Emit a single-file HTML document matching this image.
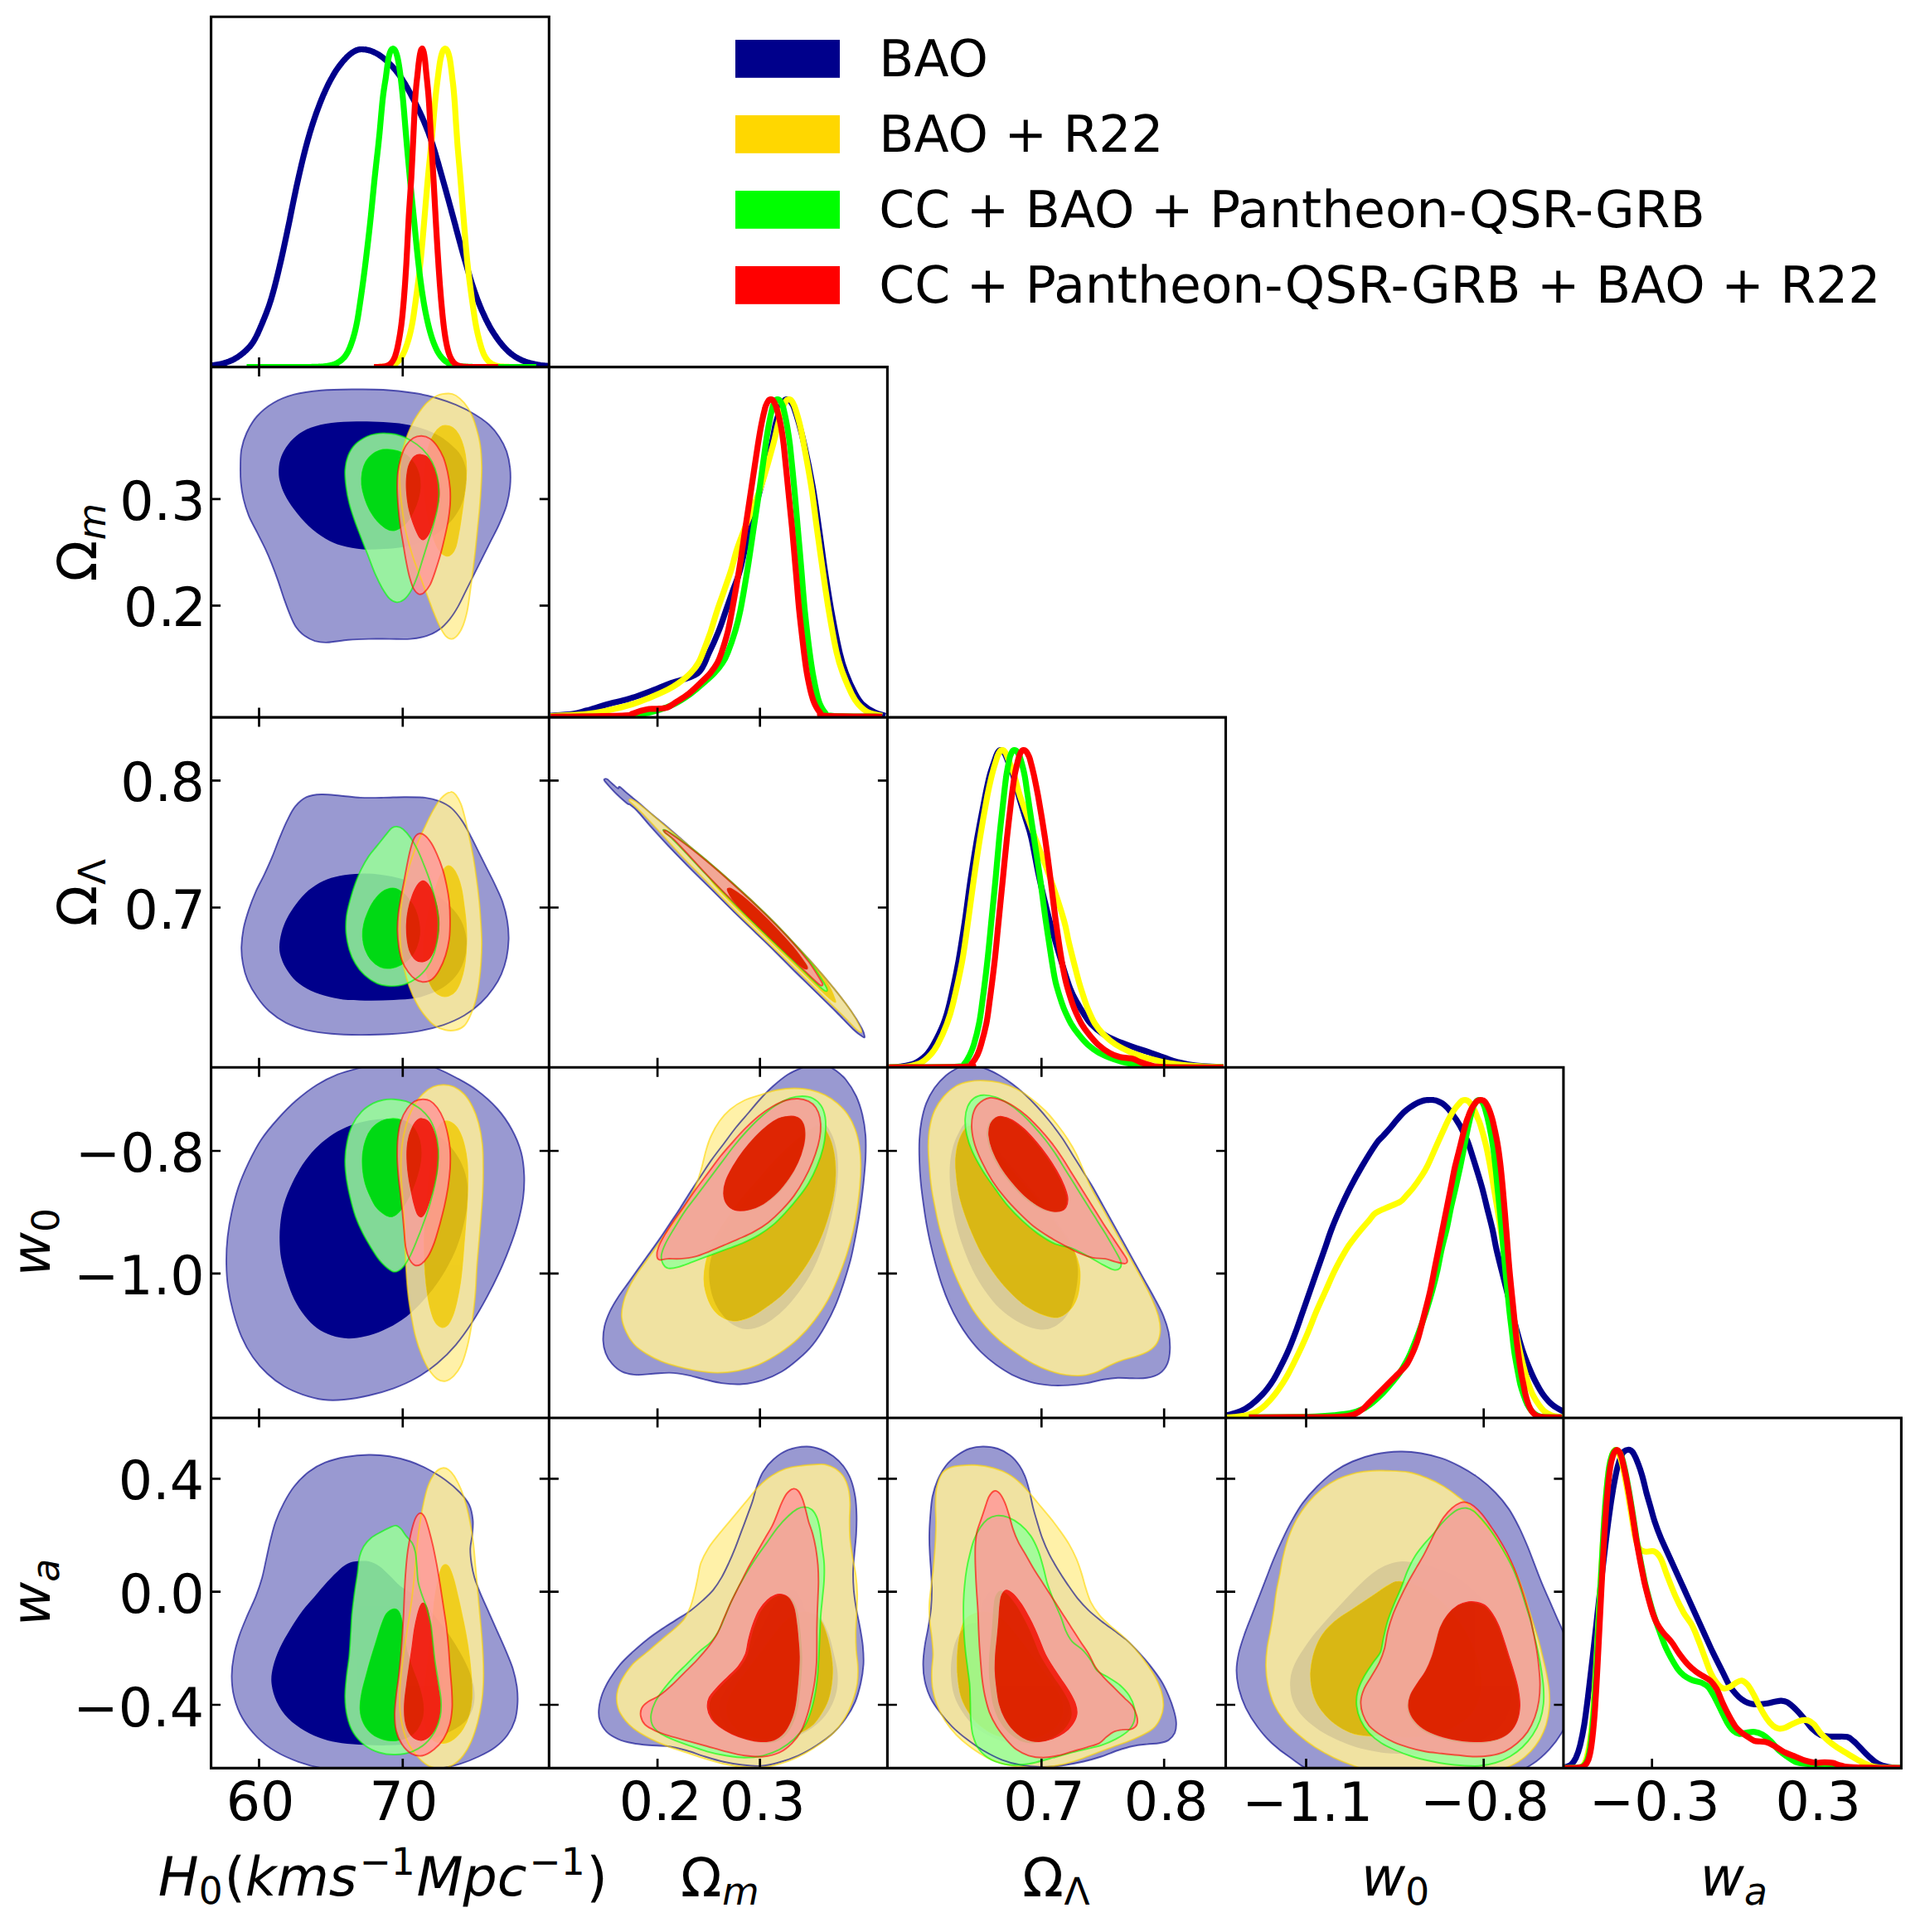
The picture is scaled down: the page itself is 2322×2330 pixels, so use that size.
<!DOCTYPE html>
<html lang="en"><head><meta charset="utf-8"><title>Triangle plot</title>
<style>html,body{margin:0;padding:0;background:#fff}svg{display:block}text{font-family:"DejaVu Sans","Liberation Sans",sans-serif;fill:#000;text-rendering:geometricPrecision}.it{font-style:oblique}</style></head><body>
<svg width="2322" height="2330" viewBox="0 0 2322 2330">
<rect width="2322" height="2330" fill="#fff"/>
<defs>
<clipPath id="cp00"><rect x="254.6" y="20.3" width="407.7" height="422.3"/></clipPath>
<clipPath id="cp10"><rect x="254.6" y="442.6" width="407.7" height="422.5"/></clipPath>
<clipPath id="cp11"><rect x="662.3" y="442.6" width="408.1" height="422.5"/></clipPath>
<clipPath id="cp20"><rect x="254.6" y="865.1" width="407.7" height="422.2"/></clipPath>
<clipPath id="cp21"><rect x="662.3" y="865.1" width="408.1" height="422.2"/></clipPath>
<clipPath id="cp22"><rect x="1070.4" y="865.1" width="408.1" height="422.2"/></clipPath>
<clipPath id="cp30"><rect x="254.6" y="1287.3" width="407.7" height="422.7"/></clipPath>
<clipPath id="cp31"><rect x="662.3" y="1287.3" width="408.1" height="422.7"/></clipPath>
<clipPath id="cp32"><rect x="1070.4" y="1287.3" width="408.1" height="422.7"/></clipPath>
<clipPath id="cp33"><rect x="1478.5" y="1287.3" width="407.4" height="422.7"/></clipPath>
<clipPath id="cp40"><rect x="254.6" y="1710" width="407.7" height="422.4"/></clipPath>
<clipPath id="cp41"><rect x="662.3" y="1710" width="408.1" height="422.4"/></clipPath>
<clipPath id="cp42"><rect x="1070.4" y="1710" width="408.1" height="422.4"/></clipPath>
<clipPath id="cp43"><rect x="1478.5" y="1710" width="407.4" height="422.4"/></clipPath>
<clipPath id="cp44"><rect x="1885.9" y="1710" width="407.5" height="422.4"/></clipPath>
</defs>
<g clip-path="url(#cp00)">
<path d="M252.5 441.1C252.7 441.1 253.5 441 254 441C254.5 440.9 255 440.8 255.5 440.8C256 440.7 256.5 440.7 257 440.6C257.5 440.5 258 440.5 258.5 440.4C259 440.3 259.5 440.2 260 440.2C260.5 440.1 261 440 261.5 439.9C262 439.8 262.5 439.7 263 439.7C263.5 439.6 264 439.5 264.5 439.4C265 439.3 265.5 439.1 266 439C266.5 438.9 267 438.8 267.5 438.7C268 438.6 268.5 438.4 269 438.3C269.5 438.2 270 438 270.5 437.9C271 437.8 271.5 437.6 272 437.4C272.5 437.3 273 437.1 273.5 437C274 436.8 274.5 436.6 275 436.4C275.5 436.2 276 436.1 276.5 435.9C277 435.7 277.5 435.5 278 435.2C278.5 435 279 434.8 279.5 434.6C280 434.3 280.5 434.1 281 433.8C281.5 433.6 282 433.3 282.5 433.1C283 432.8 283.5 432.5 284 432.2C284.5 431.9 285 431.6 285.5 431.3C286 431 286.5 430.7 287 430.4C287.5 430 288 429.7 288.5 429.3C289 429 289.5 428.6 290 428.3C290.5 427.9 291 427.5 291.5 427.1C292 426.7 292.5 426.3 293 425.9C293.5 425.5 294 425.1 294.5 424.6C295 424.2 295.5 423.8 296 423.3C296.5 422.9 297 422.4 297.5 421.9C298 421.4 298.5 421 299 420.4C299.5 419.9 300 419.4 300.5 418.8C301 418.3 301.5 417.7 302 417.1C302.5 416.5 303 415.8 303.5 415.1C304 414.5 304.5 413.7 305 413C305.5 412.2 306 411.4 306.5 410.6C307 409.7 307.5 408.8 308 407.9C308.5 407 309 406 309.5 405C310 404 310.5 403 311 401.9C311.5 400.8 312 399.7 312.5 398.6C313 397.5 313.5 396.3 314 395.1C314.5 394 315 392.8 315.5 391.6C316 390.4 316.5 389.2 317 388C317.5 386.8 318 385.6 318.5 384.4C319 383.2 319.5 381.9 320 380.7C320.5 379.4 321 378.2 321.5 376.9C322 375.5 322.5 374.2 323 372.8C323.5 371.5 324 370.1 324.5 368.6C325 367.1 325.5 365.6 326 364C326.5 362.5 327 360.8 327.5 359.2C328 357.5 328.5 355.8 329 354C329.5 352.2 330 350.4 330.5 348.6C331 346.7 331.5 344.8 332 342.9C332.5 340.9 333 339 333.5 337C334 334.9 334.5 332.9 335 330.8C335.5 328.8 336 326.6 336.5 324.5C337 322.4 337.5 320.3 338 318.1C338.5 315.9 339 313.8 339.5 311.6C340 309.4 340.5 307.1 341 304.9C341.5 302.6 342 300.3 342.5 298C343 295.7 343.5 293.4 344 291C344.5 288.7 345 286.3 345.5 284C346 281.6 346.5 279.2 347 276.8C347.5 274.4 348 272 348.5 269.7C349 267.3 349.5 264.9 350 262.5C350.4 260.1 350.9 257.7 351.4 255.2C351.9 252.8 352.4 250.4 352.9 247.9C353.4 245.5 353.9 243.1 354.4 240.6C354.9 238.2 355.4 235.8 355.9 233.4C356.4 231 356.9 228.6 357.4 226.3C357.9 224 358.4 221.7 358.9 219.4C359.4 217.1 359.9 214.9 360.4 212.7C360.9 210.5 361.4 208.3 361.9 206.2C362.4 204 362.9 201.9 363.4 199.7C363.9 197.6 364.4 195.5 364.9 193.5C365.4 191.4 365.9 189.4 366.4 187.4C366.9 185.4 367.4 183.4 367.9 181.5C368.4 179.5 368.9 177.6 369.4 175.8C369.9 173.9 370.4 172 370.9 170.2C371.4 168.4 371.9 166.7 372.4 164.9C372.9 163.2 373.4 161.5 373.9 159.8C374.4 158.1 374.9 156.5 375.4 154.9C375.9 153.3 376.4 151.7 376.9 150.1C377.4 148.6 377.9 147.1 378.4 145.6C378.9 144.1 379.4 142.6 379.9 141.1C380.4 139.7 380.9 138.2 381.4 136.8C381.9 135.4 382.4 134.1 382.9 132.7C383.4 131.3 383.9 130 384.4 128.7C384.9 127.4 385.4 126.1 385.9 124.8C386.4 123.5 386.9 122.3 387.4 121C387.9 119.8 388.4 118.5 388.9 117.3C389.4 116.1 389.9 114.9 390.4 113.8C390.9 112.6 391.4 111.5 391.9 110.4C392.4 109.2 392.9 108.1 393.4 107.1C393.9 106 394.4 105 394.9 103.9C395.4 102.9 395.9 101.9 396.4 100.9C396.9 99.9 397.4 99 397.9 98C398.4 97.1 398.9 96.1 399.4 95.2C399.9 94.3 400.4 93.4 400.9 92.6C401.4 91.7 401.9 90.8 402.4 90C402.9 89.1 403.4 88.3 403.9 87.5C404.4 86.7 404.9 85.9 405.4 85.2C405.9 84.4 406.4 83.7 406.9 82.9C407.4 82.2 407.9 81.5 408.4 80.8C408.9 80.1 409.4 79.5 409.9 78.8C410.4 78.1 410.9 77.5 411.4 76.9C411.9 76.3 412.4 75.6 412.9 75C413.4 74.4 413.9 73.8 414.4 73.3C414.9 72.7 415.4 72.1 415.9 71.6C416.4 71 416.9 70.5 417.4 70C417.9 69.4 418.4 68.9 418.9 68.4C419.4 68 419.9 67.5 420.4 67C420.9 66.6 421.4 66.1 421.9 65.7C422.4 65.3 422.9 64.9 423.4 64.5C423.9 64.1 424.4 63.8 424.9 63.4C425.4 63.1 425.9 62.8 426.4 62.5C426.9 62.2 427.4 61.9 427.9 61.6C428.4 61.4 428.9 61.2 429.4 60.9C429.9 60.7 430.4 60.5 430.9 60.4C431.4 60.2 431.9 60.1 432.4 59.9C432.9 59.8 433.4 59.7 433.9 59.6C434.4 59.6 435 59.5 435.4 59.5C435.8 59.5 435.9 59.5 436.2 59.5C436.4 59.5 436.5 59.5 436.9 59.5C437.3 59.5 437.9 59.5 438.4 59.6C438.9 59.6 439.4 59.6 439.9 59.7C440.4 59.7 440.9 59.8 441.4 59.9C441.9 60 442.4 60.1 442.9 60.2C443.4 60.3 443.9 60.4 444.4 60.5C444.9 60.6 445.4 60.8 445.9 60.9C446.4 61.1 446.9 61.2 447.4 61.4C447.9 61.6 448.4 61.8 448.9 62C449.4 62.1 449.9 62.4 450.4 62.6C450.9 62.8 451.4 63 451.9 63.3C452.4 63.5 452.9 63.8 453.4 64C453.9 64.3 454.4 64.6 454.9 64.8C455.4 65.1 455.9 65.4 456.4 65.7C456.9 66 457.4 66.4 457.9 66.7C458.4 67 458.9 67.4 459.4 67.7C459.9 68.1 460.4 68.4 460.9 68.8C461.4 69.2 461.9 69.6 462.4 70C462.9 70.4 463.4 70.8 463.9 71.2C464.4 71.6 464.9 72 465.4 72.5C465.9 72.9 466.4 73.4 466.9 73.8C467.4 74.3 467.9 74.7 468.4 75.2C468.9 75.7 469.4 76.2 469.9 76.7C470.4 77.2 470.9 77.7 471.4 78.2C471.9 78.7 472.4 79.3 472.9 79.8C473.4 80.4 473.9 80.9 474.4 81.5C474.9 82.1 475.4 82.6 475.9 83.2C476.4 83.8 476.9 84.4 477.4 85C477.9 85.7 478.4 86.3 478.9 87C479.4 87.6 479.9 88.3 480.4 88.9C480.9 89.6 481.4 90.3 481.9 91C482.4 91.7 482.9 92.4 483.4 93.2C483.9 93.9 484.4 94.7 484.9 95.4C485.4 96.2 485.9 97 486.4 97.8C486.9 98.6 487.4 99.4 487.9 100.2C488.4 101 488.9 101.9 489.4 102.7C489.9 103.6 490.4 104.4 490.9 105.3C491.4 106.2 491.9 107.1 492.4 108C492.9 108.9 493.4 109.8 493.9 110.7C494.4 111.6 494.9 112.6 495.4 113.5C495.9 114.5 496.4 115.4 496.9 116.4C497.4 117.3 497.9 118.3 498.4 119.3C498.9 120.2 499.4 121.2 499.9 122.2C500.4 123.2 500.9 124.2 501.4 125.2C501.9 126.2 502.4 127.2 502.9 128.2C503.4 129.2 503.9 130.2 504.4 131.2C504.9 132.2 505.4 133.3 505.9 134.3C506.4 135.4 506.9 136.5 507.4 137.5C507.9 138.6 508.4 139.7 508.9 140.8C509.4 141.9 509.9 143 510.4 144.2C510.9 145.3 511.4 146.5 511.9 147.7C512.4 148.8 512.9 150 513.4 151.3C513.9 152.5 514.4 153.7 514.9 155C515.4 156.2 515.9 157.5 516.4 158.8C516.9 160.2 517.4 161.5 517.9 162.9C518.4 164.2 518.9 165.6 519.4 167C519.9 168.5 520.4 170 520.9 171.5C521.4 173 521.9 174.5 522.4 176.1C522.9 177.7 523.4 179.3 523.9 180.9C524.4 182.6 524.9 184.3 525.4 185.9C525.9 187.6 526.4 189.3 526.9 191.1C527.4 192.8 527.9 194.5 528.4 196.3C528.9 198 529.4 199.8 529.9 201.6C530.4 203.4 530.9 205.1 531.4 206.9C531.9 208.7 532.4 210.5 532.9 212.2C533.4 214 533.9 215.8 534.4 217.6C534.9 219.3 535.4 221.1 535.9 222.9C536.4 224.7 536.9 226.5 537.4 228.3C537.9 230.1 538.4 231.9 538.9 233.7C539.4 235.5 539.9 237.3 540.4 239.2C540.9 241 541.4 242.8 541.9 244.6C542.4 246.5 542.9 248.3 543.4 250.1C543.9 252 544.4 253.8 544.9 255.7C545.4 257.5 545.9 259.3 546.4 261.2C546.9 263 547.4 264.9 547.9 266.7C548.4 268.6 548.9 270.4 549.4 272.3C549.9 274.1 550.3 276 550.8 277.8C551.3 279.7 551.8 281.6 552.3 283.4C552.8 285.3 553.3 287.1 553.8 288.9C554.3 290.8 554.8 292.6 555.3 294.4C555.8 296.3 556.3 298.1 556.8 299.9C557.3 301.7 557.8 303.5 558.3 305.2C558.8 307 559.3 308.8 559.8 310.5C560.3 312.3 560.8 314 561.3 315.7C561.8 317.4 562.3 319.1 562.8 320.8C563.3 322.5 563.8 324.2 564.3 325.9C564.8 327.6 565.3 329.2 565.8 330.9C566.3 332.5 566.8 334.1 567.3 335.7C567.8 337.3 568.3 338.9 568.8 340.5C569.3 342.1 569.8 343.6 570.3 345.1C570.8 346.7 571.3 348.2 571.8 349.6C572.3 351.1 572.8 352.6 573.3 354C573.8 355.4 574.3 356.8 574.8 358.2C575.3 359.6 575.8 360.9 576.3 362.2C576.8 363.5 577.3 364.8 577.8 366.1C578.3 367.4 578.8 368.6 579.3 369.8C579.8 371 580.3 372.2 580.8 373.4C581.3 374.5 581.8 375.7 582.3 376.8C582.8 377.9 583.3 379 583.8 380.1C584.3 381.2 584.8 382.3 585.3 383.3C585.8 384.3 586.3 385.4 586.8 386.4C587.3 387.4 587.8 388.4 588.3 389.3C588.8 390.3 589.3 391.2 589.8 392.2C590.3 393.1 590.8 394 591.3 394.9C591.8 395.8 592.3 396.7 592.8 397.5C593.3 398.4 593.8 399.2 594.3 400C594.8 400.8 595.3 401.6 595.8 402.4C596.3 403.2 596.8 403.9 597.3 404.7C597.8 405.4 598.3 406.1 598.8 406.9C599.3 407.6 599.8 408.3 600.3 409C600.8 409.7 601.3 410.3 601.8 411C602.3 411.7 602.8 412.3 603.3 412.9C603.8 413.6 604.3 414.2 604.8 414.8C605.3 415.4 605.8 416 606.3 416.6C606.8 417.2 607.3 417.8 607.8 418.3C608.3 418.9 608.8 419.4 609.3 420C609.8 420.5 610.3 421 610.8 421.5C611.3 422 611.8 422.5 612.3 423C612.8 423.5 613.3 423.9 613.8 424.4C614.3 424.8 614.8 425.3 615.3 425.7C615.8 426.1 616.3 426.5 616.8 426.9C617.3 427.3 617.8 427.7 618.3 428C618.8 428.4 619.3 428.8 619.8 429.1C620.3 429.4 620.8 429.8 621.3 430.1C621.8 430.4 622.3 430.7 622.8 431C623.3 431.3 623.8 431.6 624.3 431.9C624.8 432.2 625.3 432.4 625.8 432.7C626.3 432.9 626.8 433.2 627.3 433.4C627.8 433.7 628.3 433.9 628.8 434.1C629.3 434.4 629.8 434.6 630.3 434.8C630.8 435 631.3 435.2 631.8 435.4C632.3 435.6 632.8 435.8 633.3 436C633.8 436.1 634.3 436.3 634.8 436.5C635.3 436.7 635.8 436.8 636.3 437C636.8 437.1 637.3 437.3 637.8 437.4C638.3 437.6 638.8 437.7 639.3 437.9C639.8 438 640.3 438.1 640.8 438.2C641.3 438.4 641.8 438.5 642.3 438.6C642.8 438.7 643.3 438.8 643.8 438.9C644.3 439.1 644.8 439.2 645.3 439.3C645.8 439.4 646.3 439.4 646.8 439.5C647.3 439.6 647.8 439.7 648.3 439.8C648.8 439.9 649.3 440 649.8 440C650.3 440.1 650.8 440.2 651.3 440.3C651.8 440.3 652.3 440.4 652.8 440.5C653.3 440.5 653.8 440.6 654.3 440.7C654.8 440.7 655.3 440.8 655.8 440.8C656.3 440.9 656.8 440.9 657.3 441C657.8 441 658.3 441.1 658.8 441.1C659.3 441.2 659.8 441.2 660.3 441.3C660.8 441.3 661.3 441.3 661.8 441.4C662.3 441.4 662.8 441.5 663.3 441.5C663.8 441.5 664.5 441.6 664.8 441.6" fill="none" stroke="#00008B" stroke-width="7.2" stroke-linejoin="round" stroke-linecap="butt"/>
<path d="M451.1 442.5C451.4 442.5 452.1 442.5 452.6 442.5C453.1 442.5 453.6 442.5 454.1 442.5C454.6 442.5 455.1 442.5 455.6 442.5C456.1 442.5 456.6 442.4 457.1 442.4C457.6 442.4 458.1 442.4 458.6 442.4C459.1 442.4 459.6 442.4 460.1 442.3C460.6 442.3 461.1 442.3 461.6 442.3C462.1 442.2 462.6 442.2 463.1 442.2C463.6 442.1 464.1 442.1 464.6 442.1C465.1 442 465.6 442 466.1 441.9C466.6 441.8 467.1 441.8 467.6 441.7C468.1 441.6 468.6 441.5 469.1 441.4C469.6 441.3 470.1 441.2 470.6 441.1C471.1 441 471.6 440.9 472.1 440.7C472.6 440.5 473.1 440.4 473.6 440.2C474.1 440 474.6 439.8 475.1 439.5C475.6 439.3 476.1 439 476.6 438.7C477.1 438.4 477.6 438.1 478.1 437.7C478.6 437.3 479.1 436.9 479.6 436.4C480.1 436 480.6 435.5 481.1 434.9C481.6 434.3 482.1 433.7 482.6 433.1C483.1 432.4 483.6 431.7 484.1 430.9C484.6 430 485.1 429.2 485.6 428.3C486.1 427.3 486.6 426.3 487.1 425.2C487.6 424.2 488.1 423 488.6 421.8C489.1 420.5 489.6 419.2 490.1 417.8C490.6 416.3 491.1 414.8 491.6 413.2C492.1 411.6 492.6 410 493.1 408.2C493.6 406.4 494.1 404.6 494.6 402.6C495.1 400.5 495.6 398.4 496.1 396.1C496.6 393.7 497.1 391.3 497.6 388.4C498.1 385.6 498.6 382.4 499.1 379.1C499.6 375.7 500.1 372 500.6 368.4C501.1 364.9 501.6 361.3 502.1 357.6C502.6 353.9 503.1 350.3 503.6 346.5C504.1 342.7 504.6 338.9 505.1 334.8C505.6 330.7 506.1 326.5 506.6 321.9C507.1 317.3 507.6 312.5 508.1 307.3C508.6 302.2 509.1 296.6 509.6 291C510.1 285.4 510.6 279.4 511.1 273.6C511.6 267.8 512.1 262 512.6 256C513.1 250.1 513.6 244 514.1 238.1C514.6 232.1 515.1 226.1 515.6 220.5C516.1 214.9 516.6 209.5 517.1 204.4C517.6 199.3 518.1 194.6 518.6 189.8C519.1 184.9 519.6 180.3 520.1 175.3C520.6 170.2 521.1 165 521.6 159.4C522.1 153.9 522.6 147.8 523.1 142.1C523.6 136.4 524.1 130.4 524.6 125.1C525.1 119.8 525.6 114.9 526.1 110.3C526.6 105.8 527.1 101.8 527.6 97.8C528.1 93.7 528.6 89.8 529.1 86.1C529.6 82.4 530.1 78.5 530.6 75.4C531.1 72.4 531.6 69.9 532.1 67.8C532.6 65.7 533.1 64 533.6 62.7C534.1 61.4 534.6 60.5 535.1 59.8C535.6 59.1 536.3 58.9 536.6 58.7C536.9 58.6 536.6 58.7 536.9 58.7C537.1 58.8 537.6 58.7 538.1 59.1C538.6 59.5 539.1 60 539.6 61C540.1 62 540.6 63.2 541.1 64.9C541.6 66.6 542.1 68.5 542.6 71.2C543.1 74 543.6 77.7 544.1 81.6C544.6 85.4 545.1 89.9 545.6 94.1C546.1 98.4 546.6 101.9 547.1 107.1C547.6 112.2 548.1 117.9 548.6 124.9C549.1 132 549.6 141.7 550.1 149.4C550.6 157.2 551.1 164.9 551.6 171.5C552.1 178.2 552.6 183.5 553.1 189.3C553.6 195 554.1 200.2 554.6 206C555.1 211.8 555.6 218 556.1 224.2C556.6 230.4 557.1 236.8 557.6 243C558.1 249.3 558.6 255.6 559.1 261.8C559.6 268 560.1 274.3 560.6 280.4C561.1 286.5 561.6 292.8 562.1 298.6C562.6 304.3 563.1 309.8 563.6 314.9C564.1 319.9 564.6 324.4 565.1 328.7C565.6 333.1 566.1 337 566.6 340.9C567.1 344.8 567.6 348.5 568.1 352.2C568.6 355.9 569.1 359.4 569.6 363C570.1 366.6 570.6 370.3 571.1 373.8C571.6 377.2 572.1 380.7 572.6 383.8C573.1 387 573.6 389.9 574.1 392.5C574.6 395.2 575.1 397.6 575.6 399.9C576.1 402.2 576.6 404.3 577.1 406.3C577.6 408.4 578.1 410.3 578.6 412.1C579.1 414 579.6 415.7 580.1 417.4C580.6 419.1 581.1 420.7 581.6 422.2C582.1 423.6 582.6 425 583.1 426.2C583.6 427.4 584.1 428.3 584.6 429.3C585.1 430.2 585.6 431 586.1 431.8C586.6 432.5 587.1 433.2 587.6 433.8C588.1 434.4 588.6 435 589.1 435.5C589.6 436 590.1 436.5 590.6 436.9C591.1 437.3 591.6 437.7 592.1 438C592.6 438.4 593.1 438.7 593.6 439C594.1 439.3 594.6 439.5 595.1 439.7C595.6 440 596.1 440.2 596.6 440.4C597.1 440.5 597.6 440.7 598.1 440.8C598.6 441 599.1 441.1 599.6 441.2C600.1 441.3 600.6 441.4 601.1 441.5C601.6 441.6 602.1 441.7 602.6 441.8C603.1 441.8 603.6 441.9 604.1 442C604.6 442 605.1 442.1 605.6 442.1C606.1 442.1 606.6 442.2 607.1 442.2C607.6 442.2 608.1 442.3 608.6 442.3C609.1 442.3 609.6 442.3 610.1 442.4C610.6 442.4 611.1 442.4 611.6 442.4C612.1 442.4 612.6 442.4 613.1 442.4C613.6 442.5 614.1 442.5 614.6 442.5C615.1 442.5 615.6 442.5 616.1 442.5C616.6 442.5 617.1 442.5 617.6 442.5C618.1 442.5 618.6 442.5 619.1 442.5C619.6 442.5 620.1 442.5 620.6 442.5C621.1 442.5 621.6 442.5 622.1 442.5C622.6 442.5 623.3 442.5 623.6 442.5" fill="none" stroke="#FFFF00" stroke-width="7.2" stroke-linejoin="round" stroke-linecap="butt"/>
<path d="M297.5 442.5C297.7 442.5 298.5 442.5 299 442.5C299.5 442.5 300 442.5 300.5 442.5C301 442.5 301.5 442.5 302 442.5C302.5 442.5 303 442.5 303.5 442.5C304 442.5 304.5 442.5 305 442.5C305.5 442.5 306 442.5 306.5 442.5C307 442.5 307.5 442.5 308 442.5C308.5 442.5 309 442.5 309.5 442.5C310 442.5 310.5 442.5 311 442.5C311.5 442.5 312 442.5 312.5 442.5C313 442.5 313.5 442.5 314 442.5C314.5 442.5 315 442.5 315.5 442.5C316 442.5 316.5 442.5 317 442.5C317.5 442.5 318 442.5 318.5 442.5C319 442.5 319.5 442.5 320 442.5C320.5 442.5 321 442.5 321.5 442.5C322 442.5 322.5 442.5 323 442.5C323.5 442.5 324 442.5 324.5 442.5C325 442.5 325.5 442.5 326 442.5C326.5 442.5 327 442.5 327.5 442.5C328 442.5 328.5 442.5 329 442.5C329.5 442.5 330 442.5 330.5 442.5C331 442.5 331.5 442.5 332 442.5C332.5 442.5 333 442.5 333.5 442.5C334 442.5 334.5 442.5 335 442.5C335.5 442.5 336 442.5 336.5 442.5C337 442.5 337.5 442.5 338 442.5C338.5 442.5 339 442.5 339.5 442.5C340 442.5 340.5 442.5 341 442.5C341.5 442.5 342 442.5 342.5 442.5C343 442.5 343.5 442.5 344 442.5C344.5 442.5 345 442.5 345.5 442.5C346 442.5 346.5 442.5 347 442.5C347.5 442.5 348 442.5 348.5 442.5C349 442.5 349.5 442.5 350 442.5C350.4 442.5 350.9 442.5 351.4 442.5C351.9 442.5 352.4 442.5 352.9 442.5C353.4 442.5 353.9 442.5 354.4 442.5C354.9 442.5 355.4 442.5 355.9 442.5C356.4 442.5 356.9 442.5 357.4 442.5C357.9 442.5 358.4 442.5 358.9 442.5C359.4 442.5 359.9 442.5 360.4 442.5C360.9 442.5 361.4 442.5 361.9 442.5C362.4 442.5 362.9 442.5 363.4 442.5C363.9 442.5 364.4 442.5 364.9 442.5C365.4 442.5 365.9 442.5 366.4 442.5C366.9 442.5 367.4 442.5 367.9 442.5C368.4 442.5 368.9 442.5 369.4 442.5C369.9 442.5 370.4 442.5 370.9 442.5C371.4 442.5 371.9 442.5 372.4 442.5C372.9 442.5 373.4 442.5 373.9 442.5C374.4 442.5 374.9 442.5 375.4 442.5C375.9 442.5 376.4 442.4 376.9 442.4C377.4 442.4 377.9 442.4 378.4 442.4C378.9 442.4 379.4 442.4 379.9 442.4C380.4 442.4 380.9 442.4 381.4 442.3C381.9 442.3 382.4 442.3 382.9 442.3C383.4 442.3 383.9 442.3 384.4 442.2C384.9 442.2 385.4 442.2 385.9 442.2C386.4 442.1 386.9 442.1 387.4 442.1C387.9 442.1 388.4 442 388.9 442C389.4 441.9 389.9 441.9 390.4 441.9C390.9 441.8 391.4 441.8 391.9 441.7C392.4 441.7 392.9 441.6 393.4 441.5C393.9 441.5 394.4 441.4 394.9 441.3C395.4 441.3 395.9 441.2 396.4 441.1C396.9 441 397.4 440.9 397.9 440.8C398.4 440.7 398.9 440.6 399.4 440.4C399.9 440.3 400.4 440.2 400.9 440C401.4 439.9 401.9 439.7 402.4 439.5C402.9 439.4 403.4 439.2 403.9 439C404.4 438.8 404.9 438.6 405.4 438.3C405.9 438.1 406.4 437.8 406.9 437.6C407.4 437.3 407.9 437 408.4 436.7C408.9 436.4 409.4 436.1 409.9 435.7C410.4 435.4 410.9 435 411.4 434.6C411.9 434.2 412.4 433.8 412.9 433.3C413.4 432.8 413.9 432.3 414.4 431.8C414.9 431.3 415.4 430.7 415.9 430.1C416.4 429.5 416.9 428.8 417.4 428C417.9 427.3 418.4 426.5 418.9 425.6C419.4 424.8 419.9 423.8 420.4 422.7C420.9 421.7 421.4 420.6 421.9 419.4C422.4 418.1 422.9 416.9 423.4 415.5C423.9 414.1 424.4 412.7 424.9 411.2C425.4 409.6 425.9 408.1 426.4 406.3C426.9 404.6 427.4 402.8 427.9 400.9C428.4 398.9 428.9 396.9 429.4 394.6C429.9 392.3 430.4 389.9 430.9 387.2C431.4 384.5 431.9 381.4 432.4 378.2C432.9 375 433.4 371.6 433.9 368.2C434.4 364.8 434.9 361.5 435.4 358C435.9 354.6 436.4 351.1 436.9 347.5C437.4 343.9 437.9 340.2 438.4 336.5C438.9 332.7 439.4 328.9 439.9 324.9C440.4 321 440.9 316.9 441.4 312.8C441.9 308.7 442.4 304.5 442.9 300.3C443.4 296.1 443.9 291.8 444.4 287.5C444.9 283.1 445.4 278.7 445.9 274.2C446.4 269.6 446.9 264.9 447.4 260.1C447.9 255.2 448.4 250.2 448.9 245.1C449.4 240.1 449.9 234.9 450.4 229.8C450.9 224.8 451.4 219.7 451.9 214.9C452.4 210.1 452.9 205.6 453.4 201.1C453.9 196.6 454.4 192.4 454.9 188C455.4 183.5 455.9 179.2 456.4 174.5C456.9 169.8 457.4 165 457.9 159.8C458.4 154.5 458.9 148.5 459.4 143C459.9 137.5 460.4 131.6 460.9 126.6C461.4 121.6 461.9 116.9 462.4 113C462.9 109 463.4 106.1 463.9 102.8C464.4 99.6 464.9 96.9 465.4 93.4C465.9 89.9 466.4 85.7 466.9 82C467.4 78.3 467.9 74.1 468.4 71.3C468.9 68.4 469.4 66.6 469.9 64.9C470.4 63.2 470.9 62 471.4 61C471.9 60 472.4 59.5 472.9 59.1C473.3 58.7 473.9 58.8 474.1 58.7C474.4 58.7 474.1 58.6 474.4 58.7C474.7 58.9 475.4 59.1 475.9 59.7C476.4 60.3 476.9 61.2 477.4 62.4C477.9 63.6 478.4 65.1 478.9 67C479.4 68.8 479.9 71 480.4 73.6C480.9 76.2 481.4 79.3 481.9 82.7C482.4 86 482.9 89.8 483.4 94C483.9 98.1 484.4 102.6 484.9 107.5C485.4 112.3 485.9 117.5 486.4 123C486.9 128.5 487.4 134.7 487.9 140.7C488.4 146.7 488.9 153 489.4 159C489.9 165 490.4 170.8 490.9 176.5C491.4 182.2 491.9 187.7 492.4 193.2C492.9 198.8 493.4 204.2 493.9 209.5C494.4 214.9 494.9 220.2 495.4 225.3C495.9 230.4 496.4 235.3 496.9 240.2C497.4 245.1 497.9 249.9 498.4 254.9C498.9 259.8 499.4 264.9 499.9 270C500.4 275.1 500.9 280.4 501.4 285.6C501.9 290.7 502.4 295.9 502.9 300.8C503.4 305.7 503.9 310.4 504.4 314.9C504.9 319.3 505.4 323.6 505.9 327.7C506.4 331.8 506.9 335.7 507.4 339.5C507.9 343.3 508.4 346.9 508.9 350.4C509.4 353.8 509.9 357.1 510.4 360.2C510.9 363.4 511.4 366.3 511.9 369.2C512.4 372 512.9 374.6 513.4 377.1C513.9 379.6 514.4 382 514.9 384.3C515.4 386.6 515.9 388.8 516.4 390.9C516.9 393 517.4 394.9 517.9 396.8C518.4 398.7 518.9 400.5 519.4 402.2C519.9 404 520.4 405.6 520.9 407.1C521.4 408.7 521.9 410.1 522.4 411.5C522.9 412.9 523.4 414.2 523.9 415.4C524.4 416.7 524.9 417.8 525.4 418.9C525.9 420.1 526.4 421.1 526.9 422.1C527.4 423.1 527.9 424 528.4 424.9C528.9 425.7 529.4 426.5 529.9 427.3C530.4 428.1 530.9 428.8 531.4 429.4C531.9 430.1 532.4 430.7 532.9 431.3C533.4 431.9 533.9 432.4 534.4 432.9C534.9 433.4 535.4 433.9 535.9 434.4C536.4 434.8 536.9 435.2 537.4 435.6C537.9 436 538.4 436.3 538.9 436.7C539.4 437 539.9 437.3 540.4 437.6C540.9 437.9 541.4 438.1 541.9 438.4C542.4 438.6 542.9 438.8 543.4 439.1C543.9 439.3 544.4 439.5 544.9 439.6C545.4 439.8 545.9 440 546.4 440.1C546.9 440.3 547.4 440.4 547.9 440.5C548.4 440.7 548.9 440.8 549.4 440.9C549.9 441 550.3 441.1 550.8 441.2C551.3 441.3 551.8 441.3 552.3 441.4C552.8 441.5 553.3 441.6 553.8 441.6C554.3 441.7 554.8 441.7 555.3 441.8C555.8 441.8 556.3 441.9 556.8 441.9C557.3 442 557.8 442 558.3 442C558.8 442.1 559.3 442.1 559.8 442.1C560.3 442.2 560.8 442.2 561.3 442.2C561.8 442.2 562.3 442.3 562.8 442.3C563.3 442.3 563.8 442.3 564.3 442.3C564.8 442.3 565.3 442.4 565.8 442.4C566.3 442.4 566.8 442.4 567.3 442.4C567.8 442.4 568.3 442.4 568.8 442.4C569.3 442.4 569.8 442.5 570.3 442.5C570.8 442.5 571.3 442.5 571.8 442.5C572.3 442.5 572.8 442.5 573.3 442.5C573.8 442.5 574.3 442.5 574.8 442.5C575.3 442.5 575.8 442.5 576.3 442.5C576.8 442.5 577.3 442.5 577.8 442.5C578.3 442.5 578.8 442.5 579.3 442.5C579.8 442.5 580.3 442.5 580.8 442.5C581.3 442.5 581.8 442.5 582.3 442.5C582.8 442.5 583.3 442.5 583.8 442.5C584.3 442.5 584.8 442.5 585.3 442.5C585.8 442.5 586.3 442.5 586.8 442.5C587.3 442.5 587.8 442.5 588.3 442.5C588.8 442.5 589.3 442.5 589.8 442.5C590.3 442.5 590.8 442.5 591.3 442.5C591.8 442.5 592.3 442.5 592.8 442.5C593.3 442.5 593.8 442.5 594.3 442.5C594.8 442.5 595.3 442.5 595.8 442.5C596.3 442.5 596.8 442.5 597.3 442.5C597.8 442.5 598.3 442.5 598.8 442.5C599.3 442.5 599.8 442.5 600.3 442.5C600.8 442.5 601.3 442.5 601.8 442.5C602.3 442.5 602.8 442.5 603.3 442.5C603.8 442.5 604.3 442.5 604.8 442.5C605.3 442.5 605.8 442.5 606.3 442.5C606.8 442.5 607.3 442.5 607.8 442.5C608.3 442.5 608.8 442.5 609.3 442.5C609.8 442.5 610.3 442.5 610.8 442.5C611.3 442.5 611.8 442.5 612.3 442.5C612.8 442.5 613.3 442.5 613.8 442.5C614.3 442.5 614.8 442.5 615.3 442.5C615.8 442.5 616.3 442.5 616.8 442.5C617.3 442.5 617.8 442.5 618.3 442.5C618.8 442.5 619.3 442.5 619.8 442.5C620.3 442.5 620.8 442.5 621.3 442.5C621.8 442.5 622.3 442.5 622.8 442.5C623.3 442.5 623.8 442.5 624.3 442.5C624.8 442.5 625.3 442.5 625.8 442.5C626.3 442.5 626.8 442.5 627.3 442.5C627.8 442.5 628.3 442.5 628.8 442.5C629.3 442.5 629.8 442.5 630.3 442.5C630.8 442.5 631.3 442.5 631.8 442.5C632.3 442.5 632.8 442.5 633.3 442.5C633.8 442.5 634.3 442.5 634.8 442.5C635.3 442.5 635.8 442.5 636.3 442.5C636.8 442.5 637.3 442.5 637.8 442.5C638.3 442.5 638.8 442.5 639.3 442.5C639.8 442.5 640.3 442.5 640.8 442.5C641.3 442.5 641.8 442.5 642.3 442.5C642.8 442.5 643.3 442.5 643.8 442.5C644.3 442.5 644.8 442.5 645.3 442.5C645.8 442.5 646.6 442.5 646.8 442.5" fill="none" stroke="#00FF00" stroke-width="7.2" stroke-linejoin="round" stroke-linecap="butt"/>
<path d="M451.1 442.5C451.4 442.5 452.1 442.5 452.6 442.5C453.1 442.5 453.6 442.5 454.1 442.5C454.6 442.5 455.1 442.5 455.6 442.5C456.1 442.5 456.6 442.5 457.1 442.5C457.6 442.4 458.1 442.4 458.6 442.4C459.1 442.4 459.6 442.4 460.1 442.3C460.6 442.3 461.1 442.3 461.6 442.2C462.1 442.2 462.6 442.1 463.1 442C463.6 442 464.1 441.9 464.6 441.8C465.1 441.7 465.6 441.6 466.1 441.4C466.6 441.3 467.1 441.1 467.6 440.9C468.1 440.7 468.6 440.4 469.1 440.1C469.6 439.8 470.1 439.5 470.6 439.1C471.1 438.6 471.6 438.2 472.1 437.6C472.6 437 473.1 436.4 473.6 435.6C474.1 434.8 474.6 434 475.1 433C475.6 431.9 476.1 430.8 476.6 429.5C477.1 428.1 477.6 426.6 478.1 424.7C478.6 422.9 479.1 420.7 479.6 418.4C480.1 416.1 480.6 413.6 481.1 410.9C481.6 408.2 482.1 405.5 482.6 402.3C483.1 399.1 483.6 395.8 484.1 391.8C484.6 387.8 485.1 383.4 485.6 378.4C486.1 373.4 486.6 367.9 487.1 361.9C487.6 355.8 488.1 349.4 488.6 342.3C489.1 335.2 489.6 327.8 490.1 319.1C490.6 310.4 491.1 299.8 491.6 290.1C492.1 280.3 492.6 269.2 493.1 260.6C493.6 251.9 494.1 245.7 494.6 238.1C495.1 230.5 495.6 223.6 496.1 214.9C496.6 206.2 497.1 195.7 497.6 185.6C498.1 175.5 498.6 164.7 499.1 154.2C499.6 143.7 500.1 131.2 500.6 122.8C501.1 114.4 501.6 109.1 502.1 103.7C502.6 98.2 503.1 94.6 503.6 90C504.1 85.3 504.6 79.8 505.1 75.8C505.6 71.7 506.1 68.1 506.6 65.4C507.1 62.8 507.7 60.9 508.1 59.8C508.5 58.7 508.9 58.9 509.1 58.7C509.4 58.6 509.3 58.3 509.6 59C510 59.6 510.6 60.7 511.1 62.8C511.6 65 512.1 67.8 512.6 71.9C513.1 76 513.6 82.3 514.1 87.3C514.6 92.3 515.1 96.7 515.6 101.8C516.1 107 516.6 111.5 517.1 118.3C517.6 125.1 518.1 134.1 518.6 142.6C519.1 151.1 519.6 160.6 520.1 169.2C520.6 177.7 521.1 185.4 521.6 193.8C522.1 202.1 522.6 210.5 523.1 219.3C523.6 228.2 524.1 237.7 524.6 246.8C525.1 255.8 525.6 265 526.1 273.7C526.6 282.4 527.1 290.9 527.6 299C528.1 307.1 528.6 315 529.1 322.4C529.6 329.8 530.1 336.8 530.6 343.4C531.1 350 531.6 356.2 532.1 362C532.6 367.8 533.1 373.2 533.6 378.2C534.1 383.2 534.6 387.8 535.1 391.9C535.6 396.1 536.1 399.8 536.6 403.1C537.1 406.5 537.6 409.5 538.1 412.2C538.6 414.9 539.1 417.3 539.6 419.4C540.1 421.5 540.6 423.3 541.1 425C541.6 426.6 542.1 428 542.6 429.3C543.1 430.6 543.6 431.6 544.1 432.6C544.6 433.5 545.1 434.3 545.6 435.1C546.1 435.8 546.6 436.4 547.1 437C547.6 437.6 548.1 438.1 548.6 438.5C549.1 438.9 549.6 439.3 550.1 439.6C550.6 440 551.1 440.2 551.6 440.5C552.1 440.7 552.6 440.9 553.1 441.1C553.6 441.2 554.1 441.4 554.6 441.5C555.1 441.6 555.6 441.7 556.1 441.8C556.6 441.9 557.1 442 557.6 442.1C558.1 442.1 558.6 442.2 559.1 442.2C559.6 442.3 560.1 442.3 560.6 442.3C561.1 442.4 561.6 442.4 562.1 442.4C562.6 442.4 563.1 442.4 563.6 442.4C564.1 442.5 564.6 442.5 565.1 442.5C565.6 442.5 566.1 442.5 566.6 442.5C567.1 442.5 567.6 442.5 568.1 442.5C568.6 442.5 569.1 442.5 569.6 442.5C570.1 442.5 570.6 442.5 571.1 442.5C571.6 442.5 572.1 442.5 572.6 442.5C573.1 442.5 573.6 442.5 574.1 442.5C574.6 442.5 575.1 442.5 575.6 442.5C576.1 442.5 576.6 442.5 577.1 442.5C577.6 442.5 578.1 442.5 578.6 442.5C579.1 442.5 579.6 442.5 580.1 442.5C580.6 442.5 581.1 442.5 581.6 442.5C582.1 442.5 582.6 442.5 583.1 442.5C583.6 442.5 584.1 442.5 584.6 442.5C585.1 442.5 585.6 442.5 586.1 442.5C586.6 442.5 587.1 442.5 587.6 442.5C588.1 442.5 588.6 442.5 589.1 442.5C589.6 442.5 590.1 442.5 590.6 442.5C591.1 442.5 591.6 442.5 592.1 442.5C592.6 442.5 593.1 442.5 593.6 442.5C594.1 442.5 594.6 442.5 595.1 442.5C595.6 442.5 596.1 442.5 596.6 442.5C597.1 442.5 597.6 442.5 598.1 442.5C598.6 442.5 599.1 442.5 599.6 442.5C600.1 442.5 600.8 442.5 601.1 442.5" fill="none" stroke="#FF0000" stroke-width="7.2" stroke-linejoin="round" stroke-linecap="butt"/>
</g>
<g clip-path="url(#cp10)">
<path d="M290 561.9C290.1 555.3 290 548.6 291.2 541.9C292.5 535.3 294.4 528.6 297.5 522C300.6 515.3 304.6 508 310 502C315.4 495.9 322.5 490.1 330 485.7C337.5 481.4 345.4 478.2 354.9 475.7C364.5 473.2 375.8 471.8 387.4 470.7C399.1 469.7 412.4 469.6 424.9 469.5C437.4 469.4 449.9 469.2 462.4 470C474.9 470.7 489.5 472.4 499.9 474C510.3 475.6 516.5 477.1 524.9 479.5C533.2 481.9 541.9 484.9 549.9 488.2C557.8 491.6 565.7 495.5 572.3 499.5C579 503.4 584.8 507.4 589.8 512C594.8 516.5 598.8 521.5 602.3 527C605.9 532.4 608.9 538.2 611.1 544.4C613.2 550.7 614.6 557.4 615.3 564.4C616 571.5 616 579.4 615.3 586.9C614.6 594.4 613.2 601.9 611.1 609.4C608.9 616.9 605.4 624.8 602.3 631.9C599.2 639 595.7 645.2 592.3 651.9C589 658.6 585.7 665.2 582.3 671.9C579 678.5 575.7 685.2 572.3 691.9C569 698.5 565.7 705.2 562.3 711.9C559 718.5 555.7 726 552.3 731.9C549 737.7 546.1 742.3 542.4 746.8C538.6 751.4 534.4 756 529.9 759.3C525.3 762.7 520.7 765 514.9 766.8C509 768.7 502.4 770 494.9 770.6C487.4 771.2 478.2 770.6 469.9 770.6C461.6 770.6 453.2 770.4 444.9 770.6C436.6 770.8 428.2 771.1 419.9 771.8C411.6 772.5 401.6 774.6 394.9 774.8C388.3 775 384.5 774.4 379.9 773.1C375.4 771.7 371.2 769.5 367.4 766.8C363.7 764.1 360.4 761 357.4 756.8C354.5 752.7 352.4 747.7 350 741.8C347.5 736 345 728.9 342.5 721.9C340 714.8 337.5 706.4 335 699.4C332.5 692.3 330 685.6 327.5 679.4C325 673.1 322.9 668.1 320 661.9C317 655.6 313.3 648.6 310 641.9C306.6 635.2 302.7 628.6 300 621.9C297.3 615.2 295.3 608.6 293.7 601.9C292.1 595.3 291.1 588.6 290.5 581.9C289.9 575.3 289.9 568.6 290 561.9Z" fill="#9999D1"/>
<path d="M336.2 569.4C336.2 564.9 336.5 559.4 338 554.4C339.4 549.4 341.7 544.2 345 539.4C348.2 534.7 352.4 529.7 357.4 525.7C362.4 521.7 367.9 518.3 374.9 515.7C382 513.1 390.8 511.2 399.9 510C409.1 508.7 419.5 508.4 429.9 508.2C440.3 508 452.8 508.4 462.4 509C472 509.5 479.5 510.1 487.4 511.5C495.3 512.8 502.8 514.6 509.9 517C516.9 519.3 524 522.4 529.9 525.7C535.7 529 540.5 533 544.9 537C549.2 540.9 553.2 544.4 556.1 549.4C559 554.4 561.3 560.7 562.3 566.9C563.4 573.2 563.2 580.3 562.3 586.9C561.5 593.6 559.8 600.7 557.3 606.9C554.8 613.2 551.5 619 547.4 624.4C543.2 629.8 538.2 634.8 532.4 639.4C526.5 644 519.9 648.6 512.4 651.9C504.9 655.2 495.7 657.7 487.4 659.4C479.1 661.1 470.7 661.4 462.4 661.9C454.1 662.4 445.7 663 437.4 662.4C429.1 661.8 419.9 660.3 412.4 658.1C404.9 656 399.1 653.4 392.4 649.4C385.8 645.4 378.7 640.2 372.4 634.4C366.2 628.6 359.7 620.7 354.9 614.4C350.2 608.2 346.5 602.3 343.7 596.9C340.9 591.5 339.2 586.5 338 581.9C336.7 577.3 336.2 574 336.2 569.4Z" fill="#00008B"/>
<path d="M541.1 474.5C544.9 474.5 546.7 475.1 549.9 477C553 478.9 556.7 482 559.8 485.7C563 489.5 566.1 494.3 568.6 499.5C571.1 504.7 573 510.7 574.8 517C576.6 523.2 578.3 529.5 579.3 537C580.4 544.4 580.9 553.6 581.1 561.9C581.3 570.3 580.8 578.6 580.3 586.9C579.9 595.3 579.3 603.6 578.6 611.9C577.9 620.2 576.9 628.6 576.1 636.9C575.3 645.2 574.5 653.6 573.6 661.9C572.7 670.2 571.6 678.5 570.6 686.9C569.5 695.2 568.5 703.5 567.3 711.9C566.2 720.2 565.1 729.8 563.6 736.9C562.1 743.9 560.5 749.6 558.6 754.3C556.7 759.1 554.6 762.9 552.3 765.6C550.1 768.3 547.4 770.4 544.9 770.6C542.4 770.8 539.9 769.5 537.4 766.8C534.9 764.1 532.4 759.3 529.9 754.3C527.4 749.3 524.9 743.1 522.4 736.9C519.9 730.6 517.4 723.5 514.9 716.9C512.4 710.2 509.9 703.5 507.4 696.9C504.9 690.2 502.2 683.5 499.9 676.9C497.6 670.2 495.5 663.6 493.6 656.9C491.8 650.2 490.1 644.4 488.6 636.9C487.2 629.4 485.9 620.2 484.9 611.9C483.8 603.6 482.8 595.3 482.4 586.9C482 578.6 481.8 569.4 482.4 561.9C483 554.4 484.5 548.6 486.1 541.9C487.8 535.3 489.7 528.6 492.4 522C495.1 515.3 498.6 508 502.4 502C506.1 495.9 510.7 489.9 514.9 485.7C519 481.6 523 478.9 527.4 477C531.7 475.1 537.4 474.5 541.1 474.5ZM537.4 513.2C539.9 513.3 543.4 513.8 546.1 515.7C548.8 517.6 551.4 520.5 553.6 524.5C555.8 528.4 557.9 534 559.3 539.4C560.8 544.9 561.8 550.7 562.3 556.9C562.8 563.2 562.8 569.9 562.3 576.9C561.9 584 560.8 591.9 559.8 599.4C558.9 606.9 557.9 614.8 556.8 621.9C555.8 629 554.8 635.7 553.6 641.9C552.4 648.1 551.3 655 549.9 659.4C548.4 663.8 546.7 666.3 544.9 668.1C543 670 540.9 671 538.6 670.6C536.3 670.2 533.4 668.3 531.1 665.6C528.8 662.9 526.8 659.2 524.9 654.4C522.9 649.6 521 643.1 519.4 636.9C517.7 630.7 516 623.6 514.9 616.9C513.7 610.2 512.9 603.6 512.4 596.9C511.9 590.3 511.7 583.6 511.9 576.9C512.1 570.3 512.7 563.6 513.6 556.9C514.5 550.3 515.7 542.6 517.4 537C519 531.3 521.3 526.9 523.6 523.2C525.9 519.5 528.8 516.6 531.1 515C533.4 513.3 534.9 513.1 537.4 513.2Z" fill="#FFEF99" fill-opacity="0.85" fill-rule="evenodd"/>
<path d="M537.4 513.2C539.9 513.3 543.4 513.8 546.1 515.7C548.8 517.6 551.4 520.5 553.6 524.5C555.8 528.4 557.9 534 559.3 539.4C560.8 544.9 561.8 550.7 562.3 556.9C562.8 563.2 562.8 569.9 562.3 576.9C561.9 584 560.8 591.9 559.8 599.4C558.9 606.9 557.9 614.8 556.8 621.9C555.8 629 554.8 635.7 553.6 641.9C552.4 648.1 551.3 655 549.9 659.4C548.4 663.8 546.7 666.3 544.9 668.1C543 670 540.9 671 538.6 670.6C536.3 670.2 533.4 668.3 531.1 665.6C528.8 662.9 526.8 659.2 524.9 654.4C522.9 649.6 521 643.1 519.4 636.9C517.7 630.7 516 623.6 514.9 616.9C513.7 610.2 512.9 603.6 512.4 596.9C511.9 590.3 511.7 583.6 511.9 576.9C512.1 570.3 512.7 563.6 513.6 556.9C514.5 550.3 515.7 542.6 517.4 537C519 531.3 521.3 526.9 523.6 523.2C525.9 519.5 528.8 516.6 531.1 515C533.4 513.3 534.9 513.1 537.4 513.2Z" fill="#FFD700" stroke="#FFD700" stroke-width="1.2" opacity="0.85"/>
<path d="M464.9 522.5C469.3 522.7 474.9 523.1 479.9 524.5C484.9 525.8 489.9 527.8 494.9 530.7C499.9 533.6 505.5 537.6 509.9 541.9C514.2 546.3 518.2 551.5 521.1 556.9C524 562.4 526 568.2 527.4 574.4C528.7 580.7 529.4 587.8 529.4 594.4C529.4 601.1 528.5 607.7 527.4 614.4C526.2 621.1 524.2 627.7 522.4 634.4C520.5 641.1 518.2 647.7 516.1 654.4C514 661.1 512 667.7 509.9 674.4C507.8 681 505.9 688.1 503.6 694.4C501.3 700.6 498.8 707.1 496.1 711.9C493.4 716.7 490.3 720.7 487.4 723.1C484.5 725.5 481.6 726.6 478.6 726.4C475.7 726.1 472.8 724.7 469.9 721.9C467 719 464.1 714.4 461.1 709.4C458.2 704.4 455.3 698.5 452.4 691.9C449.5 685.2 446.6 676.9 443.7 669.4C440.7 661.9 437.6 654 434.9 646.9C432.2 639.8 429.7 633.6 427.4 626.9C425.1 620.2 422.8 613.6 421.2 606.9C419.5 600.3 418.2 593.6 417.4 586.9C416.6 580.3 415.8 573.2 416.2 566.9C416.6 560.7 417.8 554.6 419.9 549.4C422 544.2 424.9 539.5 428.7 535.7C432.4 531.9 438.2 528.5 442.4 526.5C446.6 524.4 449.9 523.9 453.6 523.2C457.4 522.5 460.5 522.2 464.9 522.5ZM467.4 541.9C471.1 542.1 475.9 542.7 479.9 543.9C483.8 545.2 487.8 546.9 491.1 549.4C494.5 552 497.5 555.7 499.9 559.4C502.2 563.2 504.2 567.4 505.4 571.9C506.5 576.5 507 581.9 506.9 586.9C506.7 591.9 505.7 596.9 504.4 601.9C503 606.9 500.8 612.3 498.6 616.9C496.4 621.5 493.8 626.1 491.1 629.4C488.4 632.7 485.3 635.2 482.4 636.9C479.5 638.6 476.6 639.9 473.6 639.9C470.7 639.9 468 638.9 464.9 636.9C461.8 634.9 458 631.7 454.9 628.2C451.8 624.6 448.7 620.2 446.2 615.7C443.7 611.1 441.6 605.9 439.9 600.7C438.2 595.5 436.7 589.6 436.2 584.4C435.7 579.2 436.1 574 436.9 569.4C437.7 564.9 439.2 560.5 441.2 556.9C443.1 553.4 445.9 550.5 448.7 548.2C451.4 545.9 454.3 544.2 457.4 543.2C460.5 542.2 463.6 541.8 467.4 541.9Z" fill="#99FF99" fill-opacity="0.85" fill-rule="evenodd"/>
<path d="M467.4 541.9C471.1 542.1 475.9 542.7 479.9 543.9C483.8 545.2 487.8 546.9 491.1 549.4C494.5 552 497.5 555.7 499.9 559.4C502.2 563.2 504.2 567.4 505.4 571.9C506.5 576.5 507 581.9 506.9 586.9C506.7 591.9 505.7 596.9 504.4 601.9C503 606.9 500.8 612.3 498.6 616.9C496.4 621.5 493.8 626.1 491.1 629.4C488.4 632.7 485.3 635.2 482.4 636.9C479.5 638.6 476.6 639.9 473.6 639.9C470.7 639.9 468 638.9 464.9 636.9C461.8 634.9 458 631.7 454.9 628.2C451.8 624.6 448.7 620.2 446.2 615.7C443.7 611.1 441.6 605.9 439.9 600.7C438.2 595.5 436.7 589.6 436.2 584.4C435.7 579.2 436.1 574 436.9 569.4C437.7 564.9 439.2 560.5 441.2 556.9C443.1 553.4 445.9 550.5 448.7 548.2C451.4 545.9 454.3 544.2 457.4 543.2C460.5 542.2 463.6 541.8 467.4 541.9Z" fill="#00FF00" stroke="#00FF00" stroke-width="1.2" opacity="0.85"/>
<path d="M508.6 525.7C512 525.8 515.5 526.9 518.6 529C521.7 531 524.7 534.4 527.4 538.2C530.1 542 532.8 546.7 534.9 551.9C536.9 557.1 538.5 563.2 539.9 569.4C541.2 575.7 542.4 582.8 542.9 589.4C543.4 596.1 543.3 602.8 542.9 609.4C542.4 616.1 541.5 622.7 540.4 629.4C539.2 636.1 537.6 642.7 536.1 649.4C534.6 656.1 533 662.7 531.1 669.4C529.2 676 526.9 683.3 524.9 689.4C522.8 695.4 520.9 701.4 518.6 705.6C516.3 709.9 513.4 713.1 511.1 714.9C508.8 716.7 507 717.3 504.9 716.4C502.8 715.4 500.5 713 498.6 709.4C496.8 705.7 495.2 700.2 493.6 694.4C492.1 688.5 490.6 681 489.4 674.4C488.1 667.7 487.2 661.1 486.1 654.4C485 647.7 483.8 641.5 482.9 634.4C481.9 627.3 481 619.4 480.4 611.9C479.8 604.4 479.2 596.5 479.1 589.4C479.1 582.3 479.1 575.7 479.9 569.4C480.6 563.2 482 557.4 483.6 551.9C485.3 546.5 487.4 540.9 489.9 537C492.4 533 495.5 530.1 498.6 528.2C501.7 526.3 505.3 525.6 508.6 525.7ZM507.4 548.2C509.5 548.5 512.6 548.8 514.9 550.7C517.2 552.6 519.2 555.9 521.1 559.4C523 563 524.7 567.4 526.1 571.9C527.5 576.5 528.8 581.9 529.4 586.9C529.9 591.9 529.9 596.9 529.4 601.9C528.8 606.9 527.4 611.9 526.1 616.9C524.9 621.9 523.4 627.3 521.9 631.9C520.3 636.5 518.7 641.3 516.9 644.4C515.1 647.5 512.9 650 511.1 650.6C509.3 651.3 507.8 650.2 506.1 648.1C504.5 646.1 502.8 642.1 501.1 638.1C499.5 634.2 497.6 629.2 496.1 624.4C494.7 619.6 493.3 614.8 492.4 609.4C491.4 604 490.7 597.3 490.4 591.9C490 586.5 490 581.9 490.4 576.9C490.8 571.9 491.6 566 492.9 561.9C494.1 557.9 496.3 554.6 497.9 552.4C499.5 550.3 500.8 549.7 502.4 548.9C504 548.2 505.3 547.9 507.4 548.2Z" fill="#FF9999" fill-opacity="0.85" fill-rule="evenodd"/>
<path d="M507.4 548.2C509.5 548.5 512.6 548.8 514.9 550.7C517.2 552.6 519.2 555.9 521.1 559.4C523 563 524.7 567.4 526.1 571.9C527.5 576.5 528.8 581.9 529.4 586.9C529.9 591.9 529.9 596.9 529.4 601.9C528.8 606.9 527.4 611.9 526.1 616.9C524.9 621.9 523.4 627.3 521.9 631.9C520.3 636.5 518.7 641.3 516.9 644.4C515.1 647.5 512.9 650 511.1 650.6C509.3 651.3 507.8 650.2 506.1 648.1C504.5 646.1 502.8 642.1 501.1 638.1C499.5 634.2 497.6 629.2 496.1 624.4C494.7 619.6 493.3 614.8 492.4 609.4C491.4 604 490.7 597.3 490.4 591.9C490 586.5 490 581.9 490.4 576.9C490.8 571.9 491.6 566 492.9 561.9C494.1 557.9 496.3 554.6 497.9 552.4C499.5 550.3 500.8 549.7 502.4 548.9C504 548.2 505.3 547.9 507.4 548.2Z" fill="#FF0000" stroke="#FF0000" stroke-width="1.2" opacity="0.85"/>
<path d="M290 561.9C290.1 555.3 290 548.6 291.2 541.9C292.5 535.3 294.4 528.6 297.5 522C300.6 515.3 304.6 508 310 502C315.4 495.9 322.5 490.1 330 485.7C337.5 481.4 345.4 478.2 354.9 475.7C364.5 473.2 375.8 471.8 387.4 470.7C399.1 469.7 412.4 469.6 424.9 469.5C437.4 469.4 449.9 469.2 462.4 470C474.9 470.7 489.5 472.4 499.9 474C510.3 475.6 516.5 477.1 524.9 479.5C533.2 481.9 541.9 484.9 549.9 488.2C557.8 491.6 565.7 495.5 572.3 499.5C579 503.4 584.8 507.4 589.8 512C594.8 516.5 598.8 521.5 602.3 527C605.9 532.4 608.9 538.2 611.1 544.4C613.2 550.7 614.6 557.4 615.3 564.4C616 571.5 616 579.4 615.3 586.9C614.6 594.4 613.2 601.9 611.1 609.4C608.9 616.9 605.4 624.8 602.3 631.9C599.2 639 595.7 645.2 592.3 651.9C589 658.6 585.7 665.2 582.3 671.9C579 678.5 575.7 685.2 572.3 691.9C569 698.5 565.7 705.2 562.3 711.9C559 718.5 555.7 726 552.3 731.9C549 737.7 546.1 742.3 542.4 746.8C538.6 751.4 534.4 756 529.9 759.3C525.3 762.7 520.7 765 514.9 766.8C509 768.7 502.4 770 494.9 770.6C487.4 771.2 478.2 770.6 469.9 770.6C461.6 770.6 453.2 770.4 444.9 770.6C436.6 770.8 428.2 771.1 419.9 771.8C411.6 772.5 401.6 774.6 394.9 774.8C388.3 775 384.5 774.4 379.9 773.1C375.4 771.7 371.2 769.5 367.4 766.8C363.7 764.1 360.4 761 357.4 756.8C354.5 752.7 352.4 747.7 350 741.8C347.5 736 345 728.9 342.5 721.9C340 714.8 337.5 706.4 335 699.4C332.5 692.3 330 685.6 327.5 679.4C325 673.1 322.9 668.1 320 661.9C317 655.6 313.3 648.6 310 641.9C306.6 635.2 302.7 628.6 300 621.9C297.3 615.2 295.3 608.6 293.7 601.9C292.1 595.3 291.1 588.6 290.5 581.9C289.9 575.3 289.9 568.6 290 561.9Z" fill="none" stroke="#00008B" stroke-opacity="0.62" stroke-width="1.9"/>
<path d="M541.1 474.5C544.9 474.5 546.7 475.1 549.9 477C553 478.9 556.7 482 559.8 485.7C563 489.5 566.1 494.3 568.6 499.5C571.1 504.7 573 510.7 574.8 517C576.6 523.2 578.3 529.5 579.3 537C580.4 544.4 580.9 553.6 581.1 561.9C581.3 570.3 580.8 578.6 580.3 586.9C579.9 595.3 579.3 603.6 578.6 611.9C577.9 620.2 576.9 628.6 576.1 636.9C575.3 645.2 574.5 653.6 573.6 661.9C572.7 670.2 571.6 678.5 570.6 686.9C569.5 695.2 568.5 703.5 567.3 711.9C566.2 720.2 565.1 729.8 563.6 736.9C562.1 743.9 560.5 749.6 558.6 754.3C556.7 759.1 554.6 762.9 552.3 765.6C550.1 768.3 547.4 770.4 544.9 770.6C542.4 770.8 539.9 769.5 537.4 766.8C534.9 764.1 532.4 759.3 529.9 754.3C527.4 749.3 524.9 743.1 522.4 736.9C519.9 730.6 517.4 723.5 514.9 716.9C512.4 710.2 509.9 703.5 507.4 696.9C504.9 690.2 502.2 683.5 499.9 676.9C497.6 670.2 495.5 663.6 493.6 656.9C491.8 650.2 490.1 644.4 488.6 636.9C487.2 629.4 485.9 620.2 484.9 611.9C483.8 603.6 482.8 595.3 482.4 586.9C482 578.6 481.8 569.4 482.4 561.9C483 554.4 484.5 548.6 486.1 541.9C487.8 535.3 489.7 528.6 492.4 522C495.1 515.3 498.6 508 502.4 502C506.1 495.9 510.7 489.9 514.9 485.7C519 481.6 523 478.9 527.4 477C531.7 475.1 537.4 474.5 541.1 474.5Z" fill="none" stroke="#FFD700" stroke-opacity="0.62" stroke-width="1.9"/>
<path d="M464.9 522.5C469.3 522.7 474.9 523.1 479.9 524.5C484.9 525.8 489.9 527.8 494.9 530.7C499.9 533.6 505.5 537.6 509.9 541.9C514.2 546.3 518.2 551.5 521.1 556.9C524 562.4 526 568.2 527.4 574.4C528.7 580.7 529.4 587.8 529.4 594.4C529.4 601.1 528.5 607.7 527.4 614.4C526.2 621.1 524.2 627.7 522.4 634.4C520.5 641.1 518.2 647.7 516.1 654.4C514 661.1 512 667.7 509.9 674.4C507.8 681 505.9 688.1 503.6 694.4C501.3 700.6 498.8 707.1 496.1 711.9C493.4 716.7 490.3 720.7 487.4 723.1C484.5 725.5 481.6 726.6 478.6 726.4C475.7 726.1 472.8 724.7 469.9 721.9C467 719 464.1 714.4 461.1 709.4C458.2 704.4 455.3 698.5 452.4 691.9C449.5 685.2 446.6 676.9 443.7 669.4C440.7 661.9 437.6 654 434.9 646.9C432.2 639.8 429.7 633.6 427.4 626.9C425.1 620.2 422.8 613.6 421.2 606.9C419.5 600.3 418.2 593.6 417.4 586.9C416.6 580.3 415.8 573.2 416.2 566.9C416.6 560.7 417.8 554.6 419.9 549.4C422 544.2 424.9 539.5 428.7 535.7C432.4 531.9 438.2 528.5 442.4 526.5C446.6 524.4 449.9 523.9 453.6 523.2C457.4 522.5 460.5 522.2 464.9 522.5Z" fill="none" stroke="#00FF00" stroke-opacity="0.62" stroke-width="1.9"/>
<path d="M508.6 525.7C512 525.8 515.5 526.9 518.6 529C521.7 531 524.7 534.4 527.4 538.2C530.1 542 532.8 546.7 534.9 551.9C536.9 557.1 538.5 563.2 539.9 569.4C541.2 575.7 542.4 582.8 542.9 589.4C543.4 596.1 543.3 602.8 542.9 609.4C542.4 616.1 541.5 622.7 540.4 629.4C539.2 636.1 537.6 642.7 536.1 649.4C534.6 656.1 533 662.7 531.1 669.4C529.2 676 526.9 683.3 524.9 689.4C522.8 695.4 520.9 701.4 518.6 705.6C516.3 709.9 513.4 713.1 511.1 714.9C508.8 716.7 507 717.3 504.9 716.4C502.8 715.4 500.5 713 498.6 709.4C496.8 705.7 495.2 700.2 493.6 694.4C492.1 688.5 490.6 681 489.4 674.4C488.1 667.7 487.2 661.1 486.1 654.4C485 647.7 483.8 641.5 482.9 634.4C481.9 627.3 481 619.4 480.4 611.9C479.8 604.4 479.2 596.5 479.1 589.4C479.1 582.3 479.1 575.7 479.9 569.4C480.6 563.2 482 557.4 483.6 551.9C485.3 546.5 487.4 540.9 489.9 537C492.4 533 495.5 530.1 498.6 528.2C501.7 526.3 505.3 525.6 508.6 525.7Z" fill="none" stroke="#FF0000" stroke-opacity="0.62" stroke-width="1.9"/>
</g>
<g clip-path="url(#cp11)">
<path d="M664.2 863C668.6 862.7 683.2 862.1 690.5 861C697.8 860 700.9 858.7 708 856.8C715.1 854.8 724.6 851.6 733 849.3C741.3 847 749.6 845.5 758 843C766.3 840.5 774.6 837.4 782.9 834.3C791.3 831.2 798.1 828.1 807.9 824.3C817.7 820.6 833.7 818.1 841.7 811.8C849.6 805.6 851.2 795.2 855.4 786.8C859.6 778.5 863.3 770.2 866.6 761.8C870 753.5 872.5 745.2 875.4 736.9C878.3 728.5 881.2 720.2 884.1 711.9C887.1 703.5 889.6 699.4 892.9 686.9C896.2 674.4 900 653.6 904.1 636.9C908.3 620.2 913.5 603.6 917.9 586.9C922.2 570.3 927.4 549.4 930.4 537C933.3 524.5 933.5 519.5 935.4 512C937.2 504.5 940.3 496.1 941.6 492C943 487.9 942.9 488.7 943.5 487.4C944.1 486 944.7 485 945.4 484.1C946 483.2 946.6 482.5 947.2 482.1C947.9 481.7 948.4 481.5 949.1 481.5C949.8 481.5 950.6 481.7 951.3 482.1C952 482.5 952.7 483.2 953.5 484.1C954.2 485 954.9 486 955.7 487.4C956.4 488.7 956.4 487.9 957.9 492C959.3 496.1 962 504.5 964.1 512C966.2 519.5 967.6 524.5 970.3 537C973.1 549.4 977.4 570.3 980.3 586.9C983.3 603.6 985.4 620.2 987.8 636.9C990.3 653.6 992.3 670.2 994.8 686.9C997.3 703.5 999.8 720.2 1002.8 736.9C1005.8 753.5 1009.9 774.3 1012.8 786.8C1015.7 799.3 1017.2 803.5 1020.3 811.8C1023.4 820.1 1028.2 830.6 1031.6 836.8C1034.9 843 1036.4 845.5 1040.3 849.3C1044.3 853 1050.7 857 1055.3 859.3C1059.9 861.6 1065.7 862.6 1067.8 863.3" fill="none" stroke="#00008B" stroke-width="7.2" stroke-linejoin="round" stroke-linecap="butt"/>
<path d="M664.2 863.5C671.5 863.1 696.5 862.2 708 861C719.4 859.9 723.8 858.7 733 856.8C742.1 854.8 754.6 851.8 762.9 849.3C771.3 846.8 775.9 844.7 782.9 841.8C790 838.9 799.6 834.7 805.4 831.8C811.3 828.9 813.3 827.6 817.9 824.3C822.5 821 828.8 816 832.9 811.8C837 807.6 839.9 803.5 842.4 799.3C844.9 795.2 845.4 793.1 847.9 786.8C850.4 780.6 854.3 770.2 857.2 761.8C860 753.5 862.1 745.2 864.9 736.9C867.6 728.5 870.8 720.2 873.6 711.9C876.5 703.5 879.6 695.2 882.1 686.9C884.7 678.5 886.4 670.2 889.1 661.9C891.8 653.6 893.6 649.4 898.4 636.9C903.2 624.4 912.2 603.6 917.9 586.9C923.5 570.3 928.9 549.4 932.4 537C935.8 524.5 936.4 519.5 938.4 512C940.3 504.5 942.8 496.1 944.1 492C945.4 487.9 945.4 488.7 946 487.4C946.6 486 947.2 485 947.9 484.1C948.5 483.2 949.1 482.5 949.7 482.1C950.4 481.7 951 481.5 951.6 481.5C952.2 481.5 952.9 481.7 953.5 482.1C954.1 482.5 954.7 483.2 955.4 484.1C956 485 956.6 486 957.2 487.4C957.9 488.7 957.8 487.9 959.1 492C960.4 496.1 963.1 504.5 964.8 512C966.6 519.5 967.6 524.5 969.8 537C972.1 549.4 976 570.3 978.6 586.9C981.2 603.6 983 620.2 985.3 636.9C987.6 653.6 989.9 670.2 992.3 686.9C994.7 703.5 997 720.2 999.8 736.9C1002.6 753.5 1006.3 774.3 1009.1 786.8C1011.9 799.3 1013.5 803.5 1016.6 811.8C1019.6 820.1 1024.2 830.6 1027.3 836.8C1030.4 843 1031.9 845.5 1035.3 849.3C1038.7 853 1043 857 1047.8 859.3C1052.6 861.6 1061.3 862.6 1064 863.3" fill="none" stroke="#FFFF00" stroke-width="7.2" stroke-linejoin="round" stroke-linecap="butt"/>
<path d="M664.2 864.3C677.8 864.2 727.8 864.2 745.5 863.8C763.2 863.4 762.5 863 770.4 861.8C778.4 860.6 785.9 858.9 792.9 856.8C800 854.7 806.3 852.6 812.9 849.3C819.6 846 827.1 841 832.9 836.8C838.7 832.6 843.1 828.5 847.9 824.3C852.7 820.1 857.7 816 861.6 811.8C865.6 807.6 868.9 803.5 871.6 799.3C874.4 795.2 875.4 793.1 877.9 786.8C880.4 780.6 884.1 770.2 886.6 761.8C889.1 753.5 890.4 749.3 892.9 736.9C895.4 724.4 898.9 703.5 901.6 686.9C904.3 670.2 906.6 653.6 909.1 636.9C911.6 620.2 914.2 603.6 916.6 586.9C919 570.3 921.6 549.4 923.4 537C925.2 524.5 926 519.5 927.4 512C928.7 504.5 930.6 496.1 931.6 492C932.6 487.9 932.7 488.7 933.2 487.4C933.7 486 934.2 485 934.7 484.1C935.3 483.2 935.8 482.5 936.3 482.1C936.8 481.7 937.3 481.5 937.9 481.5C938.4 481.5 939 481.7 939.6 482.1C940.2 482.5 940.8 483.2 941.4 484.1C941.9 485 942.5 486 943.1 487.4C943.7 488.7 943.9 487.9 944.9 492C945.9 496.1 947.8 504.5 949.1 512C950.4 519.5 951.4 524.5 952.9 537C954.3 549.4 956.3 570.3 957.9 586.9C959.4 603.6 960.9 620.2 962.3 636.9C963.8 653.6 965.2 670.2 966.6 686.9C968 703.5 969.2 720.2 970.8 736.9C972.5 753.5 975 774.3 976.6 786.8C978.2 799.3 978.9 803.5 980.3 811.8C981.8 820.1 983.9 830.6 985.3 836.8C986.8 843 987.4 845.5 989.1 849.3C990.8 853 992.8 857 995.3 859.3C997.8 861.6 992.6 862.5 1004.1 863.3C1015.5 864.1 1054.1 864.1 1064 864.3" fill="none" stroke="#00FF00" stroke-width="7.2" stroke-linejoin="round" stroke-linecap="butt"/>
<path d="M664.2 864.3C678.6 864.1 734 863.6 750.5 863C766.9 862.5 759.2 861.7 762.9 860.8C766.7 859.8 769.6 858.2 772.9 857.3C776.3 856.3 779.6 855.5 782.9 855C786.3 854.6 789.2 855.1 792.9 854.8C796.7 854.5 801.7 854.4 805.4 853C809.2 851.7 811.3 849.5 815.4 846.8C819.6 844.1 825.6 840.5 830.4 836.8C835.2 833.1 839.8 828.5 844.2 824.3C848.5 820.1 853.1 816 856.7 811.8C860.2 807.6 863.1 803.5 865.4 799.3C867.7 795.2 868.3 793.1 870.4 786.8C872.5 780.6 875.8 770.2 877.9 761.8C880 753.5 880.6 749.3 882.9 736.9C885.2 724.4 888.9 703.5 891.6 686.9C894.3 670.2 896.6 653.6 899.1 636.9C901.6 620.2 904.1 603.6 906.6 586.9C909.1 570.3 912.2 549.4 914.1 537C916.1 524.5 916.9 519.5 918.4 512C919.8 504.5 921.8 496.1 922.9 492C923.9 487.9 924 488.7 924.6 487.4C925.2 486 925.8 485 926.4 484.1C926.9 483.2 927.5 482.5 928.1 482.1C928.7 481.7 929.3 481.5 929.9 481.5C930.4 481.5 931 481.7 931.6 482.1C932.1 482.5 932.7 483.2 933.2 484.1C933.8 485 934.4 486 934.9 487.4C935.5 488.7 935.5 487.9 936.6 492C937.7 496.1 940.2 504.5 941.6 512C943.1 519.5 943.9 524.5 945.4 537C946.8 549.4 948.7 570.3 950.4 586.9C952 603.6 953.8 620.2 955.4 636.9C956.9 653.6 958.4 670.2 959.8 686.9C961.3 703.5 962.4 720.2 964.1 736.9C965.8 753.5 968.3 774.3 969.8 786.8C971.4 799.3 971.9 803.5 973.3 811.8C974.8 820.1 977 830.6 978.6 836.8C980.2 843 981.1 845.5 982.8 849.3C984.6 853 986.8 857 989.1 859.3C991.4 861.6 984.1 862.5 996.6 863.3C1009.1 864.1 1052.8 864.1 1064 864.3" fill="none" stroke="#FF0000" stroke-width="7.2" stroke-linejoin="round" stroke-linecap="butt"/>
</g>
<g clip-path="url(#cp20)">
<path d="M291.2 1142.4C291.4 1135.3 292.3 1127.4 293.7 1119.9C295.2 1112.4 297.5 1104.9 300 1097.4C302.5 1089.9 305.6 1082 308.7 1074.9C311.8 1067.8 315.4 1062 318.7 1054.9C322 1047.8 325.6 1039.9 328.7 1032.4C331.8 1024.9 334.5 1017 337.5 1009.9C340.4 1002.8 343.1 996.2 346.2 989.9C349.3 983.7 352.2 977.2 356.2 972.4C360.2 967.7 364.7 963.6 369.9 961.2C375.1 958.8 380.8 958.2 387.4 958C394.1 957.7 402 958.8 409.9 959.5C417.8 960.1 426.2 961.5 434.9 961.9C443.7 962.4 453.6 962.1 462.4 961.9C471.1 961.8 479.1 961.2 487.4 961.2C495.7 961.2 505.3 961.1 512.4 961.9C519.4 962.8 524.4 964 529.9 966.2C535.3 968.4 540.3 971 544.9 974.9C549.4 978.9 553.6 984.5 557.3 989.9C561.1 995.3 564 1001.2 567.3 1007.4C570.7 1013.7 574 1020.8 577.3 1027.4C580.7 1034.1 584 1040.7 587.3 1047.4C590.7 1054.1 594.2 1060.7 597.3 1067.4C600.4 1074.1 603.7 1080.3 606.1 1087.4C608.5 1094.5 610.6 1102.4 611.8 1109.9C613.1 1117.4 613.7 1124.9 613.6 1132.4C613.4 1139.9 612.5 1147.8 611.1 1154.9C609.6 1161.9 607.5 1168.6 604.8 1174.8C602.1 1181.1 599 1186.5 594.8 1192.3C590.7 1198.2 585.7 1204.4 579.8 1209.8C574 1215.2 567.3 1220.4 559.8 1224.8C552.3 1229.2 544 1232.9 534.9 1236.1C525.7 1239.2 515.7 1241.7 504.9 1243.6C494 1245.4 481.6 1246.6 469.9 1247.3C458.2 1248.1 446.6 1248.1 434.9 1248.1C423.2 1248 410.8 1247.8 399.9 1246.8C389.1 1245.8 379.1 1244.5 369.9 1242.3C360.8 1240.1 352.4 1237.3 345 1233.6C337.5 1229.8 330.8 1225 325 1219.8C319.1 1214.6 314.3 1208.6 310 1202.3C305.6 1196.1 301.6 1189 298.7 1182.3C295.9 1175.7 294.2 1169 293 1162.3C291.7 1155.7 291.1 1149.4 291.2 1142.4Z" fill="#9999D1"/>
<path d="M337 1142.4C337 1137.2 337.9 1130.7 339.5 1124.9C341 1119 343.2 1113.2 346.2 1107.4C349.2 1101.5 353.1 1095.5 357.4 1089.9C361.8 1084.3 367 1078.2 372.4 1073.6C377.9 1069.1 383.7 1065.3 389.9 1062.4C396.2 1059.5 402.4 1057.6 409.9 1056.2C417.4 1054.7 426.6 1053.9 434.9 1053.7C443.2 1053.4 451.6 1053.9 459.9 1054.9C468.2 1055.9 477 1057.6 484.9 1059.9C492.8 1062.2 500.3 1065.3 507.4 1068.6C514.5 1072 521.3 1075.7 527.4 1079.9C533.4 1084.1 538.8 1088.6 543.6 1093.6C548.4 1098.6 553 1103.8 556.1 1109.9C559.2 1115.9 561.4 1123.2 562.3 1129.9C563.3 1136.5 563.1 1143.2 561.8 1149.9C560.6 1156.5 558.1 1164 554.8 1169.8C551.6 1175.7 547.4 1180.5 542.4 1184.8C537.4 1189.2 531.5 1193 524.9 1196.1C518.2 1199.2 510.7 1201.9 502.4 1203.6C494 1205.2 484 1205.5 474.9 1206.1C465.7 1206.6 456.6 1206.8 447.4 1206.8C438.2 1206.8 428.2 1206.8 419.9 1206.1C411.6 1205.3 404.9 1204.2 397.4 1202.3C389.9 1200.5 381.6 1198 374.9 1194.8C368.3 1191.7 362.2 1187.8 357.4 1183.6C352.7 1179.4 349.2 1174.4 346.2 1169.8C343.2 1165.3 341 1160.7 339.5 1156.1C337.9 1151.5 337 1147.6 337 1142.4Z" fill="#00008B"/>
<path d="M543.6 955C546.5 954.3 547.8 956.2 549.9 958.7C551.9 961.2 554.2 965.2 556.1 969.9C558 974.7 559.4 980.8 561.1 987.4C562.8 994.1 564.4 1002 566.1 1009.9C567.8 1017.8 569.6 1026.6 571.1 1034.9C572.5 1043.2 573.7 1051.6 574.8 1059.9C576 1068.2 577 1076.6 577.8 1084.9C578.7 1093.2 579.3 1101.5 579.8 1109.9C580.4 1118.2 581 1126.5 581.1 1134.9C581.2 1143.2 580.9 1151.5 580.3 1159.9C579.8 1168.2 579 1176.9 577.8 1184.8C576.7 1192.8 575.3 1200.7 573.6 1207.3C571.8 1214 569.6 1219.8 567.3 1224.8C565.1 1229.8 562.8 1234.4 559.8 1237.3C556.9 1240.2 553.6 1241.5 549.9 1242.3C546.1 1243.1 541.5 1243.1 537.4 1242.3C533.2 1241.5 529 1240.2 524.9 1237.3C520.7 1234.4 516.1 1229.4 512.4 1224.8C508.6 1220.2 505.5 1215.7 502.4 1209.8C499.3 1204 496.1 1196.9 493.6 1189.8C491.1 1182.8 489 1174.8 487.4 1167.3C485.7 1159.9 484.5 1152.8 483.6 1144.9C482.8 1136.9 482.4 1128.2 482.4 1119.9C482.4 1111.5 482.8 1103.2 483.6 1094.9C484.5 1086.6 485.7 1078.2 487.4 1069.9C489 1061.6 491.1 1053.2 493.6 1044.9C496.1 1036.6 499.3 1027.8 502.4 1019.9C505.5 1012 509 1004.5 512.4 997.4C515.7 990.4 519 983.3 522.4 977.4C525.7 971.6 528.8 966.2 532.4 962.4C535.9 958.7 540.7 955.6 543.6 955ZM539.9 1044.4C541.9 1043.7 544 1044.7 546.1 1046.9C548.2 1049.1 550.6 1053.2 552.3 1057.4C554.1 1061.6 555.6 1066.6 556.8 1072.4C558.1 1078.2 558.9 1085.3 559.8 1092.4C560.8 1099.5 561.8 1107.4 562.3 1114.9C562.8 1122.4 563.1 1129.9 562.8 1137.4C562.6 1144.9 562.1 1152.8 561.1 1159.9C560.1 1166.9 558.7 1174 556.8 1179.8C555 1185.7 552.5 1191.3 549.9 1194.8C547.2 1198.4 544 1200 541.1 1201.1C538.2 1202.1 535.3 1202.1 532.4 1201.1C529.4 1200 526.2 1198 523.6 1194.8C521 1191.7 518.7 1187.3 516.9 1182.3C515 1177.3 513.3 1171.1 512.4 1164.8C511.4 1158.6 511.1 1151.5 511.1 1144.9C511.1 1138.2 511.5 1131.5 512.4 1124.9C513.2 1118.2 514.7 1111.5 516.1 1104.9C517.6 1098.2 519.2 1091.6 521.1 1084.9C523 1078.2 525.3 1070.5 527.4 1064.9C529.4 1059.3 531.5 1054.6 533.6 1051.2C535.7 1047.7 537.8 1045.1 539.9 1044.4Z" fill="#FFEF99" fill-opacity="0.85" fill-rule="evenodd"/>
<path d="M539.9 1044.4C541.9 1043.7 544 1044.7 546.1 1046.9C548.2 1049.1 550.6 1053.2 552.3 1057.4C554.1 1061.6 555.6 1066.6 556.8 1072.4C558.1 1078.2 558.9 1085.3 559.8 1092.4C560.8 1099.5 561.8 1107.4 562.3 1114.9C562.8 1122.4 563.1 1129.9 562.8 1137.4C562.6 1144.9 562.1 1152.8 561.1 1159.9C560.1 1166.9 558.7 1174 556.8 1179.8C555 1185.7 552.5 1191.3 549.9 1194.8C547.2 1198.4 544 1200 541.1 1201.1C538.2 1202.1 535.3 1202.1 532.4 1201.1C529.4 1200 526.2 1198 523.6 1194.8C521 1191.7 518.7 1187.3 516.9 1182.3C515 1177.3 513.3 1171.1 512.4 1164.8C511.4 1158.6 511.1 1151.5 511.1 1144.9C511.1 1138.2 511.5 1131.5 512.4 1124.9C513.2 1118.2 514.7 1111.5 516.1 1104.9C517.6 1098.2 519.2 1091.6 521.1 1084.9C523 1078.2 525.3 1070.5 527.4 1064.9C529.4 1059.3 531.5 1054.6 533.6 1051.2C535.7 1047.7 537.8 1045.1 539.9 1044.4Z" fill="#FFD700" stroke="#FFD700" stroke-width="1.2" opacity="0.85"/>
<path d="M478.6 996.9C480.9 997.1 483.4 997.8 486.1 999.9C488.8 1002.1 492 1005.8 494.9 1009.9C497.8 1014.1 500.9 1019.5 503.6 1024.9C506.3 1030.3 508.6 1036.2 511.1 1042.4C513.6 1048.7 516.3 1055.3 518.6 1062.4C520.9 1069.5 523.2 1077.4 524.9 1084.9C526.5 1092.4 528.1 1099.9 528.6 1107.4C529.1 1114.9 528.7 1122.8 527.9 1129.9C527 1136.9 525.8 1143.6 523.6 1149.9C521.4 1156.1 518.4 1162.3 514.9 1167.3C511.3 1172.3 507 1176.5 502.4 1179.8C497.8 1183.2 492.8 1185.8 487.4 1187.3C482 1188.9 475.3 1189.5 469.9 1189.3C464.5 1189.1 459.9 1188.3 454.9 1186.1C449.9 1183.9 444.3 1180 439.9 1176.1C435.5 1172.1 431.8 1167.6 428.7 1162.3C425.5 1157.1 423 1151.1 421.2 1144.9C419.3 1138.6 418 1131.5 417.4 1124.9C416.9 1118.2 417.1 1111.5 417.9 1104.9C418.7 1098.2 420.6 1091.6 422.4 1084.9C424.2 1078.2 426.4 1071.1 428.7 1064.9C431 1058.7 433.4 1052.8 436.2 1047.4C438.9 1042 441.8 1037 444.9 1032.4C448 1027.8 451.6 1024.1 454.9 1019.9C458.2 1015.8 462 1011 464.9 1007.4C467.8 1003.9 470.1 1000.4 472.4 998.7C474.7 996.9 476.3 996.7 478.6 996.9ZM473.6 1071.1C477.4 1071.1 480.3 1072.6 483.6 1074.9C487 1077.2 490.7 1081.1 493.6 1084.9C496.5 1088.6 499.2 1092.8 501.1 1097.4C503.1 1102 504.5 1107.4 505.4 1112.4C506.2 1117.4 506.6 1122.4 506.1 1127.4C505.6 1132.4 504.2 1137.8 502.4 1142.4C500.5 1146.9 498 1151.3 494.9 1154.9C491.8 1158.4 487.6 1161.4 483.6 1163.6C479.7 1165.8 475.3 1167.4 471.1 1167.8C467 1168.3 462.6 1167.8 458.6 1166.1C454.7 1164.3 450.4 1160.9 447.4 1157.4C444.4 1153.8 442.1 1149.4 440.4 1144.9C438.7 1140.3 437.7 1134.9 437.4 1129.9C437.1 1124.9 437.6 1119.9 438.7 1114.9C439.7 1109.9 441.6 1104.7 443.7 1099.9C445.7 1095.1 448.2 1090.2 451.1 1086.1C454.1 1082.1 457.4 1077.9 461.1 1075.4C464.9 1072.9 469.9 1071.2 473.6 1071.1Z" fill="#99FF99" fill-opacity="0.85" fill-rule="evenodd"/>
<path d="M473.6 1071.1C477.4 1071.1 480.3 1072.6 483.6 1074.9C487 1077.2 490.7 1081.1 493.6 1084.9C496.5 1088.6 499.2 1092.8 501.1 1097.4C503.1 1102 504.5 1107.4 505.4 1112.4C506.2 1117.4 506.6 1122.4 506.1 1127.4C505.6 1132.4 504.2 1137.8 502.4 1142.4C500.5 1146.9 498 1151.3 494.9 1154.9C491.8 1158.4 487.6 1161.4 483.6 1163.6C479.7 1165.8 475.3 1167.4 471.1 1167.8C467 1168.3 462.6 1167.8 458.6 1166.1C454.7 1164.3 450.4 1160.9 447.4 1157.4C444.4 1153.8 442.1 1149.4 440.4 1144.9C438.7 1140.3 437.7 1134.9 437.4 1129.9C437.1 1124.9 437.6 1119.9 438.7 1114.9C439.7 1109.9 441.6 1104.7 443.7 1099.9C445.7 1095.1 448.2 1090.2 451.1 1086.1C454.1 1082.1 457.4 1077.9 461.1 1075.4C464.9 1072.9 469.9 1071.2 473.6 1071.1Z" fill="#00FF00" stroke="#00FF00" stroke-width="1.2" opacity="0.85"/>
<path d="M505.4 1005.4C507.5 1004.8 510 1005.6 512.4 1007.4C514.8 1009.2 517.4 1012.4 519.9 1016.2C522.3 1019.9 524.6 1024.7 526.9 1029.9C529.2 1035.1 531.7 1041.2 533.6 1047.4C535.6 1053.7 537.2 1060.7 538.6 1067.4C540 1074.1 541.1 1080.3 541.9 1087.4C542.6 1094.5 542.9 1102.4 542.9 1109.9C542.9 1117.4 542.8 1125.3 541.9 1132.4C540.9 1139.4 539.4 1146.1 537.4 1152.4C535.4 1158.6 532.6 1165.1 529.9 1169.8C527.2 1174.6 524.2 1178.7 521.1 1181.1C518 1183.5 514.5 1184.3 511.1 1184.3C507.8 1184.3 504.2 1183.1 501.1 1181.1C498 1179.1 495.1 1176.1 492.4 1172.3C489.7 1168.6 486.8 1163.6 484.9 1158.6C483 1153.6 482.1 1148.4 481.1 1142.4C480.2 1136.3 479.5 1129 479.4 1122.4C479.3 1115.7 479.7 1109 480.4 1102.4C481.1 1095.7 482.5 1089.1 483.6 1082.4C484.8 1075.7 486.1 1069.1 487.4 1062.4C488.6 1055.7 489.9 1048.7 491.1 1042.4C492.4 1036.2 493.5 1030.1 494.9 1024.9C496.3 1019.7 497.6 1014.4 499.4 1011.2C501.1 1007.9 503.2 1006.1 505.4 1005.4ZM509.9 1062.4C512 1062.2 514 1063.6 516.1 1066.1C518.2 1068.6 520.6 1073 522.4 1077.4C524.2 1081.8 525.7 1087 526.9 1092.4C528 1097.8 529.1 1104 529.4 1109.9C529.7 1115.7 529.4 1122 528.6 1127.4C527.9 1132.8 526.5 1137.8 524.9 1142.4C523.2 1146.9 521.1 1151.9 518.6 1154.9C516.1 1157.8 512.8 1159.4 509.9 1159.9C507 1160.3 503.7 1159.4 501.1 1157.4C498.5 1155.3 496 1151.5 494.4 1147.4C492.7 1143.2 491.8 1137.8 491.1 1132.4C490.5 1126.9 490.2 1120.7 490.4 1114.9C490.6 1109 491.2 1103.2 492.4 1097.4C493.5 1091.6 495.5 1084.9 497.4 1079.9C499.3 1074.9 501.5 1070.3 503.6 1067.4C505.7 1064.5 507.8 1062.6 509.9 1062.4Z" fill="#FF9999" fill-opacity="0.85" fill-rule="evenodd"/>
<path d="M509.9 1062.4C512 1062.2 514 1063.6 516.1 1066.1C518.2 1068.6 520.6 1073 522.4 1077.4C524.2 1081.8 525.7 1087 526.9 1092.4C528 1097.8 529.1 1104 529.4 1109.9C529.7 1115.7 529.4 1122 528.6 1127.4C527.9 1132.8 526.5 1137.8 524.9 1142.4C523.2 1146.9 521.1 1151.9 518.6 1154.9C516.1 1157.8 512.8 1159.4 509.9 1159.9C507 1160.3 503.7 1159.4 501.1 1157.4C498.5 1155.3 496 1151.5 494.4 1147.4C492.7 1143.2 491.8 1137.8 491.1 1132.4C490.5 1126.9 490.2 1120.7 490.4 1114.9C490.6 1109 491.2 1103.2 492.4 1097.4C493.5 1091.6 495.5 1084.9 497.4 1079.9C499.3 1074.9 501.5 1070.3 503.6 1067.4C505.7 1064.5 507.8 1062.6 509.9 1062.4Z" fill="#FF0000" stroke="#FF0000" stroke-width="1.2" opacity="0.85"/>
<path d="M291.2 1142.4C291.4 1135.3 292.3 1127.4 293.7 1119.9C295.2 1112.4 297.5 1104.9 300 1097.4C302.5 1089.9 305.6 1082 308.7 1074.9C311.8 1067.8 315.4 1062 318.7 1054.9C322 1047.8 325.6 1039.9 328.7 1032.4C331.8 1024.9 334.5 1017 337.5 1009.9C340.4 1002.8 343.1 996.2 346.2 989.9C349.3 983.7 352.2 977.2 356.2 972.4C360.2 967.7 364.7 963.6 369.9 961.2C375.1 958.8 380.8 958.2 387.4 958C394.1 957.7 402 958.8 409.9 959.5C417.8 960.1 426.2 961.5 434.9 961.9C443.7 962.4 453.6 962.1 462.4 961.9C471.1 961.8 479.1 961.2 487.4 961.2C495.7 961.2 505.3 961.1 512.4 961.9C519.4 962.8 524.4 964 529.9 966.2C535.3 968.4 540.3 971 544.9 974.9C549.4 978.9 553.6 984.5 557.3 989.9C561.1 995.3 564 1001.2 567.3 1007.4C570.7 1013.7 574 1020.8 577.3 1027.4C580.7 1034.1 584 1040.7 587.3 1047.4C590.7 1054.1 594.2 1060.7 597.3 1067.4C600.4 1074.1 603.7 1080.3 606.1 1087.4C608.5 1094.5 610.6 1102.4 611.8 1109.9C613.1 1117.4 613.7 1124.9 613.6 1132.4C613.4 1139.9 612.5 1147.8 611.1 1154.9C609.6 1161.9 607.5 1168.6 604.8 1174.8C602.1 1181.1 599 1186.5 594.8 1192.3C590.7 1198.2 585.7 1204.4 579.8 1209.8C574 1215.2 567.3 1220.4 559.8 1224.8C552.3 1229.2 544 1232.9 534.9 1236.1C525.7 1239.2 515.7 1241.7 504.9 1243.6C494 1245.4 481.6 1246.6 469.9 1247.3C458.2 1248.1 446.6 1248.1 434.9 1248.1C423.2 1248 410.8 1247.8 399.9 1246.8C389.1 1245.8 379.1 1244.5 369.9 1242.3C360.8 1240.1 352.4 1237.3 345 1233.6C337.5 1229.8 330.8 1225 325 1219.8C319.1 1214.6 314.3 1208.6 310 1202.3C305.6 1196.1 301.6 1189 298.7 1182.3C295.9 1175.7 294.2 1169 293 1162.3C291.7 1155.7 291.1 1149.4 291.2 1142.4Z" fill="none" stroke="#00008B" stroke-opacity="0.62" stroke-width="1.9"/>
<path d="M543.6 955C546.5 954.3 547.8 956.2 549.9 958.7C551.9 961.2 554.2 965.2 556.1 969.9C558 974.7 559.4 980.8 561.1 987.4C562.8 994.1 564.4 1002 566.1 1009.9C567.8 1017.8 569.6 1026.6 571.1 1034.9C572.5 1043.2 573.7 1051.6 574.8 1059.9C576 1068.2 577 1076.6 577.8 1084.9C578.7 1093.2 579.3 1101.5 579.8 1109.9C580.4 1118.2 581 1126.5 581.1 1134.9C581.2 1143.2 580.9 1151.5 580.3 1159.9C579.8 1168.2 579 1176.9 577.8 1184.8C576.7 1192.8 575.3 1200.7 573.6 1207.3C571.8 1214 569.6 1219.8 567.3 1224.8C565.1 1229.8 562.8 1234.4 559.8 1237.3C556.9 1240.2 553.6 1241.5 549.9 1242.3C546.1 1243.1 541.5 1243.1 537.4 1242.3C533.2 1241.5 529 1240.2 524.9 1237.3C520.7 1234.4 516.1 1229.4 512.4 1224.8C508.6 1220.2 505.5 1215.7 502.4 1209.8C499.3 1204 496.1 1196.9 493.6 1189.8C491.1 1182.8 489 1174.8 487.4 1167.3C485.7 1159.9 484.5 1152.8 483.6 1144.9C482.8 1136.9 482.4 1128.2 482.4 1119.9C482.4 1111.5 482.8 1103.2 483.6 1094.9C484.5 1086.6 485.7 1078.2 487.4 1069.9C489 1061.6 491.1 1053.2 493.6 1044.9C496.1 1036.6 499.3 1027.8 502.4 1019.9C505.5 1012 509 1004.5 512.4 997.4C515.7 990.4 519 983.3 522.4 977.4C525.7 971.6 528.8 966.2 532.4 962.4C535.9 958.7 540.7 955.6 543.6 955Z" fill="none" stroke="#FFD700" stroke-opacity="0.62" stroke-width="1.9"/>
<path d="M478.6 996.9C480.9 997.1 483.4 997.8 486.1 999.9C488.8 1002.1 492 1005.8 494.9 1009.9C497.8 1014.1 500.9 1019.5 503.6 1024.9C506.3 1030.3 508.6 1036.2 511.1 1042.4C513.6 1048.7 516.3 1055.3 518.6 1062.4C520.9 1069.5 523.2 1077.4 524.9 1084.9C526.5 1092.4 528.1 1099.9 528.6 1107.4C529.1 1114.9 528.7 1122.8 527.9 1129.9C527 1136.9 525.8 1143.6 523.6 1149.9C521.4 1156.1 518.4 1162.3 514.9 1167.3C511.3 1172.3 507 1176.5 502.4 1179.8C497.8 1183.2 492.8 1185.8 487.4 1187.3C482 1188.9 475.3 1189.5 469.9 1189.3C464.5 1189.1 459.9 1188.3 454.9 1186.1C449.9 1183.9 444.3 1180 439.9 1176.1C435.5 1172.1 431.8 1167.6 428.7 1162.3C425.5 1157.1 423 1151.1 421.2 1144.9C419.3 1138.6 418 1131.5 417.4 1124.9C416.9 1118.2 417.1 1111.5 417.9 1104.9C418.7 1098.2 420.6 1091.6 422.4 1084.9C424.2 1078.2 426.4 1071.1 428.7 1064.9C431 1058.7 433.4 1052.8 436.2 1047.4C438.9 1042 441.8 1037 444.9 1032.4C448 1027.8 451.6 1024.1 454.9 1019.9C458.2 1015.8 462 1011 464.9 1007.4C467.8 1003.9 470.1 1000.4 472.4 998.7C474.7 996.9 476.3 996.7 478.6 996.9Z" fill="none" stroke="#00FF00" stroke-opacity="0.62" stroke-width="1.9"/>
<path d="M505.4 1005.4C507.5 1004.8 510 1005.6 512.4 1007.4C514.8 1009.2 517.4 1012.4 519.9 1016.2C522.3 1019.9 524.6 1024.7 526.9 1029.9C529.2 1035.1 531.7 1041.2 533.6 1047.4C535.6 1053.7 537.2 1060.7 538.6 1067.4C540 1074.1 541.1 1080.3 541.9 1087.4C542.6 1094.5 542.9 1102.4 542.9 1109.9C542.9 1117.4 542.8 1125.3 541.9 1132.4C540.9 1139.4 539.4 1146.1 537.4 1152.4C535.4 1158.6 532.6 1165.1 529.9 1169.8C527.2 1174.6 524.2 1178.7 521.1 1181.1C518 1183.5 514.5 1184.3 511.1 1184.3C507.8 1184.3 504.2 1183.1 501.1 1181.1C498 1179.1 495.1 1176.1 492.4 1172.3C489.7 1168.6 486.8 1163.6 484.9 1158.6C483 1153.6 482.1 1148.4 481.1 1142.4C480.2 1136.3 479.5 1129 479.4 1122.4C479.3 1115.7 479.7 1109 480.4 1102.4C481.1 1095.7 482.5 1089.1 483.6 1082.4C484.8 1075.7 486.1 1069.1 487.4 1062.4C488.6 1055.7 489.9 1048.7 491.1 1042.4C492.4 1036.2 493.5 1030.1 494.9 1024.9C496.3 1019.7 497.6 1014.4 499.4 1011.2C501.1 1007.9 503.2 1006.1 505.4 1005.4Z" fill="none" stroke="#FF0000" stroke-opacity="0.62" stroke-width="1.9"/>
</g>
<g clip-path="url(#cp21)">
<path d="M729.2 939.5C729.8 939.2 730.8 938.7 732.6 939.8C734.4 941 738 944.7 740.1 946.5C742.3 948.4 744.3 950.5 745.6 950.8C746.8 951.2 745.6 947.9 747.5 948.9C749.4 949.9 753.4 954.1 757 957.1C760.7 960.2 764.4 963.1 769.4 967.2C774.4 971.4 780.6 977 786.8 982.3C793 987.5 799.2 992.4 806.6 998.7C814.1 1005 823.2 1013.2 831.4 1020.2C839.6 1027.1 847.8 1033.6 856 1040.6C864.2 1047.5 872.5 1054.7 880.7 1062.1C888.9 1069.5 897.2 1077 905.5 1084.8C913.7 1092.6 922 1100.3 930.3 1108.7C938.6 1117 947 1125.9 955.3 1134.9C963.7 1143.8 972.1 1152.7 980.5 1162.2C988.9 1171.7 998.1 1182.5 1005.8 1191.9C1013.4 1201.3 1020.7 1210.7 1026.3 1218.8C1032 1226.9 1036.9 1235.3 1039.7 1240.5C1042.4 1245.6 1042.7 1248 1042.9 1249.7C1043.1 1251.4 1043.2 1252 1040.8 1250.5C1038.5 1249.1 1034.2 1246.2 1028.9 1241.2C1023.6 1236.3 1016.5 1228.4 1009.2 1221C1001.8 1213.6 992.8 1204.9 984.6 1196.9C976.4 1188.8 968.2 1181 959.9 1172.8C951.7 1164.6 943.3 1155.8 935 1147.7C926.8 1139.5 918.5 1131.7 910.3 1123.7C902 1115.8 893.7 1108 885.4 1099.9C877.1 1091.7 868.7 1083.2 860.4 1074.9C852 1066.6 843.7 1058.5 835.2 1050.1C826.8 1041.6 818.4 1033.2 809.9 1024.2C801.4 1015.2 791.1 1003.8 784.2 996.1C777.4 988.4 772.7 982.3 768.6 978C764.6 973.7 761.9 972 759.9 970.5C757.9 969 759.1 971.1 756.4 969C753.7 966.9 747.7 961.5 743.8 957.8C740 954.1 736 949.6 733.5 946.9C731.1 944.2 729.8 942.8 729.1 941.6C728.3 940.4 728.6 939.8 729.2 939.5Z" fill="#9999D1"/>
<path d="M760.1 964C761.4 964.2 763.5 964.6 767.2 967C770.8 969.4 775.3 973 781.9 978.5C788.5 983.9 798.5 992.9 806.8 999.8C815 1006.8 823.2 1013.4 831.4 1020.2C839.6 1027 847.8 1033.6 856 1040.6C864.2 1047.5 872.5 1054.7 880.7 1062.1C888.9 1069.5 897.2 1077 905.5 1084.8C913.7 1092.6 922 1100.3 930.3 1108.7C938.6 1117 947 1125.9 955.3 1134.9C963.7 1143.8 972.1 1152.7 980.5 1162.2C988.9 1171.7 998.1 1182.5 1005.8 1191.9C1013.4 1201.3 1021.1 1211.2 1026.3 1218.8C1031.5 1226.5 1035.1 1233.6 1037.2 1237.9C1039.3 1242.2 1039.7 1244.1 1039.1 1244.8C1038.4 1245.4 1036.7 1244.8 1033.3 1241.8C1029.9 1238.8 1024.7 1232.8 1018.5 1226.6C1012.4 1220.5 1004.2 1212.6 996.4 1205C988.6 1197.4 980 1188.9 971.8 1180.9C963.6 1172.9 955.3 1164.9 947.1 1156.9C938.8 1148.9 930.6 1140.9 922.3 1132.9C914.1 1124.9 905.8 1117.1 897.5 1109C889.2 1100.9 880.9 1092.5 872.5 1084C864.1 1075.6 855.7 1066.7 847.3 1058.1C838.8 1049.4 830 1040.7 822 1032.1C813.9 1023.5 806.1 1014.5 798.8 1006.5C791.5 998.6 784.3 990.7 778.3 984.6C772.4 978.4 766.3 972.9 763.1 969.8C759.9 966.7 759.8 967.1 759.3 966.1C758.8 965.1 758.8 963.9 760.1 964ZM854.2 1043.6C859.2 1046.8 872.3 1056.2 880.8 1063.2C889.4 1070.2 897.3 1077.8 905.5 1085.5C913.8 1093.2 922.1 1101 930.4 1109.4C938.7 1117.7 947.1 1126.5 955.4 1135.5C963.8 1144.5 973.4 1154.8 980.6 1163.3C987.8 1171.8 994.1 1179.6 998.6 1186.6C1003.1 1193.6 1006 1201.7 1007.3 1205.3C1008.7 1209 1008.1 1209.1 1006.6 1208.5C1005.1 1208 1002.9 1206.2 998.2 1201.9C993.6 1197.7 985.9 1190.1 978.6 1182.9C971.2 1175.7 962.1 1166.8 953.9 1158.8C945.6 1150.8 937.4 1142.8 929.1 1134.9C920.9 1126.9 912.6 1119.1 904.3 1110.9C896 1102.8 886.9 1093.8 879.3 1086C871.7 1078.1 863.8 1069.9 859 1063.8C854.2 1057.8 851.9 1053 850.6 1049.7C849.3 1046.5 850.4 1045.3 851 1044.3C851.6 1043.3 849.2 1040.5 854.2 1043.6Z" fill="#FFEF99" fill-opacity="0.85" fill-rule="evenodd"/>
<path d="M854.2 1043.6C859.2 1046.8 872.3 1056.2 880.8 1063.2C889.4 1070.2 897.3 1077.8 905.5 1085.5C913.8 1093.2 922.1 1101 930.4 1109.4C938.7 1117.7 947.1 1126.5 955.4 1135.5C963.8 1144.5 973.4 1154.8 980.6 1163.3C987.8 1171.8 994.1 1179.6 998.6 1186.6C1003.1 1193.6 1006 1201.7 1007.3 1205.3C1008.7 1209 1008.1 1209.1 1006.6 1208.5C1005.1 1208 1002.9 1206.2 998.2 1201.9C993.6 1197.7 985.9 1190.1 978.6 1182.9C971.2 1175.7 962.1 1166.8 953.9 1158.8C945.6 1150.8 937.4 1142.8 929.1 1134.9C920.9 1126.9 912.6 1119.1 904.3 1110.9C896 1102.8 886.9 1093.8 879.3 1086C871.7 1078.1 863.8 1069.9 859 1063.8C854.2 1057.8 851.9 1053 850.6 1049.7C849.3 1046.5 850.4 1045.3 851 1044.3C851.6 1043.3 849.2 1040.5 854.2 1043.6Z" fill="#FFD700" stroke="#FFD700" stroke-width="1.2" opacity="0.85"/>
<path d="M800.3 1000.6C801.2 1000.6 802 1000.2 807.3 1003.6C812.5 1007 823.4 1015 831.6 1021.3C839.7 1027.5 847.9 1034.3 856.1 1041.2C864.3 1048.1 872.5 1055.4 880.8 1062.8C889 1070.1 897.3 1077.7 905.5 1085.5C913.8 1093.2 922.1 1101 930.4 1109.4C938.7 1117.7 947.5 1126.8 955.4 1135.5C963.4 1144.3 971.8 1153.5 978.2 1161.9C984.7 1170.4 990.9 1180.6 994.2 1186C997.4 1191.4 998 1192.9 997.8 1194.2C997.5 1195.4 996.6 1196.4 992.9 1193.5C989.2 1190.7 982.7 1183.8 975.7 1177C968.7 1170.2 959.2 1161 951 1153C942.7 1145 934.5 1137 926.2 1129C918 1121 909.7 1113.2 901.4 1105.1C893.1 1097 884.8 1088.6 876.4 1080.2C868 1071.7 859.2 1062.6 851.2 1054.2C843.1 1045.7 835 1036.8 828.2 1029.6C821.4 1022.4 814.9 1015.5 810.4 1011.2C806 1006.8 803.4 1005.4 801.7 1003.6C800.1 1001.8 799.3 1000.6 800.3 1000.6ZM878.6 1071.2C879.5 1070.8 881 1070.6 884.2 1072.4C887.3 1074.1 891.9 1077.1 897.4 1081.6C902.9 1086.1 910.5 1093.1 917.1 1099.4C923.7 1105.7 930.4 1112.4 937.1 1119.4C943.8 1126.5 951.7 1135.1 957.3 1141.7C962.8 1148.2 967.3 1154.4 970.2 1158.7C973.2 1163.1 974.9 1166 975 1167.7C975.1 1169.3 973.6 1170.2 970.8 1168.7C968 1167.2 963.6 1163.4 958.2 1158.7C952.9 1154.1 945.2 1147 938.6 1140.9C932 1134.7 925.4 1128.4 918.8 1121.9C912.2 1115.5 904.7 1108.1 898.8 1101.9C892.9 1095.7 886.9 1089.2 883.5 1084.7C880.1 1080.2 879.2 1077.2 878.4 1074.9C877.5 1072.7 877.6 1071.7 878.6 1071.2Z" fill="#99FF99" fill-opacity="0.85" fill-rule="evenodd"/>
<path d="M878.6 1071.2C879.5 1070.8 881 1070.6 884.2 1072.4C887.3 1074.1 891.9 1077.1 897.4 1081.6C902.9 1086.1 910.5 1093.1 917.1 1099.4C923.7 1105.7 930.4 1112.4 937.1 1119.4C943.8 1126.5 951.7 1135.1 957.3 1141.7C962.8 1148.2 967.3 1154.4 970.2 1158.7C973.2 1163.1 974.9 1166 975 1167.7C975.1 1169.3 973.6 1170.2 970.8 1168.7C968 1167.2 963.6 1163.4 958.2 1158.7C952.9 1154.1 945.2 1147 938.6 1140.9C932 1134.7 925.4 1128.4 918.8 1121.9C912.2 1115.5 904.7 1108.1 898.8 1101.9C892.9 1095.7 886.9 1089.2 883.5 1084.7C880.1 1080.2 879.2 1077.2 878.4 1074.9C877.5 1072.7 877.6 1071.7 878.6 1071.2Z" fill="#00FF00" stroke="#00FF00" stroke-width="1.2" opacity="0.85"/>
<path d="M800.8 1001.3C801.5 1001.2 802.2 1000.9 807.3 1004.3C812.5 1007.7 823.5 1015.5 831.6 1021.7C839.7 1028 847.9 1034.7 856.2 1041.7C864.4 1048.6 872.6 1055.8 880.8 1063.2C889.1 1070.6 897.3 1078.2 905.6 1085.9C913.9 1093.7 922.1 1101.5 930.4 1109.8C938.8 1118.1 947.9 1127.5 955.5 1136C963.1 1144.4 970 1152.7 975.9 1160.5C981.7 1168.4 987.9 1178.8 990.6 1183.3C993.3 1187.9 992.7 1187.3 992.2 1187.9C991.8 1188.5 991.4 1189.8 987.7 1186.9C984.1 1184.1 977.6 1177.5 970.6 1170.9C963.6 1164.2 954.1 1154.8 945.9 1146.8C937.6 1138.8 929.4 1130.9 921.1 1122.9C912.8 1114.9 904.6 1107.1 896.3 1099C888 1090.9 879.2 1082.1 871.2 1074.1C863.3 1066 855.7 1058.2 848.5 1050.6C841.3 1043 834 1034.8 828.1 1028.5C822.1 1022.2 817 1016.5 812.8 1012.5C808.6 1008.6 805 1006.7 803 1004.8C801 1003 800.1 1001.4 800.8 1001.3ZM877.9 1071.6C878.8 1071.2 880 1070.6 883.1 1072.2C886.1 1073.9 890.8 1077 896.3 1081.5C901.8 1086 909.4 1092.9 916 1099.2C922.6 1105.5 929.3 1112.2 936 1119.3C942.7 1126.3 950.6 1135 956.2 1141.6C961.7 1148.1 966.1 1154.4 969.1 1158.6C972.1 1162.8 973.9 1165.3 974 1166.9C974.2 1168.5 972.9 1169.4 970.2 1168C967.6 1166.5 963.5 1162.9 958.2 1158.3C952.9 1153.7 945.1 1146.6 938.5 1140.4C932 1134.3 925.4 1128 918.7 1121.5C912.1 1115 904.6 1107.7 898.8 1101.5C892.9 1095.3 887 1088.7 883.5 1084.3C880 1079.9 878.8 1077 877.9 1074.9C877 1072.8 877.1 1072 877.9 1071.6Z" fill="#FF9999" fill-opacity="0.85" fill-rule="evenodd"/>
<path d="M877.9 1071.6C878.8 1071.2 880 1070.6 883.1 1072.2C886.1 1073.9 890.8 1077 896.3 1081.5C901.8 1086 909.4 1092.9 916 1099.2C922.6 1105.5 929.3 1112.2 936 1119.3C942.7 1126.3 950.6 1135 956.2 1141.6C961.7 1148.1 966.1 1154.4 969.1 1158.6C972.1 1162.8 973.9 1165.3 974 1166.9C974.2 1168.5 972.9 1169.4 970.2 1168C967.6 1166.5 963.5 1162.9 958.2 1158.3C952.9 1153.7 945.1 1146.6 938.5 1140.4C932 1134.3 925.4 1128 918.7 1121.5C912.1 1115 904.6 1107.7 898.8 1101.5C892.9 1095.3 887 1088.7 883.5 1084.3C880 1079.9 878.8 1077 877.9 1074.9C877 1072.8 877.1 1072 877.9 1071.6Z" fill="#FF0000" stroke="#FF0000" stroke-width="1.2" opacity="0.85"/>
<path d="M729.2 939.5C729.8 939.2 730.8 938.7 732.6 939.8C734.4 941 738 944.7 740.1 946.5C742.3 948.4 744.3 950.5 745.6 950.8C746.8 951.2 745.6 947.9 747.5 948.9C749.4 949.9 753.4 954.1 757 957.1C760.7 960.2 764.4 963.1 769.4 967.2C774.4 971.4 780.6 977 786.8 982.3C793 987.5 799.2 992.4 806.6 998.7C814.1 1005 823.2 1013.2 831.4 1020.2C839.6 1027.1 847.8 1033.6 856 1040.6C864.2 1047.5 872.5 1054.7 880.7 1062.1C888.9 1069.5 897.2 1077 905.5 1084.8C913.7 1092.6 922 1100.3 930.3 1108.7C938.6 1117 947 1125.9 955.3 1134.9C963.7 1143.8 972.1 1152.7 980.5 1162.2C988.9 1171.7 998.1 1182.5 1005.8 1191.9C1013.4 1201.3 1020.7 1210.7 1026.3 1218.8C1032 1226.9 1036.9 1235.3 1039.7 1240.5C1042.4 1245.6 1042.7 1248 1042.9 1249.7C1043.1 1251.4 1043.2 1252 1040.8 1250.5C1038.5 1249.1 1034.2 1246.2 1028.9 1241.2C1023.6 1236.3 1016.5 1228.4 1009.2 1221C1001.8 1213.6 992.8 1204.9 984.6 1196.9C976.4 1188.8 968.2 1181 959.9 1172.8C951.7 1164.6 943.3 1155.8 935 1147.7C926.8 1139.5 918.5 1131.7 910.3 1123.7C902 1115.8 893.7 1108 885.4 1099.9C877.1 1091.7 868.7 1083.2 860.4 1074.9C852 1066.6 843.7 1058.5 835.2 1050.1C826.8 1041.6 818.4 1033.2 809.9 1024.2C801.4 1015.2 791.1 1003.8 784.2 996.1C777.4 988.4 772.7 982.3 768.6 978C764.6 973.7 761.9 972 759.9 970.5C757.9 969 759.1 971.1 756.4 969C753.7 966.9 747.7 961.5 743.8 957.8C740 954.1 736 949.6 733.5 946.9C731.1 944.2 729.8 942.8 729.1 941.6C728.3 940.4 728.6 939.8 729.2 939.5Z" fill="none" stroke="#00008B" stroke-opacity="0.62" stroke-width="1.9"/>
<path d="M760.1 964C761.4 964.2 763.5 964.6 767.2 967C770.8 969.4 775.3 973 781.9 978.5C788.5 983.9 798.5 992.9 806.8 999.8C815 1006.8 823.2 1013.4 831.4 1020.2C839.6 1027 847.8 1033.6 856 1040.6C864.2 1047.5 872.5 1054.7 880.7 1062.1C888.9 1069.5 897.2 1077 905.5 1084.8C913.7 1092.6 922 1100.3 930.3 1108.7C938.6 1117 947 1125.9 955.3 1134.9C963.7 1143.8 972.1 1152.7 980.5 1162.2C988.9 1171.7 998.1 1182.5 1005.8 1191.9C1013.4 1201.3 1021.1 1211.2 1026.3 1218.8C1031.5 1226.5 1035.1 1233.6 1037.2 1237.9C1039.3 1242.2 1039.7 1244.1 1039.1 1244.8C1038.4 1245.4 1036.7 1244.8 1033.3 1241.8C1029.9 1238.8 1024.7 1232.8 1018.5 1226.6C1012.4 1220.5 1004.2 1212.6 996.4 1205C988.6 1197.4 980 1188.9 971.8 1180.9C963.6 1172.9 955.3 1164.9 947.1 1156.9C938.8 1148.9 930.6 1140.9 922.3 1132.9C914.1 1124.9 905.8 1117.1 897.5 1109C889.2 1100.9 880.9 1092.5 872.5 1084C864.1 1075.6 855.7 1066.7 847.3 1058.1C838.8 1049.4 830 1040.7 822 1032.1C813.9 1023.5 806.1 1014.5 798.8 1006.5C791.5 998.6 784.3 990.7 778.3 984.6C772.4 978.4 766.3 972.9 763.1 969.8C759.9 966.7 759.8 967.1 759.3 966.1C758.8 965.1 758.8 963.9 760.1 964Z" fill="none" stroke="#FFD700" stroke-opacity="0.62" stroke-width="1.9"/>
<path d="M800.3 1000.6C801.2 1000.6 802 1000.2 807.3 1003.6C812.5 1007 823.4 1015 831.6 1021.3C839.7 1027.5 847.9 1034.3 856.1 1041.2C864.3 1048.1 872.5 1055.4 880.8 1062.8C889 1070.1 897.3 1077.7 905.5 1085.5C913.8 1093.2 922.1 1101 930.4 1109.4C938.7 1117.7 947.5 1126.8 955.4 1135.5C963.4 1144.3 971.8 1153.5 978.2 1161.9C984.7 1170.4 990.9 1180.6 994.2 1186C997.4 1191.4 998 1192.9 997.8 1194.2C997.5 1195.4 996.6 1196.4 992.9 1193.5C989.2 1190.7 982.7 1183.8 975.7 1177C968.7 1170.2 959.2 1161 951 1153C942.7 1145 934.5 1137 926.2 1129C918 1121 909.7 1113.2 901.4 1105.1C893.1 1097 884.8 1088.6 876.4 1080.2C868 1071.7 859.2 1062.6 851.2 1054.2C843.1 1045.7 835 1036.8 828.2 1029.6C821.4 1022.4 814.9 1015.5 810.4 1011.2C806 1006.8 803.4 1005.4 801.7 1003.6C800.1 1001.8 799.3 1000.6 800.3 1000.6Z" fill="none" stroke="#00FF00" stroke-opacity="0.62" stroke-width="1.9"/>
<path d="M800.8 1001.3C801.5 1001.2 802.2 1000.9 807.3 1004.3C812.5 1007.7 823.5 1015.5 831.6 1021.7C839.7 1028 847.9 1034.7 856.2 1041.7C864.4 1048.6 872.6 1055.8 880.8 1063.2C889.1 1070.6 897.3 1078.2 905.6 1085.9C913.9 1093.7 922.1 1101.5 930.4 1109.8C938.8 1118.1 947.9 1127.5 955.5 1136C963.1 1144.4 970 1152.7 975.9 1160.5C981.7 1168.4 987.9 1178.8 990.6 1183.3C993.3 1187.9 992.7 1187.3 992.2 1187.9C991.8 1188.5 991.4 1189.8 987.7 1186.9C984.1 1184.1 977.6 1177.5 970.6 1170.9C963.6 1164.2 954.1 1154.8 945.9 1146.8C937.6 1138.8 929.4 1130.9 921.1 1122.9C912.8 1114.9 904.6 1107.1 896.3 1099C888 1090.9 879.2 1082.1 871.2 1074.1C863.3 1066 855.7 1058.2 848.5 1050.6C841.3 1043 834 1034.8 828.1 1028.5C822.1 1022.2 817 1016.5 812.8 1012.5C808.6 1008.6 805 1006.7 803 1004.8C801 1003 800.1 1001.4 800.8 1001.3Z" fill="none" stroke="#FF0000" stroke-opacity="0.62" stroke-width="1.9"/>
</g>
<g clip-path="url(#cp22)">
<path d="M1072.2 1287.3C1074.5 1287.1 1080.8 1287.1 1086 1286.3C1091.2 1285.5 1098.3 1284.6 1103.5 1282.3C1108.7 1280 1113.5 1276 1117.2 1272.3C1121 1268.5 1122.5 1266 1126 1259.8C1129.4 1253.6 1134.7 1243.1 1138 1234.8C1141.2 1226.5 1142.5 1222.3 1145.5 1209.8C1148.5 1197.3 1152.9 1176.5 1156 1159.9C1159 1143.2 1161.5 1126.5 1164 1109.9C1166.4 1093.2 1168.4 1076.6 1170.9 1059.9C1173.4 1043.2 1176 1026.6 1178.9 1009.9C1181.9 993.3 1185.9 972.4 1188.4 960C1190.9 947.5 1191.9 942.5 1193.9 935C1195.9 927.5 1199.1 919.1 1200.4 915C1201.8 910.9 1201.6 911.7 1202.1 910.4C1202.7 909 1203.2 908 1203.8 907.1C1204.4 906.2 1204.9 905.5 1205.5 905.1C1206.1 904.7 1206.6 904.5 1207.2 904.5C1207.8 904.5 1208.4 904.7 1209.1 905.1C1209.7 905.5 1210.3 906.2 1210.9 907.1C1211.6 908 1212.2 909 1212.8 910.4C1213.4 911.7 1213.1 910.9 1214.7 915C1216.2 919.1 1219.8 927.5 1222.2 935C1224.5 942.5 1226.5 951.6 1228.9 960C1231.3 968.3 1233.9 976.6 1236.4 984.9C1238.9 993.3 1241 997.4 1243.9 1009.9C1246.8 1022.4 1250.2 1043.2 1253.9 1059.9C1257.6 1076.6 1261.5 1093.2 1265.9 1109.9C1270.3 1126.5 1276.2 1146.1 1280.4 1159.9C1284.6 1173.6 1287.7 1184 1290.9 1192.3C1294.1 1200.7 1296.9 1204.8 1299.6 1209.8C1302.3 1214.8 1304.4 1218.2 1307.1 1222.3C1309.8 1226.5 1311.9 1230.6 1315.9 1234.8C1319.8 1239 1325.9 1244 1330.9 1247.3C1335.9 1250.6 1340 1252.3 1345.9 1254.8C1351.7 1257.3 1358.8 1259.8 1365.9 1262.3C1372.9 1264.8 1381.7 1267.5 1388.3 1269.8C1395 1272.1 1400.4 1274.2 1405.8 1276C1411.2 1277.9 1415 1279.6 1420.8 1281C1426.7 1282.5 1431.7 1283.8 1440.8 1284.8C1450 1285.8 1470 1286.7 1475.8 1287" fill="none" stroke="#00008B" stroke-width="7.2" stroke-linejoin="round" stroke-linecap="butt"/>
<path d="M1072.2 1287.3C1075.8 1287.1 1087.2 1287.1 1093.5 1286.3C1099.7 1285.5 1104.9 1284.6 1109.7 1282.3C1114.5 1280 1118.7 1276 1122.2 1272.3C1125.8 1268.5 1127.6 1266 1131 1259.8C1134.3 1253.6 1139.1 1243.1 1142.2 1234.8C1145.3 1226.5 1146.7 1222.3 1149.7 1209.8C1152.7 1197.3 1157.4 1176.5 1160.5 1159.9C1163.5 1143.2 1165.6 1126.5 1167.9 1109.9C1170.3 1093.2 1172.3 1076.6 1174.7 1059.9C1177.1 1043.2 1179.5 1026.6 1182.2 1009.9C1184.9 993.3 1188.6 972.4 1190.9 960C1193.3 947.5 1194.6 942.5 1196.4 935C1198.3 927.5 1200.9 919.1 1202.2 915C1203.4 910.9 1203.3 911.7 1203.9 910.4C1204.4 909 1205 908 1205.6 907.1C1206.1 906.2 1206.7 905.5 1207.2 905.1C1207.8 904.7 1208.4 904.5 1208.9 904.5C1209.5 904.5 1210.1 904.7 1210.7 905.1C1211.3 905.5 1211.8 906.2 1212.4 907.1C1213 908 1213.6 909 1214.2 910.4C1214.8 911.7 1214.4 910.9 1215.9 915C1217.5 919.1 1221 927.5 1223.4 935C1225.8 942.5 1226.3 947.5 1230.4 960C1234.6 972.4 1242.3 993.3 1248.4 1009.9C1254.5 1026.6 1261.3 1043.2 1267.1 1059.9C1273 1076.6 1279.8 1097.4 1283.4 1109.9C1287 1122.4 1286.9 1126.5 1288.9 1134.9C1290.8 1143.2 1293 1151.5 1295.1 1159.9C1297.3 1168.2 1299.2 1176.5 1301.6 1184.8C1304 1193.2 1307.5 1203.6 1309.6 1209.8C1311.8 1216.1 1312.8 1218.2 1314.6 1222.3C1316.5 1226.5 1318.2 1230.6 1320.9 1234.8C1323.6 1239 1326.7 1243.1 1330.9 1247.3C1335 1251.5 1340 1256.1 1345.9 1259.8C1351.7 1263.5 1358.8 1266.9 1365.9 1269.8C1372.9 1272.7 1380.8 1275.2 1388.3 1277.3C1395.8 1279.4 1402.1 1280.9 1410.8 1282.3C1419.6 1283.7 1430 1284.7 1440.8 1285.5C1451.6 1286.3 1470 1286.8 1475.8 1287" fill="none" stroke="#FFFF00" stroke-width="7.2" stroke-linejoin="round" stroke-linecap="butt"/>
<path d="M1072.2 1287.3C1086 1287.1 1139.5 1287.1 1154.7 1286.3C1169.9 1285.5 1161 1284.6 1163.5 1282.3C1166 1280 1167.8 1276 1169.7 1272.3C1171.6 1268.5 1172.8 1266 1174.7 1259.8C1176.6 1253.6 1179.3 1243.1 1180.9 1234.8C1182.6 1226.5 1183 1222.3 1184.7 1209.8C1186.4 1197.3 1189.1 1176.5 1190.9 1159.9C1192.8 1143.2 1194.3 1126.5 1195.9 1109.9C1197.6 1093.2 1199.3 1076.6 1200.9 1059.9C1202.5 1043.2 1203.8 1026.6 1205.4 1009.9C1207.1 993.3 1209.5 972.4 1210.9 960C1212.3 947.5 1212.8 942.5 1213.9 935C1215.1 927.5 1216.8 919.1 1217.7 915C1218.5 910.9 1218.6 911.7 1219.1 910.4C1219.6 909 1220.1 908 1220.5 907.1C1221 906.2 1221.5 905.5 1222 905.1C1222.5 904.7 1222.9 904.5 1223.4 904.5C1224 904.5 1224.7 904.7 1225.3 905.1C1225.9 905.5 1226.5 906.2 1227.2 907.1C1227.8 908 1228.4 909 1229 910.4C1229.7 911.7 1229.8 910.9 1230.9 915C1232.1 919.1 1234.5 927.5 1235.9 935C1237.4 942.5 1237.8 947.5 1239.7 960C1241.5 972.4 1244.7 993.3 1247.2 1009.9C1249.7 1026.6 1252.3 1043.2 1254.7 1059.9C1257 1076.6 1259 1093.2 1261.4 1109.9C1263.8 1126.5 1266.9 1147.4 1268.9 1159.9C1270.9 1172.3 1271.4 1176.5 1273.4 1184.8C1275.4 1193.2 1278.8 1203.6 1280.9 1209.8C1283 1216.1 1284 1218.2 1285.9 1222.3C1287.8 1226.5 1289.6 1230.6 1292.1 1234.8C1294.6 1239 1297.6 1243.1 1300.9 1247.3C1304.2 1251.5 1308 1256.1 1312.1 1259.8C1316.3 1263.5 1320.7 1266.9 1325.9 1269.8C1331.1 1272.7 1337.5 1275.2 1343.4 1277.3C1349.2 1279.4 1354.6 1280.9 1360.9 1282.3C1367.1 1283.7 1373.8 1284.7 1380.8 1285.5C1387.9 1286.3 1387.5 1286.7 1403.3 1287C1419.2 1287.3 1463.7 1287.2 1475.8 1287.3" fill="none" stroke="#00FF00" stroke-width="7.2" stroke-linejoin="round" stroke-linecap="butt"/>
<path d="M1072.2 1287.3C1087.7 1287.1 1148 1287.1 1164.7 1286.3C1181.4 1285.5 1169.8 1284.6 1172.2 1282.3C1174.6 1280 1177.1 1276 1178.9 1272.3C1180.8 1268.5 1181.7 1266 1183.4 1259.8C1185.2 1253.6 1188 1243.1 1189.7 1234.8C1191.4 1226.5 1191.8 1222.3 1193.4 1209.8C1195.1 1197.3 1197.8 1176.5 1199.7 1159.9C1201.6 1143.2 1203 1126.5 1204.7 1109.9C1206.3 1093.2 1208 1076.6 1209.7 1059.9C1211.3 1043.2 1212.9 1026.6 1214.7 1009.9C1216.5 993.3 1218.9 972.4 1220.4 960C1222 947.5 1222.6 942.5 1223.9 935C1225.3 927.5 1227.4 919.1 1228.4 915C1229.4 910.9 1229.5 911.7 1230 910.4C1230.5 909 1231 908 1231.5 907.1C1232.1 906.2 1232.6 905.5 1233.1 905.1C1233.6 904.7 1234.1 904.5 1234.7 904.5C1235.2 904.5 1235.9 904.7 1236.5 905.1C1237.2 905.5 1237.8 906.2 1238.4 907.1C1239 908 1239.7 909 1240.3 910.4C1240.9 911.7 1241 910.9 1242.2 915C1243.3 919.1 1245.5 927.5 1247.2 935C1248.8 942.5 1249.9 947.5 1252.2 960C1254.4 972.4 1257.9 993.3 1260.4 1009.9C1262.9 1026.6 1265 1043.2 1267.1 1059.9C1269.3 1076.6 1271.1 1093.2 1273.4 1109.9C1275.7 1126.5 1278.8 1147.4 1280.9 1159.9C1283 1172.3 1283.8 1176.5 1285.9 1184.8C1288 1193.2 1291.3 1203.6 1293.4 1209.8C1295.5 1216.1 1296.5 1218.2 1298.4 1222.3C1300.3 1226.5 1302.1 1230.6 1304.6 1234.8C1307.1 1239 1310 1243.1 1313.4 1247.3C1316.7 1251.5 1320.5 1256.1 1324.6 1259.8C1328.8 1263.5 1334 1267.3 1338.4 1269.8C1342.7 1272.3 1346.3 1273.6 1350.9 1274.8C1355.4 1276 1361.7 1275.8 1365.9 1276.8C1370 1277.8 1372.1 1279.7 1375.8 1281C1379.6 1282.4 1383.8 1283.8 1388.3 1284.8C1392.9 1285.7 1388.8 1286.4 1403.3 1286.8C1417.9 1287.2 1463.7 1287.2 1475.8 1287.3" fill="none" stroke="#FF0000" stroke-width="7.2" stroke-linejoin="round" stroke-linecap="butt"/>
</g>
<g clip-path="url(#cp30)">
<path d="M434.9 1287.5C444.1 1285 453.6 1282.2 462.4 1280.8C471.1 1279.3 479.1 1278.6 487.4 1279C495.7 1279.4 506.1 1281.8 512.4 1283.2C518.6 1284.7 518.6 1284.8 524.9 1287.5C531.1 1290.2 541.5 1295 549.9 1299.5C558.2 1304 566.5 1308.2 574.8 1314.5C583.2 1320.7 592.7 1329.1 599.8 1337C606.9 1344.9 612.5 1353.2 617.3 1362C622.1 1370.7 626.1 1380.3 628.6 1389.4C631.1 1398.6 631.9 1407.8 632.3 1416.9C632.7 1426.1 632.3 1434.8 631.1 1444.4C629.8 1454 627.5 1464.4 624.8 1474.4C622.1 1484.4 618.6 1494.4 614.8 1504.4C611.1 1514.4 606.9 1524.4 602.3 1534.4C597.7 1544.4 592.7 1554.4 587.3 1564.4C581.9 1574.4 576.1 1584.8 569.8 1594.3C563.6 1603.9 556.9 1613.5 549.9 1621.8C542.8 1630.2 535.3 1637.7 527.4 1644.3C519.4 1651 511.1 1656.8 502.4 1661.8C493.6 1666.8 484.5 1670.8 474.9 1674.3C465.3 1677.8 454.9 1680.8 444.9 1683C434.9 1685.3 424.1 1687.2 414.9 1688C405.8 1688.9 398.3 1689.1 389.9 1688C381.6 1687 372.9 1684.5 364.9 1681.8C357 1679.1 349.5 1676 342.5 1671.8C335.4 1667.6 328.7 1662.6 322.5 1656.8C316.2 1651 310.2 1644.3 305 1636.8C299.8 1629.3 295.2 1621 291.2 1611.8C287.3 1602.7 283.9 1591.8 281.2 1581.9C278.5 1571.9 276.4 1561.9 275 1551.9C273.6 1541.9 273.1 1531.9 273 1521.9C272.9 1511.9 273.4 1501.9 274.5 1491.9C275.6 1481.9 277.3 1471.9 279.5 1461.9C281.7 1451.9 284.1 1441.9 287.5 1431.9C290.9 1421.9 295.4 1411.5 300 1401.9C304.6 1392.4 309.1 1383.2 315 1374.5C320.8 1365.7 327.9 1357.4 335 1349.5C342 1341.6 349.5 1333.8 357.4 1327C365.4 1320.1 374.1 1313.4 382.4 1308.2C390.8 1303 398.7 1299.2 407.4 1295.7C416.2 1292.3 425.7 1290 434.9 1287.5Z" fill="#9999D1"/>
<path d="M337.5 1501.9C337.1 1494.4 337.1 1485.2 338 1476.9C338.8 1468.6 340 1460.2 342.5 1451.9C344.9 1443.6 348.7 1434.8 352.4 1426.9C356.2 1419 360.4 1411.3 364.9 1404.4C369.5 1397.6 374.5 1391.3 379.9 1385.7C385.3 1380.1 391.2 1375.1 397.4 1370.7C403.7 1366.3 410.3 1362.5 417.4 1359.5C424.5 1356.4 432.4 1354.1 439.9 1352.5C447.4 1350.8 454.9 1349.8 462.4 1349.5C469.9 1349.2 477.4 1349.5 484.9 1350.7C492.4 1352 500.3 1354 507.4 1357C514.5 1359.9 521.1 1363.6 527.4 1368.2C533.6 1372.8 539.9 1378.4 544.9 1384.4C549.9 1390.5 554.2 1397.4 557.3 1404.4C560.5 1411.5 562.6 1419 563.6 1426.9C564.6 1434.8 564.4 1443.2 563.6 1451.9C562.8 1460.7 560.9 1470.2 558.6 1479.4C556.3 1488.6 553.4 1498.1 549.9 1506.9C546.3 1515.6 541.9 1524 537.4 1531.9C532.8 1539.8 527.8 1547.3 522.4 1554.4C516.9 1561.4 511.1 1568.1 504.9 1574.4C498.6 1580.6 492 1586.8 484.9 1591.8C477.8 1596.8 469.9 1601 462.4 1604.3C454.9 1607.7 447 1610.2 439.9 1611.8C432.8 1613.5 426.6 1614.5 419.9 1614.3C413.3 1614.1 406.2 1612.7 399.9 1610.6C393.7 1608.5 387.8 1605.8 382.4 1601.8C377 1597.9 372 1592.7 367.4 1586.8C362.9 1581 358.5 1573.9 354.9 1566.9C351.4 1559.8 348.7 1551.9 346.2 1544.4C343.7 1536.9 341.4 1529 340 1521.9C338.5 1514.8 337.8 1509.4 337.5 1501.9Z" fill="#00008B"/>
<path d="M534.9 1308.2C539 1308.2 543.2 1308.9 547.4 1310.7C551.5 1312.6 556.1 1315.5 559.8 1319.5C563.6 1323.4 566.9 1328.6 569.8 1334.5C572.8 1340.3 575.3 1347 577.3 1354.5C579.3 1362 580.9 1370.7 581.8 1379.5C582.8 1388.2 582.8 1397.4 582.8 1406.9C582.9 1416.5 582.8 1426.9 582.3 1436.9C581.9 1446.9 581.1 1456.9 580.3 1466.9C579.6 1476.9 578.7 1486.9 577.8 1496.9C577 1506.9 576 1516.9 575.3 1526.9C574.6 1536.9 574.3 1547.7 573.6 1556.9C572.9 1566 572.1 1573.5 571.1 1581.9C570 1590.2 568.8 1598.9 567.3 1606.8C565.9 1614.8 564.2 1622.7 562.3 1629.3C560.5 1636 558.6 1641.8 556.1 1646.8C553.6 1651.8 550.5 1656.2 547.4 1659.3C544.2 1662.4 540.7 1664.9 537.4 1665.6C534 1666.2 530.7 1665.3 527.4 1663.1C524 1660.8 520.5 1656.6 517.4 1651.8C514.2 1647 511.3 1641 508.6 1634.3C505.9 1627.7 503.2 1619.7 501.1 1611.8C499 1603.9 497.6 1595.2 496.1 1586.8C494.7 1578.5 493.4 1571 492.4 1561.9C491.3 1552.7 490.5 1541.9 489.9 1531.9C489.3 1521.9 489 1511.9 488.6 1501.9C488.2 1491.9 487.9 1481.9 487.4 1471.9C486.8 1461.9 486 1451.9 485.4 1441.9C484.8 1431.9 483.7 1421.9 483.6 1411.9C483.5 1401.9 483.8 1391.1 484.9 1382C485.9 1372.8 487.6 1364.9 489.9 1357C492.2 1349 495.3 1340.7 498.6 1334.5C502 1328.2 505.9 1323.4 509.9 1319.5C513.8 1315.5 518.2 1312.6 522.4 1310.7C526.5 1308.9 530.7 1308.2 534.9 1308.2ZM537.4 1352C540.2 1351.8 544.4 1353.4 547.4 1355.7C550.3 1358 552.7 1361.3 554.8 1365.7C557 1370.1 558.9 1375.9 560.3 1382C561.8 1388 562.9 1394.9 563.6 1401.9C564.3 1409 564.3 1416.5 564.3 1424.4C564.3 1432.3 564 1441.1 563.6 1449.4C563.2 1457.7 562.5 1466.1 561.8 1474.4C561.2 1482.7 560.5 1491.1 559.8 1499.4C559.2 1507.7 558.6 1516.5 557.8 1524.4C557.1 1532.3 556.5 1539.4 555.3 1546.9C554.2 1554.4 552.6 1562.7 551.1 1569.4C549.6 1576 548 1582.1 546.1 1586.8C544.2 1591.6 542.1 1595.8 539.9 1598.1C537.6 1600.4 534.9 1601.2 532.4 1600.6C529.9 1600 527 1597.9 524.9 1594.3C522.7 1590.8 520.9 1585.2 519.4 1579.4C517.8 1573.5 516.5 1566.4 515.4 1559.4C514.3 1552.3 513.5 1544.8 512.9 1536.9C512.3 1529 512 1520.2 511.9 1511.9C511.7 1503.6 511.6 1495.2 511.9 1486.9C512.2 1478.6 512.9 1470.2 513.6 1461.9C514.3 1453.6 515.3 1445.3 516.1 1436.9C516.9 1428.6 517.8 1419.8 518.6 1411.9C519.4 1404 520.1 1396.5 521.1 1389.4C522.2 1382.4 523.3 1374.9 524.9 1369.5C526.4 1364 528.3 1359.9 530.4 1357C532.4 1354 534.5 1352.2 537.4 1352Z" fill="#FFEF99" fill-opacity="0.85" fill-rule="evenodd"/>
<path d="M537.4 1352C540.2 1351.8 544.4 1353.4 547.4 1355.7C550.3 1358 552.7 1361.3 554.8 1365.7C557 1370.1 558.9 1375.9 560.3 1382C561.8 1388 562.9 1394.9 563.6 1401.9C564.3 1409 564.3 1416.5 564.3 1424.4C564.3 1432.3 564 1441.1 563.6 1449.4C563.2 1457.7 562.5 1466.1 561.8 1474.4C561.2 1482.7 560.5 1491.1 559.8 1499.4C559.2 1507.7 558.6 1516.5 557.8 1524.4C557.1 1532.3 556.5 1539.4 555.3 1546.9C554.2 1554.4 552.6 1562.7 551.1 1569.4C549.6 1576 548 1582.1 546.1 1586.8C544.2 1591.6 542.1 1595.8 539.9 1598.1C537.6 1600.4 534.9 1601.2 532.4 1600.6C529.9 1600 527 1597.9 524.9 1594.3C522.7 1590.8 520.9 1585.2 519.4 1579.4C517.8 1573.5 516.5 1566.4 515.4 1559.4C514.3 1552.3 513.5 1544.8 512.9 1536.9C512.3 1529 512 1520.2 511.9 1511.9C511.7 1503.6 511.6 1495.2 511.9 1486.9C512.2 1478.6 512.9 1470.2 513.6 1461.9C514.3 1453.6 515.3 1445.3 516.1 1436.9C516.9 1428.6 517.8 1419.8 518.6 1411.9C519.4 1404 520.1 1396.5 521.1 1389.4C522.2 1382.4 523.3 1374.9 524.9 1369.5C526.4 1364 528.3 1359.9 530.4 1357C532.4 1354 534.5 1352.2 537.4 1352Z" fill="#FFD700" stroke="#FFD700" stroke-width="1.2" opacity="0.85"/>
<path d="M474.9 1325.7C479.5 1326 484.9 1326.6 489.9 1328.2C494.9 1329.9 500.3 1332.4 504.9 1335.7C509.5 1339.1 514 1343.4 517.4 1348.2C520.7 1353 523 1358.4 524.9 1364.5C526.7 1370.5 528.1 1377.4 528.6 1384.4C529.1 1391.5 528.6 1399.4 527.9 1406.9C527.2 1414.4 525.9 1421.9 524.4 1429.4C522.8 1436.9 520.8 1444.4 518.6 1451.9C516.4 1459.4 513.8 1466.9 511.1 1474.4C508.4 1481.9 505.3 1489.8 502.4 1496.9C499.5 1504 496.5 1511.5 493.6 1516.9C490.7 1522.3 487.8 1526.5 484.9 1529.4C482 1532.2 479.1 1533.9 476.1 1533.9C473.2 1533.9 470.5 1531.8 467.4 1529.4C464.3 1527 460.7 1523.5 457.4 1519.4C454.1 1515.2 450.7 1509.8 447.4 1504.4C444.1 1499 440.5 1493.1 437.4 1486.9C434.3 1480.7 431.2 1474 428.7 1466.9C426.2 1459.8 424.2 1451.9 422.4 1444.4C420.6 1436.9 419 1429.4 417.9 1421.9C416.9 1414.4 416 1406.9 416.2 1399.4C416.3 1391.9 417.2 1384 418.7 1377C420.1 1369.9 422 1363 424.9 1357C427.8 1350.9 432 1345.1 436.2 1340.7C440.3 1336.3 445.5 1333.1 449.9 1330.7C454.3 1328.4 458.2 1327.3 462.4 1326.5C466.6 1325.6 470.3 1325.4 474.9 1325.7ZM472.4 1349C476.6 1348.8 480.9 1349.4 484.9 1350.7C488.8 1352 493 1354 496.1 1357C499.3 1359.9 501.7 1364 503.6 1368.2C505.5 1372.4 506.7 1376.7 507.4 1382C508 1387.2 508 1393.6 507.4 1399.4C506.7 1405.3 505.3 1411.1 503.6 1416.9C502 1422.8 499.7 1429 497.4 1434.4C495.1 1439.8 492.6 1444.8 489.9 1449.4C487.2 1454 484 1458.9 481.1 1461.9C478.2 1464.9 475.3 1467 472.4 1467.4C469.5 1467.8 466.8 1466.4 463.6 1464.4C460.5 1462.5 456.6 1459.4 453.6 1455.7C450.7 1451.9 448.4 1446.7 446.2 1441.9C443.9 1437.1 441.9 1432.3 440.4 1426.9C438.9 1421.5 437.9 1415.3 437.4 1409.4C436.9 1403.6 436.8 1397.8 437.4 1391.9C438 1386.1 439.3 1379.7 441.2 1374.5C443 1369.2 445.5 1364.5 448.7 1360.7C451.8 1357 455.9 1353.9 459.9 1352C463.9 1350 468.2 1349.2 472.4 1349Z" fill="#99FF99" fill-opacity="0.85" fill-rule="evenodd"/>
<path d="M472.4 1349C476.6 1348.8 480.9 1349.4 484.9 1350.7C488.8 1352 493 1354 496.1 1357C499.3 1359.9 501.7 1364 503.6 1368.2C505.5 1372.4 506.7 1376.7 507.4 1382C508 1387.2 508 1393.6 507.4 1399.4C506.7 1405.3 505.3 1411.1 503.6 1416.9C502 1422.8 499.7 1429 497.4 1434.4C495.1 1439.8 492.6 1444.8 489.9 1449.4C487.2 1454 484 1458.9 481.1 1461.9C478.2 1464.9 475.3 1467 472.4 1467.4C469.5 1467.8 466.8 1466.4 463.6 1464.4C460.5 1462.5 456.6 1459.4 453.6 1455.7C450.7 1451.9 448.4 1446.7 446.2 1441.9C443.9 1437.1 441.9 1432.3 440.4 1426.9C438.9 1421.5 437.9 1415.3 437.4 1409.4C436.9 1403.6 436.8 1397.8 437.4 1391.9C438 1386.1 439.3 1379.7 441.2 1374.5C443 1369.2 445.5 1364.5 448.7 1360.7C451.8 1357 455.9 1353.9 459.9 1352C463.9 1350 468.2 1349.2 472.4 1349Z" fill="#00FF00" stroke="#00FF00" stroke-width="1.2" opacity="0.85"/>
<path d="M509.9 1325.7C513 1325.6 515.7 1325.8 518.6 1327.5C521.5 1329.1 524.7 1332.1 527.4 1335.7C530.1 1339.4 532.8 1344.3 534.9 1349.5C536.9 1354.7 538.5 1360.7 539.9 1367C541.2 1373.2 542.4 1379.9 542.9 1386.9C543.4 1394 543.3 1401.9 542.9 1409.4C542.4 1416.9 541.5 1424.4 540.4 1431.9C539.2 1439.4 537.8 1446.9 536.1 1454.4C534.4 1461.9 532.4 1469.4 530.4 1476.9C528.3 1484.4 526 1492.9 523.6 1499.4C521.2 1505.8 518.8 1511.4 516.1 1515.6C513.4 1519.9 510.1 1523.2 507.4 1524.9C504.7 1526.5 502.2 1526.8 499.9 1525.6C497.6 1524.5 495.4 1521.7 493.6 1518.1C491.9 1514.6 490.4 1510 489.4 1504.4C488.3 1498.8 488 1491.5 487.4 1484.4C486.7 1477.3 486.1 1469.4 485.4 1461.9C484.6 1454.4 483.7 1446.9 482.9 1439.4C482.1 1431.9 481 1424.4 480.4 1416.9C479.8 1409.4 479.2 1401.9 479.1 1394.4C479.1 1386.9 479.1 1379 479.9 1372C480.6 1364.9 481.8 1357.8 483.6 1352C485.5 1346.1 488.4 1340.9 491.1 1337C493.8 1333 496.8 1330.1 499.9 1328.2C503 1326.4 506.7 1325.9 509.9 1325.7ZM508.6 1349C510.7 1349.2 513.8 1349.8 516.1 1352C518.4 1354.1 520.6 1357.8 522.4 1362C524.2 1366.1 525.8 1371.5 526.9 1377C527.9 1382.4 528.5 1388.6 528.6 1394.4C528.7 1400.3 528.2 1406.1 527.4 1411.9C526.5 1417.8 525.1 1423.6 523.6 1429.4C522.2 1435.3 520.3 1441.7 518.6 1446.9C516.9 1452.1 515.3 1457.2 513.6 1460.7C512 1464.1 510.3 1466.8 508.6 1467.4C507 1468 505.2 1467 503.6 1464.4C502.1 1461.8 500.6 1456.5 499.4 1451.9C498.1 1447.3 497.2 1442.3 496.1 1436.9C495 1431.5 493.7 1425.3 492.9 1419.4C492 1413.6 491.4 1407.8 491.1 1401.9C490.8 1396.1 490.7 1389.9 491.1 1384.4C491.5 1379 492.4 1374 493.6 1369.5C494.9 1364.9 497 1360.1 498.6 1357C500.3 1353.8 502 1352 503.6 1350.7C505.3 1349.4 506.5 1348.8 508.6 1349Z" fill="#FF9999" fill-opacity="0.85" fill-rule="evenodd"/>
<path d="M508.6 1349C510.7 1349.2 513.8 1349.8 516.1 1352C518.4 1354.1 520.6 1357.8 522.4 1362C524.2 1366.1 525.8 1371.5 526.9 1377C527.9 1382.4 528.5 1388.6 528.6 1394.4C528.7 1400.3 528.2 1406.1 527.4 1411.9C526.5 1417.8 525.1 1423.6 523.6 1429.4C522.2 1435.3 520.3 1441.7 518.6 1446.9C516.9 1452.1 515.3 1457.2 513.6 1460.7C512 1464.1 510.3 1466.8 508.6 1467.4C507 1468 505.2 1467 503.6 1464.4C502.1 1461.8 500.6 1456.5 499.4 1451.9C498.1 1447.3 497.2 1442.3 496.1 1436.9C495 1431.5 493.7 1425.3 492.9 1419.4C492 1413.6 491.4 1407.8 491.1 1401.9C490.8 1396.1 490.7 1389.9 491.1 1384.4C491.5 1379 492.4 1374 493.6 1369.5C494.9 1364.9 497 1360.1 498.6 1357C500.3 1353.8 502 1352 503.6 1350.7C505.3 1349.4 506.5 1348.8 508.6 1349Z" fill="#FF0000" stroke="#FF0000" stroke-width="1.2" opacity="0.85"/>
<path d="M434.9 1287.5C444.1 1285 453.6 1282.2 462.4 1280.8C471.1 1279.3 479.1 1278.6 487.4 1279C495.7 1279.4 506.1 1281.8 512.4 1283.2C518.6 1284.7 518.6 1284.8 524.9 1287.5C531.1 1290.2 541.5 1295 549.9 1299.5C558.2 1304 566.5 1308.2 574.8 1314.5C583.2 1320.7 592.7 1329.1 599.8 1337C606.9 1344.9 612.5 1353.2 617.3 1362C622.1 1370.7 626.1 1380.3 628.6 1389.4C631.1 1398.6 631.9 1407.8 632.3 1416.9C632.7 1426.1 632.3 1434.8 631.1 1444.4C629.8 1454 627.5 1464.4 624.8 1474.4C622.1 1484.4 618.6 1494.4 614.8 1504.4C611.1 1514.4 606.9 1524.4 602.3 1534.4C597.7 1544.4 592.7 1554.4 587.3 1564.4C581.9 1574.4 576.1 1584.8 569.8 1594.3C563.6 1603.9 556.9 1613.5 549.9 1621.8C542.8 1630.2 535.3 1637.7 527.4 1644.3C519.4 1651 511.1 1656.8 502.4 1661.8C493.6 1666.8 484.5 1670.8 474.9 1674.3C465.3 1677.8 454.9 1680.8 444.9 1683C434.9 1685.3 424.1 1687.2 414.9 1688C405.8 1688.9 398.3 1689.1 389.9 1688C381.6 1687 372.9 1684.5 364.9 1681.8C357 1679.1 349.5 1676 342.5 1671.8C335.4 1667.6 328.7 1662.6 322.5 1656.8C316.2 1651 310.2 1644.3 305 1636.8C299.8 1629.3 295.2 1621 291.2 1611.8C287.3 1602.7 283.9 1591.8 281.2 1581.9C278.5 1571.9 276.4 1561.9 275 1551.9C273.6 1541.9 273.1 1531.9 273 1521.9C272.9 1511.9 273.4 1501.9 274.5 1491.9C275.6 1481.9 277.3 1471.9 279.5 1461.9C281.7 1451.9 284.1 1441.9 287.5 1431.9C290.9 1421.9 295.4 1411.5 300 1401.9C304.6 1392.4 309.1 1383.2 315 1374.5C320.8 1365.7 327.9 1357.4 335 1349.5C342 1341.6 349.5 1333.8 357.4 1327C365.4 1320.1 374.1 1313.4 382.4 1308.2C390.8 1303 398.7 1299.2 407.4 1295.7C416.2 1292.3 425.7 1290 434.9 1287.5Z" fill="none" stroke="#00008B" stroke-opacity="0.62" stroke-width="1.9"/>
<path d="M534.9 1308.2C539 1308.2 543.2 1308.9 547.4 1310.7C551.5 1312.6 556.1 1315.5 559.8 1319.5C563.6 1323.4 566.9 1328.6 569.8 1334.5C572.8 1340.3 575.3 1347 577.3 1354.5C579.3 1362 580.9 1370.7 581.8 1379.5C582.8 1388.2 582.8 1397.4 582.8 1406.9C582.9 1416.5 582.8 1426.9 582.3 1436.9C581.9 1446.9 581.1 1456.9 580.3 1466.9C579.6 1476.9 578.7 1486.9 577.8 1496.9C577 1506.9 576 1516.9 575.3 1526.9C574.6 1536.9 574.3 1547.7 573.6 1556.9C572.9 1566 572.1 1573.5 571.1 1581.9C570 1590.2 568.8 1598.9 567.3 1606.8C565.9 1614.8 564.2 1622.7 562.3 1629.3C560.5 1636 558.6 1641.8 556.1 1646.8C553.6 1651.8 550.5 1656.2 547.4 1659.3C544.2 1662.4 540.7 1664.9 537.4 1665.6C534 1666.2 530.7 1665.3 527.4 1663.1C524 1660.8 520.5 1656.6 517.4 1651.8C514.2 1647 511.3 1641 508.6 1634.3C505.9 1627.7 503.2 1619.7 501.1 1611.8C499 1603.9 497.6 1595.2 496.1 1586.8C494.7 1578.5 493.4 1571 492.4 1561.9C491.3 1552.7 490.5 1541.9 489.9 1531.9C489.3 1521.9 489 1511.9 488.6 1501.9C488.2 1491.9 487.9 1481.9 487.4 1471.9C486.8 1461.9 486 1451.9 485.4 1441.9C484.8 1431.9 483.7 1421.9 483.6 1411.9C483.5 1401.9 483.8 1391.1 484.9 1382C485.9 1372.8 487.6 1364.9 489.9 1357C492.2 1349 495.3 1340.7 498.6 1334.5C502 1328.2 505.9 1323.4 509.9 1319.5C513.8 1315.5 518.2 1312.6 522.4 1310.7C526.5 1308.9 530.7 1308.2 534.9 1308.2Z" fill="none" stroke="#FFD700" stroke-opacity="0.62" stroke-width="1.9"/>
<path d="M474.9 1325.7C479.5 1326 484.9 1326.6 489.9 1328.2C494.9 1329.9 500.3 1332.4 504.9 1335.7C509.5 1339.1 514 1343.4 517.4 1348.2C520.7 1353 523 1358.4 524.9 1364.5C526.7 1370.5 528.1 1377.4 528.6 1384.4C529.1 1391.5 528.6 1399.4 527.9 1406.9C527.2 1414.4 525.9 1421.9 524.4 1429.4C522.8 1436.9 520.8 1444.4 518.6 1451.9C516.4 1459.4 513.8 1466.9 511.1 1474.4C508.4 1481.9 505.3 1489.8 502.4 1496.9C499.5 1504 496.5 1511.5 493.6 1516.9C490.7 1522.3 487.8 1526.5 484.9 1529.4C482 1532.2 479.1 1533.9 476.1 1533.9C473.2 1533.9 470.5 1531.8 467.4 1529.4C464.3 1527 460.7 1523.5 457.4 1519.4C454.1 1515.2 450.7 1509.8 447.4 1504.4C444.1 1499 440.5 1493.1 437.4 1486.9C434.3 1480.7 431.2 1474 428.7 1466.9C426.2 1459.8 424.2 1451.9 422.4 1444.4C420.6 1436.9 419 1429.4 417.9 1421.9C416.9 1414.4 416 1406.9 416.2 1399.4C416.3 1391.9 417.2 1384 418.7 1377C420.1 1369.9 422 1363 424.9 1357C427.8 1350.9 432 1345.1 436.2 1340.7C440.3 1336.3 445.5 1333.1 449.9 1330.7C454.3 1328.4 458.2 1327.3 462.4 1326.5C466.6 1325.6 470.3 1325.4 474.9 1325.7Z" fill="none" stroke="#00FF00" stroke-opacity="0.62" stroke-width="1.9"/>
<path d="M509.9 1325.7C513 1325.6 515.7 1325.8 518.6 1327.5C521.5 1329.1 524.7 1332.1 527.4 1335.7C530.1 1339.4 532.8 1344.3 534.9 1349.5C536.9 1354.7 538.5 1360.7 539.9 1367C541.2 1373.2 542.4 1379.9 542.9 1386.9C543.4 1394 543.3 1401.9 542.9 1409.4C542.4 1416.9 541.5 1424.4 540.4 1431.9C539.2 1439.4 537.8 1446.9 536.1 1454.4C534.4 1461.9 532.4 1469.4 530.4 1476.9C528.3 1484.4 526 1492.9 523.6 1499.4C521.2 1505.8 518.8 1511.4 516.1 1515.6C513.4 1519.9 510.1 1523.2 507.4 1524.9C504.7 1526.5 502.2 1526.8 499.9 1525.6C497.6 1524.5 495.4 1521.7 493.6 1518.1C491.9 1514.6 490.4 1510 489.4 1504.4C488.3 1498.8 488 1491.5 487.4 1484.4C486.7 1477.3 486.1 1469.4 485.4 1461.9C484.6 1454.4 483.7 1446.9 482.9 1439.4C482.1 1431.9 481 1424.4 480.4 1416.9C479.8 1409.4 479.2 1401.9 479.1 1394.4C479.1 1386.9 479.1 1379 479.9 1372C480.6 1364.9 481.8 1357.8 483.6 1352C485.5 1346.1 488.4 1340.9 491.1 1337C493.8 1333 496.8 1330.1 499.9 1328.2C503 1326.4 506.7 1325.9 509.9 1325.7Z" fill="none" stroke="#FF0000" stroke-opacity="0.62" stroke-width="1.9"/>
</g>
<g clip-path="url(#cp31)">
<path d="M967.8 1287.5C973.3 1285.4 977.8 1283.5 982.8 1283.2C987.8 1283 993.7 1284.5 997.8 1285.7C1002 1287 1004.1 1288 1007.8 1290.7C1011.6 1293.5 1016.2 1296.8 1020.3 1302C1024.5 1307.2 1029.5 1314.9 1032.8 1322C1036.1 1329.1 1038.4 1336.6 1040.3 1344.5C1042.2 1352.4 1043.4 1360.7 1044.1 1369.5C1044.7 1378.2 1044.5 1387.4 1044.1 1396.9C1043.6 1406.5 1042.6 1416.9 1041.6 1426.9C1040.5 1436.9 1039.3 1446.9 1037.8 1456.9C1036.4 1466.9 1034.7 1476.9 1032.8 1486.9C1030.9 1496.9 1029.1 1506.9 1026.6 1516.9C1024.1 1526.9 1020.9 1537.3 1017.8 1546.9C1014.7 1556.4 1011.6 1565.6 1007.8 1574.4C1004.1 1583.1 999.9 1591.4 995.3 1599.3C990.8 1607.3 985.8 1615.2 980.3 1621.8C974.9 1628.5 969.1 1633.9 962.8 1639.3C956.6 1644.7 949.9 1650.1 942.9 1654.3C935.8 1658.5 928.3 1661.8 920.4 1664.3C912.5 1666.8 903.7 1668.7 895.4 1669.3C887.1 1669.9 878.3 1669.1 870.4 1668.1C862.5 1667 855 1664.7 847.9 1663.1C840.8 1661.4 834.6 1659.3 827.9 1658.1C821.3 1656.8 814.6 1655.8 807.9 1655.6C801.3 1655.4 794.6 1656.4 787.9 1656.8C781.3 1657.2 774.2 1658.5 767.9 1658.1C761.7 1657.6 755.5 1656.6 750.5 1654.3C745.5 1652 741.3 1648.1 738 1644.3C734.6 1640.6 732.2 1636.4 730.5 1631.8C728.7 1627.2 727.7 1622.2 727.5 1616.8C727.3 1611.4 727.9 1605.2 729.2 1599.3C730.5 1593.5 732.8 1587.7 735.5 1581.9C738.2 1576 741.7 1570.2 745.5 1564.4C749.2 1558.5 753.8 1552.7 758 1546.9C762.1 1541 766.3 1535.2 770.4 1529.4C774.6 1523.5 778.8 1517.7 782.9 1511.9C787.1 1506.1 791.3 1500.4 795.4 1494.4C799.6 1488.4 803.8 1481.9 807.9 1475.7C812.1 1469.4 816.3 1463.4 820.4 1456.9C824.6 1450.5 828.7 1443.4 832.9 1436.9C837.1 1430.5 841.2 1424.4 845.4 1418.2C849.6 1411.9 853.3 1405.9 857.9 1399.4C862.5 1393 867.9 1386.1 872.9 1379.5C877.9 1372.8 882.9 1365.7 887.9 1359.5C892.9 1353.2 897.9 1347.8 902.9 1342C907.9 1336.1 912.9 1329.9 917.9 1324.5C922.9 1319.1 927.4 1314.3 932.9 1309.5C938.3 1304.7 944.5 1299.4 950.4 1295.7C956.2 1292.1 962.4 1289.6 967.8 1287.5Z" fill="#9999D1"/>
<path d="M992.8 1354.5C996.6 1355.7 1000.1 1361.5 1002.8 1367C1005.5 1372.4 1007.7 1379.5 1009.1 1386.9C1010.4 1394.4 1011 1402.8 1010.8 1411.9C1010.6 1421.1 1009.4 1431.9 1007.8 1441.9C1006.3 1451.9 1004.1 1461.9 1001.6 1471.9C999.1 1481.9 996.4 1491.9 992.8 1501.9C989.3 1511.9 985.3 1522.3 980.3 1531.9C975.3 1541.5 969.1 1551 962.8 1559.4C956.6 1567.7 949.9 1575.4 942.9 1581.9C935.8 1588.3 927.4 1594.6 920.4 1598.1C913.3 1601.6 906.6 1603.3 900.4 1603.1C894.1 1602.9 887.9 1600 882.9 1596.8C877.9 1593.7 873.9 1588.9 870.4 1584.3C866.9 1579.8 863.9 1574.8 861.6 1569.4C859.4 1563.9 857.7 1558.1 856.7 1551.9C855.6 1545.6 855 1538.5 855.4 1531.9C855.8 1525.2 857.1 1518.5 859.1 1511.9C861.2 1505.2 864.4 1498.6 867.9 1491.9C871.4 1485.2 875.8 1478.6 880.4 1471.9C885 1465.2 890.4 1458.6 895.4 1451.9C900.4 1445.3 905 1438.6 910.4 1431.9C915.8 1425.3 922 1418.6 927.9 1411.9C933.7 1405.3 939.5 1398.2 945.4 1391.9C951.2 1385.7 957 1379.9 962.8 1374.5C968.7 1369 975.3 1362.8 980.3 1359.5C985.3 1356.1 989.1 1353.2 992.8 1354.5Z" fill="#00008B"/>
<path d="M920.4 1319.5C927 1317.4 931.6 1315.6 937.9 1314.5C944.1 1313.3 951.2 1312.5 957.9 1312.5C964.5 1312.5 971.6 1313.1 977.8 1314.5C984.1 1315.9 989.9 1318 995.3 1320.7C1000.7 1323.4 1005.7 1326.8 1010.3 1330.7C1014.9 1334.7 1019.3 1339.3 1022.8 1344.5C1026.4 1349.7 1029.3 1355.7 1031.6 1362C1033.9 1368.2 1035.4 1374.9 1036.6 1382C1037.7 1389 1038.2 1396.5 1038.3 1404.4C1038.4 1412.4 1038 1420.7 1037.3 1429.4C1036.6 1438.2 1035.4 1447.8 1034.1 1456.9C1032.7 1466.1 1031.1 1475.2 1029.1 1484.4C1027 1493.6 1024.5 1502.7 1021.6 1511.9C1018.7 1521 1015.3 1530.2 1011.6 1539.4C1007.8 1548.5 1003.9 1558.1 999.1 1566.9C994.3 1575.6 988.9 1583.9 982.8 1591.8C976.8 1599.8 969.9 1607.7 962.8 1614.3C955.8 1621 948.3 1626.6 940.4 1631.8C932.4 1637 923.7 1642 915.4 1645.6C907 1649.1 898.7 1651.4 890.4 1653.1C882.1 1654.7 873.7 1655.6 865.4 1655.6C857.1 1655.6 848.3 1654.3 840.4 1653.1C832.5 1651.8 825 1649.9 817.9 1648.1C810.8 1646.2 804.2 1644.3 797.9 1641.8C791.7 1639.3 785.9 1636.4 780.4 1633.1C775 1629.7 769.6 1626.2 765.4 1621.8C761.3 1617.5 758 1612.3 755.5 1606.8C752.9 1601.4 750.6 1595.2 750 1589.3C749.3 1583.5 750.4 1577.7 751.7 1571.9C753 1566 755.2 1560.2 758 1554.4C760.7 1548.5 764.2 1542.7 767.9 1536.9C771.7 1531 776.3 1525.2 780.4 1519.4C784.6 1513.6 788.8 1507.7 792.9 1501.9C797.1 1496.1 801.3 1490.2 805.4 1484.4C809.6 1478.6 813.8 1473.2 817.9 1466.9C822.1 1460.7 826.7 1453.6 830.4 1446.9C834.2 1440.3 837.7 1433.6 840.4 1426.9C843.1 1420.3 844.8 1413.6 846.7 1406.9C848.5 1400.3 849.8 1393.2 851.7 1386.9C853.5 1380.7 855.2 1375.3 857.9 1369.5C860.6 1363.6 864.1 1357.2 867.9 1352C871.6 1346.8 875.4 1342.4 880.4 1338.2C885.4 1334.1 891.2 1330.1 897.9 1327C904.5 1323.9 913.7 1321.6 920.4 1319.5ZM992.8 1359.5C996 1362 999.3 1368.6 1001.6 1374.5C1003.9 1380.3 1005.5 1387.4 1006.6 1394.4C1007.6 1401.5 1008 1409 1007.8 1416.9C1007.6 1424.8 1006.8 1433.6 1005.3 1441.9C1003.9 1450.2 1001.6 1458.6 999.1 1466.9C996.6 1475.2 993.9 1483.6 990.3 1491.9C986.8 1500.2 982.4 1509 977.8 1516.9C973.3 1524.8 968.3 1532.3 962.8 1539.4C957.4 1546.5 951.6 1553.3 945.4 1559.4C939.1 1565.4 932 1570.8 925.4 1575.6C918.7 1580.4 912 1585.2 905.4 1588.1C898.7 1591 891.2 1593.1 885.4 1593.1C879.6 1593.1 874.8 1590.8 870.4 1588.1C866 1585.4 862.3 1581.6 859.1 1576.9C856 1572.1 853.3 1565.2 851.7 1559.4C850 1553.5 849.2 1548.1 849.2 1541.9C849.2 1535.6 850.2 1528.5 851.7 1521.9C853.1 1515.2 855 1508.6 857.9 1501.9C860.8 1495.2 865 1488.6 869.1 1481.9C873.3 1475.2 878.1 1468.6 882.9 1461.9C887.7 1455.2 892.5 1448.6 897.9 1441.9C903.3 1435.3 909.5 1428.6 915.4 1421.9C921.2 1415.3 927 1408.2 932.9 1401.9C938.7 1395.7 944.5 1389.9 950.4 1384.4C956.2 1379 962.4 1373.6 967.8 1369.5C973.3 1365.3 978.7 1361.1 982.8 1359.5C987 1357.8 989.7 1357 992.8 1359.5Z" fill="#FFEF99" fill-opacity="0.85" fill-rule="evenodd"/>
<path d="M992.8 1359.5C996 1362 999.3 1368.6 1001.6 1374.5C1003.9 1380.3 1005.5 1387.4 1006.6 1394.4C1007.6 1401.5 1008 1409 1007.8 1416.9C1007.6 1424.8 1006.8 1433.6 1005.3 1441.9C1003.9 1450.2 1001.6 1458.6 999.1 1466.9C996.6 1475.2 993.9 1483.6 990.3 1491.9C986.8 1500.2 982.4 1509 977.8 1516.9C973.3 1524.8 968.3 1532.3 962.8 1539.4C957.4 1546.5 951.6 1553.3 945.4 1559.4C939.1 1565.4 932 1570.8 925.4 1575.6C918.7 1580.4 912 1585.2 905.4 1588.1C898.7 1591 891.2 1593.1 885.4 1593.1C879.6 1593.1 874.8 1590.8 870.4 1588.1C866 1585.4 862.3 1581.6 859.1 1576.9C856 1572.1 853.3 1565.2 851.7 1559.4C850 1553.5 849.2 1548.1 849.2 1541.9C849.2 1535.6 850.2 1528.5 851.7 1521.9C853.1 1515.2 855 1508.6 857.9 1501.9C860.8 1495.2 865 1488.6 869.1 1481.9C873.3 1475.2 878.1 1468.6 882.9 1461.9C887.7 1455.2 892.5 1448.6 897.9 1441.9C903.3 1435.3 909.5 1428.6 915.4 1421.9C921.2 1415.3 927 1408.2 932.9 1401.9C938.7 1395.7 944.5 1389.9 950.4 1384.4C956.2 1379 962.4 1373.6 967.8 1369.5C973.3 1365.3 978.7 1361.1 982.8 1359.5C987 1357.8 989.7 1357 992.8 1359.5Z" fill="#FFD700" stroke="#FFD700" stroke-width="1.2" opacity="0.85"/>
<path d="M952.9 1324.5C958.3 1322.6 963.3 1322 967.8 1322C972.4 1322 976.6 1322.6 980.3 1324.5C984.1 1326.4 987.8 1329.5 990.3 1333.2C992.8 1337 994.4 1341.8 995.3 1347C996.2 1352.2 996.2 1358.2 995.8 1364.5C995.4 1370.7 994.6 1377.4 992.8 1384.4C991.1 1391.5 988.3 1399.9 985.3 1406.9C982.4 1414 979.1 1420.7 975.3 1426.9C971.6 1433.2 967.4 1438.6 962.8 1444.4C958.3 1450.2 952.9 1456.5 947.9 1461.9C942.9 1467.3 938.3 1472.3 932.9 1476.9C927.4 1481.5 921.6 1485.6 915.4 1489.4C909.1 1493.1 902 1496.5 895.4 1499.4C888.7 1502.3 882.1 1504.4 875.4 1506.9C868.7 1509.4 862.1 1511.9 855.4 1514.4C848.7 1516.9 841.7 1519.6 835.4 1521.9C829.2 1524.2 822.9 1526.9 817.9 1528.1C812.9 1529.4 808.5 1530.2 805.4 1529.4C802.3 1528.5 800.4 1525.8 799.2 1523.1C797.9 1520.4 797.3 1517.1 797.9 1513.1C798.6 1509.2 800.4 1504.6 802.9 1499.4C805.4 1494.2 809.2 1488.1 812.9 1481.9C816.7 1475.7 820.8 1468.6 825.4 1461.9C830 1455.2 835.4 1448.6 840.4 1441.9C845.4 1435.3 850.4 1428.6 855.4 1421.9C860.4 1415.3 865.4 1408.6 870.4 1401.9C875.4 1395.3 880.4 1388.2 885.4 1382C890.4 1375.7 895 1370.3 900.4 1364.5C905.8 1358.6 912 1352.2 917.9 1347C923.7 1341.8 929.5 1337 935.4 1333.2C941.2 1329.5 947.4 1326.4 952.9 1324.5ZM950.4 1346.5C954.3 1346.1 958.5 1346.1 961.6 1347.5C964.7 1348.8 967.4 1351.2 969.1 1354.5C970.8 1357.7 971.6 1362 971.6 1367C971.6 1372 970.8 1378.2 969.1 1384.4C967.4 1390.7 964.7 1397.8 961.6 1404.4C958.5 1411.1 954.7 1418.2 950.4 1424.4C946 1430.7 940.8 1436.9 935.4 1441.9C929.9 1446.9 923.7 1451.4 917.9 1454.4C912 1457.4 906 1459.3 900.4 1459.9C894.8 1460.5 888.4 1459.9 884.1 1458.2C879.9 1456.4 876.7 1453.4 874.9 1449.4C873.1 1445.5 872.7 1439.8 873.4 1434.4C874.1 1429 876.3 1423.2 879.1 1416.9C882 1410.7 886 1403.6 890.4 1396.9C894.8 1390.3 900 1383.2 905.4 1377C910.8 1370.7 917.5 1364 922.9 1359.5C928.3 1354.9 933.3 1351.6 937.9 1349.5C942.4 1347.3 946.4 1346.8 950.4 1346.5Z" fill="#99FF99" fill-opacity="0.85" fill-rule="evenodd"/>
<path d="M950.4 1346.5C954.3 1346.1 958.5 1346.1 961.6 1347.5C964.7 1348.8 967.4 1351.2 969.1 1354.5C970.8 1357.7 971.6 1362 971.6 1367C971.6 1372 970.8 1378.2 969.1 1384.4C967.4 1390.7 964.7 1397.8 961.6 1404.4C958.5 1411.1 954.7 1418.2 950.4 1424.4C946 1430.7 940.8 1436.9 935.4 1441.9C929.9 1446.9 923.7 1451.4 917.9 1454.4C912 1457.4 906 1459.3 900.4 1459.9C894.8 1460.5 888.4 1459.9 884.1 1458.2C879.9 1456.4 876.7 1453.4 874.9 1449.4C873.1 1445.5 872.7 1439.8 873.4 1434.4C874.1 1429 876.3 1423.2 879.1 1416.9C882 1410.7 886 1403.6 890.4 1396.9C894.8 1390.3 900 1383.2 905.4 1377C910.8 1370.7 917.5 1364 922.9 1359.5C928.3 1354.9 933.3 1351.6 937.9 1349.5C942.4 1347.3 946.4 1346.8 950.4 1346.5Z" fill="#00FF00" stroke="#00FF00" stroke-width="1.2" opacity="0.85"/>
<path d="M947.9 1327C953.1 1325.4 958.3 1324.8 962.8 1325C967.4 1325.2 971.8 1326.4 975.3 1328.2C978.9 1330 981.8 1332.4 984.1 1335.7C986.4 1339.1 988.1 1343.4 989.1 1348.2C990 1353 990.3 1358.8 989.8 1364.5C989.4 1370.1 988.3 1375.7 986.6 1382C984.9 1388.2 982.5 1395.3 979.8 1401.9C977.1 1408.6 974 1415.3 970.3 1421.9C966.7 1428.6 962.4 1435.7 957.9 1441.9C953.3 1448.2 948.1 1454 942.9 1459.4C937.7 1464.8 932.2 1470 926.6 1474.4C921 1478.8 915.2 1482.3 909.1 1485.6C903.1 1489 896.4 1491.7 890.4 1494.4C884.3 1497.1 878.7 1499.4 872.9 1501.9C867.1 1504.4 861.2 1507.1 855.4 1509.4C849.6 1511.7 843.7 1514.2 837.9 1515.6C832.1 1517.1 825.8 1517.7 820.4 1518.1C815 1518.5 809.6 1517.9 805.4 1518.1C801.3 1518.3 797.6 1520 795.4 1519.4C793.3 1518.8 792.6 1516.9 792.4 1514.4C792.2 1511.9 792.6 1508.6 794.2 1504.4C795.7 1500.2 798.6 1494.8 801.7 1489.4C804.8 1484 809 1477.7 812.9 1471.9C816.9 1466.1 821 1460.7 825.4 1454.4C829.8 1448.2 834.4 1441.1 839.2 1434.4C843.9 1427.8 849.2 1421.1 854.2 1414.4C859.1 1407.8 864.1 1400.7 869.1 1394.4C874.1 1388.2 879.1 1382.6 884.1 1377C889.1 1371.3 893.9 1365.9 899.1 1360.7C904.3 1355.5 910 1350.1 915.4 1345.7C920.8 1341.3 926.2 1337.6 931.6 1334.5C937 1331.4 942.6 1328.6 947.9 1327ZM949.1 1346.5C952.6 1346.1 957.2 1345.8 960.3 1347C963.5 1348.1 966.1 1350.1 967.8 1353.2C969.6 1356.3 970.6 1360.9 970.8 1365.7C971.1 1370.5 970.5 1375.9 969.1 1382C967.7 1388 965.3 1395.5 962.3 1401.9C959.4 1408.4 955.8 1414.6 951.6 1420.7C947.4 1426.7 942.6 1433 937.4 1438.2C932.2 1443.4 926.1 1448.5 920.4 1451.9C914.6 1455.4 908.5 1457.7 902.9 1458.9C897.3 1460.2 891 1460.6 886.6 1459.4C882.3 1458.2 878.9 1455.2 876.6 1451.9C874.4 1448.6 873.1 1444 872.9 1439.4C872.7 1434.8 873.5 1429.8 875.4 1424.4C877.3 1419 880.6 1413 884.1 1406.9C887.7 1400.9 892 1394.2 896.6 1388.2C901.2 1382.2 906.6 1375.9 911.6 1370.7C916.6 1365.5 922 1360.6 926.6 1357C931.2 1353.3 935.4 1350.7 939.1 1349C942.9 1347.2 945.6 1346.8 949.1 1346.5Z" fill="#FF9999" fill-opacity="0.85" fill-rule="evenodd"/>
<path d="M949.1 1346.5C952.6 1346.1 957.2 1345.8 960.3 1347C963.5 1348.1 966.1 1350.1 967.8 1353.2C969.6 1356.3 970.6 1360.9 970.8 1365.7C971.1 1370.5 970.5 1375.9 969.1 1382C967.7 1388 965.3 1395.5 962.3 1401.9C959.4 1408.4 955.8 1414.6 951.6 1420.7C947.4 1426.7 942.6 1433 937.4 1438.2C932.2 1443.4 926.1 1448.5 920.4 1451.9C914.6 1455.4 908.5 1457.7 902.9 1458.9C897.3 1460.2 891 1460.6 886.6 1459.4C882.3 1458.2 878.9 1455.2 876.6 1451.9C874.4 1448.6 873.1 1444 872.9 1439.4C872.7 1434.8 873.5 1429.8 875.4 1424.4C877.3 1419 880.6 1413 884.1 1406.9C887.7 1400.9 892 1394.2 896.6 1388.2C901.2 1382.2 906.6 1375.9 911.6 1370.7C916.6 1365.5 922 1360.6 926.6 1357C931.2 1353.3 935.4 1350.7 939.1 1349C942.9 1347.2 945.6 1346.8 949.1 1346.5Z" fill="#FF0000" stroke="#FF0000" stroke-width="1.2" opacity="0.85"/>
<path d="M967.8 1287.5C973.3 1285.4 977.8 1283.5 982.8 1283.2C987.8 1283 993.7 1284.5 997.8 1285.7C1002 1287 1004.1 1288 1007.8 1290.7C1011.6 1293.5 1016.2 1296.8 1020.3 1302C1024.5 1307.2 1029.5 1314.9 1032.8 1322C1036.1 1329.1 1038.4 1336.6 1040.3 1344.5C1042.2 1352.4 1043.4 1360.7 1044.1 1369.5C1044.7 1378.2 1044.5 1387.4 1044.1 1396.9C1043.6 1406.5 1042.6 1416.9 1041.6 1426.9C1040.5 1436.9 1039.3 1446.9 1037.8 1456.9C1036.4 1466.9 1034.7 1476.9 1032.8 1486.9C1030.9 1496.9 1029.1 1506.9 1026.6 1516.9C1024.1 1526.9 1020.9 1537.3 1017.8 1546.9C1014.7 1556.4 1011.6 1565.6 1007.8 1574.4C1004.1 1583.1 999.9 1591.4 995.3 1599.3C990.8 1607.3 985.8 1615.2 980.3 1621.8C974.9 1628.5 969.1 1633.9 962.8 1639.3C956.6 1644.7 949.9 1650.1 942.9 1654.3C935.8 1658.5 928.3 1661.8 920.4 1664.3C912.5 1666.8 903.7 1668.7 895.4 1669.3C887.1 1669.9 878.3 1669.1 870.4 1668.1C862.5 1667 855 1664.7 847.9 1663.1C840.8 1661.4 834.6 1659.3 827.9 1658.1C821.3 1656.8 814.6 1655.8 807.9 1655.6C801.3 1655.4 794.6 1656.4 787.9 1656.8C781.3 1657.2 774.2 1658.5 767.9 1658.1C761.7 1657.6 755.5 1656.6 750.5 1654.3C745.5 1652 741.3 1648.1 738 1644.3C734.6 1640.6 732.2 1636.4 730.5 1631.8C728.7 1627.2 727.7 1622.2 727.5 1616.8C727.3 1611.4 727.9 1605.2 729.2 1599.3C730.5 1593.5 732.8 1587.7 735.5 1581.9C738.2 1576 741.7 1570.2 745.5 1564.4C749.2 1558.5 753.8 1552.7 758 1546.9C762.1 1541 766.3 1535.2 770.4 1529.4C774.6 1523.5 778.8 1517.7 782.9 1511.9C787.1 1506.1 791.3 1500.4 795.4 1494.4C799.6 1488.4 803.8 1481.9 807.9 1475.7C812.1 1469.4 816.3 1463.4 820.4 1456.9C824.6 1450.5 828.7 1443.4 832.9 1436.9C837.1 1430.5 841.2 1424.4 845.4 1418.2C849.6 1411.9 853.3 1405.9 857.9 1399.4C862.5 1393 867.9 1386.1 872.9 1379.5C877.9 1372.8 882.9 1365.7 887.9 1359.5C892.9 1353.2 897.9 1347.8 902.9 1342C907.9 1336.1 912.9 1329.9 917.9 1324.5C922.9 1319.1 927.4 1314.3 932.9 1309.5C938.3 1304.7 944.5 1299.4 950.4 1295.7C956.2 1292.1 962.4 1289.6 967.8 1287.5Z" fill="none" stroke="#00008B" stroke-opacity="0.62" stroke-width="1.9"/>
<path d="M920.4 1319.5C927 1317.4 931.6 1315.6 937.9 1314.5C944.1 1313.3 951.2 1312.5 957.9 1312.5C964.5 1312.5 971.6 1313.1 977.8 1314.5C984.1 1315.9 989.9 1318 995.3 1320.7C1000.7 1323.4 1005.7 1326.8 1010.3 1330.7C1014.9 1334.7 1019.3 1339.3 1022.8 1344.5C1026.4 1349.7 1029.3 1355.7 1031.6 1362C1033.9 1368.2 1035.4 1374.9 1036.6 1382C1037.7 1389 1038.2 1396.5 1038.3 1404.4C1038.4 1412.4 1038 1420.7 1037.3 1429.4C1036.6 1438.2 1035.4 1447.8 1034.1 1456.9C1032.7 1466.1 1031.1 1475.2 1029.1 1484.4C1027 1493.6 1024.5 1502.7 1021.6 1511.9C1018.7 1521 1015.3 1530.2 1011.6 1539.4C1007.8 1548.5 1003.9 1558.1 999.1 1566.9C994.3 1575.6 988.9 1583.9 982.8 1591.8C976.8 1599.8 969.9 1607.7 962.8 1614.3C955.8 1621 948.3 1626.6 940.4 1631.8C932.4 1637 923.7 1642 915.4 1645.6C907 1649.1 898.7 1651.4 890.4 1653.1C882.1 1654.7 873.7 1655.6 865.4 1655.6C857.1 1655.6 848.3 1654.3 840.4 1653.1C832.5 1651.8 825 1649.9 817.9 1648.1C810.8 1646.2 804.2 1644.3 797.9 1641.8C791.7 1639.3 785.9 1636.4 780.4 1633.1C775 1629.7 769.6 1626.2 765.4 1621.8C761.3 1617.5 758 1612.3 755.5 1606.8C752.9 1601.4 750.6 1595.2 750 1589.3C749.3 1583.5 750.4 1577.7 751.7 1571.9C753 1566 755.2 1560.2 758 1554.4C760.7 1548.5 764.2 1542.7 767.9 1536.9C771.7 1531 776.3 1525.2 780.4 1519.4C784.6 1513.6 788.8 1507.7 792.9 1501.9C797.1 1496.1 801.3 1490.2 805.4 1484.4C809.6 1478.6 813.8 1473.2 817.9 1466.9C822.1 1460.7 826.7 1453.6 830.4 1446.9C834.2 1440.3 837.7 1433.6 840.4 1426.9C843.1 1420.3 844.8 1413.6 846.7 1406.9C848.5 1400.3 849.8 1393.2 851.7 1386.9C853.5 1380.7 855.2 1375.3 857.9 1369.5C860.6 1363.6 864.1 1357.2 867.9 1352C871.6 1346.8 875.4 1342.4 880.4 1338.2C885.4 1334.1 891.2 1330.1 897.9 1327C904.5 1323.9 913.7 1321.6 920.4 1319.5Z" fill="none" stroke="#FFD700" stroke-opacity="0.62" stroke-width="1.9"/>
<path d="M952.9 1324.5C958.3 1322.6 963.3 1322 967.8 1322C972.4 1322 976.6 1322.6 980.3 1324.5C984.1 1326.4 987.8 1329.5 990.3 1333.2C992.8 1337 994.4 1341.8 995.3 1347C996.2 1352.2 996.2 1358.2 995.8 1364.5C995.4 1370.7 994.6 1377.4 992.8 1384.4C991.1 1391.5 988.3 1399.9 985.3 1406.9C982.4 1414 979.1 1420.7 975.3 1426.9C971.6 1433.2 967.4 1438.6 962.8 1444.4C958.3 1450.2 952.9 1456.5 947.9 1461.9C942.9 1467.3 938.3 1472.3 932.9 1476.9C927.4 1481.5 921.6 1485.6 915.4 1489.4C909.1 1493.1 902 1496.5 895.4 1499.4C888.7 1502.3 882.1 1504.4 875.4 1506.9C868.7 1509.4 862.1 1511.9 855.4 1514.4C848.7 1516.9 841.7 1519.6 835.4 1521.9C829.2 1524.2 822.9 1526.9 817.9 1528.1C812.9 1529.4 808.5 1530.2 805.4 1529.4C802.3 1528.5 800.4 1525.8 799.2 1523.1C797.9 1520.4 797.3 1517.1 797.9 1513.1C798.6 1509.2 800.4 1504.6 802.9 1499.4C805.4 1494.2 809.2 1488.1 812.9 1481.9C816.7 1475.7 820.8 1468.6 825.4 1461.9C830 1455.2 835.4 1448.6 840.4 1441.9C845.4 1435.3 850.4 1428.6 855.4 1421.9C860.4 1415.3 865.4 1408.6 870.4 1401.9C875.4 1395.3 880.4 1388.2 885.4 1382C890.4 1375.7 895 1370.3 900.4 1364.5C905.8 1358.6 912 1352.2 917.9 1347C923.7 1341.8 929.5 1337 935.4 1333.2C941.2 1329.5 947.4 1326.4 952.9 1324.5Z" fill="none" stroke="#00FF00" stroke-opacity="0.62" stroke-width="1.9"/>
<path d="M947.9 1327C953.1 1325.4 958.3 1324.8 962.8 1325C967.4 1325.2 971.8 1326.4 975.3 1328.2C978.9 1330 981.8 1332.4 984.1 1335.7C986.4 1339.1 988.1 1343.4 989.1 1348.2C990 1353 990.3 1358.8 989.8 1364.5C989.4 1370.1 988.3 1375.7 986.6 1382C984.9 1388.2 982.5 1395.3 979.8 1401.9C977.1 1408.6 974 1415.3 970.3 1421.9C966.7 1428.6 962.4 1435.7 957.9 1441.9C953.3 1448.2 948.1 1454 942.9 1459.4C937.7 1464.8 932.2 1470 926.6 1474.4C921 1478.8 915.2 1482.3 909.1 1485.6C903.1 1489 896.4 1491.7 890.4 1494.4C884.3 1497.1 878.7 1499.4 872.9 1501.9C867.1 1504.4 861.2 1507.1 855.4 1509.4C849.6 1511.7 843.7 1514.2 837.9 1515.6C832.1 1517.1 825.8 1517.7 820.4 1518.1C815 1518.5 809.6 1517.9 805.4 1518.1C801.3 1518.3 797.6 1520 795.4 1519.4C793.3 1518.8 792.6 1516.9 792.4 1514.4C792.2 1511.9 792.6 1508.6 794.2 1504.4C795.7 1500.2 798.6 1494.8 801.7 1489.4C804.8 1484 809 1477.7 812.9 1471.9C816.9 1466.1 821 1460.7 825.4 1454.4C829.8 1448.2 834.4 1441.1 839.2 1434.4C843.9 1427.8 849.2 1421.1 854.2 1414.4C859.1 1407.8 864.1 1400.7 869.1 1394.4C874.1 1388.2 879.1 1382.6 884.1 1377C889.1 1371.3 893.9 1365.9 899.1 1360.7C904.3 1355.5 910 1350.1 915.4 1345.7C920.8 1341.3 926.2 1337.6 931.6 1334.5C937 1331.4 942.6 1328.6 947.9 1327Z" fill="none" stroke="#FF0000" stroke-opacity="0.62" stroke-width="1.9"/>
</g>
<g clip-path="url(#cp32)">
<path d="M1156 1287.5C1160.1 1285.3 1162.2 1284.3 1166 1284C1169.7 1283.7 1174.3 1284.8 1178.4 1285.7C1182.6 1286.7 1186.4 1287.6 1190.9 1289.5C1195.5 1291.4 1200.9 1294.1 1205.9 1297C1210.9 1299.9 1215.9 1303.2 1220.9 1307C1225.9 1310.7 1230.9 1314.9 1235.9 1319.5C1240.9 1324.1 1245.9 1329.1 1250.9 1334.5C1255.9 1339.9 1260.9 1345.7 1265.9 1352C1270.9 1358.2 1276.3 1365.3 1280.9 1372C1285.5 1378.6 1289.2 1385.3 1293.4 1391.9C1297.6 1398.6 1301.7 1405.3 1305.9 1411.9C1310 1418.6 1314.2 1424.8 1318.4 1431.9C1322.5 1439 1326.7 1446.9 1330.9 1454.4C1335 1461.9 1339.2 1469.4 1343.4 1476.9C1347.5 1484.4 1351.7 1491.9 1355.9 1499.4C1360 1506.9 1364.2 1514.4 1368.3 1521.9C1372.5 1529.4 1376.7 1536.9 1380.8 1544.4C1385 1551.9 1389.6 1559.8 1393.3 1566.9C1397.1 1573.9 1400.6 1580.2 1403.3 1586.8C1406 1593.5 1408.2 1600.2 1409.6 1606.8C1410.9 1613.5 1411.5 1620.6 1411.3 1626.8C1411.1 1633.1 1410.5 1639.3 1408.3 1644.3C1406.2 1649.3 1402.5 1653.9 1398.3 1656.8C1394.2 1659.7 1388.8 1660.9 1383.3 1661.8C1377.9 1662.7 1371.7 1662.3 1365.9 1662.3C1360 1662.3 1354.2 1661.6 1348.4 1661.8C1342.5 1662.1 1337.1 1662.8 1330.9 1663.8C1324.6 1664.9 1318 1666.9 1310.9 1668.1C1303.8 1669.2 1295.9 1670.1 1288.4 1670.6C1280.9 1671 1273.4 1671.2 1265.9 1670.6C1258.4 1669.9 1250.9 1668.9 1243.4 1666.8C1235.9 1664.7 1228 1661.6 1220.9 1658.1C1213.8 1654.5 1207.2 1650.1 1200.9 1645.6C1194.7 1641 1188.9 1636 1183.4 1630.6C1178 1625.2 1173 1619.1 1168.4 1613.1C1163.9 1607 1159.9 1601.2 1156 1594.3C1152 1587.5 1148 1579.4 1144.7 1571.9C1141.4 1564.4 1138.7 1557.3 1136 1549.4C1133.3 1541.5 1130.8 1532.7 1128.5 1524.4C1126.2 1516 1124.1 1507.7 1122.2 1499.4C1120.3 1491.1 1118.7 1482.7 1117.2 1474.4C1115.8 1466.1 1114.6 1457.7 1113.5 1449.4C1112.4 1441.1 1111.2 1432.8 1110.5 1424.4C1109.7 1416.1 1109.2 1407.8 1109 1399.4C1108.7 1391.1 1108.6 1382.4 1109 1374.5C1109.4 1366.5 1110.1 1359.3 1111.5 1352C1112.9 1344.7 1114.6 1337.4 1117.2 1330.7C1119.8 1324.1 1123.3 1317.6 1127.2 1312C1131.2 1306.4 1136.2 1301.1 1141 1297C1145.8 1292.9 1151.8 1289.7 1156 1287.5Z" fill="#9999D1"/>
<path d="M1166 1354.5C1161.8 1354.9 1158.9 1361.5 1156 1367C1153 1372.4 1150.2 1379.5 1148.5 1386.9C1146.7 1394.4 1145.7 1402.8 1145.5 1411.9C1145.3 1421.1 1146.1 1431.9 1147.2 1441.9C1148.3 1451.9 1149.9 1461.9 1152.2 1471.9C1154.5 1481.9 1157.4 1491.9 1161 1501.9C1164.5 1511.9 1168.9 1522.7 1173.4 1531.9C1178 1541 1183 1549.2 1188.4 1556.9C1193.9 1564.6 1199.7 1572.1 1205.9 1578.1C1212.2 1584.1 1219.3 1589.1 1225.9 1593.1C1232.6 1597.1 1239.7 1600.2 1245.9 1601.8C1252.2 1603.5 1258 1604.1 1263.4 1603.1C1268.8 1602 1274 1599.1 1278.4 1595.6C1282.8 1592.1 1286.7 1587.1 1289.6 1581.9C1292.6 1576.6 1294.2 1570.6 1295.9 1564.4C1297.6 1558.1 1299 1551 1299.6 1544.4C1300.3 1537.7 1300.7 1531.5 1299.6 1524.4C1298.6 1517.3 1296.5 1509 1293.4 1501.9C1290.3 1494.8 1285.5 1488.6 1280.9 1481.9C1276.3 1475.2 1270.9 1468.6 1265.9 1461.9C1260.9 1455.2 1256.3 1448.6 1250.9 1441.9C1245.5 1435.3 1239.2 1428.6 1233.4 1421.9C1227.6 1415.3 1221.8 1408.6 1215.9 1401.9C1210.1 1395.3 1204.3 1388.2 1198.4 1382C1192.6 1375.7 1186.4 1369 1180.9 1364.5C1175.5 1359.9 1170.1 1354 1166 1354.5Z" fill="#00008B"/>
<path d="M1185.9 1303.2C1192.2 1303.4 1199.3 1304.1 1205.9 1305.7C1212.6 1307.4 1219.7 1310.1 1225.9 1313.2C1232.2 1316.4 1237.6 1320.1 1243.4 1324.5C1249.2 1328.9 1255.5 1334.1 1260.9 1339.5C1266.3 1344.9 1271.3 1351.1 1275.9 1357C1280.5 1362.8 1284.6 1368.6 1288.4 1374.5C1292.1 1380.3 1295.3 1385.7 1298.4 1391.9C1301.5 1398.2 1304.2 1405.3 1307.1 1411.9C1310 1418.6 1312.3 1424.8 1315.9 1431.9C1319.4 1439 1324.2 1446.9 1328.4 1454.4C1332.5 1461.9 1336.7 1469.4 1340.9 1476.9C1345 1484.4 1349.2 1491.9 1353.4 1499.4C1357.5 1506.9 1361.7 1514.4 1365.9 1521.9C1370 1529.4 1374.4 1536.9 1378.3 1544.4C1382.3 1551.9 1386.5 1559.8 1389.6 1566.9C1392.7 1573.9 1395.4 1580.6 1397.1 1586.8C1398.8 1593.1 1399.8 1598.9 1399.6 1604.3C1399.4 1609.8 1398.1 1615.2 1395.8 1619.3C1393.5 1623.5 1390 1626.6 1385.8 1629.3C1381.7 1632 1376.3 1633.7 1370.8 1635.6C1365.4 1637.4 1358.8 1638.7 1353.4 1640.6C1347.9 1642.4 1343.4 1644.5 1338.4 1646.8C1333.4 1649.1 1328.8 1652.3 1323.4 1654.3C1318 1656.3 1312.1 1658.2 1305.9 1658.8C1299.6 1659.4 1292.6 1659 1285.9 1658.1C1279.2 1657.1 1272.6 1655.4 1265.9 1653.1C1259.2 1650.8 1252.6 1647.9 1245.9 1644.3C1239.2 1640.8 1232.6 1636.4 1225.9 1631.8C1219.3 1627.2 1212.2 1622.2 1205.9 1616.8C1199.7 1611.4 1193.9 1605.6 1188.4 1599.3C1183 1593.1 1178 1586.4 1173.4 1579.4C1168.9 1572.3 1164.9 1564.8 1161 1556.9C1157 1548.9 1153 1540.2 1149.7 1531.9C1146.4 1523.5 1143.7 1515.2 1141 1506.9C1138.3 1498.6 1135.6 1490.2 1133.5 1481.9C1131.3 1473.6 1129.6 1465.2 1128 1456.9C1126.3 1448.6 1124.6 1440.3 1123.5 1431.9C1122.3 1423.6 1121.6 1415.3 1121 1406.9C1120.3 1398.6 1119.6 1389.9 1119.7 1382C1119.8 1374 1120.2 1366.5 1121.5 1359.5C1122.7 1352.4 1124.4 1345.7 1127.2 1339.5C1130.1 1333.2 1134.1 1327 1138.5 1322C1142.8 1317 1148.5 1312.4 1153.5 1309.5C1158.5 1306.6 1163 1305.5 1168.4 1304.5C1173.9 1303.4 1179.7 1303 1185.9 1303.2ZM1166 1359.5C1163.2 1362 1159.4 1368.6 1157.2 1374.5C1155 1380.3 1153.6 1387.4 1153 1394.4C1152.3 1401.5 1152.7 1409 1153.5 1416.9C1154.2 1424.8 1155.3 1433.6 1157.2 1441.9C1159.1 1450.2 1161.8 1458.6 1164.7 1466.9C1167.6 1475.2 1170.9 1483.6 1174.7 1491.9C1178.4 1500.2 1182.6 1509 1187.2 1516.9C1191.8 1524.8 1196.8 1532.3 1202.2 1539.4C1207.6 1546.5 1213.6 1553.3 1219.7 1559.4C1225.7 1565.4 1232 1571.2 1238.4 1575.6C1244.9 1580 1252.2 1583.4 1258.4 1585.6C1264.7 1587.8 1270.7 1589.7 1275.9 1588.8C1281.1 1588 1285.9 1584.3 1289.6 1580.6C1293.4 1576.9 1296.3 1572.1 1298.4 1566.9C1300.5 1561.7 1301.5 1555.6 1302.1 1549.4C1302.8 1543.1 1303.2 1536 1302.1 1529.4C1301.1 1522.7 1299 1516 1295.9 1509.4C1292.8 1502.7 1288 1496.1 1283.4 1489.4C1278.8 1482.7 1273.4 1476.1 1268.4 1469.4C1263.4 1462.7 1258.8 1456.1 1253.4 1449.4C1248 1442.8 1241.7 1436.1 1235.9 1429.4C1230.1 1422.8 1224.3 1416.1 1218.4 1409.4C1212.6 1402.8 1206.8 1396.1 1200.9 1389.4C1195.1 1382.8 1188 1374.5 1183.4 1369.5C1178.9 1364.5 1176.4 1361.1 1173.4 1359.5C1170.5 1357.8 1168.7 1357 1166 1359.5Z" fill="#FFEF99" fill-opacity="0.85" fill-rule="evenodd"/>
<path d="M1166 1359.5C1163.2 1362 1159.4 1368.6 1157.2 1374.5C1155 1380.3 1153.6 1387.4 1153 1394.4C1152.3 1401.5 1152.7 1409 1153.5 1416.9C1154.2 1424.8 1155.3 1433.6 1157.2 1441.9C1159.1 1450.2 1161.8 1458.6 1164.7 1466.9C1167.6 1475.2 1170.9 1483.6 1174.7 1491.9C1178.4 1500.2 1182.6 1509 1187.2 1516.9C1191.8 1524.8 1196.8 1532.3 1202.2 1539.4C1207.6 1546.5 1213.6 1553.3 1219.7 1559.4C1225.7 1565.4 1232 1571.2 1238.4 1575.6C1244.9 1580 1252.2 1583.4 1258.4 1585.6C1264.7 1587.8 1270.7 1589.7 1275.9 1588.8C1281.1 1588 1285.9 1584.3 1289.6 1580.6C1293.4 1576.9 1296.3 1572.1 1298.4 1566.9C1300.5 1561.7 1301.5 1555.6 1302.1 1549.4C1302.8 1543.1 1303.2 1536 1302.1 1529.4C1301.1 1522.7 1299 1516 1295.9 1509.4C1292.8 1502.7 1288 1496.1 1283.4 1489.4C1278.8 1482.7 1273.4 1476.1 1268.4 1469.4C1263.4 1462.7 1258.8 1456.1 1253.4 1449.4C1248 1442.8 1241.7 1436.1 1235.9 1429.4C1230.1 1422.8 1224.3 1416.1 1218.4 1409.4C1212.6 1402.8 1206.8 1396.1 1200.9 1389.4C1195.1 1382.8 1188 1374.5 1183.4 1369.5C1178.9 1364.5 1176.4 1361.1 1173.4 1359.5C1170.5 1357.8 1168.7 1357 1166 1359.5Z" fill="#FFD700" stroke="#FFD700" stroke-width="1.2" opacity="0.85"/>
<path d="M1185.9 1320.7C1190.3 1320.5 1195.9 1321.6 1200.9 1323.2C1205.9 1324.9 1210.9 1327.6 1215.9 1330.7C1220.9 1333.8 1225.9 1337.6 1230.9 1342C1235.9 1346.3 1240.9 1351.5 1245.9 1357C1250.9 1362.4 1256.3 1368.6 1260.9 1374.5C1265.5 1380.3 1269.2 1385.7 1273.4 1391.9C1277.6 1398.2 1281.7 1405.3 1285.9 1411.9C1290.1 1418.6 1294.2 1425.3 1298.4 1431.9C1302.5 1438.6 1306.7 1445.3 1310.9 1451.9C1315 1458.6 1319.2 1465.2 1323.4 1471.9C1327.5 1478.6 1332.1 1485.6 1335.9 1491.9C1339.6 1498.1 1343.2 1504.4 1345.9 1509.4C1348.6 1514.4 1351.3 1518.5 1352.1 1521.9C1352.9 1525.2 1352.3 1527.8 1350.9 1529.4C1349.4 1531 1346.7 1532 1343.4 1531.4C1340 1530.8 1335.9 1528.3 1330.9 1525.6C1325.9 1523 1319.6 1519 1313.4 1515.6C1307.1 1512.3 1300.3 1508.3 1293.4 1505.6C1286.5 1503 1279.1 1502.9 1272.1 1499.9C1265.2 1496.9 1257.9 1492 1251.4 1487.4C1245 1482.8 1239.3 1477.9 1233.4 1472.4C1227.5 1466.9 1221.3 1460.7 1215.9 1454.4C1210.5 1448.1 1206 1441.5 1200.9 1434.4C1195.9 1427.3 1190.1 1419.5 1185.4 1411.9C1180.8 1404.4 1176.2 1396.2 1172.9 1388.9C1169.7 1381.7 1167.4 1374.8 1166 1368.2C1164.5 1361.6 1164 1355.1 1164.2 1349.5C1164.4 1343.8 1165.5 1338.6 1167.2 1334.5C1168.9 1330.3 1171.6 1326.8 1174.7 1324.5C1177.8 1322.2 1181.6 1320.9 1185.9 1320.7ZM1206.4 1347.2C1209.8 1347.6 1214.3 1348.9 1218.9 1351.5C1223.5 1354 1228.9 1358.1 1233.9 1362.7C1238.9 1367.3 1244.3 1373.5 1248.9 1379C1253.5 1384.4 1257.4 1389.6 1261.4 1395.2C1265.4 1400.8 1269.3 1406.9 1272.6 1412.7C1276 1418.5 1279.2 1424.8 1281.4 1430.2C1283.6 1435.6 1285.5 1440.8 1285.9 1445.2C1286.3 1449.5 1285.5 1453.7 1283.9 1456.4C1282.3 1459.1 1279.7 1460.7 1276.4 1461.4C1273.1 1462.1 1268.5 1461.9 1263.9 1460.7C1259.3 1459.4 1253.9 1456.9 1248.9 1453.9C1243.9 1450.9 1238.9 1447.3 1233.9 1442.7C1228.9 1438.1 1223.7 1432.3 1218.9 1426.4C1214.1 1420.6 1209.1 1414.1 1205.2 1407.7C1201.2 1401.2 1197.6 1393.9 1195.2 1387.7C1192.8 1381.5 1191.4 1375.4 1190.9 1370.2C1190.5 1365 1191.4 1360 1192.7 1356.5C1194 1352.9 1196.6 1350.5 1198.9 1349C1201.2 1347.4 1203.1 1346.8 1206.4 1347.2Z" fill="#99FF99" fill-opacity="0.85" fill-rule="evenodd"/>
<path d="M1206.4 1347.2C1209.8 1347.6 1214.3 1348.9 1218.9 1351.5C1223.5 1354 1228.9 1358.1 1233.9 1362.7C1238.9 1367.3 1244.3 1373.5 1248.9 1379C1253.5 1384.4 1257.4 1389.6 1261.4 1395.2C1265.4 1400.8 1269.3 1406.9 1272.6 1412.7C1276 1418.5 1279.2 1424.8 1281.4 1430.2C1283.6 1435.6 1285.5 1440.8 1285.9 1445.2C1286.3 1449.5 1285.5 1453.7 1283.9 1456.4C1282.3 1459.1 1279.7 1460.7 1276.4 1461.4C1273.1 1462.1 1268.5 1461.9 1263.9 1460.7C1259.3 1459.4 1253.9 1456.9 1248.9 1453.9C1243.9 1450.9 1238.9 1447.3 1233.9 1442.7C1228.9 1438.1 1223.7 1432.3 1218.9 1426.4C1214.1 1420.6 1209.1 1414.1 1205.2 1407.7C1201.2 1401.2 1197.6 1393.9 1195.2 1387.7C1192.8 1381.5 1191.4 1375.4 1190.9 1370.2C1190.5 1365 1191.4 1360 1192.7 1356.5C1194 1352.9 1196.6 1350.5 1198.9 1349C1201.2 1347.4 1203.1 1346.8 1206.4 1347.2Z" fill="#00FF00" stroke="#00FF00" stroke-width="1.2" opacity="0.85"/>
<path d="M1193.4 1324C1198.2 1323.1 1203.4 1325.2 1208.4 1327C1213.4 1328.7 1218.4 1331.4 1223.4 1334.5C1228.4 1337.6 1233.4 1341.3 1238.4 1345.7C1243.4 1350.1 1248.4 1355.3 1253.4 1360.7C1258.4 1366.1 1263.8 1372.4 1268.4 1378.2C1273 1384 1276.7 1389.4 1280.9 1395.7C1285.1 1401.9 1289.2 1409 1293.4 1415.7C1297.6 1422.3 1301.7 1429 1305.9 1435.7C1310 1442.3 1314.2 1449 1318.4 1455.7C1322.5 1462.3 1326.7 1469.2 1330.9 1475.7C1335 1482.1 1339.6 1488.8 1343.4 1494.4C1347.1 1500 1350.6 1505.2 1353.4 1509.4C1356.1 1513.6 1359 1517 1359.6 1519.4C1360.2 1521.8 1359.4 1523.5 1357.1 1523.9C1354.8 1524.3 1349.8 1522.8 1345.9 1521.9C1341.9 1520.9 1337.9 1519 1333.4 1518.1C1328.8 1517.3 1323.4 1517.9 1318.4 1516.9C1313.4 1515.8 1308.8 1514.2 1303.4 1511.9C1298 1509.6 1292.1 1506.5 1285.9 1503.1C1279.6 1499.8 1272.6 1496.1 1265.9 1491.9C1259.2 1487.7 1252.2 1483.1 1245.9 1478.2C1239.7 1473.2 1234 1467.5 1228.4 1461.9C1222.8 1456.3 1217.4 1450.7 1212.2 1444.4C1207 1438.2 1201.8 1431.5 1197.2 1424.4C1192.6 1417.3 1188.2 1409.2 1184.7 1401.9C1181.2 1394.7 1178 1387.4 1175.9 1380.7C1173.9 1374 1172.6 1368 1172.2 1362C1171.8 1355.9 1172.2 1349.5 1173.4 1344.5C1174.7 1339.5 1176.4 1335.4 1179.7 1332C1183 1328.6 1188.6 1324.8 1193.4 1324ZM1208.4 1346.5C1211.8 1346.9 1216.3 1348.1 1220.9 1350.7C1225.5 1353.3 1230.9 1357.4 1235.9 1362C1240.9 1366.5 1246.3 1372.8 1250.9 1378.2C1255.5 1383.6 1259.4 1388.8 1263.4 1394.4C1267.4 1400.1 1271.3 1406.1 1274.6 1411.9C1278 1417.8 1281.2 1424 1283.4 1429.4C1285.6 1434.8 1287.5 1440 1287.9 1444.4C1288.3 1448.8 1287.5 1453 1285.9 1455.7C1284.3 1458.4 1281.7 1460 1278.4 1460.7C1275.1 1461.4 1270.5 1461.2 1265.9 1459.9C1261.3 1458.7 1255.9 1456.2 1250.9 1453.2C1245.9 1450.2 1240.9 1446.5 1235.9 1441.9C1230.9 1437.3 1225.7 1431.5 1220.9 1425.7C1216.1 1419.8 1211.1 1413.4 1207.2 1406.9C1203.2 1400.5 1199.6 1393.2 1197.2 1386.9C1194.8 1380.7 1193.4 1374.7 1192.9 1369.5C1192.5 1364.3 1193.4 1359.3 1194.7 1355.7C1196 1352.2 1198.6 1349.8 1200.9 1348.2C1203.2 1346.7 1205.1 1346.1 1208.4 1346.5Z" fill="#FF9999" fill-opacity="0.85" fill-rule="evenodd"/>
<path d="M1208.4 1346.5C1211.8 1346.9 1216.3 1348.1 1220.9 1350.7C1225.5 1353.3 1230.9 1357.4 1235.9 1362C1240.9 1366.5 1246.3 1372.8 1250.9 1378.2C1255.5 1383.6 1259.4 1388.8 1263.4 1394.4C1267.4 1400.1 1271.3 1406.1 1274.6 1411.9C1278 1417.8 1281.2 1424 1283.4 1429.4C1285.6 1434.8 1287.5 1440 1287.9 1444.4C1288.3 1448.8 1287.5 1453 1285.9 1455.7C1284.3 1458.4 1281.7 1460 1278.4 1460.7C1275.1 1461.4 1270.5 1461.2 1265.9 1459.9C1261.3 1458.7 1255.9 1456.2 1250.9 1453.2C1245.9 1450.2 1240.9 1446.5 1235.9 1441.9C1230.9 1437.3 1225.7 1431.5 1220.9 1425.7C1216.1 1419.8 1211.1 1413.4 1207.2 1406.9C1203.2 1400.5 1199.6 1393.2 1197.2 1386.9C1194.8 1380.7 1193.4 1374.7 1192.9 1369.5C1192.5 1364.3 1193.4 1359.3 1194.7 1355.7C1196 1352.2 1198.6 1349.8 1200.9 1348.2C1203.2 1346.7 1205.1 1346.1 1208.4 1346.5Z" fill="#FF0000" stroke="#FF0000" stroke-width="1.2" opacity="0.85"/>
<path d="M1156 1287.5C1160.1 1285.3 1162.2 1284.3 1166 1284C1169.7 1283.7 1174.3 1284.8 1178.4 1285.7C1182.6 1286.7 1186.4 1287.6 1190.9 1289.5C1195.5 1291.4 1200.9 1294.1 1205.9 1297C1210.9 1299.9 1215.9 1303.2 1220.9 1307C1225.9 1310.7 1230.9 1314.9 1235.9 1319.5C1240.9 1324.1 1245.9 1329.1 1250.9 1334.5C1255.9 1339.9 1260.9 1345.7 1265.9 1352C1270.9 1358.2 1276.3 1365.3 1280.9 1372C1285.5 1378.6 1289.2 1385.3 1293.4 1391.9C1297.6 1398.6 1301.7 1405.3 1305.9 1411.9C1310 1418.6 1314.2 1424.8 1318.4 1431.9C1322.5 1439 1326.7 1446.9 1330.9 1454.4C1335 1461.9 1339.2 1469.4 1343.4 1476.9C1347.5 1484.4 1351.7 1491.9 1355.9 1499.4C1360 1506.9 1364.2 1514.4 1368.3 1521.9C1372.5 1529.4 1376.7 1536.9 1380.8 1544.4C1385 1551.9 1389.6 1559.8 1393.3 1566.9C1397.1 1573.9 1400.6 1580.2 1403.3 1586.8C1406 1593.5 1408.2 1600.2 1409.6 1606.8C1410.9 1613.5 1411.5 1620.6 1411.3 1626.8C1411.1 1633.1 1410.5 1639.3 1408.3 1644.3C1406.2 1649.3 1402.5 1653.9 1398.3 1656.8C1394.2 1659.7 1388.8 1660.9 1383.3 1661.8C1377.9 1662.7 1371.7 1662.3 1365.9 1662.3C1360 1662.3 1354.2 1661.6 1348.4 1661.8C1342.5 1662.1 1337.1 1662.8 1330.9 1663.8C1324.6 1664.9 1318 1666.9 1310.9 1668.1C1303.8 1669.2 1295.9 1670.1 1288.4 1670.6C1280.9 1671 1273.4 1671.2 1265.9 1670.6C1258.4 1669.9 1250.9 1668.9 1243.4 1666.8C1235.9 1664.7 1228 1661.6 1220.9 1658.1C1213.8 1654.5 1207.2 1650.1 1200.9 1645.6C1194.7 1641 1188.9 1636 1183.4 1630.6C1178 1625.2 1173 1619.1 1168.4 1613.1C1163.9 1607 1159.9 1601.2 1156 1594.3C1152 1587.5 1148 1579.4 1144.7 1571.9C1141.4 1564.4 1138.7 1557.3 1136 1549.4C1133.3 1541.5 1130.8 1532.7 1128.5 1524.4C1126.2 1516 1124.1 1507.7 1122.2 1499.4C1120.3 1491.1 1118.7 1482.7 1117.2 1474.4C1115.8 1466.1 1114.6 1457.7 1113.5 1449.4C1112.4 1441.1 1111.2 1432.8 1110.5 1424.4C1109.7 1416.1 1109.2 1407.8 1109 1399.4C1108.7 1391.1 1108.6 1382.4 1109 1374.5C1109.4 1366.5 1110.1 1359.3 1111.5 1352C1112.9 1344.7 1114.6 1337.4 1117.2 1330.7C1119.8 1324.1 1123.3 1317.6 1127.2 1312C1131.2 1306.4 1136.2 1301.1 1141 1297C1145.8 1292.9 1151.8 1289.7 1156 1287.5Z" fill="none" stroke="#00008B" stroke-opacity="0.62" stroke-width="1.9"/>
<path d="M1185.9 1303.2C1192.2 1303.4 1199.3 1304.1 1205.9 1305.7C1212.6 1307.4 1219.7 1310.1 1225.9 1313.2C1232.2 1316.4 1237.6 1320.1 1243.4 1324.5C1249.2 1328.9 1255.5 1334.1 1260.9 1339.5C1266.3 1344.9 1271.3 1351.1 1275.9 1357C1280.5 1362.8 1284.6 1368.6 1288.4 1374.5C1292.1 1380.3 1295.3 1385.7 1298.4 1391.9C1301.5 1398.2 1304.2 1405.3 1307.1 1411.9C1310 1418.6 1312.3 1424.8 1315.9 1431.9C1319.4 1439 1324.2 1446.9 1328.4 1454.4C1332.5 1461.9 1336.7 1469.4 1340.9 1476.9C1345 1484.4 1349.2 1491.9 1353.4 1499.4C1357.5 1506.9 1361.7 1514.4 1365.9 1521.9C1370 1529.4 1374.4 1536.9 1378.3 1544.4C1382.3 1551.9 1386.5 1559.8 1389.6 1566.9C1392.7 1573.9 1395.4 1580.6 1397.1 1586.8C1398.8 1593.1 1399.8 1598.9 1399.6 1604.3C1399.4 1609.8 1398.1 1615.2 1395.8 1619.3C1393.5 1623.5 1390 1626.6 1385.8 1629.3C1381.7 1632 1376.3 1633.7 1370.8 1635.6C1365.4 1637.4 1358.8 1638.7 1353.4 1640.6C1347.9 1642.4 1343.4 1644.5 1338.4 1646.8C1333.4 1649.1 1328.8 1652.3 1323.4 1654.3C1318 1656.3 1312.1 1658.2 1305.9 1658.8C1299.6 1659.4 1292.6 1659 1285.9 1658.1C1279.2 1657.1 1272.6 1655.4 1265.9 1653.1C1259.2 1650.8 1252.6 1647.9 1245.9 1644.3C1239.2 1640.8 1232.6 1636.4 1225.9 1631.8C1219.3 1627.2 1212.2 1622.2 1205.9 1616.8C1199.7 1611.4 1193.9 1605.6 1188.4 1599.3C1183 1593.1 1178 1586.4 1173.4 1579.4C1168.9 1572.3 1164.9 1564.8 1161 1556.9C1157 1548.9 1153 1540.2 1149.7 1531.9C1146.4 1523.5 1143.7 1515.2 1141 1506.9C1138.3 1498.6 1135.6 1490.2 1133.5 1481.9C1131.3 1473.6 1129.6 1465.2 1128 1456.9C1126.3 1448.6 1124.6 1440.3 1123.5 1431.9C1122.3 1423.6 1121.6 1415.3 1121 1406.9C1120.3 1398.6 1119.6 1389.9 1119.7 1382C1119.8 1374 1120.2 1366.5 1121.5 1359.5C1122.7 1352.4 1124.4 1345.7 1127.2 1339.5C1130.1 1333.2 1134.1 1327 1138.5 1322C1142.8 1317 1148.5 1312.4 1153.5 1309.5C1158.5 1306.6 1163 1305.5 1168.4 1304.5C1173.9 1303.4 1179.7 1303 1185.9 1303.2Z" fill="none" stroke="#FFD700" stroke-opacity="0.62" stroke-width="1.9"/>
<path d="M1185.9 1320.7C1190.3 1320.5 1195.9 1321.6 1200.9 1323.2C1205.9 1324.9 1210.9 1327.6 1215.9 1330.7C1220.9 1333.8 1225.9 1337.6 1230.9 1342C1235.9 1346.3 1240.9 1351.5 1245.9 1357C1250.9 1362.4 1256.3 1368.6 1260.9 1374.5C1265.5 1380.3 1269.2 1385.7 1273.4 1391.9C1277.6 1398.2 1281.7 1405.3 1285.9 1411.9C1290.1 1418.6 1294.2 1425.3 1298.4 1431.9C1302.5 1438.6 1306.7 1445.3 1310.9 1451.9C1315 1458.6 1319.2 1465.2 1323.4 1471.9C1327.5 1478.6 1332.1 1485.6 1335.9 1491.9C1339.6 1498.1 1343.2 1504.4 1345.9 1509.4C1348.6 1514.4 1351.3 1518.5 1352.1 1521.9C1352.9 1525.2 1352.3 1527.8 1350.9 1529.4C1349.4 1531 1346.7 1532 1343.4 1531.4C1340 1530.8 1335.9 1528.3 1330.9 1525.6C1325.9 1523 1319.6 1519 1313.4 1515.6C1307.1 1512.3 1300.3 1508.3 1293.4 1505.6C1286.5 1503 1279.1 1502.9 1272.1 1499.9C1265.2 1496.9 1257.9 1492 1251.4 1487.4C1245 1482.8 1239.3 1477.9 1233.4 1472.4C1227.5 1466.9 1221.3 1460.7 1215.9 1454.4C1210.5 1448.1 1206 1441.5 1200.9 1434.4C1195.9 1427.3 1190.1 1419.5 1185.4 1411.9C1180.8 1404.4 1176.2 1396.2 1172.9 1388.9C1169.7 1381.7 1167.4 1374.8 1166 1368.2C1164.5 1361.6 1164 1355.1 1164.2 1349.5C1164.4 1343.8 1165.5 1338.6 1167.2 1334.5C1168.9 1330.3 1171.6 1326.8 1174.7 1324.5C1177.8 1322.2 1181.6 1320.9 1185.9 1320.7Z" fill="none" stroke="#00FF00" stroke-opacity="0.62" stroke-width="1.9"/>
<path d="M1193.4 1324C1198.2 1323.1 1203.4 1325.2 1208.4 1327C1213.4 1328.7 1218.4 1331.4 1223.4 1334.5C1228.4 1337.6 1233.4 1341.3 1238.4 1345.7C1243.4 1350.1 1248.4 1355.3 1253.4 1360.7C1258.4 1366.1 1263.8 1372.4 1268.4 1378.2C1273 1384 1276.7 1389.4 1280.9 1395.7C1285.1 1401.9 1289.2 1409 1293.4 1415.7C1297.6 1422.3 1301.7 1429 1305.9 1435.7C1310 1442.3 1314.2 1449 1318.4 1455.7C1322.5 1462.3 1326.7 1469.2 1330.9 1475.7C1335 1482.1 1339.6 1488.8 1343.4 1494.4C1347.1 1500 1350.6 1505.2 1353.4 1509.4C1356.1 1513.6 1359 1517 1359.6 1519.4C1360.2 1521.8 1359.4 1523.5 1357.1 1523.9C1354.8 1524.3 1349.8 1522.8 1345.9 1521.9C1341.9 1520.9 1337.9 1519 1333.4 1518.1C1328.8 1517.3 1323.4 1517.9 1318.4 1516.9C1313.4 1515.8 1308.8 1514.2 1303.4 1511.9C1298 1509.6 1292.1 1506.5 1285.9 1503.1C1279.6 1499.8 1272.6 1496.1 1265.9 1491.9C1259.2 1487.7 1252.2 1483.1 1245.9 1478.2C1239.7 1473.2 1234 1467.5 1228.4 1461.9C1222.8 1456.3 1217.4 1450.7 1212.2 1444.4C1207 1438.2 1201.8 1431.5 1197.2 1424.4C1192.6 1417.3 1188.2 1409.2 1184.7 1401.9C1181.2 1394.7 1178 1387.4 1175.9 1380.7C1173.9 1374 1172.6 1368 1172.2 1362C1171.8 1355.9 1172.2 1349.5 1173.4 1344.5C1174.7 1339.5 1176.4 1335.4 1179.7 1332C1183 1328.6 1188.6 1324.8 1193.4 1324Z" fill="none" stroke="#FF0000" stroke-opacity="0.62" stroke-width="1.9"/>
</g>
<g clip-path="url(#cp33)">
<path d="M1474 1708.3C1475 1708 1476.5 1707.9 1480.2 1706.8C1484 1705.7 1491.7 1703.9 1496.5 1701.8C1501.3 1699.7 1504.6 1697.6 1509 1694.3C1513.4 1691 1518.8 1686 1522.7 1681.8C1526.7 1677.6 1529.8 1673.5 1532.7 1669.3C1535.6 1665.1 1536.9 1663.1 1540.2 1656.8C1543.5 1650.6 1549 1640.2 1552.7 1631.8C1556.5 1623.5 1559.6 1615.2 1562.7 1606.8C1565.8 1598.5 1568.5 1590.2 1571.5 1581.9C1574.4 1573.5 1577.3 1565.2 1580.2 1556.9C1583.1 1548.5 1586 1540.2 1588.9 1531.9C1591.9 1523.5 1594.8 1515.2 1597.7 1506.9C1600.6 1498.6 1603.2 1490.2 1606.4 1481.9C1609.6 1473.6 1613.2 1465.2 1616.9 1456.9C1620.7 1448.6 1624.6 1440.3 1628.9 1431.9C1633.2 1423.6 1637.5 1415.8 1642.7 1406.9C1647.9 1398.1 1655.9 1385.1 1660.2 1379C1664.4 1372.8 1665.7 1372.9 1668.4 1369.9C1671.2 1366.8 1673.9 1363.9 1676.6 1360.7C1679.4 1357.5 1682.1 1353.9 1684.9 1350.7C1687.6 1347.5 1690.4 1344.2 1693.1 1341.6C1695.9 1339 1698.8 1336.9 1701.6 1334.9C1704.4 1333 1707.1 1331.3 1709.9 1330C1712.6 1328.6 1716.4 1327.6 1718.1 1327C1719.8 1326.5 1719.5 1326.9 1720.2 1326.8C1720.9 1326.7 1721.6 1326.7 1722.3 1326.6C1722.9 1326.6 1723.6 1326.5 1724.3 1326.5C1725 1326.5 1725.7 1326.5 1726.4 1326.5C1727 1326.5 1727.5 1326.5 1728.1 1326.5C1728.6 1326.6 1729.2 1326.6 1729.7 1326.7C1730.3 1326.8 1730.9 1326.9 1731.4 1327C1732 1327.1 1731.7 1326.8 1733.1 1327.5C1734.5 1328.1 1737.7 1329.3 1739.9 1330.8C1742.1 1332.3 1744.4 1334.5 1746.4 1336.6C1748.3 1338.7 1749.7 1341 1751.4 1343.2C1753 1345.4 1754.7 1347.5 1756.4 1350C1758 1352.5 1759.8 1355.5 1761.4 1358.2C1762.9 1361 1764.2 1363.5 1765.6 1366.5C1767 1369.4 1768.6 1372.7 1769.9 1375.7C1771.1 1378.7 1771.4 1379.5 1773.1 1384.7C1774.8 1389.9 1777.7 1399.1 1780.1 1406.9C1782.5 1414.8 1785.3 1423.6 1787.6 1431.9C1789.9 1440.3 1791.8 1448.6 1793.8 1456.9C1795.9 1465.2 1798.2 1473.6 1800.1 1481.9C1802 1490.2 1803.2 1498.6 1805.1 1506.9C1807 1515.2 1809.2 1523.5 1811.3 1531.9C1813.4 1540.2 1815.5 1548.5 1817.6 1556.9C1819.7 1565.2 1821.7 1573.5 1823.8 1581.9C1825.9 1590.2 1827.8 1598.5 1830.1 1606.8C1832.4 1615.2 1834.7 1623.5 1837.6 1631.8C1840.5 1640.2 1844.9 1650.6 1847.6 1656.8C1850.3 1663.1 1851.5 1665.1 1853.8 1669.3C1856.1 1673.5 1858.2 1677.6 1861.3 1681.8C1864.4 1686 1868.6 1691 1872.6 1694.3C1876.5 1697.6 1881.5 1700.1 1885 1701.8C1888.6 1703.5 1892.3 1703.9 1893.8 1704.3" fill="none" stroke="#00008B" stroke-width="7.2" stroke-linejoin="round" stroke-linecap="butt"/>
<path d="M1480.2 1709.3C1481.7 1709.2 1485 1709.2 1489 1708.8C1492.9 1708.4 1499.4 1708 1504 1706.8C1508.6 1705.6 1512.7 1703.9 1516.5 1701.8C1520.2 1699.7 1522.9 1697.6 1526.5 1694.3C1530 1691 1534.4 1686 1537.7 1681.8C1541 1677.6 1543.8 1673.5 1546.5 1669.3C1549.2 1665.1 1550.6 1663.1 1554 1656.8C1557.3 1650.6 1562.5 1640.2 1566.5 1631.8C1570.4 1623.5 1574.2 1615.2 1577.7 1606.8C1581.2 1598.5 1584.2 1590.2 1587.7 1581.9C1591.2 1573.5 1595.2 1565.2 1598.9 1556.9C1602.7 1548.5 1606 1540.2 1610.2 1531.9C1614.3 1523.5 1620.2 1513.1 1623.9 1506.9C1627.7 1500.6 1629.5 1498.6 1632.7 1494.4C1635.8 1490.2 1639.5 1485.6 1642.7 1481.9C1645.8 1478.2 1648.7 1475 1651.4 1471.9C1654.1 1468.8 1655.6 1465.7 1658.9 1463.2C1662.2 1460.7 1666.4 1459.2 1671.4 1456.9C1676.4 1454.6 1684.7 1451.9 1688.9 1449.4C1693.1 1446.9 1693.7 1444.8 1696.4 1441.9C1699.1 1439 1702.2 1435.7 1705.1 1431.9C1708 1428.2 1711.2 1423.6 1713.9 1419.4C1716.6 1415.3 1718.3 1413.2 1721.4 1406.9C1724.5 1400.7 1728.9 1390.3 1732.6 1382C1736.4 1373.6 1741.2 1362.8 1743.9 1357C1746.6 1351.1 1747 1350.3 1748.9 1347C1750.7 1343.6 1753 1339.9 1755.1 1337C1757.2 1334.1 1760.1 1330.9 1761.4 1329.5C1762.6 1328 1762.3 1328.5 1762.7 1328.2C1763.2 1327.8 1763.6 1327.5 1764.1 1327.2C1764.6 1327 1765 1326.8 1765.5 1326.7C1765.9 1326.5 1766.4 1326.5 1766.9 1326.5C1767.3 1326.5 1767.8 1326.5 1768.3 1326.7C1768.8 1326.8 1769.2 1327 1769.7 1327.2C1770.2 1327.5 1770.7 1327.8 1771.2 1328.2C1771.6 1328.5 1771.5 1328 1772.6 1329.5C1773.7 1330.9 1776.1 1334.1 1777.6 1337C1779.1 1339.9 1780.5 1343.6 1781.8 1347C1783.2 1350.3 1784.1 1351.1 1785.8 1357C1787.6 1362.8 1790.6 1373.6 1792.6 1382C1794.5 1390.3 1796 1398.6 1797.6 1406.9C1799.1 1415.3 1799.8 1419.4 1801.8 1431.9C1803.9 1444.4 1807.5 1465.2 1810.1 1481.9C1812.7 1498.6 1815.1 1515.2 1817.6 1531.9C1820.1 1548.5 1823.2 1569.4 1825.1 1581.9C1826.9 1594.3 1827.4 1598.5 1828.8 1606.8C1830.3 1615.2 1831.9 1623.5 1833.8 1631.8C1835.7 1640.2 1838.4 1650.6 1840.1 1656.8C1841.7 1663.1 1842.4 1665.1 1843.8 1669.3C1845.3 1673.5 1846.7 1677.6 1848.8 1681.8C1850.9 1686 1854 1691 1856.3 1694.3C1858.6 1697.6 1860.1 1699.7 1862.6 1701.8C1865.1 1703.9 1868.2 1705.6 1871.3 1706.8C1874.4 1708 1879 1708.4 1881.3 1708.8C1883.6 1709.2 1884.4 1709.2 1885 1709.3" fill="none" stroke="#FFFF00" stroke-width="7.2" stroke-linejoin="round" stroke-linecap="butt"/>
<path d="M1506.5 1709.3C1513.6 1709.2 1535.6 1709.2 1549 1709C1562.3 1708.9 1576.4 1708.7 1586.4 1708.3C1596.4 1707.9 1601.9 1707.5 1608.9 1706.8C1616 1706.1 1623.1 1705.5 1628.9 1704.3C1634.8 1703 1639.5 1701.4 1643.9 1699.3C1648.3 1697.2 1651.4 1694.7 1655.2 1691.8C1658.9 1688.9 1662.7 1685.5 1666.4 1681.8C1670.2 1678.1 1674.1 1673.5 1677.6 1669.3C1681.2 1665.1 1684.7 1661 1687.6 1656.8C1690.6 1652.6 1692.8 1648.5 1695.1 1644.3C1697.4 1640.2 1698.7 1638.1 1701.4 1631.8C1704.1 1625.6 1708.3 1615.2 1711.4 1606.8C1714.5 1598.5 1717.4 1590.2 1720.1 1581.9C1722.8 1573.5 1725.3 1565.2 1727.6 1556.9C1729.9 1548.5 1732 1540.2 1733.9 1531.9C1735.7 1523.5 1737 1515.2 1738.9 1506.9C1740.7 1498.6 1743.2 1490.2 1745.1 1481.9C1747 1473.6 1748.3 1465.2 1750.1 1456.9C1751.9 1448.6 1754 1440.3 1755.9 1431.9C1757.7 1423.6 1759.6 1415.3 1761.4 1406.9C1763.1 1398.6 1764.7 1390.3 1766.4 1382C1768 1373.6 1769.7 1364.5 1771.4 1357C1773 1349.5 1775.2 1341.1 1776.3 1337C1777.5 1332.9 1777.7 1333.7 1778.3 1332.4C1779 1331 1779.7 1330 1780.3 1329.1C1781 1328.2 1781.7 1327.5 1782.3 1327.1C1783 1326.7 1783.7 1326.5 1784.3 1326.5C1785 1326.5 1785.5 1326.7 1786.1 1327.1C1786.7 1327.5 1787.3 1328.2 1787.8 1329.1C1788.4 1330 1789 1331 1789.6 1332.4C1790.2 1333.7 1790.2 1332.9 1791.3 1337C1792.5 1341.1 1794.8 1349.5 1796.3 1357C1797.9 1364.5 1799.6 1373.6 1800.8 1382C1802.1 1390.3 1802.9 1398.6 1803.8 1406.9C1804.8 1415.3 1805.1 1419.4 1806.3 1431.9C1807.6 1444.4 1809.7 1465.2 1811.3 1481.9C1812.9 1498.6 1814.2 1515.2 1815.8 1531.9C1817.4 1548.5 1819.5 1569.4 1820.8 1581.9C1822.2 1594.3 1822.8 1598.5 1823.8 1606.8C1824.8 1615.2 1825.6 1623.5 1826.8 1631.8C1828.1 1640.2 1830.2 1650.6 1831.3 1656.8C1832.5 1663.1 1832.8 1665.1 1833.8 1669.3C1834.9 1673.5 1836.1 1677.6 1837.6 1681.8C1839 1686 1840.9 1691 1842.6 1694.3C1844.2 1697.6 1845.7 1699.7 1847.6 1701.8C1849.4 1703.9 1851.5 1705.6 1853.8 1706.8C1856.1 1708 1856.3 1708.4 1861.3 1708.8C1866.3 1709.2 1880 1709.2 1883.8 1709.3" fill="none" stroke="#00FF00" stroke-width="7.2" stroke-linejoin="round" stroke-linecap="butt"/>
<path d="M1506.5 1709.3C1521.9 1709.2 1579.8 1709.2 1598.9 1709C1618.1 1708.8 1615.6 1708.6 1621.4 1708C1627.3 1707.5 1630.2 1707 1633.9 1705.5C1637.7 1704.1 1641 1701.6 1643.9 1699.3C1646.8 1697 1648.5 1694.7 1651.4 1691.8C1654.3 1688.9 1657.7 1685.5 1661.4 1681.8C1665.2 1678.1 1670.2 1673.1 1673.9 1669.3C1677.6 1665.6 1681 1662.2 1683.9 1659.3C1686.8 1656.4 1689.1 1654.3 1691.4 1651.8C1693.7 1649.3 1695.6 1647.7 1697.6 1644.3C1699.7 1641 1702 1636 1703.9 1631.8C1705.8 1627.7 1707.4 1623.5 1708.9 1619.3C1710.3 1615.2 1711 1613.1 1712.6 1606.8C1714.3 1600.6 1716.8 1590.2 1718.9 1581.9C1721 1573.5 1723.3 1565.2 1725.1 1556.9C1727 1548.5 1728.5 1540.2 1730.1 1531.9C1731.8 1523.5 1733.5 1515.2 1735.1 1506.9C1736.8 1498.6 1738.5 1490.2 1740.1 1481.9C1741.8 1473.6 1743.4 1465.2 1745.1 1456.9C1746.8 1448.6 1748.4 1440.3 1750.1 1431.9C1751.8 1423.6 1753.2 1415.3 1755.1 1406.9C1757 1398.6 1759.3 1390.3 1761.4 1382C1763.4 1373.6 1766 1362.8 1767.6 1357C1769.2 1351.1 1769.6 1350.3 1770.9 1347C1772.1 1343.6 1773.6 1339.9 1775.1 1337C1776.6 1334.1 1779 1330.9 1780.1 1329.5C1781.2 1328 1781.1 1328.5 1781.7 1328.2C1782.2 1327.8 1782.7 1327.5 1783.2 1327.2C1783.7 1327 1784.3 1326.8 1784.8 1326.7C1785.3 1326.5 1785.9 1326.5 1786.3 1326.5C1786.8 1326.5 1787.3 1326.5 1787.7 1326.7C1788.2 1326.8 1788.6 1327 1789.1 1327.2C1789.6 1327.5 1790 1327.8 1790.5 1328.2C1790.9 1328.5 1790.9 1328 1791.8 1329.5C1792.7 1330.9 1794.6 1334.1 1795.8 1337C1797.1 1339.9 1798.3 1343.6 1799.3 1347C1800.3 1350.3 1800.6 1351.1 1801.8 1357C1803.1 1362.8 1805.5 1373.6 1806.8 1382C1808.2 1390.3 1809.1 1398.6 1810.1 1406.9C1811 1415.3 1811.5 1419.4 1812.6 1431.9C1813.7 1444.4 1815.5 1465.2 1816.8 1481.9C1818.2 1498.6 1819.3 1515.2 1820.8 1531.9C1822.3 1548.5 1824.6 1569.4 1825.8 1581.9C1827.1 1594.3 1827.4 1598.5 1828.3 1606.8C1829.2 1615.2 1830.2 1623.5 1831.3 1631.8C1832.4 1640.2 1834 1650.6 1835.1 1656.8C1836.1 1663.1 1836.7 1665.1 1837.6 1669.3C1838.4 1673.5 1839 1677.6 1840.1 1681.8C1841.1 1686 1842.6 1691 1843.8 1694.3C1845.1 1697.6 1846.1 1699.7 1847.6 1701.8C1849 1703.9 1850.5 1705.6 1852.6 1706.8C1854.6 1708 1854.9 1708.4 1860.1 1708.8C1865.3 1709.2 1879.8 1709.2 1883.8 1709.3" fill="none" stroke="#FF0000" stroke-width="7.2" stroke-linejoin="round" stroke-linecap="butt"/>
</g>
<g clip-path="url(#cp40)">
<path d="M444.9 1754.5C453.6 1754.4 461.6 1754.9 469.9 1756.2C478.2 1757.6 487 1759.8 494.9 1762.5C502.8 1765.2 510.3 1768.7 517.4 1772.5C524.4 1776.2 531.1 1780.4 537.4 1785C543.6 1789.5 550.1 1795 554.8 1800C559.6 1805 563.5 1809.5 566.1 1814.9C568.7 1820.4 569.7 1826.6 570.3 1832.4C571 1838.3 570.3 1844.1 569.8 1849.9C569.3 1855.8 567.5 1861.6 567.3 1867.4C567.1 1873.2 567.8 1879.1 568.6 1884.9C569.4 1890.7 570.5 1896.2 572.3 1902.4C574.2 1908.6 576.9 1915.3 579.8 1922.4C582.8 1929.5 586.5 1937.4 589.8 1944.9C593.2 1952.4 596.5 1959.9 599.8 1967.4C603.2 1974.9 606.7 1982.4 609.8 1989.9C612.9 1997.4 616.3 2004.9 618.6 2012.3C620.9 2019.8 622.6 2027.8 623.6 2034.8C624.5 2041.9 624.7 2048.2 624.3 2054.8C623.9 2061.5 623.1 2068.6 621.1 2074.8C619.1 2081.1 616.3 2086.9 612.3 2092.3C608.4 2097.7 603.2 2102.9 597.3 2107.3C591.5 2111.7 584.4 2115.2 577.3 2118.5C570.3 2121.9 562.8 2124.9 554.8 2127.3C546.9 2129.7 539 2131.3 529.9 2132.8C520.7 2134.2 510.7 2135.3 499.9 2136C489 2136.8 477.4 2137.2 464.9 2137.3C452.4 2137.4 437.4 2137.5 424.9 2136.8C412.4 2136 400.8 2134.8 389.9 2132.8C379.1 2130.8 369.5 2128.2 359.9 2124.8C350.4 2121.4 340.8 2117.3 332.5 2112.3C324.1 2107.3 316.6 2101.5 310 2094.8C303.3 2088.1 297.1 2080.2 292.5 2072.3C287.9 2064.4 284.6 2055.7 282.5 2047.3C280.3 2039 279.6 2030.7 279.5 2022.3C279.4 2014 280.4 2005.7 282 1997.4C283.5 1989 285.9 1980.7 288.7 1972.4C291.5 1964 295.4 1955.3 298.7 1947.4C302.1 1939.5 305.8 1932.4 308.7 1924.9C311.6 1917.4 314.1 1909.9 316.2 1902.4C318.3 1894.9 319.5 1887.4 321.2 1879.9C322.9 1872.4 324.3 1864.9 326.2 1857.4C328.1 1849.9 329.8 1842.4 332.5 1834.9C335.2 1827.4 338.7 1819.5 342.5 1812.4C346.2 1805.4 350 1798.7 354.9 1792.5C359.9 1786.2 366.2 1779.8 372.4 1775C378.7 1770.2 384.9 1766.7 392.4 1763.7C399.9 1760.7 408.7 1758.5 417.4 1757C426.2 1755.4 436.2 1754.6 444.9 1754.5Z" fill="#9999D1"/>
<path d="M429.9 1882.9C434.1 1882.5 440.3 1882 444.9 1882.9C449.5 1883.9 453.2 1885.8 457.4 1888.7C461.6 1891.5 465.7 1895.9 469.9 1899.9C474.1 1903.9 477.8 1908.6 482.4 1912.4C487 1916.1 492.4 1918.6 497.4 1922.4C502.4 1926.1 507.4 1929.9 512.4 1934.9C517.4 1939.9 522.4 1946.1 527.4 1952.4C532.4 1958.6 537.8 1965.7 542.4 1972.4C546.9 1979 551.1 1985.7 554.8 1992.4C558.6 1999 562.1 2005.7 564.8 2012.3C567.5 2019 569.8 2026.1 571.1 2032.3C572.3 2038.6 572.8 2044.4 572.3 2049.8C571.9 2055.2 570.7 2060.2 568.6 2064.8C566.5 2069.4 563.8 2073.6 559.8 2077.3C555.9 2081.1 550.7 2084.2 544.9 2087.3C539 2090.4 532.4 2093.6 524.9 2096.1C517.4 2098.6 509 2100.8 499.9 2102.3C490.7 2103.8 479.9 2104.5 469.9 2104.8C459.9 2105.1 449.5 2104.7 439.9 2104.3C430.3 2103.9 420.7 2103.5 412.4 2102.3C404.1 2101.1 397.4 2099.8 389.9 2097.3C382.4 2094.8 374.5 2091.5 367.4 2087.3C360.4 2083.1 353.1 2078.1 347.5 2072.3C341.8 2066.5 337 2059.4 333.7 2052.3C330.4 2045.2 328.2 2036.9 327.5 2029.8C326.8 2022.8 327.8 2016.9 329.5 2009.8C331.1 2002.8 334 1994.9 337.5 1987.4C340.9 1979.9 345.4 1972.4 350 1964.9C354.5 1957.4 359.9 1949 364.9 1942.4C369.9 1935.7 374.9 1930.7 379.9 1924.9C384.9 1919.1 389.9 1912.8 394.9 1907.4C399.9 1902 405.8 1896.1 409.9 1892.4C414.1 1888.7 416.6 1887 419.9 1885.4C423.2 1883.8 425.7 1883.3 429.9 1882.9Z" fill="#00008B"/>
<path d="M533.6 1770.5C536.3 1769.8 538.6 1770.7 541.1 1772.5C543.6 1774.3 546.1 1777.3 548.6 1781.2C551.1 1785.2 553.8 1790.6 556.1 1796.2C558.4 1801.8 560.5 1808.1 562.3 1814.9C564.2 1821.8 565.9 1829.5 567.3 1837.4C568.8 1845.3 570 1853.7 571.1 1862.4C572.1 1871.2 572.8 1880.7 573.6 1889.9C574.4 1899.1 575.3 1908.2 576.1 1917.4C576.9 1926.6 577.8 1935.7 578.6 1944.9C579.4 1954 580.4 1963.2 581.1 1972.4C581.8 1981.5 582.5 1990.7 582.8 1999.9C583.2 2009 583.4 2018.6 583.1 2027.3C582.8 2036.1 582.3 2044 581.1 2052.3C579.9 2060.7 578.2 2069.4 576.1 2077.3C574 2085.2 571.5 2093.1 568.6 2099.8C565.7 2106.5 562.3 2112.5 558.6 2117.3C554.8 2122.1 550.5 2126 546.1 2128.5C541.7 2131.1 537.1 2132.6 532.4 2132.8C527.6 2133 521.9 2132 517.4 2129.8C512.8 2127.6 508.8 2124 504.9 2119.8C500.9 2115.6 496.8 2110.6 493.6 2104.8C490.5 2099 488 2091.9 486.1 2084.8C484.3 2077.7 483 2070.2 482.4 2062.3C481.8 2054.4 482 2046.1 482.4 2037.3C482.8 2028.6 483.8 2019 484.9 2009.8C485.9 2000.7 487.3 1991.5 488.6 1982.4C490 1973.2 491.5 1964 492.9 1954.9C494.3 1945.7 495.7 1936.6 496.9 1927.4C498 1918.2 499 1909.1 499.9 1899.9C500.8 1890.7 501.5 1881.6 502.4 1872.4C503.3 1863.3 504.1 1854.1 505.4 1844.9C506.6 1835.8 508.1 1826.2 509.9 1817.4C511.7 1808.7 513.6 1799.3 516.1 1792.5C518.6 1785.6 521.9 1779.9 524.9 1776.2C527.8 1772.5 530.9 1771.1 533.6 1770.5ZM537.4 1886.9C539 1886.9 540.7 1888.2 542.4 1891.2C544 1894.2 545.7 1899.3 547.4 1904.9C549 1910.5 550.7 1917.8 552.3 1924.9C554 1932 555.7 1939.5 557.3 1947.4C559 1955.3 560.9 1964 562.3 1972.4C563.8 1980.7 565.1 1989 566.1 1997.4C567.1 2005.7 568 2014 568.6 2022.3C569.1 2030.7 569.8 2039.8 569.3 2047.3C568.9 2054.8 567.9 2061.1 566.1 2067.3C564.3 2073.6 561.7 2079.8 558.6 2084.8C555.5 2089.8 551.3 2094.4 547.4 2097.3C543.4 2100.2 539 2102.1 534.9 2102.3C530.7 2102.5 525.7 2101.1 522.4 2098.6C519 2096.1 516.7 2092.1 514.9 2087.3C513 2082.5 511.7 2076.5 511.1 2069.8C510.5 2063.2 510.7 2055.2 511.1 2047.3C511.5 2039.4 512.7 2030.7 513.6 2022.3C514.6 2014 515.8 2005.7 516.9 1997.4C517.9 1989 518.9 1980.7 519.9 1972.4C520.8 1964 521.5 1955.3 522.4 1947.4C523.2 1939.5 523.8 1932 524.9 1924.9C525.9 1917.8 527.4 1910.5 528.6 1904.9C529.9 1899.3 530.9 1894.2 532.4 1891.2C533.8 1888.2 535.7 1886.9 537.4 1886.9Z" fill="#FFEF99" fill-opacity="0.85" fill-rule="evenodd"/>
<path d="M537.4 1886.9C539 1886.9 540.7 1888.2 542.4 1891.2C544 1894.2 545.7 1899.3 547.4 1904.9C549 1910.5 550.7 1917.8 552.3 1924.9C554 1932 555.7 1939.5 557.3 1947.4C559 1955.3 560.9 1964 562.3 1972.4C563.8 1980.7 565.1 1989 566.1 1997.4C567.1 2005.7 568 2014 568.6 2022.3C569.1 2030.7 569.8 2039.8 569.3 2047.3C568.9 2054.8 567.9 2061.1 566.1 2067.3C564.3 2073.6 561.7 2079.8 558.6 2084.8C555.5 2089.8 551.3 2094.4 547.4 2097.3C543.4 2100.2 539 2102.1 534.9 2102.3C530.7 2102.5 525.7 2101.1 522.4 2098.6C519 2096.1 516.7 2092.1 514.9 2087.3C513 2082.5 511.7 2076.5 511.1 2069.8C510.5 2063.2 510.7 2055.2 511.1 2047.3C511.5 2039.4 512.7 2030.7 513.6 2022.3C514.6 2014 515.8 2005.7 516.9 1997.4C517.9 1989 518.9 1980.7 519.9 1972.4C520.8 1964 521.5 1955.3 522.4 1947.4C523.2 1939.5 523.8 1932 524.9 1924.9C525.9 1917.8 527.4 1910.5 528.6 1904.9C529.9 1899.3 530.9 1894.2 532.4 1891.2C533.8 1888.2 535.7 1886.9 537.4 1886.9Z" fill="#FFD700" stroke="#FFD700" stroke-width="1.2" opacity="0.85"/>
<path d="M477.4 1839.9C479.7 1840.1 481.6 1841.6 483.6 1843.7C485.7 1845.8 487.6 1849.5 489.9 1852.4C492.2 1855.3 495.5 1857.8 497.4 1861.2C499.3 1864.5 500.2 1867.6 501.1 1872.4C502 1877.2 502.3 1884.1 502.9 1889.9C503.4 1895.7 503.4 1902 504.4 1907.4C505.3 1912.8 506.9 1917 508.6 1922.4C510.4 1927.8 513 1933.6 514.9 1939.9C516.7 1946.1 518.6 1952.8 519.9 1959.9C521.1 1967 521.5 1974.9 522.4 1982.4C523.2 1989.9 523.8 1997.4 524.9 2004.9C525.9 2012.3 527.4 2019.8 528.6 2027.3C529.8 2034.8 531.4 2042.7 531.9 2049.8C532.3 2056.9 532.3 2063.6 531.1 2069.8C529.9 2076.1 527.8 2081.9 524.9 2087.3C521.9 2092.7 518.2 2098.1 513.6 2102.3C509 2106.5 503.4 2110 497.4 2112.3C491.3 2114.6 484 2115.8 477.4 2116C470.7 2116.3 463.6 2115.4 457.4 2113.5C451.1 2111.7 445.1 2108.8 439.9 2104.8C434.7 2100.8 429.7 2095.6 426.2 2089.8C422.6 2084 420.3 2076.9 418.7 2069.8C417 2062.7 416.3 2055.2 416.2 2047.3C416 2039.4 417.1 2030.7 417.9 2022.3C418.7 2014 420.3 2005.7 421.2 1997.4C422 1989 422.4 1980.7 422.9 1972.4C423.5 1964 423.7 1955.7 424.4 1947.4C425.2 1939 426.3 1930.7 427.4 1922.4C428.5 1914.1 430.1 1904.9 431.2 1897.4C432.2 1889.9 432.4 1882.8 433.7 1877.4C434.9 1872 436.4 1868.7 438.7 1864.9C440.9 1861.2 443.9 1857.8 447.4 1854.9C450.9 1852 456.1 1849.5 459.9 1847.4C463.6 1845.3 467 1843.7 469.9 1842.4C472.8 1841.2 475.1 1839.7 477.4 1839.9ZM474.9 1940.4C477.4 1940 479.5 1941.2 481.1 1943.6C482.8 1946 483.8 1950.1 484.9 1954.9C485.9 1959.7 486.3 1966.1 487.4 1972.4C488.4 1978.6 489.5 1985.7 491.1 1992.4C492.8 1999 495.1 2005.7 497.4 2012.3C499.7 2019 502.8 2025.7 504.9 2032.3C507 2039 509 2046.1 509.9 2052.3C510.7 2058.6 510.9 2064.4 509.9 2069.8C508.8 2075.2 506.5 2080.6 503.6 2084.8C500.7 2089 496.8 2092.4 492.4 2094.8C488 2097.2 482.4 2098.8 477.4 2099.3C472.4 2099.8 467.2 2099.2 462.4 2097.8C457.6 2096.4 452.6 2094.3 448.7 2091.1C444.7 2087.9 441 2083.4 438.7 2078.6C436.3 2073.8 434.8 2068.4 434.4 2062.3C434 2056.3 435 2049 436.2 2042.3C437.3 2035.7 439.3 2029.4 441.2 2022.3C443 2015.3 445.3 2006.9 447.4 1999.9C449.5 1992.8 451.6 1986.5 453.6 1979.9C455.7 1973.2 457.8 1965.5 459.9 1959.9C462 1954.3 463.6 1949.4 466.1 1946.1C468.6 1942.9 472.4 1940.8 474.9 1940.4Z" fill="#99FF99" fill-opacity="0.85" fill-rule="evenodd"/>
<path d="M474.9 1940.4C477.4 1940 479.5 1941.2 481.1 1943.6C482.8 1946 483.8 1950.1 484.9 1954.9C485.9 1959.7 486.3 1966.1 487.4 1972.4C488.4 1978.6 489.5 1985.7 491.1 1992.4C492.8 1999 495.1 2005.7 497.4 2012.3C499.7 2019 502.8 2025.7 504.9 2032.3C507 2039 509 2046.1 509.9 2052.3C510.7 2058.6 510.9 2064.4 509.9 2069.8C508.8 2075.2 506.5 2080.6 503.6 2084.8C500.7 2089 496.8 2092.4 492.4 2094.8C488 2097.2 482.4 2098.8 477.4 2099.3C472.4 2099.8 467.2 2099.2 462.4 2097.8C457.6 2096.4 452.6 2094.3 448.7 2091.1C444.7 2087.9 441 2083.4 438.7 2078.6C436.3 2073.8 434.8 2068.4 434.4 2062.3C434 2056.3 435 2049 436.2 2042.3C437.3 2035.7 439.3 2029.4 441.2 2022.3C443 2015.3 445.3 2006.9 447.4 1999.9C449.5 1992.8 451.6 1986.5 453.6 1979.9C455.7 1973.2 457.8 1965.5 459.9 1959.9C462 1954.3 463.6 1949.4 466.1 1946.1C468.6 1942.9 472.4 1940.8 474.9 1940.4Z" fill="#00FF00" stroke="#00FF00" stroke-width="1.2" opacity="0.85"/>
<path d="M506.9 1824.9C508.7 1824.7 510.6 1826.6 512.4 1829.9C514.1 1833.3 515.7 1839.1 517.4 1844.9C519 1850.8 520.8 1857.8 522.4 1864.9C523.9 1872 525.4 1879.5 526.9 1887.4C528.3 1895.3 529.8 1904.1 531.1 1912.4C532.4 1920.7 533.6 1929.1 534.9 1937.4C536.1 1945.7 537.6 1954 538.6 1962.4C539.6 1970.7 540.4 1979 541.1 1987.4C541.8 1995.7 542.2 2004 542.9 2012.3C543.5 2020.7 544.4 2029.4 544.9 2037.3C545.3 2045.2 545.8 2052.7 545.4 2059.8C544.9 2066.9 544.1 2073.6 542.4 2079.8C540.6 2086.1 538 2092.3 534.9 2097.3C531.7 2102.3 527.8 2106.5 523.6 2109.8C519.4 2113.1 514.5 2116.5 509.9 2117.3C505.3 2118.1 500.3 2117.1 496.1 2114.8C492 2112.5 487.9 2108.1 484.9 2103.6C481.8 2099 479.3 2093.3 477.9 2087.3C476.4 2081.3 476.1 2074.4 476.1 2067.3C476.1 2060.2 477.1 2052.7 477.9 2044.8C478.7 2036.9 480.2 2028.2 481.1 2019.8C482.1 2011.5 482.9 2003.2 483.6 1994.9C484.3 1986.5 484.8 1978.2 485.4 1969.9C485.9 1961.5 486.5 1953.2 486.9 1944.9C487.3 1936.6 487.5 1928.2 487.9 1919.9C488.3 1911.6 488.7 1903.2 489.4 1894.9C490 1886.6 490.8 1877.8 491.9 1869.9C493 1862 494.6 1853.9 496.1 1847.4C497.7 1841 499.3 1834.9 501.1 1831.2C502.9 1827.4 505 1825.1 506.9 1824.9ZM511.1 1933.6C512.5 1934.3 514.1 1936.3 515.4 1939.9C516.6 1943.4 517.7 1949 518.6 1954.9C519.6 1960.7 520.4 1968.2 521.1 1974.9C521.8 1981.5 522.2 1988.2 522.9 1994.9C523.6 2001.5 524.4 2008.2 525.4 2014.8C526.3 2021.5 527.7 2028.2 528.6 2034.8C529.6 2041.5 531 2048.6 531.1 2054.8C531.2 2061.1 530.6 2066.9 529.4 2072.3C528.1 2077.7 526.2 2083.1 523.6 2087.3C521 2091.5 517.2 2095.6 513.6 2097.3C510.1 2099.1 505.7 2099.1 502.4 2097.8C499 2096.6 495.9 2093.6 493.6 2089.8C491.3 2086 489.6 2080.6 488.6 2074.8C487.7 2069 487.6 2061.9 487.9 2054.8C488.2 2047.7 489.4 2039.8 490.4 2032.3C491.3 2024.8 492.5 2017.3 493.6 2009.8C494.7 2002.4 495.8 1994.9 496.9 1987.4C497.9 1979.9 498.8 1971.5 499.9 1964.9C501 1958.2 502.4 1952.2 503.6 1947.4C504.9 1942.6 506.1 1938.4 507.4 1936.1C508.6 1933.8 509.8 1933 511.1 1933.6Z" fill="#FF9999" fill-opacity="0.85" fill-rule="evenodd"/>
<path d="M511.1 1933.6C512.5 1934.3 514.1 1936.3 515.4 1939.9C516.6 1943.4 517.7 1949 518.6 1954.9C519.6 1960.7 520.4 1968.2 521.1 1974.9C521.8 1981.5 522.2 1988.2 522.9 1994.9C523.6 2001.5 524.4 2008.2 525.4 2014.8C526.3 2021.5 527.7 2028.2 528.6 2034.8C529.6 2041.5 531 2048.6 531.1 2054.8C531.2 2061.1 530.6 2066.9 529.4 2072.3C528.1 2077.7 526.2 2083.1 523.6 2087.3C521 2091.5 517.2 2095.6 513.6 2097.3C510.1 2099.1 505.7 2099.1 502.4 2097.8C499 2096.6 495.9 2093.6 493.6 2089.8C491.3 2086 489.6 2080.6 488.6 2074.8C487.7 2069 487.6 2061.9 487.9 2054.8C488.2 2047.7 489.4 2039.8 490.4 2032.3C491.3 2024.8 492.5 2017.3 493.6 2009.8C494.7 2002.4 495.8 1994.9 496.9 1987.4C497.9 1979.9 498.8 1971.5 499.9 1964.9C501 1958.2 502.4 1952.2 503.6 1947.4C504.9 1942.6 506.1 1938.4 507.4 1936.1C508.6 1933.8 509.8 1933 511.1 1933.6Z" fill="#FF0000" stroke="#FF0000" stroke-width="1.2" opacity="0.85"/>
<path d="M444.9 1754.5C453.6 1754.4 461.6 1754.9 469.9 1756.2C478.2 1757.6 487 1759.8 494.9 1762.5C502.8 1765.2 510.3 1768.7 517.4 1772.5C524.4 1776.2 531.1 1780.4 537.4 1785C543.6 1789.5 550.1 1795 554.8 1800C559.6 1805 563.5 1809.5 566.1 1814.9C568.7 1820.4 569.7 1826.6 570.3 1832.4C571 1838.3 570.3 1844.1 569.8 1849.9C569.3 1855.8 567.5 1861.6 567.3 1867.4C567.1 1873.2 567.8 1879.1 568.6 1884.9C569.4 1890.7 570.5 1896.2 572.3 1902.4C574.2 1908.6 576.9 1915.3 579.8 1922.4C582.8 1929.5 586.5 1937.4 589.8 1944.9C593.2 1952.4 596.5 1959.9 599.8 1967.4C603.2 1974.9 606.7 1982.4 609.8 1989.9C612.9 1997.4 616.3 2004.9 618.6 2012.3C620.9 2019.8 622.6 2027.8 623.6 2034.8C624.5 2041.9 624.7 2048.2 624.3 2054.8C623.9 2061.5 623.1 2068.6 621.1 2074.8C619.1 2081.1 616.3 2086.9 612.3 2092.3C608.4 2097.7 603.2 2102.9 597.3 2107.3C591.5 2111.7 584.4 2115.2 577.3 2118.5C570.3 2121.9 562.8 2124.9 554.8 2127.3C546.9 2129.7 539 2131.3 529.9 2132.8C520.7 2134.2 510.7 2135.3 499.9 2136C489 2136.8 477.4 2137.2 464.9 2137.3C452.4 2137.4 437.4 2137.5 424.9 2136.8C412.4 2136 400.8 2134.8 389.9 2132.8C379.1 2130.8 369.5 2128.2 359.9 2124.8C350.4 2121.4 340.8 2117.3 332.5 2112.3C324.1 2107.3 316.6 2101.5 310 2094.8C303.3 2088.1 297.1 2080.2 292.5 2072.3C287.9 2064.4 284.6 2055.7 282.5 2047.3C280.3 2039 279.6 2030.7 279.5 2022.3C279.4 2014 280.4 2005.7 282 1997.4C283.5 1989 285.9 1980.7 288.7 1972.4C291.5 1964 295.4 1955.3 298.7 1947.4C302.1 1939.5 305.8 1932.4 308.7 1924.9C311.6 1917.4 314.1 1909.9 316.2 1902.4C318.3 1894.9 319.5 1887.4 321.2 1879.9C322.9 1872.4 324.3 1864.9 326.2 1857.4C328.1 1849.9 329.8 1842.4 332.5 1834.9C335.2 1827.4 338.7 1819.5 342.5 1812.4C346.2 1805.4 350 1798.7 354.9 1792.5C359.9 1786.2 366.2 1779.8 372.4 1775C378.7 1770.2 384.9 1766.7 392.4 1763.7C399.9 1760.7 408.7 1758.5 417.4 1757C426.2 1755.4 436.2 1754.6 444.9 1754.5Z" fill="none" stroke="#00008B" stroke-opacity="0.62" stroke-width="1.9"/>
<path d="M533.6 1770.5C536.3 1769.8 538.6 1770.7 541.1 1772.5C543.6 1774.3 546.1 1777.3 548.6 1781.2C551.1 1785.2 553.8 1790.6 556.1 1796.2C558.4 1801.8 560.5 1808.1 562.3 1814.9C564.2 1821.8 565.9 1829.5 567.3 1837.4C568.8 1845.3 570 1853.7 571.1 1862.4C572.1 1871.2 572.8 1880.7 573.6 1889.9C574.4 1899.1 575.3 1908.2 576.1 1917.4C576.9 1926.6 577.8 1935.7 578.6 1944.9C579.4 1954 580.4 1963.2 581.1 1972.4C581.8 1981.5 582.5 1990.7 582.8 1999.9C583.2 2009 583.4 2018.6 583.1 2027.3C582.8 2036.1 582.3 2044 581.1 2052.3C579.9 2060.7 578.2 2069.4 576.1 2077.3C574 2085.2 571.5 2093.1 568.6 2099.8C565.7 2106.5 562.3 2112.5 558.6 2117.3C554.8 2122.1 550.5 2126 546.1 2128.5C541.7 2131.1 537.1 2132.6 532.4 2132.8C527.6 2133 521.9 2132 517.4 2129.8C512.8 2127.6 508.8 2124 504.9 2119.8C500.9 2115.6 496.8 2110.6 493.6 2104.8C490.5 2099 488 2091.9 486.1 2084.8C484.3 2077.7 483 2070.2 482.4 2062.3C481.8 2054.4 482 2046.1 482.4 2037.3C482.8 2028.6 483.8 2019 484.9 2009.8C485.9 2000.7 487.3 1991.5 488.6 1982.4C490 1973.2 491.5 1964 492.9 1954.9C494.3 1945.7 495.7 1936.6 496.9 1927.4C498 1918.2 499 1909.1 499.9 1899.9C500.8 1890.7 501.5 1881.6 502.4 1872.4C503.3 1863.3 504.1 1854.1 505.4 1844.9C506.6 1835.8 508.1 1826.2 509.9 1817.4C511.7 1808.7 513.6 1799.3 516.1 1792.5C518.6 1785.6 521.9 1779.9 524.9 1776.2C527.8 1772.5 530.9 1771.1 533.6 1770.5Z" fill="none" stroke="#FFD700" stroke-opacity="0.62" stroke-width="1.9"/>
<path d="M477.4 1839.9C479.7 1840.1 481.6 1841.6 483.6 1843.7C485.7 1845.8 487.6 1849.5 489.9 1852.4C492.2 1855.3 495.5 1857.8 497.4 1861.2C499.3 1864.5 500.2 1867.6 501.1 1872.4C502 1877.2 502.3 1884.1 502.9 1889.9C503.4 1895.7 503.4 1902 504.4 1907.4C505.3 1912.8 506.9 1917 508.6 1922.4C510.4 1927.8 513 1933.6 514.9 1939.9C516.7 1946.1 518.6 1952.8 519.9 1959.9C521.1 1967 521.5 1974.9 522.4 1982.4C523.2 1989.9 523.8 1997.4 524.9 2004.9C525.9 2012.3 527.4 2019.8 528.6 2027.3C529.8 2034.8 531.4 2042.7 531.9 2049.8C532.3 2056.9 532.3 2063.6 531.1 2069.8C529.9 2076.1 527.8 2081.9 524.9 2087.3C521.9 2092.7 518.2 2098.1 513.6 2102.3C509 2106.5 503.4 2110 497.4 2112.3C491.3 2114.6 484 2115.8 477.4 2116C470.7 2116.3 463.6 2115.4 457.4 2113.5C451.1 2111.7 445.1 2108.8 439.9 2104.8C434.7 2100.8 429.7 2095.6 426.2 2089.8C422.6 2084 420.3 2076.9 418.7 2069.8C417 2062.7 416.3 2055.2 416.2 2047.3C416 2039.4 417.1 2030.7 417.9 2022.3C418.7 2014 420.3 2005.7 421.2 1997.4C422 1989 422.4 1980.7 422.9 1972.4C423.5 1964 423.7 1955.7 424.4 1947.4C425.2 1939 426.3 1930.7 427.4 1922.4C428.5 1914.1 430.1 1904.9 431.2 1897.4C432.2 1889.9 432.4 1882.8 433.7 1877.4C434.9 1872 436.4 1868.7 438.7 1864.9C440.9 1861.2 443.9 1857.8 447.4 1854.9C450.9 1852 456.1 1849.5 459.9 1847.4C463.6 1845.3 467 1843.7 469.9 1842.4C472.8 1841.2 475.1 1839.7 477.4 1839.9Z" fill="none" stroke="#00FF00" stroke-opacity="0.62" stroke-width="1.9"/>
<path d="M506.9 1824.9C508.7 1824.7 510.6 1826.6 512.4 1829.9C514.1 1833.3 515.7 1839.1 517.4 1844.9C519 1850.8 520.8 1857.8 522.4 1864.9C523.9 1872 525.4 1879.5 526.9 1887.4C528.3 1895.3 529.8 1904.1 531.1 1912.4C532.4 1920.7 533.6 1929.1 534.9 1937.4C536.1 1945.7 537.6 1954 538.6 1962.4C539.6 1970.7 540.4 1979 541.1 1987.4C541.8 1995.7 542.2 2004 542.9 2012.3C543.5 2020.7 544.4 2029.4 544.9 2037.3C545.3 2045.2 545.8 2052.7 545.4 2059.8C544.9 2066.9 544.1 2073.6 542.4 2079.8C540.6 2086.1 538 2092.3 534.9 2097.3C531.7 2102.3 527.8 2106.5 523.6 2109.8C519.4 2113.1 514.5 2116.5 509.9 2117.3C505.3 2118.1 500.3 2117.1 496.1 2114.8C492 2112.5 487.9 2108.1 484.9 2103.6C481.8 2099 479.3 2093.3 477.9 2087.3C476.4 2081.3 476.1 2074.4 476.1 2067.3C476.1 2060.2 477.1 2052.7 477.9 2044.8C478.7 2036.9 480.2 2028.2 481.1 2019.8C482.1 2011.5 482.9 2003.2 483.6 1994.9C484.3 1986.5 484.8 1978.2 485.4 1969.9C485.9 1961.5 486.5 1953.2 486.9 1944.9C487.3 1936.6 487.5 1928.2 487.9 1919.9C488.3 1911.6 488.7 1903.2 489.4 1894.9C490 1886.6 490.8 1877.8 491.9 1869.9C493 1862 494.6 1853.9 496.1 1847.4C497.7 1841 499.3 1834.9 501.1 1831.2C502.9 1827.4 505 1825.1 506.9 1824.9Z" fill="none" stroke="#FF0000" stroke-opacity="0.62" stroke-width="1.9"/>
</g>
<g clip-path="url(#cp41)">
<path d="M972.8 1744.5C979.5 1744.4 984.9 1746 990.3 1748C995.7 1749.9 1000.7 1752.8 1005.3 1756.2C1009.9 1759.7 1014.3 1763.9 1017.8 1768.7C1021.4 1773.5 1024.3 1778.9 1026.6 1785C1028.9 1791 1030.4 1797.9 1031.6 1805C1032.7 1812 1033.1 1819.9 1033.3 1827.4C1033.5 1834.9 1033.2 1842.4 1032.8 1849.9C1032.4 1857.4 1031.4 1864.9 1030.8 1872.4C1030.2 1879.9 1029.2 1887.4 1029.1 1894.9C1028.9 1902.4 1029.2 1909.9 1029.8 1917.4C1030.4 1924.9 1031.6 1932.4 1032.8 1939.9C1034.1 1947.4 1036 1954.9 1037.3 1962.4C1038.6 1969.9 1040.1 1977.4 1040.8 1984.9C1041.5 1992.4 1042 1999.9 1041.6 2007.3C1041.1 2014.8 1040 2022.3 1038.3 2029.8C1036.6 2037.3 1034.6 2045.2 1031.6 2052.3C1028.6 2059.4 1024.7 2066.1 1020.3 2072.3C1015.9 2078.6 1011.2 2084.4 1005.3 2089.8C999.5 2095.2 992.4 2100.2 985.3 2104.8C978.3 2109.4 970.8 2113.8 962.8 2117.3C954.9 2120.8 945.4 2124 937.9 2126C930.4 2128.1 924.9 2129.4 917.9 2129.8C910.8 2130.2 902.9 2129.4 895.4 2128.5C887.9 2127.7 880.4 2126.5 872.9 2124.8C865.4 2123.1 857.9 2120.8 850.4 2118.5C842.9 2116.3 835.4 2113.1 827.9 2111C820.4 2109 812.9 2107.1 805.4 2106C797.9 2105 790 2105.4 782.9 2104.8C775.9 2104.2 769.2 2103.6 762.9 2102.3C756.7 2101.1 750.7 2099.6 745.5 2097.3C740.3 2095 735.4 2092.3 731.7 2088.6C728 2084.8 725 2079.6 723.5 2074.8C721.9 2070 721.9 2065.2 722.5 2059.8C723 2054.4 724.6 2048.2 726.7 2042.3C728.9 2036.5 731.9 2030.7 735.5 2024.8C739 2019 743.4 2012.8 748 2007.3C752.5 2001.9 757.5 1997.4 762.9 1992.4C768.4 1987.4 774.6 1981.9 780.4 1977.4C786.3 1972.8 792.1 1968.8 797.9 1964.9C803.8 1960.9 809.6 1957.4 815.4 1953.6C821.3 1949.9 827.5 1946.3 832.9 1942.4C838.3 1938.4 843.3 1934.1 847.9 1929.9C852.5 1925.7 856.7 1922 860.4 1917.4C864.1 1912.8 867.3 1907.8 870.4 1902.4C873.5 1897 876.4 1890.7 879.1 1884.9C881.8 1879.1 884.1 1873.7 886.6 1867.4C889.1 1861.2 891.6 1854.1 894.1 1847.4C896.6 1840.8 899.3 1833.7 901.6 1827.4C903.9 1821.2 906 1815.8 907.9 1809.9C909.7 1804.1 910.8 1798.3 912.9 1792.5C915 1786.6 917 1780.4 920.4 1775C923.7 1769.6 927.9 1764.3 932.9 1760C937.9 1755.6 943.7 1751.3 950.4 1748.7C957 1746.1 966.2 1744.6 972.8 1744.5Z" fill="#9999D1"/>
<path d="M957.9 1917.9C961.8 1918.7 964.1 1925.4 966.6 1929.9C969.1 1934.4 969.3 1941.8 972.8 1944.9C976.4 1948 983.5 1944.5 987.8 1948.6C992.2 1952.8 996.2 1962.6 999.1 1969.9C1002 1977.2 1003.5 1984.4 1005.3 1992.4C1007.2 2000.3 1009.7 2009.4 1010.3 2017.3C1010.9 2025.3 1010.5 2032.8 1009.1 2039.8C1007.6 2046.9 1005.1 2053.6 1001.6 2059.8C998 2066.1 993.5 2072.1 987.8 2077.3C982.2 2082.5 974.9 2087.3 967.8 2091.1C960.8 2094.8 953.3 2097.9 945.4 2099.8C937.4 2101.7 928.3 2102.7 920.4 2102.3C912.5 2101.9 904.5 2099.8 897.9 2097.3C891.2 2094.8 885 2091.5 880.4 2087.3C875.8 2083.1 872.5 2077.7 870.4 2072.3C868.3 2066.9 867.1 2060.7 867.9 2054.8C868.7 2049 872.1 2043.2 875.4 2037.3C878.7 2031.5 883.7 2026.1 887.9 2019.8C892 2013.6 896.6 2006.5 900.4 1999.9C904.1 1993.2 907 1986.5 910.4 1979.9C913.7 1973.2 917 1966.5 920.4 1959.9C923.7 1953.2 926.6 1945.7 930.4 1939.9C934.1 1934.1 938.3 1928.6 942.9 1924.9C947.4 1921.2 953.9 1917.1 957.9 1917.9Z" fill="#00008B"/>
<path d="M995.3 1766.2C999.5 1767.1 1004.1 1768.7 1007.8 1771.2C1011.6 1773.7 1015.2 1777.3 1017.8 1781.2C1020.4 1785.2 1022.1 1789.7 1023.3 1795C1024.6 1800.2 1025.1 1806.2 1025.3 1812.4C1025.6 1818.7 1024.8 1825.4 1024.8 1832.4C1024.8 1839.5 1024.7 1847.4 1025.3 1854.9C1025.9 1862.4 1027.1 1869.9 1028.3 1877.4C1029.5 1884.9 1031.4 1892.4 1032.3 1899.9C1033.3 1907.4 1033.9 1914.9 1034.1 1922.4C1034.2 1929.9 1033.6 1937.4 1033.3 1944.9C1033 1952.4 1032.4 1959.9 1032.3 1967.4C1032.2 1974.9 1032.4 1982.8 1032.8 1989.9C1033.2 1996.9 1034.6 2003.2 1034.8 2009.8C1035 2016.5 1035 2023.2 1034.1 2029.8C1033.1 2036.5 1031.4 2043.2 1029.1 2049.8C1026.8 2056.5 1023.9 2063.6 1020.3 2069.8C1016.8 2076.1 1012.8 2081.9 1007.8 2087.3C1002.8 2092.7 996.6 2097.7 990.3 2102.3C984.1 2106.9 977.4 2111 970.3 2114.8C963.3 2118.5 955.8 2122.1 947.9 2124.8C939.9 2127.5 931.2 2130 922.9 2131C914.5 2132.1 906.2 2131.7 897.9 2131C889.6 2130.4 880.8 2129 872.9 2127.3C865 2125.6 857.9 2123.3 850.4 2121C842.9 2118.8 835.4 2116 827.9 2113.5C820.4 2111 812.5 2108.8 805.4 2106C798.3 2103.3 791.7 2100.4 785.4 2097.3C779.2 2094.2 773.2 2091.1 767.9 2087.3C762.7 2083.6 758 2079.4 754.2 2074.8C750.5 2070.2 747.1 2065.2 745.5 2059.8C743.8 2054.4 743.4 2048.2 744.2 2042.3C745 2036.5 747.3 2030.7 750.5 2024.8C753.6 2019 758 2012.8 762.9 2007.3C767.9 2001.9 774.6 1997.4 780.4 1992.4C786.3 1987.4 792.5 1981.9 797.9 1977.4C803.3 1972.8 808.3 1969 812.9 1964.9C817.5 1960.7 822.1 1957 825.4 1952.4C828.7 1947.8 830.8 1942.8 832.9 1937.4C835 1932 836.5 1925.7 837.9 1919.9C839.4 1914.1 840.4 1908.2 841.7 1902.4C842.9 1896.6 843.3 1890.7 845.4 1884.9C847.5 1879.1 850.8 1872.8 854.2 1867.4C857.5 1862 861.4 1857.4 865.4 1852.4C869.4 1847.4 873.7 1842.4 877.9 1837.4C882.1 1832.4 886.2 1827.4 890.4 1822.4C894.5 1817.4 898.7 1812.4 902.9 1807.4C907 1802.5 910.8 1797 915.4 1792.5C920 1787.9 924.9 1783.5 930.4 1780C935.8 1776.4 941.6 1773.3 947.9 1771.2C954.1 1769.1 962 1768.3 967.8 1767.5C973.7 1766.6 978.3 1766.4 982.8 1766.2C987.4 1766 991.2 1765.4 995.3 1766.2ZM990.3 1954.9C993 1958.8 994.7 1964 996.6 1969.9C998.5 1975.7 1000.3 1983.2 1001.6 1989.9C1002.8 1996.5 1003.8 2003.2 1004.1 2009.8C1004.4 2016.5 1004.2 2023.2 1003.3 2029.8C1002.5 2036.5 1001.2 2043.6 999.1 2049.8C996.9 2056.1 993.9 2061.9 990.3 2067.3C986.8 2072.7 983.3 2078.1 977.8 2082.3C972.4 2086.5 965.3 2089.8 957.9 2092.3C950.4 2094.8 941.2 2096.9 932.9 2097.3C924.5 2097.7 915.4 2096.9 907.9 2094.8C900.4 2092.7 892.9 2089 887.9 2084.8C882.9 2080.6 879.6 2075.2 877.9 2069.8C876.2 2064.4 876.2 2058.6 877.9 2052.3C879.6 2046.1 883.7 2039 887.9 2032.3C892 2025.7 897.9 2019 902.9 2012.3C907.9 2005.7 912.9 1999 917.9 1992.4C922.9 1985.7 927.9 1978.6 932.9 1972.4C937.9 1966.1 942.4 1959.5 947.9 1954.9C953.3 1950.3 959.9 1946.3 965.3 1944.9C970.8 1943.4 976.2 1944.5 980.3 1946.1C984.5 1947.8 987.6 1950.9 990.3 1954.9Z" fill="#FFEF99" fill-opacity="0.85" fill-rule="evenodd"/>
<path d="M990.3 1954.9C993 1958.8 994.7 1964 996.6 1969.9C998.5 1975.7 1000.3 1983.2 1001.6 1989.9C1002.8 1996.5 1003.8 2003.2 1004.1 2009.8C1004.4 2016.5 1004.2 2023.2 1003.3 2029.8C1002.5 2036.5 1001.2 2043.6 999.1 2049.8C996.9 2056.1 993.9 2061.9 990.3 2067.3C986.8 2072.7 983.3 2078.1 977.8 2082.3C972.4 2086.5 965.3 2089.8 957.9 2092.3C950.4 2094.8 941.2 2096.9 932.9 2097.3C924.5 2097.7 915.4 2096.9 907.9 2094.8C900.4 2092.7 892.9 2089 887.9 2084.8C882.9 2080.6 879.6 2075.2 877.9 2069.8C876.2 2064.4 876.2 2058.6 877.9 2052.3C879.6 2046.1 883.7 2039 887.9 2032.3C892 2025.7 897.9 2019 902.9 2012.3C907.9 2005.7 912.9 1999 917.9 1992.4C922.9 1985.7 927.9 1978.6 932.9 1972.4C937.9 1966.1 942.4 1959.5 947.9 1954.9C953.3 1950.3 959.9 1946.3 965.3 1944.9C970.8 1943.4 976.2 1944.5 980.3 1946.1C984.5 1947.8 987.6 1950.9 990.3 1954.9Z" fill="#FFD700" stroke="#FFD700" stroke-width="1.2" opacity="0.85"/>
<path d="M970.3 1817.4C973.3 1817.5 976.6 1818.4 979.1 1820.4C981.6 1822.5 983.7 1825.9 985.3 1829.9C987 1834 988 1839.1 989.1 1844.9C990.1 1850.8 990.8 1858.3 991.6 1864.9C992.4 1871.6 993.7 1878.2 994.1 1884.9C994.5 1891.6 994.4 1898.2 994.1 1904.9C993.8 1911.6 993 1918.2 992.3 1924.9C991.7 1931.6 990.9 1938.2 990.3 1944.9C989.8 1951.5 989.4 1958.2 989.1 1964.9C988.8 1971.5 988.6 1978.2 988.3 1984.9C988 1991.5 987.8 1998.2 987.3 2004.9C986.9 2011.5 986.6 2018.2 985.8 2024.8C985.1 2031.5 984.2 2038.2 982.8 2044.8C981.5 2051.5 979.9 2058.6 977.8 2064.8C975.8 2071.1 973.7 2076.9 970.3 2082.3C967 2087.7 962.8 2092.7 957.9 2097.3C952.9 2101.9 946.6 2106.5 940.4 2109.8C934.1 2113.1 927.4 2115.6 920.4 2117.3C913.3 2119 905.4 2119.8 897.9 2119.8C890.4 2119.8 882.9 2118.5 875.4 2117.3C867.9 2116 860.4 2114.4 852.9 2112.3C845.4 2110.2 837.5 2107.3 830.4 2104.8C823.3 2102.3 816.3 2099.8 810.4 2097.3C804.6 2094.8 799.4 2092.7 795.4 2089.8C791.5 2086.9 788.4 2083.6 786.7 2079.8C785 2076.1 784.8 2071.9 785.4 2067.3C786.1 2062.7 787.9 2057.3 790.4 2052.3C792.9 2047.3 796.7 2042.3 800.4 2037.3C804.2 2032.3 808.3 2027.3 812.9 2022.3C817.5 2017.3 822.9 2012.3 827.9 2007.3C832.9 2002.4 837.9 1996.9 842.9 1992.4C847.9 1987.8 853.7 1984.4 857.9 1979.9C862.1 1975.3 865 1970.3 867.9 1964.9C870.8 1959.5 872.9 1953.2 875.4 1947.4C877.9 1941.5 880.2 1935.7 882.9 1929.9C885.6 1924.1 888.5 1918.2 891.6 1912.4C894.8 1906.6 898.1 1900.7 901.6 1894.9C905.2 1889.1 908.9 1883.2 912.9 1877.4C916.8 1871.6 921.2 1865.8 925.4 1859.9C929.5 1854.1 933.7 1847.6 937.9 1842.4C942 1837.2 946.4 1832.4 950.4 1828.7C954.3 1824.9 958.3 1821.8 961.6 1819.9C964.9 1818.1 967.4 1817.4 970.3 1817.4ZM945.9 1924.1C948.6 1924.8 952.1 1925.8 954.6 1928.6C957.1 1931.5 959.3 1936.1 960.8 1941.1C962.4 1946.1 963 1952.4 963.8 1958.6C964.7 1964.9 965.3 1971.9 965.8 1978.6C966.4 1985.3 967 1991.9 967.1 1998.6C967.2 2005.3 966.8 2011.9 966.3 2018.6C965.9 2025.3 965.3 2031.9 964.6 2038.6C963.9 2045.2 963.3 2052.3 962.1 2058.6C960.8 2064.8 959.4 2070.7 957.1 2076.1C954.8 2081.5 951.9 2087.1 948.4 2091.1C944.8 2095 940.4 2098.1 935.9 2099.8C931.3 2101.6 926.3 2101.8 920.9 2101.6C915.5 2101.3 909.2 2100.1 903.4 2098.6C897.5 2097 891.3 2094.8 885.9 2092.3C880.5 2089.8 875.1 2086.7 870.9 2083.6C866.7 2080.4 863.3 2077.3 860.9 2073.6C858.5 2069.8 856.8 2065.2 856.4 2061.1C856 2056.9 856.4 2052.7 858.4 2048.6C860.4 2044.4 864.6 2040.2 868.4 2036.1C872.1 2031.9 876.7 2027.8 880.9 2023.6C885.1 2019.4 889.8 2015.7 893.4 2011.1C896.9 2006.5 900 2001.5 902.1 1996.1C904.2 1990.7 904.4 1984.4 905.9 1978.6C907.3 1972.8 908.8 1967 910.9 1961.1C913 1955.3 915.5 1948.6 918.4 1943.6C921.3 1938.6 925 1934.3 928.4 1931.1C931.7 1928 935.4 1926.1 938.4 1924.9C941.3 1923.7 943.1 1923.5 945.9 1924.1Z" fill="#99FF99" fill-opacity="0.85" fill-rule="evenodd"/>
<path d="M945.9 1924.1C948.6 1924.8 952.1 1925.8 954.6 1928.6C957.1 1931.5 959.3 1936.1 960.8 1941.1C962.4 1946.1 963 1952.4 963.8 1958.6C964.7 1964.9 965.3 1971.9 965.8 1978.6C966.4 1985.3 967 1991.9 967.1 1998.6C967.2 2005.3 966.8 2011.9 966.3 2018.6C965.9 2025.3 965.3 2031.9 964.6 2038.6C963.9 2045.2 963.3 2052.3 962.1 2058.6C960.8 2064.8 959.4 2070.7 957.1 2076.1C954.8 2081.5 951.9 2087.1 948.4 2091.1C944.8 2095 940.4 2098.1 935.9 2099.8C931.3 2101.6 926.3 2101.8 920.9 2101.6C915.5 2101.3 909.2 2100.1 903.4 2098.6C897.5 2097 891.3 2094.8 885.9 2092.3C880.5 2089.8 875.1 2086.7 870.9 2083.6C866.7 2080.4 863.3 2077.3 860.9 2073.6C858.5 2069.8 856.8 2065.2 856.4 2061.1C856 2056.9 856.4 2052.7 858.4 2048.6C860.4 2044.4 864.6 2040.2 868.4 2036.1C872.1 2031.9 876.7 2027.8 880.9 2023.6C885.1 2019.4 889.8 2015.7 893.4 2011.1C896.9 2006.5 900 2001.5 902.1 1996.1C904.2 1990.7 904.4 1984.4 905.9 1978.6C907.3 1972.8 908.8 1967 910.9 1961.1C913 1955.3 915.5 1948.6 918.4 1943.6C921.3 1938.6 925 1934.3 928.4 1931.1C931.7 1928 935.4 1926.1 938.4 1924.9C941.3 1923.7 943.1 1923.5 945.9 1924.1Z" fill="#00FF00" stroke="#00FF00" stroke-width="1.2" opacity="0.85"/>
<path d="M956.6 1795.5C958.9 1794.9 961 1796 962.8 1798C964.7 1800 966.4 1803.8 967.8 1807.4C969.3 1811.1 970.3 1815.4 971.6 1819.9C972.8 1824.5 973.9 1829.9 975.3 1834.9C976.8 1839.9 978.9 1844.5 980.3 1849.9C981.8 1855.3 983 1861.2 984.1 1867.4C985.1 1873.7 986 1880.7 986.6 1887.4C987.1 1894.1 987.3 1900.7 987.3 1907.4C987.3 1914.1 986.8 1920.7 986.6 1927.4C986.3 1934.1 986 1940.7 985.8 1947.4C985.6 1954 985.4 1960.7 985.3 1967.4C985.3 1974 985.4 1980.7 985.3 1987.4C985.3 1994 985.3 2000.7 984.8 2007.3C984.4 2014 983.8 2020.7 982.8 2027.3C981.9 2034 980.5 2040.7 979.1 2047.3C977.6 2054 976.2 2060.7 974.1 2067.3C972 2074 969.7 2081.5 966.6 2087.3C963.5 2093.1 959.7 2097.9 955.4 2102.3C951 2106.7 946.2 2110.8 940.4 2113.5C934.5 2116.3 927.4 2117.9 920.4 2118.5C913.3 2119.2 905.4 2118.3 897.9 2117.3C890.4 2116.3 882.9 2114.2 875.4 2112.3C867.9 2110.4 860.4 2108.1 852.9 2106C845.4 2104 837.9 2101.9 830.4 2099.8C822.9 2097.7 814.6 2095.6 807.9 2093.6C801.3 2091.5 795.4 2089.6 790.4 2087.3C785.4 2085 780.9 2082.7 777.9 2079.8C775 2076.9 773.6 2073.1 772.9 2069.8C772.3 2066.5 772.7 2062.7 774.2 2059.8C775.6 2056.9 778.1 2054.8 781.7 2052.3C785.2 2049.8 790.6 2048.2 795.4 2044.8C800.2 2041.5 805.4 2036.9 810.4 2032.3C815.4 2027.8 820.4 2022.3 825.4 2017.3C830.4 2012.3 835.4 2007.8 840.4 2002.4C845.4 1996.9 851.2 1990.3 855.4 1984.9C859.6 1979.4 862.5 1975.3 865.4 1969.9C868.3 1964.5 870.2 1958.6 872.9 1952.4C875.6 1946.1 878.5 1939 881.6 1932.4C884.8 1925.7 888.3 1919.1 891.6 1912.4C895 1905.7 898.1 1899.1 901.6 1892.4C905.2 1885.7 909.3 1878.7 912.9 1872.4C916.4 1866.2 919.7 1860.3 922.9 1854.9C926 1849.5 929.1 1844.9 931.6 1839.9C934.1 1834.9 936 1829.5 937.9 1824.9C939.7 1820.4 941 1816.4 942.9 1812.4C944.7 1808.5 946.8 1804 949.1 1801.2C951.4 1798.4 954.3 1796 956.6 1795.5ZM942.9 1922.9C945.6 1923.5 949.1 1924.6 951.6 1927.4C954.1 1930.2 956.3 1934.9 957.9 1939.9C959.4 1944.9 960 1951.1 960.8 1957.4C961.7 1963.6 962.3 1970.7 962.8 1977.4C963.4 1984 964 1990.7 964.1 1997.4C964.2 2004 963.8 2010.7 963.3 2017.3C962.9 2024 962.3 2030.7 961.6 2037.3C960.9 2044 960.3 2051.1 959.1 2057.3C957.9 2063.6 956.4 2069.4 954.1 2074.8C951.8 2080.2 948.9 2085.9 945.4 2089.8C941.8 2093.8 937.4 2096.8 932.9 2098.6C928.3 2100.3 923.3 2100.5 917.9 2100.3C912.5 2100.1 906.2 2098.8 900.4 2097.3C894.5 2095.8 888.3 2093.6 882.9 2091.1C877.5 2088.6 872.1 2085.4 867.9 2082.3C863.7 2079.2 860.3 2076.1 857.9 2072.3C855.5 2068.6 853.8 2064 853.4 2059.8C853 2055.7 853.4 2051.5 855.4 2047.3C857.4 2043.2 861.6 2039 865.4 2034.8C869.1 2030.7 873.7 2026.5 877.9 2022.3C882.1 2018.2 886.8 2014.4 890.4 2009.8C893.9 2005.3 897 2000.3 899.1 1994.9C901.2 1989.4 901.4 1983.2 902.9 1977.4C904.3 1971.5 905.8 1965.7 907.9 1959.9C910 1954 912.5 1947.4 915.4 1942.4C918.3 1937.4 922 1933 925.4 1929.9C928.7 1926.8 932.4 1924.8 935.4 1923.6C938.3 1922.5 940.2 1922.3 942.9 1922.9Z" fill="#FF9999" fill-opacity="0.85" fill-rule="evenodd"/>
<path d="M942.9 1922.9C945.6 1923.5 949.1 1924.6 951.6 1927.4C954.1 1930.2 956.3 1934.9 957.9 1939.9C959.4 1944.9 960 1951.1 960.8 1957.4C961.7 1963.6 962.3 1970.7 962.8 1977.4C963.4 1984 964 1990.7 964.1 1997.4C964.2 2004 963.8 2010.7 963.3 2017.3C962.9 2024 962.3 2030.7 961.6 2037.3C960.9 2044 960.3 2051.1 959.1 2057.3C957.9 2063.6 956.4 2069.4 954.1 2074.8C951.8 2080.2 948.9 2085.9 945.4 2089.8C941.8 2093.8 937.4 2096.8 932.9 2098.6C928.3 2100.3 923.3 2100.5 917.9 2100.3C912.5 2100.1 906.2 2098.8 900.4 2097.3C894.5 2095.8 888.3 2093.6 882.9 2091.1C877.5 2088.6 872.1 2085.4 867.9 2082.3C863.7 2079.2 860.3 2076.1 857.9 2072.3C855.5 2068.6 853.8 2064 853.4 2059.8C853 2055.7 853.4 2051.5 855.4 2047.3C857.4 2043.2 861.6 2039 865.4 2034.8C869.1 2030.7 873.7 2026.5 877.9 2022.3C882.1 2018.2 886.8 2014.4 890.4 2009.8C893.9 2005.3 897 2000.3 899.1 1994.9C901.2 1989.4 901.4 1983.2 902.9 1977.4C904.3 1971.5 905.8 1965.7 907.9 1959.9C910 1954 912.5 1947.4 915.4 1942.4C918.3 1937.4 922 1933 925.4 1929.9C928.7 1926.8 932.4 1924.8 935.4 1923.6C938.3 1922.5 940.2 1922.3 942.9 1922.9Z" fill="#FF0000" stroke="#FF0000" stroke-width="1.2" opacity="0.85"/>
<path d="M972.8 1744.5C979.5 1744.4 984.9 1746 990.3 1748C995.7 1749.9 1000.7 1752.8 1005.3 1756.2C1009.9 1759.7 1014.3 1763.9 1017.8 1768.7C1021.4 1773.5 1024.3 1778.9 1026.6 1785C1028.9 1791 1030.4 1797.9 1031.6 1805C1032.7 1812 1033.1 1819.9 1033.3 1827.4C1033.5 1834.9 1033.2 1842.4 1032.8 1849.9C1032.4 1857.4 1031.4 1864.9 1030.8 1872.4C1030.2 1879.9 1029.2 1887.4 1029.1 1894.9C1028.9 1902.4 1029.2 1909.9 1029.8 1917.4C1030.4 1924.9 1031.6 1932.4 1032.8 1939.9C1034.1 1947.4 1036 1954.9 1037.3 1962.4C1038.6 1969.9 1040.1 1977.4 1040.8 1984.9C1041.5 1992.4 1042 1999.9 1041.6 2007.3C1041.1 2014.8 1040 2022.3 1038.3 2029.8C1036.6 2037.3 1034.6 2045.2 1031.6 2052.3C1028.6 2059.4 1024.7 2066.1 1020.3 2072.3C1015.9 2078.6 1011.2 2084.4 1005.3 2089.8C999.5 2095.2 992.4 2100.2 985.3 2104.8C978.3 2109.4 970.8 2113.8 962.8 2117.3C954.9 2120.8 945.4 2124 937.9 2126C930.4 2128.1 924.9 2129.4 917.9 2129.8C910.8 2130.2 902.9 2129.4 895.4 2128.5C887.9 2127.7 880.4 2126.5 872.9 2124.8C865.4 2123.1 857.9 2120.8 850.4 2118.5C842.9 2116.3 835.4 2113.1 827.9 2111C820.4 2109 812.9 2107.1 805.4 2106C797.9 2105 790 2105.4 782.9 2104.8C775.9 2104.2 769.2 2103.6 762.9 2102.3C756.7 2101.1 750.7 2099.6 745.5 2097.3C740.3 2095 735.4 2092.3 731.7 2088.6C728 2084.8 725 2079.6 723.5 2074.8C721.9 2070 721.9 2065.2 722.5 2059.8C723 2054.4 724.6 2048.2 726.7 2042.3C728.9 2036.5 731.9 2030.7 735.5 2024.8C739 2019 743.4 2012.8 748 2007.3C752.5 2001.9 757.5 1997.4 762.9 1992.4C768.4 1987.4 774.6 1981.9 780.4 1977.4C786.3 1972.8 792.1 1968.8 797.9 1964.9C803.8 1960.9 809.6 1957.4 815.4 1953.6C821.3 1949.9 827.5 1946.3 832.9 1942.4C838.3 1938.4 843.3 1934.1 847.9 1929.9C852.5 1925.7 856.7 1922 860.4 1917.4C864.1 1912.8 867.3 1907.8 870.4 1902.4C873.5 1897 876.4 1890.7 879.1 1884.9C881.8 1879.1 884.1 1873.7 886.6 1867.4C889.1 1861.2 891.6 1854.1 894.1 1847.4C896.6 1840.8 899.3 1833.7 901.6 1827.4C903.9 1821.2 906 1815.8 907.9 1809.9C909.7 1804.1 910.8 1798.3 912.9 1792.5C915 1786.6 917 1780.4 920.4 1775C923.7 1769.6 927.9 1764.3 932.9 1760C937.9 1755.6 943.7 1751.3 950.4 1748.7C957 1746.1 966.2 1744.6 972.8 1744.5Z" fill="none" stroke="#00008B" stroke-opacity="0.62" stroke-width="1.9"/>
<path d="M995.3 1766.2C999.5 1767.1 1004.1 1768.7 1007.8 1771.2C1011.6 1773.7 1015.2 1777.3 1017.8 1781.2C1020.4 1785.2 1022.1 1789.7 1023.3 1795C1024.6 1800.2 1025.1 1806.2 1025.3 1812.4C1025.6 1818.7 1024.8 1825.4 1024.8 1832.4C1024.8 1839.5 1024.7 1847.4 1025.3 1854.9C1025.9 1862.4 1027.1 1869.9 1028.3 1877.4C1029.5 1884.9 1031.4 1892.4 1032.3 1899.9C1033.3 1907.4 1033.9 1914.9 1034.1 1922.4C1034.2 1929.9 1033.6 1937.4 1033.3 1944.9C1033 1952.4 1032.4 1959.9 1032.3 1967.4C1032.2 1974.9 1032.4 1982.8 1032.8 1989.9C1033.2 1996.9 1034.6 2003.2 1034.8 2009.8C1035 2016.5 1035 2023.2 1034.1 2029.8C1033.1 2036.5 1031.4 2043.2 1029.1 2049.8C1026.8 2056.5 1023.9 2063.6 1020.3 2069.8C1016.8 2076.1 1012.8 2081.9 1007.8 2087.3C1002.8 2092.7 996.6 2097.7 990.3 2102.3C984.1 2106.9 977.4 2111 970.3 2114.8C963.3 2118.5 955.8 2122.1 947.9 2124.8C939.9 2127.5 931.2 2130 922.9 2131C914.5 2132.1 906.2 2131.7 897.9 2131C889.6 2130.4 880.8 2129 872.9 2127.3C865 2125.6 857.9 2123.3 850.4 2121C842.9 2118.8 835.4 2116 827.9 2113.5C820.4 2111 812.5 2108.8 805.4 2106C798.3 2103.3 791.7 2100.4 785.4 2097.3C779.2 2094.2 773.2 2091.1 767.9 2087.3C762.7 2083.6 758 2079.4 754.2 2074.8C750.5 2070.2 747.1 2065.2 745.5 2059.8C743.8 2054.4 743.4 2048.2 744.2 2042.3C745 2036.5 747.3 2030.7 750.5 2024.8C753.6 2019 758 2012.8 762.9 2007.3C767.9 2001.9 774.6 1997.4 780.4 1992.4C786.3 1987.4 792.5 1981.9 797.9 1977.4C803.3 1972.8 808.3 1969 812.9 1964.9C817.5 1960.7 822.1 1957 825.4 1952.4C828.7 1947.8 830.8 1942.8 832.9 1937.4C835 1932 836.5 1925.7 837.9 1919.9C839.4 1914.1 840.4 1908.2 841.7 1902.4C842.9 1896.6 843.3 1890.7 845.4 1884.9C847.5 1879.1 850.8 1872.8 854.2 1867.4C857.5 1862 861.4 1857.4 865.4 1852.4C869.4 1847.4 873.7 1842.4 877.9 1837.4C882.1 1832.4 886.2 1827.4 890.4 1822.4C894.5 1817.4 898.7 1812.4 902.9 1807.4C907 1802.5 910.8 1797 915.4 1792.5C920 1787.9 924.9 1783.5 930.4 1780C935.8 1776.4 941.6 1773.3 947.9 1771.2C954.1 1769.1 962 1768.3 967.8 1767.5C973.7 1766.6 978.3 1766.4 982.8 1766.2C987.4 1766 991.2 1765.4 995.3 1766.2Z" fill="none" stroke="#FFD700" stroke-opacity="0.62" stroke-width="1.9"/>
<path d="M970.3 1817.4C973.3 1817.5 976.6 1818.4 979.1 1820.4C981.6 1822.5 983.7 1825.9 985.3 1829.9C987 1834 988 1839.1 989.1 1844.9C990.1 1850.8 990.8 1858.3 991.6 1864.9C992.4 1871.6 993.7 1878.2 994.1 1884.9C994.5 1891.6 994.4 1898.2 994.1 1904.9C993.8 1911.6 993 1918.2 992.3 1924.9C991.7 1931.6 990.9 1938.2 990.3 1944.9C989.8 1951.5 989.4 1958.2 989.1 1964.9C988.8 1971.5 988.6 1978.2 988.3 1984.9C988 1991.5 987.8 1998.2 987.3 2004.9C986.9 2011.5 986.6 2018.2 985.8 2024.8C985.1 2031.5 984.2 2038.2 982.8 2044.8C981.5 2051.5 979.9 2058.6 977.8 2064.8C975.8 2071.1 973.7 2076.9 970.3 2082.3C967 2087.7 962.8 2092.7 957.9 2097.3C952.9 2101.9 946.6 2106.5 940.4 2109.8C934.1 2113.1 927.4 2115.6 920.4 2117.3C913.3 2119 905.4 2119.8 897.9 2119.8C890.4 2119.8 882.9 2118.5 875.4 2117.3C867.9 2116 860.4 2114.4 852.9 2112.3C845.4 2110.2 837.5 2107.3 830.4 2104.8C823.3 2102.3 816.3 2099.8 810.4 2097.3C804.6 2094.8 799.4 2092.7 795.4 2089.8C791.5 2086.9 788.4 2083.6 786.7 2079.8C785 2076.1 784.8 2071.9 785.4 2067.3C786.1 2062.7 787.9 2057.3 790.4 2052.3C792.9 2047.3 796.7 2042.3 800.4 2037.3C804.2 2032.3 808.3 2027.3 812.9 2022.3C817.5 2017.3 822.9 2012.3 827.9 2007.3C832.9 2002.4 837.9 1996.9 842.9 1992.4C847.9 1987.8 853.7 1984.4 857.9 1979.9C862.1 1975.3 865 1970.3 867.9 1964.9C870.8 1959.5 872.9 1953.2 875.4 1947.4C877.9 1941.5 880.2 1935.7 882.9 1929.9C885.6 1924.1 888.5 1918.2 891.6 1912.4C894.8 1906.6 898.1 1900.7 901.6 1894.9C905.2 1889.1 908.9 1883.2 912.9 1877.4C916.8 1871.6 921.2 1865.8 925.4 1859.9C929.5 1854.1 933.7 1847.6 937.9 1842.4C942 1837.2 946.4 1832.4 950.4 1828.7C954.3 1824.9 958.3 1821.8 961.6 1819.9C964.9 1818.1 967.4 1817.4 970.3 1817.4Z" fill="none" stroke="#00FF00" stroke-opacity="0.62" stroke-width="1.9"/>
<path d="M956.6 1795.5C958.9 1794.9 961 1796 962.8 1798C964.7 1800 966.4 1803.8 967.8 1807.4C969.3 1811.1 970.3 1815.4 971.6 1819.9C972.8 1824.5 973.9 1829.9 975.3 1834.9C976.8 1839.9 978.9 1844.5 980.3 1849.9C981.8 1855.3 983 1861.2 984.1 1867.4C985.1 1873.7 986 1880.7 986.6 1887.4C987.1 1894.1 987.3 1900.7 987.3 1907.4C987.3 1914.1 986.8 1920.7 986.6 1927.4C986.3 1934.1 986 1940.7 985.8 1947.4C985.6 1954 985.4 1960.7 985.3 1967.4C985.3 1974 985.4 1980.7 985.3 1987.4C985.3 1994 985.3 2000.7 984.8 2007.3C984.4 2014 983.8 2020.7 982.8 2027.3C981.9 2034 980.5 2040.7 979.1 2047.3C977.6 2054 976.2 2060.7 974.1 2067.3C972 2074 969.7 2081.5 966.6 2087.3C963.5 2093.1 959.7 2097.9 955.4 2102.3C951 2106.7 946.2 2110.8 940.4 2113.5C934.5 2116.3 927.4 2117.9 920.4 2118.5C913.3 2119.2 905.4 2118.3 897.9 2117.3C890.4 2116.3 882.9 2114.2 875.4 2112.3C867.9 2110.4 860.4 2108.1 852.9 2106C845.4 2104 837.9 2101.9 830.4 2099.8C822.9 2097.7 814.6 2095.6 807.9 2093.6C801.3 2091.5 795.4 2089.6 790.4 2087.3C785.4 2085 780.9 2082.7 777.9 2079.8C775 2076.9 773.6 2073.1 772.9 2069.8C772.3 2066.5 772.7 2062.7 774.2 2059.8C775.6 2056.9 778.1 2054.8 781.7 2052.3C785.2 2049.8 790.6 2048.2 795.4 2044.8C800.2 2041.5 805.4 2036.9 810.4 2032.3C815.4 2027.8 820.4 2022.3 825.4 2017.3C830.4 2012.3 835.4 2007.8 840.4 2002.4C845.4 1996.9 851.2 1990.3 855.4 1984.9C859.6 1979.4 862.5 1975.3 865.4 1969.9C868.3 1964.5 870.2 1958.6 872.9 1952.4C875.6 1946.1 878.5 1939 881.6 1932.4C884.8 1925.7 888.3 1919.1 891.6 1912.4C895 1905.7 898.1 1899.1 901.6 1892.4C905.2 1885.7 909.3 1878.7 912.9 1872.4C916.4 1866.2 919.7 1860.3 922.9 1854.9C926 1849.5 929.1 1844.9 931.6 1839.9C934.1 1834.9 936 1829.5 937.9 1824.9C939.7 1820.4 941 1816.4 942.9 1812.4C944.7 1808.5 946.8 1804 949.1 1801.2C951.4 1798.4 954.3 1796 956.6 1795.5Z" fill="none" stroke="#FF0000" stroke-opacity="0.62" stroke-width="1.9"/>
</g>
<g clip-path="url(#cp42)">
<path d="M1185.9 1744.5C1191.6 1744.5 1198 1745.2 1203.4 1747C1208.8 1748.7 1214.1 1751.6 1218.4 1755C1222.8 1758.4 1226.5 1762.9 1229.7 1767.5C1232.8 1772 1235.1 1777 1237.2 1782.5C1239.2 1787.9 1240.7 1794.1 1242.2 1800C1243.6 1805.8 1244.5 1811.6 1245.9 1817.4C1247.4 1823.3 1249 1828.7 1250.9 1834.9C1252.8 1841.2 1254.7 1848.3 1257.2 1854.9C1259.7 1861.6 1262.8 1868.7 1265.9 1874.9C1269 1881.2 1272.4 1886.6 1275.9 1892.4C1279.4 1898.2 1283.2 1904.1 1287.1 1909.9C1291.1 1915.7 1295.3 1922 1299.6 1927.4C1304 1932.8 1308.6 1937.8 1313.4 1942.4C1318.2 1947 1323.4 1950.9 1328.4 1954.9C1333.4 1958.8 1338.4 1962.4 1343.4 1966.1C1348.4 1969.9 1353.4 1973 1358.4 1977.4C1363.4 1981.7 1368.3 1986.9 1373.3 1992.4C1378.3 1997.8 1383.8 2004 1388.3 2009.8C1392.9 2015.7 1397.3 2021.5 1400.8 2027.3C1404.4 2033.2 1407.1 2039 1409.6 2044.8C1412.1 2050.7 1414.3 2056.9 1415.8 2062.3C1417.4 2067.7 1418.6 2072.7 1418.8 2077.3C1419 2081.9 1418.6 2086.3 1417.1 2089.8C1415.5 2093.3 1412.7 2096.5 1409.6 2098.6C1406.5 2100.6 1402.7 2101.5 1398.3 2102.3C1394 2103.1 1388.8 2102.9 1383.3 2103.6C1377.9 2104.2 1371.7 2104.8 1365.9 2106C1360 2107.3 1354.6 2109 1348.4 2111C1342.1 2113.1 1335.4 2116.3 1328.4 2118.5C1321.3 2120.8 1313.8 2123 1305.9 2124.8C1298 2126.6 1289.2 2128.2 1280.9 2129.3C1272.6 2130.3 1264.2 2131.2 1255.9 2131C1247.6 2130.9 1238.8 2130 1230.9 2128.5C1223 2127.1 1215.9 2125.2 1208.4 2122.3C1200.9 2119.4 1193 2115.2 1185.9 2111C1178.9 2106.9 1172.2 2102.1 1166 2097.3C1159.7 2092.5 1153.9 2087.7 1148.5 2082.3C1143 2076.9 1137.8 2070.7 1133.5 2064.8C1129.1 2059 1125.2 2053.6 1122.2 2047.3C1119.2 2041.1 1116.9 2034 1115.5 2027.3C1114 2020.7 1113.5 2014.4 1113.5 2007.3C1113.5 2000.3 1114.4 1992.4 1115.5 1984.9C1116.5 1977.4 1118.5 1969.9 1119.7 1962.4C1121 1954.9 1122.3 1947.4 1123 1939.9C1123.7 1932.4 1124 1924.9 1124 1917.4C1124 1909.9 1123.4 1902.4 1123 1894.9C1122.6 1887.4 1121.8 1879.9 1121.5 1872.4C1121.1 1864.9 1120.8 1857.4 1121 1849.9C1121.1 1842.4 1121.6 1834.9 1122.2 1827.4C1122.8 1819.9 1123.3 1812 1124.7 1805C1126.2 1797.9 1128.3 1791.2 1131 1785C1133.7 1778.7 1137 1772.5 1141 1767.5C1144.9 1762.5 1149.9 1758.4 1154.7 1755C1159.5 1751.6 1164.5 1748.7 1169.7 1747C1174.9 1745.2 1180.3 1744.5 1185.9 1744.5Z" fill="#9999D1"/>
<path d="M1193.4 1919.9C1190.3 1922.8 1186.8 1929.1 1184.7 1934.9C1182.6 1940.7 1184.1 1950.7 1180.9 1954.9C1177.8 1959 1170.5 1956.1 1166 1959.9C1161.4 1963.6 1156.5 1970.7 1153.5 1977.4C1150.5 1984 1149 1992.4 1148 1999.9C1146.9 2007.3 1146.7 2014.8 1147.2 2022.3C1147.7 2029.8 1148.7 2037.8 1151 2044.8C1153.2 2051.9 1156.8 2058.6 1161 2064.8C1165.1 2071.1 1170.1 2077.3 1175.9 2082.3C1181.8 2087.3 1188.9 2091.5 1195.9 2094.8C1203 2098.1 1210.9 2100.8 1218.4 2102.3C1225.9 2103.8 1233.8 2104.2 1240.9 2103.6C1248 2102.9 1255.1 2100.8 1260.9 2098.6C1266.7 2096.3 1271.7 2093.8 1275.9 2089.8C1280.1 2085.9 1283.6 2080.2 1285.9 2074.8C1288.2 2069.4 1290.1 2063.2 1289.6 2057.3C1289.2 2051.5 1286.5 2045.7 1283.4 2039.8C1280.3 2034 1275.1 2028.6 1270.9 2022.3C1266.7 2016.1 1262.2 2009 1258.4 2002.4C1254.7 1995.7 1251.7 1989 1248.4 1982.4C1245.1 1975.7 1241.7 1969 1238.4 1962.4C1235.1 1955.7 1232.2 1948.6 1228.4 1942.4C1224.7 1936.1 1220.1 1929.1 1215.9 1924.9C1211.8 1920.7 1207.2 1918.2 1203.4 1917.4C1199.7 1916.6 1196.6 1917 1193.4 1919.9Z" fill="#00008B"/>
<path d="M1158.5 1767.5C1163.9 1767 1171.8 1766.5 1178.4 1767C1185.1 1767.5 1192.2 1768.7 1198.4 1770.5C1204.7 1772.2 1210.5 1774.4 1215.9 1777.5C1221.3 1780.5 1226.3 1784.5 1230.9 1788.7C1235.5 1792.9 1239.2 1797.7 1243.4 1802.5C1247.6 1807.2 1251.7 1812.4 1255.9 1817.4C1260.1 1822.4 1264.4 1827.4 1268.4 1832.4C1272.4 1837.4 1276.1 1842.4 1279.6 1847.4C1283.2 1852.4 1286.5 1857 1289.6 1862.4C1292.8 1867.8 1295.9 1874.1 1298.4 1879.9C1300.9 1885.7 1302.8 1891.6 1304.6 1897.4C1306.5 1903.2 1307.8 1909.1 1309.6 1914.9C1311.5 1920.7 1313.2 1927 1315.9 1932.4C1318.6 1937.8 1322.1 1942.8 1325.9 1947.4C1329.6 1952 1333.8 1955.7 1338.4 1959.9C1342.9 1964 1348.4 1967.8 1353.4 1972.4C1358.4 1976.9 1363.6 1981.9 1368.3 1987.4C1373.1 1992.8 1377.9 1999 1382.1 2004.9C1386.3 2010.7 1390.2 2016.5 1393.3 2022.3C1396.5 2028.2 1399.2 2034 1400.8 2039.8C1402.5 2045.7 1403.5 2051.9 1403.3 2057.3C1403.1 2062.7 1401.7 2067.7 1399.6 2072.3C1397.5 2076.9 1394.8 2081.3 1390.8 2084.8C1386.9 2088.3 1381.3 2090.8 1375.8 2093.6C1370.4 2096.3 1364.2 2098.8 1358.4 2101.1C1352.5 2103.3 1347.1 2105 1340.9 2107.3C1334.6 2109.6 1327.5 2112.3 1320.9 2114.8C1314.2 2117.3 1308 2120 1300.9 2122.3C1293.8 2124.6 1285.9 2127 1278.4 2128.5C1270.9 2130.1 1263.4 2131.4 1255.9 2131.8C1248.4 2132.2 1240.9 2131.8 1233.4 2131C1225.9 2130.3 1218 2129.2 1210.9 2127.3C1203.8 2125.4 1197.6 2123.1 1190.9 2119.8C1184.3 2116.5 1177.2 2111.9 1170.9 2107.3C1164.7 2102.7 1158.7 2097.7 1153.5 2092.3C1148.3 2086.9 1143.7 2081.1 1139.7 2074.8C1135.8 2068.6 1132.2 2061.5 1129.7 2054.8C1127.2 2048.2 1125.7 2041.5 1124.7 2034.8C1123.8 2028.2 1123.8 2021.5 1124 2014.8C1124.1 2008.2 1125.5 2001.5 1125.5 1994.9C1125.5 1988.2 1124.6 1981.5 1124 1974.9C1123.3 1968.2 1122 1961.5 1121.5 1954.9C1121 1948.2 1120.7 1941.5 1121 1934.9C1121.2 1928.2 1122.2 1921.6 1123 1914.9C1123.7 1908.2 1124.8 1901.6 1125.5 1894.9C1126.2 1888.2 1126.7 1881.6 1127.2 1874.9C1127.7 1868.3 1128.2 1861.6 1128.5 1854.9C1128.8 1848.3 1129 1841.6 1129 1834.9C1129 1828.3 1128.3 1821.6 1128.5 1814.9C1128.6 1808.3 1128.5 1801.2 1129.7 1795C1131 1788.7 1133.3 1781.6 1136 1777.5C1138.7 1773.3 1142.2 1771.6 1146 1770C1149.7 1768.3 1153 1768 1158.5 1767.5ZM1163.5 1954.9C1160.3 1959.7 1158.7 1967.4 1157.2 1974.9C1155.7 1982.4 1155 1991.5 1154.7 1999.9C1154.4 2008.2 1154.6 2016.9 1155.5 2024.8C1156.3 2032.8 1157.5 2040.7 1159.7 2047.3C1161.9 2054 1164.9 2059.4 1168.4 2064.8C1172 2070.2 1175.5 2075.2 1180.9 2079.8C1186.4 2084.4 1193.4 2089.4 1200.9 2092.3C1208.4 2095.2 1217.6 2096.9 1225.9 2097.3C1234.2 2097.7 1243.4 2096.9 1250.9 2094.8C1258.4 2092.7 1265.9 2089 1270.9 2084.8C1275.9 2080.6 1279.2 2075.2 1280.9 2069.8C1282.6 2064.4 1282.6 2058.6 1280.9 2052.3C1279.2 2046.1 1275.1 2039 1270.9 2032.3C1266.7 2025.7 1260.9 2019 1255.9 2012.3C1250.9 2005.7 1245.9 1999 1240.9 1992.4C1235.9 1985.7 1230.9 1978.6 1225.9 1972.4C1220.9 1966.1 1216.3 1959.5 1210.9 1954.9C1205.5 1950.3 1199.3 1946.3 1193.4 1944.9C1187.6 1943.4 1180.9 1944.5 1175.9 1946.1C1170.9 1947.8 1166.6 1950.1 1163.5 1954.9Z" fill="#FFEF99" fill-opacity="0.85" fill-rule="evenodd"/>
<path d="M1163.5 1954.9C1160.3 1959.7 1158.7 1967.4 1157.2 1974.9C1155.7 1982.4 1155 1991.5 1154.7 1999.9C1154.4 2008.2 1154.6 2016.9 1155.5 2024.8C1156.3 2032.8 1157.5 2040.7 1159.7 2047.3C1161.9 2054 1164.9 2059.4 1168.4 2064.8C1172 2070.2 1175.5 2075.2 1180.9 2079.8C1186.4 2084.4 1193.4 2089.4 1200.9 2092.3C1208.4 2095.2 1217.6 2096.9 1225.9 2097.3C1234.2 2097.7 1243.4 2096.9 1250.9 2094.8C1258.4 2092.7 1265.9 2089 1270.9 2084.8C1275.9 2080.6 1279.2 2075.2 1280.9 2069.8C1282.6 2064.4 1282.6 2058.6 1280.9 2052.3C1279.2 2046.1 1275.1 2039 1270.9 2032.3C1266.7 2025.7 1260.9 2019 1255.9 2012.3C1250.9 2005.7 1245.9 1999 1240.9 1992.4C1235.9 1985.7 1230.9 1978.6 1225.9 1972.4C1220.9 1966.1 1216.3 1959.5 1210.9 1954.9C1205.5 1950.3 1199.3 1946.3 1193.4 1944.9C1187.6 1943.4 1180.9 1944.5 1175.9 1946.1C1170.9 1947.8 1166.6 1950.1 1163.5 1954.9Z" fill="#FFD700" stroke="#FFD700" stroke-width="1.2" opacity="0.85"/>
<path d="M1202.2 1827.9C1206.3 1827.5 1211.1 1828.1 1215.9 1829.9C1220.7 1831.7 1226.3 1834.9 1230.9 1838.7C1235.5 1842.4 1239.9 1847.2 1243.4 1852.4C1247 1857.6 1249.7 1863.7 1252.2 1869.9C1254.7 1876.2 1256.5 1883.2 1258.4 1889.9C1260.3 1896.6 1261.3 1903.2 1263.4 1909.9C1265.5 1916.6 1268.2 1923.2 1270.9 1929.9C1273.6 1936.6 1277.1 1943.6 1279.6 1949.9C1282.1 1956.1 1283.6 1962.4 1285.9 1967.4C1288.2 1972.4 1290.1 1976.1 1293.4 1979.9C1296.7 1983.6 1302.1 1986.1 1305.9 1989.9C1309.6 1993.6 1313 1998.2 1315.9 2002.4C1318.8 2006.5 1320 2011.5 1323.4 2014.8C1326.7 2018.2 1331.3 2019.4 1335.9 2022.3C1340.4 2025.3 1346.5 2028.6 1350.9 2032.3C1355.2 2036.1 1359.2 2040.2 1362.1 2044.8C1365 2049.4 1367.3 2054.8 1368.3 2059.8C1369.4 2064.8 1369.6 2070.2 1368.3 2074.8C1367.1 2079.4 1364.6 2083.6 1360.9 2087.3C1357.1 2091.1 1351.3 2094.4 1345.9 2097.3C1340.4 2100.2 1334.6 2102.7 1328.4 2104.8C1322.1 2106.9 1315 2108.1 1308.4 2109.8C1301.7 2111.5 1295.5 2112.9 1288.4 2114.8C1281.3 2116.7 1273.8 2119 1265.9 2121C1258 2123.1 1248.8 2126 1240.9 2127.3C1233 2128.5 1225.9 2129.4 1218.4 2128.5C1210.9 2127.7 1202.2 2125.4 1195.9 2122.3C1189.7 2119.2 1184.7 2114.8 1180.9 2109.8C1177.2 2104.8 1175.1 2098.6 1173.4 2092.3C1171.8 2086.1 1171.4 2079 1170.9 2072.3C1170.4 2065.7 1170.7 2059 1170.4 2052.3C1170.2 2045.7 1170.2 2039 1169.7 2032.3C1169.2 2025.7 1168 2019 1167.2 2012.3C1166.4 2005.7 1165.4 1999 1164.7 1992.4C1164 1985.7 1163.4 1979 1163 1972.4C1162.5 1965.7 1162.3 1959 1162.2 1952.4C1162.1 1945.7 1162 1939 1162.2 1932.4C1162.4 1925.7 1162.8 1919.1 1163.5 1912.4C1164.1 1905.7 1164.9 1898.7 1166 1892.4C1167 1886.2 1168.2 1880.7 1169.7 1874.9C1171.2 1869.1 1172.6 1862.8 1174.7 1857.4C1176.8 1852 1179.5 1846.6 1182.2 1842.4C1184.9 1838.3 1187.6 1834.9 1190.9 1832.4C1194.3 1830 1198 1828.4 1202.2 1827.9ZM1206.4 1919.1C1208.8 1918.7 1212.1 1920.8 1215.2 1923.6C1218.3 1926.5 1222 1931.6 1225.2 1936.1C1228.3 1940.7 1231.2 1946.1 1233.9 1951.1C1236.6 1956.1 1239.1 1961.1 1241.4 1966.1C1243.7 1971.1 1245.6 1976.1 1247.7 1981.1C1249.7 1986.1 1251.4 1991.1 1253.9 1996.1C1256.4 2001.1 1259.5 2006.1 1262.7 2011.1C1265.8 2016.1 1269.3 2021.1 1272.6 2026.1C1276 2031.1 1279.7 2036.1 1282.6 2041.1C1285.6 2046.1 1288.6 2051.5 1290.1 2056.1C1291.7 2060.7 1292.5 2064.4 1291.9 2068.6C1291.3 2072.7 1289 2077.3 1286.4 2081.1C1283.8 2084.8 1280.6 2088.1 1276.4 2091.1C1272.2 2094 1266.4 2096.8 1261.4 2098.6C1256.4 2100.3 1251.4 2101.5 1246.4 2101.6C1241.4 2101.6 1236.4 2101.2 1231.4 2099.1C1226.4 2096.9 1220.8 2092.8 1216.4 2088.6C1212.1 2084.3 1208.2 2079 1205.2 2073.6C1202.2 2068.2 1200.1 2062.3 1198.4 2056.1C1196.8 2049.8 1196 2042.7 1195.2 2036.1C1194.4 2029.4 1193.6 2022.8 1193.4 2016.1C1193.2 2009.4 1193.5 2002.8 1193.9 1996.1C1194.4 1989.4 1195.3 1982.8 1195.9 1976.1C1196.6 1969.5 1197.2 1962.4 1197.7 1956.1C1198.2 1949.9 1198.4 1943.6 1198.9 1938.6C1199.5 1933.6 1199.7 1929.4 1200.9 1926.1C1202.2 1922.9 1204.1 1919.6 1206.4 1919.1Z" fill="#99FF99" fill-opacity="0.85" fill-rule="evenodd"/>
<path d="M1206.4 1919.1C1208.8 1918.7 1212.1 1920.8 1215.2 1923.6C1218.3 1926.5 1222 1931.6 1225.2 1936.1C1228.3 1940.7 1231.2 1946.1 1233.9 1951.1C1236.6 1956.1 1239.1 1961.1 1241.4 1966.1C1243.7 1971.1 1245.6 1976.1 1247.7 1981.1C1249.7 1986.1 1251.4 1991.1 1253.9 1996.1C1256.4 2001.1 1259.5 2006.1 1262.7 2011.1C1265.8 2016.1 1269.3 2021.1 1272.6 2026.1C1276 2031.1 1279.7 2036.1 1282.6 2041.1C1285.6 2046.1 1288.6 2051.5 1290.1 2056.1C1291.7 2060.7 1292.5 2064.4 1291.9 2068.6C1291.3 2072.7 1289 2077.3 1286.4 2081.1C1283.8 2084.8 1280.6 2088.1 1276.4 2091.1C1272.2 2094 1266.4 2096.8 1261.4 2098.6C1256.4 2100.3 1251.4 2101.5 1246.4 2101.6C1241.4 2101.6 1236.4 2101.2 1231.4 2099.1C1226.4 2096.9 1220.8 2092.8 1216.4 2088.6C1212.1 2084.3 1208.2 2079 1205.2 2073.6C1202.2 2068.2 1200.1 2062.3 1198.4 2056.1C1196.8 2049.8 1196 2042.7 1195.2 2036.1C1194.4 2029.4 1193.6 2022.8 1193.4 2016.1C1193.2 2009.4 1193.5 2002.8 1193.9 1996.1C1194.4 1989.4 1195.3 1982.8 1195.9 1976.1C1196.6 1969.5 1197.2 1962.4 1197.7 1956.1C1198.2 1949.9 1198.4 1943.6 1198.9 1938.6C1199.5 1933.6 1199.7 1929.4 1200.9 1926.1C1202.2 1922.9 1204.1 1919.6 1206.4 1919.1Z" fill="#00FF00" stroke="#00FF00" stroke-width="1.2" opacity="0.85"/>
<path d="M1199.7 1798C1201.8 1797.3 1203.8 1798.8 1205.9 1801.2C1208 1803.6 1210.3 1808.1 1212.2 1812.4C1214.1 1816.8 1215.5 1822 1217.2 1827.4C1218.8 1832.9 1220.3 1839.5 1222.2 1844.9C1224 1850.3 1225.9 1854.9 1228.4 1859.9C1230.9 1864.9 1234 1869.5 1237.2 1874.9C1240.3 1880.3 1243.6 1886.6 1247.2 1892.4C1250.7 1898.2 1254.7 1904.1 1258.4 1909.9C1262.2 1915.7 1265.9 1921.6 1269.6 1927.4C1273.4 1933.2 1277.1 1939 1280.9 1944.9C1284.6 1950.7 1288.4 1956.5 1292.1 1962.4C1295.9 1968.2 1299.8 1974.4 1303.4 1979.9C1306.9 1985.3 1310.5 1989.9 1313.4 1994.9C1316.3 1999.9 1318 2005.3 1320.9 2009.8C1323.8 2014.4 1327.1 2018.2 1330.9 2022.3C1334.6 2026.5 1339.2 2030.7 1343.4 2034.8C1347.5 2039 1352.1 2043.6 1355.9 2047.3C1359.6 2051.1 1363.3 2053.6 1365.9 2057.3C1368.4 2061.1 1370.4 2066.1 1371.3 2069.8C1372.3 2073.6 1372.5 2077.2 1371.3 2079.8C1370.2 2082.4 1367.6 2084.3 1364.6 2085.3C1361.6 2086.4 1356.9 2085.5 1353.4 2086.1C1349.8 2086.6 1346.5 2087.1 1343.4 2088.6C1340.2 2090 1337.5 2092.5 1334.6 2094.8C1331.7 2097.1 1329.8 2100.2 1325.9 2102.3C1321.9 2104.4 1316.3 2105.6 1310.9 2107.3C1305.5 2109 1299.2 2110.6 1293.4 2112.3C1287.6 2114 1281.7 2116 1275.9 2117.3C1270.1 2118.5 1264.2 2119.8 1258.4 2119.8C1252.6 2119.8 1246.3 2119 1240.9 2117.3C1235.5 2115.6 1230.5 2113.1 1225.9 2109.8C1221.3 2106.5 1217.4 2101.9 1213.4 2097.3C1209.5 2092.7 1205.5 2087.7 1202.2 2082.3C1198.9 2076.9 1195.8 2071.1 1193.4 2064.8C1191.1 2058.6 1189.4 2051.5 1187.9 2044.8C1186.5 2038.2 1185.5 2031.5 1184.7 2024.8C1183.9 2018.2 1183.5 2011.5 1182.9 2004.9C1182.4 1998.2 1181.9 1991.5 1181.4 1984.9C1181 1978.2 1180.7 1971.5 1180.4 1964.9C1180.2 1958.2 1180 1951.5 1179.7 1944.9C1179.4 1938.2 1178.9 1931.6 1178.4 1924.9C1178 1918.2 1177.5 1911.6 1177.2 1904.9C1176.9 1898.2 1176.6 1891.6 1176.4 1884.9C1176.3 1878.2 1176.1 1871.2 1176.4 1864.9C1176.8 1858.7 1177.3 1852.8 1178.4 1847.4C1179.6 1842 1181.8 1837.4 1183.4 1832.4C1185.1 1827.4 1186.9 1822 1188.4 1817.4C1190 1812.9 1191.1 1808.2 1192.9 1805C1194.8 1801.7 1197.5 1798.6 1199.7 1798ZM1213.4 1917.9C1215.8 1917.5 1219 1919.6 1222.2 1922.4C1225.3 1925.2 1229 1930.3 1232.2 1934.9C1235.3 1939.5 1238.2 1944.9 1240.9 1949.9C1243.6 1954.9 1246.1 1959.9 1248.4 1964.9C1250.7 1969.9 1252.6 1974.9 1254.7 1979.9C1256.7 1984.9 1258.4 1989.9 1260.9 1994.9C1263.4 1999.9 1266.5 2004.9 1269.6 2009.8C1272.8 2014.8 1276.3 2019.8 1279.6 2024.8C1283 2029.8 1286.7 2034.8 1289.6 2039.8C1292.6 2044.8 1295.6 2050.2 1297.1 2054.8C1298.7 2059.4 1299.5 2063.2 1298.9 2067.3C1298.3 2071.5 1296 2076.1 1293.4 2079.8C1290.8 2083.6 1287.6 2086.9 1283.4 2089.8C1279.2 2092.7 1273.4 2095.6 1268.4 2097.3C1263.4 2099.1 1258.4 2100.2 1253.4 2100.3C1248.4 2100.4 1243.4 2100 1238.4 2097.8C1233.4 2095.6 1227.8 2091.6 1223.4 2087.3C1219 2083.1 1215.2 2077.7 1212.2 2072.3C1209.2 2066.9 1207.1 2061.1 1205.4 2054.8C1203.8 2048.6 1203 2041.5 1202.2 2034.8C1201.3 2028.2 1200.6 2021.5 1200.4 2014.8C1200.2 2008.2 1200.5 2001.5 1200.9 1994.9C1201.3 1988.2 1202.3 1981.5 1202.9 1974.9C1203.6 1968.2 1204.2 1961.1 1204.7 1954.9C1205.2 1948.6 1205.4 1942.4 1205.9 1937.4C1206.5 1932.4 1206.7 1928.1 1207.9 1924.9C1209.2 1921.6 1211.1 1918.3 1213.4 1917.9Z" fill="#FF9999" fill-opacity="0.85" fill-rule="evenodd"/>
<path d="M1213.4 1917.9C1215.8 1917.5 1219 1919.6 1222.2 1922.4C1225.3 1925.2 1229 1930.3 1232.2 1934.9C1235.3 1939.5 1238.2 1944.9 1240.9 1949.9C1243.6 1954.9 1246.1 1959.9 1248.4 1964.9C1250.7 1969.9 1252.6 1974.9 1254.7 1979.9C1256.7 1984.9 1258.4 1989.9 1260.9 1994.9C1263.4 1999.9 1266.5 2004.9 1269.6 2009.8C1272.8 2014.8 1276.3 2019.8 1279.6 2024.8C1283 2029.8 1286.7 2034.8 1289.6 2039.8C1292.6 2044.8 1295.6 2050.2 1297.1 2054.8C1298.7 2059.4 1299.5 2063.2 1298.9 2067.3C1298.3 2071.5 1296 2076.1 1293.4 2079.8C1290.8 2083.6 1287.6 2086.9 1283.4 2089.8C1279.2 2092.7 1273.4 2095.6 1268.4 2097.3C1263.4 2099.1 1258.4 2100.2 1253.4 2100.3C1248.4 2100.4 1243.4 2100 1238.4 2097.8C1233.4 2095.6 1227.8 2091.6 1223.4 2087.3C1219 2083.1 1215.2 2077.7 1212.2 2072.3C1209.2 2066.9 1207.1 2061.1 1205.4 2054.8C1203.8 2048.6 1203 2041.5 1202.2 2034.8C1201.3 2028.2 1200.6 2021.5 1200.4 2014.8C1200.2 2008.2 1200.5 2001.5 1200.9 1994.9C1201.3 1988.2 1202.3 1981.5 1202.9 1974.9C1203.6 1968.2 1204.2 1961.1 1204.7 1954.9C1205.2 1948.6 1205.4 1942.4 1205.9 1937.4C1206.5 1932.4 1206.7 1928.1 1207.9 1924.9C1209.2 1921.6 1211.1 1918.3 1213.4 1917.9Z" fill="#FF0000" stroke="#FF0000" stroke-width="1.2" opacity="0.85"/>
<path d="M1185.9 1744.5C1191.6 1744.5 1198 1745.2 1203.4 1747C1208.8 1748.7 1214.1 1751.6 1218.4 1755C1222.8 1758.4 1226.5 1762.9 1229.7 1767.5C1232.8 1772 1235.1 1777 1237.2 1782.5C1239.2 1787.9 1240.7 1794.1 1242.2 1800C1243.6 1805.8 1244.5 1811.6 1245.9 1817.4C1247.4 1823.3 1249 1828.7 1250.9 1834.9C1252.8 1841.2 1254.7 1848.3 1257.2 1854.9C1259.7 1861.6 1262.8 1868.7 1265.9 1874.9C1269 1881.2 1272.4 1886.6 1275.9 1892.4C1279.4 1898.2 1283.2 1904.1 1287.1 1909.9C1291.1 1915.7 1295.3 1922 1299.6 1927.4C1304 1932.8 1308.6 1937.8 1313.4 1942.4C1318.2 1947 1323.4 1950.9 1328.4 1954.9C1333.4 1958.8 1338.4 1962.4 1343.4 1966.1C1348.4 1969.9 1353.4 1973 1358.4 1977.4C1363.4 1981.7 1368.3 1986.9 1373.3 1992.4C1378.3 1997.8 1383.8 2004 1388.3 2009.8C1392.9 2015.7 1397.3 2021.5 1400.8 2027.3C1404.4 2033.2 1407.1 2039 1409.6 2044.8C1412.1 2050.7 1414.3 2056.9 1415.8 2062.3C1417.4 2067.7 1418.6 2072.7 1418.8 2077.3C1419 2081.9 1418.6 2086.3 1417.1 2089.8C1415.5 2093.3 1412.7 2096.5 1409.6 2098.6C1406.5 2100.6 1402.7 2101.5 1398.3 2102.3C1394 2103.1 1388.8 2102.9 1383.3 2103.6C1377.9 2104.2 1371.7 2104.8 1365.9 2106C1360 2107.3 1354.6 2109 1348.4 2111C1342.1 2113.1 1335.4 2116.3 1328.4 2118.5C1321.3 2120.8 1313.8 2123 1305.9 2124.8C1298 2126.6 1289.2 2128.2 1280.9 2129.3C1272.6 2130.3 1264.2 2131.2 1255.9 2131C1247.6 2130.9 1238.8 2130 1230.9 2128.5C1223 2127.1 1215.9 2125.2 1208.4 2122.3C1200.9 2119.4 1193 2115.2 1185.9 2111C1178.9 2106.9 1172.2 2102.1 1166 2097.3C1159.7 2092.5 1153.9 2087.7 1148.5 2082.3C1143 2076.9 1137.8 2070.7 1133.5 2064.8C1129.1 2059 1125.2 2053.6 1122.2 2047.3C1119.2 2041.1 1116.9 2034 1115.5 2027.3C1114 2020.7 1113.5 2014.4 1113.5 2007.3C1113.5 2000.3 1114.4 1992.4 1115.5 1984.9C1116.5 1977.4 1118.5 1969.9 1119.7 1962.4C1121 1954.9 1122.3 1947.4 1123 1939.9C1123.7 1932.4 1124 1924.9 1124 1917.4C1124 1909.9 1123.4 1902.4 1123 1894.9C1122.6 1887.4 1121.8 1879.9 1121.5 1872.4C1121.1 1864.9 1120.8 1857.4 1121 1849.9C1121.1 1842.4 1121.6 1834.9 1122.2 1827.4C1122.8 1819.9 1123.3 1812 1124.7 1805C1126.2 1797.9 1128.3 1791.2 1131 1785C1133.7 1778.7 1137 1772.5 1141 1767.5C1144.9 1762.5 1149.9 1758.4 1154.7 1755C1159.5 1751.6 1164.5 1748.7 1169.7 1747C1174.9 1745.2 1180.3 1744.5 1185.9 1744.5Z" fill="none" stroke="#00008B" stroke-opacity="0.62" stroke-width="1.9"/>
<path d="M1158.5 1767.5C1163.9 1767 1171.8 1766.5 1178.4 1767C1185.1 1767.5 1192.2 1768.7 1198.4 1770.5C1204.7 1772.2 1210.5 1774.4 1215.9 1777.5C1221.3 1780.5 1226.3 1784.5 1230.9 1788.7C1235.5 1792.9 1239.2 1797.7 1243.4 1802.5C1247.6 1807.2 1251.7 1812.4 1255.9 1817.4C1260.1 1822.4 1264.4 1827.4 1268.4 1832.4C1272.4 1837.4 1276.1 1842.4 1279.6 1847.4C1283.2 1852.4 1286.5 1857 1289.6 1862.4C1292.8 1867.8 1295.9 1874.1 1298.4 1879.9C1300.9 1885.7 1302.8 1891.6 1304.6 1897.4C1306.5 1903.2 1307.8 1909.1 1309.6 1914.9C1311.5 1920.7 1313.2 1927 1315.9 1932.4C1318.6 1937.8 1322.1 1942.8 1325.9 1947.4C1329.6 1952 1333.8 1955.7 1338.4 1959.9C1342.9 1964 1348.4 1967.8 1353.4 1972.4C1358.4 1976.9 1363.6 1981.9 1368.3 1987.4C1373.1 1992.8 1377.9 1999 1382.1 2004.9C1386.3 2010.7 1390.2 2016.5 1393.3 2022.3C1396.5 2028.2 1399.2 2034 1400.8 2039.8C1402.5 2045.7 1403.5 2051.9 1403.3 2057.3C1403.1 2062.7 1401.7 2067.7 1399.6 2072.3C1397.5 2076.9 1394.8 2081.3 1390.8 2084.8C1386.9 2088.3 1381.3 2090.8 1375.8 2093.6C1370.4 2096.3 1364.2 2098.8 1358.4 2101.1C1352.5 2103.3 1347.1 2105 1340.9 2107.3C1334.6 2109.6 1327.5 2112.3 1320.9 2114.8C1314.2 2117.3 1308 2120 1300.9 2122.3C1293.8 2124.6 1285.9 2127 1278.4 2128.5C1270.9 2130.1 1263.4 2131.4 1255.9 2131.8C1248.4 2132.2 1240.9 2131.8 1233.4 2131C1225.9 2130.3 1218 2129.2 1210.9 2127.3C1203.8 2125.4 1197.6 2123.1 1190.9 2119.8C1184.3 2116.5 1177.2 2111.9 1170.9 2107.3C1164.7 2102.7 1158.7 2097.7 1153.5 2092.3C1148.3 2086.9 1143.7 2081.1 1139.7 2074.8C1135.8 2068.6 1132.2 2061.5 1129.7 2054.8C1127.2 2048.2 1125.7 2041.5 1124.7 2034.8C1123.8 2028.2 1123.8 2021.5 1124 2014.8C1124.1 2008.2 1125.5 2001.5 1125.5 1994.9C1125.5 1988.2 1124.6 1981.5 1124 1974.9C1123.3 1968.2 1122 1961.5 1121.5 1954.9C1121 1948.2 1120.7 1941.5 1121 1934.9C1121.2 1928.2 1122.2 1921.6 1123 1914.9C1123.7 1908.2 1124.8 1901.6 1125.5 1894.9C1126.2 1888.2 1126.7 1881.6 1127.2 1874.9C1127.7 1868.3 1128.2 1861.6 1128.5 1854.9C1128.8 1848.3 1129 1841.6 1129 1834.9C1129 1828.3 1128.3 1821.6 1128.5 1814.9C1128.6 1808.3 1128.5 1801.2 1129.7 1795C1131 1788.7 1133.3 1781.6 1136 1777.5C1138.7 1773.3 1142.2 1771.6 1146 1770C1149.7 1768.3 1153 1768 1158.5 1767.5Z" fill="none" stroke="#FFD700" stroke-opacity="0.62" stroke-width="1.9"/>
<path d="M1202.2 1827.9C1206.3 1827.5 1211.1 1828.1 1215.9 1829.9C1220.7 1831.7 1226.3 1834.9 1230.9 1838.7C1235.5 1842.4 1239.9 1847.2 1243.4 1852.4C1247 1857.6 1249.7 1863.7 1252.2 1869.9C1254.7 1876.2 1256.5 1883.2 1258.4 1889.9C1260.3 1896.6 1261.3 1903.2 1263.4 1909.9C1265.5 1916.6 1268.2 1923.2 1270.9 1929.9C1273.6 1936.6 1277.1 1943.6 1279.6 1949.9C1282.1 1956.1 1283.6 1962.4 1285.9 1967.4C1288.2 1972.4 1290.1 1976.1 1293.4 1979.9C1296.7 1983.6 1302.1 1986.1 1305.9 1989.9C1309.6 1993.6 1313 1998.2 1315.9 2002.4C1318.8 2006.5 1320 2011.5 1323.4 2014.8C1326.7 2018.2 1331.3 2019.4 1335.9 2022.3C1340.4 2025.3 1346.5 2028.6 1350.9 2032.3C1355.2 2036.1 1359.2 2040.2 1362.1 2044.8C1365 2049.4 1367.3 2054.8 1368.3 2059.8C1369.4 2064.8 1369.6 2070.2 1368.3 2074.8C1367.1 2079.4 1364.6 2083.6 1360.9 2087.3C1357.1 2091.1 1351.3 2094.4 1345.9 2097.3C1340.4 2100.2 1334.6 2102.7 1328.4 2104.8C1322.1 2106.9 1315 2108.1 1308.4 2109.8C1301.7 2111.5 1295.5 2112.9 1288.4 2114.8C1281.3 2116.7 1273.8 2119 1265.9 2121C1258 2123.1 1248.8 2126 1240.9 2127.3C1233 2128.5 1225.9 2129.4 1218.4 2128.5C1210.9 2127.7 1202.2 2125.4 1195.9 2122.3C1189.7 2119.2 1184.7 2114.8 1180.9 2109.8C1177.2 2104.8 1175.1 2098.6 1173.4 2092.3C1171.8 2086.1 1171.4 2079 1170.9 2072.3C1170.4 2065.7 1170.7 2059 1170.4 2052.3C1170.2 2045.7 1170.2 2039 1169.7 2032.3C1169.2 2025.7 1168 2019 1167.2 2012.3C1166.4 2005.7 1165.4 1999 1164.7 1992.4C1164 1985.7 1163.4 1979 1163 1972.4C1162.5 1965.7 1162.3 1959 1162.2 1952.4C1162.1 1945.7 1162 1939 1162.2 1932.4C1162.4 1925.7 1162.8 1919.1 1163.5 1912.4C1164.1 1905.7 1164.9 1898.7 1166 1892.4C1167 1886.2 1168.2 1880.7 1169.7 1874.9C1171.2 1869.1 1172.6 1862.8 1174.7 1857.4C1176.8 1852 1179.5 1846.6 1182.2 1842.4C1184.9 1838.3 1187.6 1834.9 1190.9 1832.4C1194.3 1830 1198 1828.4 1202.2 1827.9Z" fill="none" stroke="#00FF00" stroke-opacity="0.62" stroke-width="1.9"/>
<path d="M1199.7 1798C1201.8 1797.3 1203.8 1798.8 1205.9 1801.2C1208 1803.6 1210.3 1808.1 1212.2 1812.4C1214.1 1816.8 1215.5 1822 1217.2 1827.4C1218.8 1832.9 1220.3 1839.5 1222.2 1844.9C1224 1850.3 1225.9 1854.9 1228.4 1859.9C1230.9 1864.9 1234 1869.5 1237.2 1874.9C1240.3 1880.3 1243.6 1886.6 1247.2 1892.4C1250.7 1898.2 1254.7 1904.1 1258.4 1909.9C1262.2 1915.7 1265.9 1921.6 1269.6 1927.4C1273.4 1933.2 1277.1 1939 1280.9 1944.9C1284.6 1950.7 1288.4 1956.5 1292.1 1962.4C1295.9 1968.2 1299.8 1974.4 1303.4 1979.9C1306.9 1985.3 1310.5 1989.9 1313.4 1994.9C1316.3 1999.9 1318 2005.3 1320.9 2009.8C1323.8 2014.4 1327.1 2018.2 1330.9 2022.3C1334.6 2026.5 1339.2 2030.7 1343.4 2034.8C1347.5 2039 1352.1 2043.6 1355.9 2047.3C1359.6 2051.1 1363.3 2053.6 1365.9 2057.3C1368.4 2061.1 1370.4 2066.1 1371.3 2069.8C1372.3 2073.6 1372.5 2077.2 1371.3 2079.8C1370.2 2082.4 1367.6 2084.3 1364.6 2085.3C1361.6 2086.4 1356.9 2085.5 1353.4 2086.1C1349.8 2086.6 1346.5 2087.1 1343.4 2088.6C1340.2 2090 1337.5 2092.5 1334.6 2094.8C1331.7 2097.1 1329.8 2100.2 1325.9 2102.3C1321.9 2104.4 1316.3 2105.6 1310.9 2107.3C1305.5 2109 1299.2 2110.6 1293.4 2112.3C1287.6 2114 1281.7 2116 1275.9 2117.3C1270.1 2118.5 1264.2 2119.8 1258.4 2119.8C1252.6 2119.8 1246.3 2119 1240.9 2117.3C1235.5 2115.6 1230.5 2113.1 1225.9 2109.8C1221.3 2106.5 1217.4 2101.9 1213.4 2097.3C1209.5 2092.7 1205.5 2087.7 1202.2 2082.3C1198.9 2076.9 1195.8 2071.1 1193.4 2064.8C1191.1 2058.6 1189.4 2051.5 1187.9 2044.8C1186.5 2038.2 1185.5 2031.5 1184.7 2024.8C1183.9 2018.2 1183.5 2011.5 1182.9 2004.9C1182.4 1998.2 1181.9 1991.5 1181.4 1984.9C1181 1978.2 1180.7 1971.5 1180.4 1964.9C1180.2 1958.2 1180 1951.5 1179.7 1944.9C1179.4 1938.2 1178.9 1931.6 1178.4 1924.9C1178 1918.2 1177.5 1911.6 1177.2 1904.9C1176.9 1898.2 1176.6 1891.6 1176.4 1884.9C1176.3 1878.2 1176.1 1871.2 1176.4 1864.9C1176.8 1858.7 1177.3 1852.8 1178.4 1847.4C1179.6 1842 1181.8 1837.4 1183.4 1832.4C1185.1 1827.4 1186.9 1822 1188.4 1817.4C1190 1812.9 1191.1 1808.2 1192.9 1805C1194.8 1801.7 1197.5 1798.6 1199.7 1798Z" fill="none" stroke="#FF0000" stroke-opacity="0.62" stroke-width="1.9"/>
</g>
<g clip-path="url(#cp43)">
<path d="M1688.9 1750.5C1698.1 1750.3 1705.6 1751.1 1713.9 1752.5C1722.2 1753.9 1731 1756 1738.9 1758.7C1746.8 1761.4 1753.9 1764.8 1761.4 1768.7C1768.9 1772.7 1776.8 1777.3 1783.8 1782.5C1790.9 1787.7 1797.8 1793.7 1803.8 1800C1809.9 1806.2 1815.3 1812.9 1820.1 1819.9C1824.9 1827 1828.8 1834.9 1832.6 1842.4C1836.3 1849.9 1839.4 1857.4 1842.6 1864.9C1845.7 1872.4 1848.4 1879.9 1851.3 1887.4C1854.2 1894.9 1857.1 1902.8 1860.1 1909.9C1863 1917 1865.9 1923.2 1868.8 1929.9C1871.7 1936.6 1874.6 1943.2 1877.5 1949.9C1880.5 1956.5 1883.6 1962.8 1886.3 1969.9C1889 1976.9 1891.7 1984.4 1893.8 1992.4C1895.9 2000.3 1898 2009 1898.8 2017.3C1899.6 2025.7 1899.6 2034 1898.8 2042.3C1898 2050.7 1896.3 2059.4 1893.8 2067.3C1891.3 2075.2 1888 2082.7 1883.8 2089.8C1879.6 2096.9 1874.6 2103.6 1868.8 2109.8C1863 2116 1856.3 2122.3 1848.8 2127.3C1841.3 2132.3 1833 2136.5 1823.8 2139.8C1814.7 2143.1 1810.5 2145.2 1793.8 2147.3C1777.2 2149.4 1748 2151.9 1723.9 2152.3C1699.7 2152.7 1671.8 2152.3 1648.9 2149.8C1626 2147.3 1601.9 2142.3 1586.4 2137.3C1571 2132.3 1565.2 2125.6 1556.5 2119.8C1547.7 2114 1540.6 2108.5 1534 2102.3C1527.3 2096.1 1521.7 2089.4 1516.5 2082.3C1511.3 2075.2 1506.4 2067.3 1502.7 2059.8C1499.1 2052.3 1496.4 2044.8 1494.5 2037.3C1492.6 2029.8 1491.5 2022.3 1491.5 2014.8C1491.5 2007.3 1492.8 1999.9 1494.5 1992.4C1496.2 1984.9 1498.9 1977.4 1501.5 1969.9C1504.1 1962.4 1507.3 1954.9 1510.2 1947.4C1513.1 1939.9 1516.1 1932.4 1519 1924.9C1521.9 1917.4 1524.8 1909.9 1527.7 1902.4C1530.6 1894.9 1533.3 1887.4 1536.5 1879.9C1539.6 1872.4 1542.9 1864.9 1546.5 1857.4C1550 1849.9 1553.5 1842.4 1557.7 1834.9C1561.9 1827.4 1566.2 1819.5 1571.5 1812.4C1576.7 1805.4 1582.7 1798.7 1588.9 1792.5C1595.2 1786.2 1601.9 1780 1608.9 1775C1616 1770 1623.1 1766 1631.4 1762.5C1639.8 1758.9 1649.3 1755.7 1658.9 1753.7C1668.5 1751.7 1679.7 1750.7 1688.9 1750.5Z" fill="#9999D1"/>
<path d="M1673.9 1886.9C1679.3 1884.9 1685.6 1883.2 1691.4 1882.9C1697.2 1882.7 1702.6 1884.2 1708.9 1885.4C1715.1 1886.6 1720.1 1886.7 1728.9 1889.9C1737.6 1893.2 1749.7 1896.2 1761.4 1904.9C1773 1913.6 1789.3 1927.8 1798.8 1942.4C1808.4 1957 1814.7 1975.7 1818.8 1992.4C1823 2009 1825.1 2027.8 1823.8 2042.3C1822.6 2056.9 1819.7 2069.4 1811.3 2079.8C1803 2090.2 1788.4 2099 1773.9 2104.8C1759.3 2110.6 1739.7 2113.1 1723.9 2114.8C1708 2116.5 1689.7 2115.2 1678.9 2114.8C1668.1 2114.4 1666 2113.5 1658.9 2112.3C1651.8 2111 1643.5 2109.4 1636.4 2107.3C1629.3 2105.2 1623.1 2102.7 1616.4 2099.8C1609.8 2096.9 1602.7 2093.6 1596.4 2089.8C1590.2 2086.1 1584.2 2081.9 1578.9 2077.3C1573.7 2072.7 1568.7 2067.7 1565.2 2062.3C1561.7 2056.9 1559.2 2051.1 1557.7 2044.8C1556.3 2038.6 1555.8 2031.1 1556.5 2024.8C1557.1 2018.6 1559 2013.2 1561.5 2007.3C1564 2001.5 1567.7 1995.7 1571.5 1989.9C1575.2 1984 1579.4 1978.2 1583.9 1972.4C1588.5 1966.5 1593.9 1960.5 1598.9 1954.9C1603.9 1949.3 1608.9 1944 1613.9 1938.6C1618.9 1933.2 1623.9 1927.6 1628.9 1922.4C1633.9 1917.2 1638.9 1912 1643.9 1907.4C1648.9 1902.8 1653.9 1898.3 1658.9 1894.9C1663.9 1891.5 1668.5 1888.9 1673.9 1886.9Z" fill="#00008B"/>
<path d="M1673.9 1773.7C1681 1774 1691 1774 1698.9 1775.5C1706.8 1776.9 1714.3 1779.6 1721.4 1782.5C1728.5 1785.3 1735.1 1788.7 1741.4 1792.5C1747.6 1796.2 1753.4 1800.8 1758.9 1805C1764.3 1809.1 1769.3 1812.9 1773.9 1817.4C1778.4 1822 1782.2 1827.4 1786.3 1832.4C1790.5 1837.4 1794.9 1842 1798.8 1847.4C1802.8 1852.8 1806.3 1859.1 1810.1 1864.9C1813.8 1870.8 1818 1876.6 1821.3 1882.4C1824.7 1888.2 1827.4 1893.7 1830.1 1899.9C1832.8 1906.1 1835.3 1913.2 1837.6 1919.9C1839.9 1926.6 1841.7 1933.2 1843.8 1939.9C1845.9 1946.5 1848 1953.2 1850.1 1959.9C1852.1 1966.5 1854.4 1973.2 1856.3 1979.9C1858.2 1986.5 1859.7 1993.2 1861.3 1999.9C1862.9 2006.5 1864.6 2013.2 1865.8 2019.8C1867.1 2026.5 1868.3 2033.2 1868.8 2039.8C1869.3 2046.5 1869.4 2053.2 1868.8 2059.8C1868.2 2066.5 1866.9 2073.6 1865.1 2079.8C1863.2 2086.1 1860.7 2091.9 1857.6 2097.3C1854.4 2102.7 1850.7 2107.7 1846.3 2112.3C1841.9 2116.9 1836.7 2121.4 1831.3 2124.8C1825.9 2128.2 1820.1 2130.7 1813.8 2132.8C1807.6 2134.9 1808.8 2136.1 1793.8 2137.3C1778.8 2138.4 1745.9 2139.8 1723.9 2139.8C1701.8 2139.8 1676.4 2138.9 1661.4 2137.3C1646.4 2135.6 1642.7 2132.7 1633.9 2129.8C1625.2 2126.9 1616.8 2123.5 1608.9 2119.8C1601 2116 1593.5 2111.9 1586.4 2107.3C1579.4 2102.7 1572.7 2097.7 1566.5 2092.3C1560.2 2086.9 1554 2081.1 1549 2074.8C1544 2068.6 1539.7 2061.9 1536.5 2054.8C1533.2 2047.7 1531.1 2039.8 1529.5 2032.3C1527.9 2024.8 1527.1 2017.3 1527 2009.8C1526.8 2002.4 1527.5 1994.9 1528.5 1987.4C1529.4 1979.9 1531.4 1972.4 1532.7 1964.9C1534.1 1957.4 1535.3 1949.9 1536.5 1942.4C1537.6 1934.9 1538.2 1927.4 1539.5 1919.9C1540.7 1912.4 1542.6 1904.5 1544 1897.4C1545.3 1890.3 1546 1884.5 1547.7 1877.4C1549.4 1870.3 1551.3 1862.4 1554 1854.9C1556.7 1847.4 1560 1839.5 1564 1832.4C1567.9 1825.4 1572.7 1818.5 1577.7 1812.4C1582.7 1806.4 1587.9 1801 1593.9 1796.2C1600 1791.4 1606.9 1787 1613.9 1783.7C1621 1780.4 1629.3 1777.9 1636.4 1776.2C1643.5 1774.5 1650.2 1774.1 1656.4 1773.7C1662.7 1773.3 1666.8 1773.4 1673.9 1773.7ZM1688.9 1907.4C1696.4 1908.2 1708.9 1911.6 1718.9 1917.4C1728.9 1923.2 1739.7 1932 1748.9 1942.4C1758 1952.8 1767.6 1965.3 1773.9 1979.9C1780.1 1994.4 1786.3 2015.3 1786.3 2029.8C1786.3 2044.4 1782.2 2057.3 1773.9 2067.3C1765.5 2077.3 1748.9 2085.2 1736.4 2089.8C1723.9 2094.4 1710.1 2094.4 1698.9 2094.8C1687.6 2095.2 1676.4 2092.5 1668.9 2092.3C1661.4 2092.1 1659.7 2093.8 1653.9 2093.6C1648.1 2093.3 1640.4 2092.9 1633.9 2091.1C1627.5 2089.2 1620.8 2085.9 1615.2 2082.3C1609.6 2078.8 1604.6 2074.4 1600.2 2069.8C1595.8 2065.2 1591.9 2060.2 1588.9 2054.8C1586 2049.4 1584 2043.6 1582.7 2037.3C1581.4 2031.1 1580.7 2024 1580.9 2017.3C1581.2 2010.7 1582.4 2003.6 1583.9 1997.4C1585.5 1991.1 1587.5 1985.3 1590.2 1979.9C1592.9 1974.4 1596.2 1969.5 1600.2 1964.9C1604.1 1960.3 1609.1 1956.1 1613.9 1952.4C1618.7 1948.6 1623.9 1945.7 1628.9 1942.4C1633.9 1939 1638.9 1935.7 1643.9 1932.4C1648.9 1929.1 1653.9 1925.7 1658.9 1922.4C1663.9 1919.1 1668.9 1914.9 1673.9 1912.4C1678.9 1909.9 1681.4 1906.6 1688.9 1907.4Z" fill="#FFEF99" fill-opacity="0.85" fill-rule="evenodd"/>
<path d="M1688.9 1907.4C1696.4 1908.2 1708.9 1911.6 1718.9 1917.4C1728.9 1923.2 1739.7 1932 1748.9 1942.4C1758 1952.8 1767.6 1965.3 1773.9 1979.9C1780.1 1994.4 1786.3 2015.3 1786.3 2029.8C1786.3 2044.4 1782.2 2057.3 1773.9 2067.3C1765.5 2077.3 1748.9 2085.2 1736.4 2089.8C1723.9 2094.4 1710.1 2094.4 1698.9 2094.8C1687.6 2095.2 1676.4 2092.5 1668.9 2092.3C1661.4 2092.1 1659.7 2093.8 1653.9 2093.6C1648.1 2093.3 1640.4 2092.9 1633.9 2091.1C1627.5 2089.2 1620.8 2085.9 1615.2 2082.3C1609.6 2078.8 1604.6 2074.4 1600.2 2069.8C1595.8 2065.2 1591.9 2060.2 1588.9 2054.8C1586 2049.4 1584 2043.6 1582.7 2037.3C1581.4 2031.1 1580.7 2024 1580.9 2017.3C1581.2 2010.7 1582.4 2003.6 1583.9 1997.4C1585.5 1991.1 1587.5 1985.3 1590.2 1979.9C1592.9 1974.4 1596.2 1969.5 1600.2 1964.9C1604.1 1960.3 1609.1 1956.1 1613.9 1952.4C1618.7 1948.6 1623.9 1945.7 1628.9 1942.4C1633.9 1939 1638.9 1935.7 1643.9 1932.4C1648.9 1929.1 1653.9 1925.7 1658.9 1922.4C1663.9 1919.1 1668.9 1914.9 1673.9 1912.4C1678.9 1909.9 1681.4 1906.6 1688.9 1907.4Z" fill="#FFD700" stroke="#FFD700" stroke-width="1.2" opacity="0.85"/>
<path d="M1768.9 1818.7C1772 1819 1774.5 1820.2 1777.6 1822.4C1780.7 1824.7 1784.3 1828.7 1787.6 1832.4C1790.9 1836.2 1794.3 1840.3 1797.6 1844.9C1800.9 1849.5 1804.3 1854.5 1807.6 1859.9C1810.9 1865.3 1814.5 1871.6 1817.6 1877.4C1820.7 1883.2 1823.6 1888.7 1826.3 1894.9C1829 1901.2 1831.5 1908.2 1833.8 1914.9C1836.1 1921.6 1838 1928.2 1840.1 1934.9C1842.1 1941.5 1844.4 1948.2 1846.3 1954.9C1848.2 1961.5 1849.7 1968.2 1851.3 1974.9C1852.9 1981.5 1854.5 1988.2 1855.8 1994.9C1857.1 2001.5 1858.3 2008.2 1859.3 2014.8C1860.3 2021.5 1861.4 2028.2 1861.8 2034.8C1862.2 2041.5 1862.5 2048.2 1861.8 2054.8C1861.1 2061.5 1859.7 2068.6 1857.6 2074.8C1855.4 2081.1 1852.4 2086.9 1848.8 2092.3C1845.3 2097.7 1840.9 2102.9 1836.3 2107.3C1831.7 2111.7 1826.7 2115.4 1821.3 2118.5C1815.9 2121.7 1810.1 2124.2 1803.8 2126C1797.6 2127.9 1790.5 2129.2 1783.8 2129.8C1777.2 2130.3 1770.5 2129.7 1763.9 2129.3C1757.2 2128.9 1750.5 2128.2 1743.9 2127.3C1737.2 2126.3 1730.5 2125 1723.9 2123.5C1717.2 2122.1 1710.5 2120.6 1703.9 2118.5C1697.2 2116.5 1690.1 2113.8 1683.9 2111C1677.6 2108.3 1671.8 2105.8 1666.4 2102.3C1661 2098.8 1655.6 2094.4 1651.4 2089.8C1647.2 2085.2 1643.9 2080.2 1641.4 2074.8C1638.9 2069.4 1637 2063.2 1636.4 2057.3C1635.8 2051.5 1636.2 2045.7 1637.7 2039.8C1639.1 2034 1642 2028.2 1645.2 2022.3C1648.3 2016.5 1653.1 2009.8 1656.4 2004.9C1659.7 1999.9 1663.1 1997.4 1665.2 1992.4C1667.2 1987.4 1667.4 1981.1 1668.9 1974.9C1670.4 1968.6 1671.8 1961.5 1673.9 1954.9C1676 1948.2 1678.7 1941.5 1681.4 1934.9C1684.1 1928.2 1687.4 1921.6 1690.1 1914.9C1692.8 1908.2 1694.9 1901.2 1697.6 1894.9C1700.3 1888.7 1703.1 1882.8 1706.4 1877.4C1709.7 1872 1713.9 1867 1717.6 1862.4C1721.4 1857.8 1725.3 1854.1 1728.9 1849.9C1732.4 1845.8 1735.5 1841.2 1738.9 1837.4C1742.2 1833.7 1745.5 1830.3 1748.9 1827.4C1752.2 1824.6 1755.5 1821.9 1758.9 1820.4C1762.2 1819 1765.7 1818.4 1768.9 1818.7ZM1780.1 1933.9C1783.4 1934.6 1787 1935.3 1790.1 1937.6C1793.2 1939.9 1796.1 1943.7 1798.8 1947.6C1801.5 1951.6 1804 1956.2 1806.3 1961.4C1808.6 1966.6 1810.5 1972.6 1812.6 1978.9C1814.7 1985.1 1816.7 1992.2 1818.8 1998.9C1820.9 2005.5 1823.2 2012.2 1825.1 2018.8C1826.9 2025.5 1828.9 2032.2 1830.1 2038.8C1831.2 2045.5 1832.3 2052.6 1832.1 2058.8C1831.9 2065.1 1830.8 2071.1 1828.8 2076.3C1826.8 2081.5 1824 2086.3 1820.1 2090.1C1816.1 2093.8 1810.9 2096.8 1805.1 2098.8C1799.3 2100.8 1792.2 2101.5 1785.1 2101.8C1778 2102.1 1770.1 2101.7 1762.6 2100.8C1755.1 2099.9 1747.2 2098.3 1740.1 2096.3C1733 2094.3 1726 2092.1 1720.1 2088.8C1714.3 2085.5 1708.8 2080.9 1705.1 2076.3C1701.5 2071.7 1699 2066.3 1698.1 2061.3C1697.3 2056.3 1698.3 2051.3 1700.1 2046.3C1701.9 2041.3 1705.8 2036.3 1708.9 2031.3C1712 2026.3 1716 2021.8 1718.9 2016.3C1721.8 2010.9 1724.3 2004.7 1726.4 1998.9C1728.5 1993 1729.7 1987.2 1731.4 1981.4C1733 1975.5 1734.1 1969.3 1736.4 1963.9C1738.7 1958.5 1741.6 1953.3 1745.1 1948.9C1748.7 1944.5 1753.4 1940.2 1757.6 1937.6C1761.8 1935.1 1766.4 1934 1770.1 1933.4C1773.9 1932.8 1776.8 1933.2 1780.1 1933.9Z" fill="#99FF99" fill-opacity="0.85" fill-rule="evenodd"/>
<path d="M1780.1 1933.9C1783.4 1934.6 1787 1935.3 1790.1 1937.6C1793.2 1939.9 1796.1 1943.7 1798.8 1947.6C1801.5 1951.6 1804 1956.2 1806.3 1961.4C1808.6 1966.6 1810.5 1972.6 1812.6 1978.9C1814.7 1985.1 1816.7 1992.2 1818.8 1998.9C1820.9 2005.5 1823.2 2012.2 1825.1 2018.8C1826.9 2025.5 1828.9 2032.2 1830.1 2038.8C1831.2 2045.5 1832.3 2052.6 1832.1 2058.8C1831.9 2065.1 1830.8 2071.1 1828.8 2076.3C1826.8 2081.5 1824 2086.3 1820.1 2090.1C1816.1 2093.8 1810.9 2096.8 1805.1 2098.8C1799.3 2100.8 1792.2 2101.5 1785.1 2101.8C1778 2102.1 1770.1 2101.7 1762.6 2100.8C1755.1 2099.9 1747.2 2098.3 1740.1 2096.3C1733 2094.3 1726 2092.1 1720.1 2088.8C1714.3 2085.5 1708.8 2080.9 1705.1 2076.3C1701.5 2071.7 1699 2066.3 1698.1 2061.3C1697.3 2056.3 1698.3 2051.3 1700.1 2046.3C1701.9 2041.3 1705.8 2036.3 1708.9 2031.3C1712 2026.3 1716 2021.8 1718.9 2016.3C1721.8 2010.9 1724.3 2004.7 1726.4 1998.9C1728.5 1993 1729.7 1987.2 1731.4 1981.4C1733 1975.5 1734.1 1969.3 1736.4 1963.9C1738.7 1958.5 1741.6 1953.3 1745.1 1948.9C1748.7 1944.5 1753.4 1940.2 1757.6 1937.6C1761.8 1935.1 1766.4 1934 1770.1 1933.4C1773.9 1932.8 1776.8 1933.2 1780.1 1933.9Z" fill="#00FF00" stroke="#00FF00" stroke-width="1.2" opacity="0.85"/>
<path d="M1768.9 1811.9C1771.6 1812.6 1774.5 1813.8 1777.6 1816.2C1780.7 1818.6 1784.3 1822.2 1787.6 1826.2C1790.9 1830.1 1794.3 1835.1 1797.6 1839.9C1800.9 1844.7 1804.3 1849.5 1807.6 1854.9C1810.9 1860.3 1814.5 1866.4 1817.6 1872.4C1820.7 1878.5 1823.6 1884.7 1826.3 1891.2C1829 1897.6 1831.5 1904.5 1833.8 1911.1C1836.1 1917.8 1838.1 1924.5 1840.1 1931.1C1842.1 1937.8 1844.1 1944.5 1845.8 1951.1C1847.5 1957.8 1848.7 1964.5 1850.1 1971.1C1851.4 1977.8 1852.8 1984.4 1853.8 1991.1C1854.9 1997.8 1855.7 2004.4 1856.3 2011.1C1856.9 2017.8 1857.6 2024.4 1857.6 2031.1C1857.6 2037.8 1857.3 2044.4 1856.3 2051.1C1855.3 2057.7 1853.6 2064.8 1851.3 2071.1C1849 2077.3 1846.1 2083.4 1842.6 2088.6C1839 2093.8 1834.7 2098.3 1830.1 2102.3C1825.5 2106.3 1820.5 2109.8 1815.1 2112.3C1809.7 2114.8 1803.6 2116.3 1797.6 2117.3C1791.5 2118.3 1785.3 2118.6 1778.8 2118.5C1772.4 2118.5 1765.5 2117.4 1758.9 2116.8C1752.2 2116.2 1745.5 2115.5 1738.9 2114.8C1732.2 2114 1725.5 2113.5 1718.9 2112.3C1712.2 2111 1705.1 2109.2 1698.9 2107.3C1692.6 2105.4 1687 2103.6 1681.4 2101.1C1675.8 2098.6 1670.2 2095.6 1665.2 2092.3C1660.2 2089 1655 2085.2 1651.4 2081.1C1647.9 2076.9 1645.6 2072.1 1643.9 2067.3C1642.2 2062.5 1641.2 2057.3 1641.4 2052.3C1641.6 2047.3 1643.1 2042.3 1645.2 2037.3C1647.2 2032.3 1650.8 2027.8 1653.9 2022.3C1657 2016.9 1661.2 2010.7 1663.9 2004.9C1666.6 1999 1668.5 1993.6 1670.2 1987.4C1671.8 1981.1 1672.2 1974 1673.9 1967.4C1675.6 1960.7 1677.6 1954 1680.1 1947.4C1682.6 1940.7 1685.8 1934.1 1688.9 1927.4C1692 1920.7 1695.6 1913.6 1698.9 1907.4C1702.2 1901.2 1705.8 1895.3 1708.9 1889.9C1712 1884.5 1714.9 1879.9 1717.6 1874.9C1720.3 1869.9 1722.6 1864.9 1725.1 1859.9C1727.6 1854.9 1729.9 1849.9 1732.6 1844.9C1735.3 1839.9 1738.2 1834.3 1741.4 1829.9C1744.5 1825.6 1748 1821.6 1751.4 1818.7C1754.7 1815.8 1758.4 1813.6 1761.4 1812.4C1764.3 1811.3 1766.1 1811.3 1768.9 1811.9ZM1781.3 1932.4C1784.7 1933.1 1788.2 1933.8 1791.3 1936.1C1794.5 1938.4 1797.4 1942.2 1800.1 1946.1C1802.8 1950.1 1805.3 1954.7 1807.6 1959.9C1809.9 1965.1 1811.7 1971.1 1813.8 1977.4C1815.9 1983.6 1818 1990.7 1820.1 1997.4C1822.2 2004 1824.4 2010.7 1826.3 2017.3C1828.2 2024 1830.2 2030.7 1831.3 2037.3C1832.5 2044 1833.5 2051.1 1833.3 2057.3C1833.1 2063.6 1832.1 2069.6 1830.1 2074.8C1828.1 2080 1825.3 2084.8 1821.3 2088.6C1817.4 2092.3 1812.2 2095.3 1806.3 2097.3C1800.5 2099.3 1793.4 2100 1786.3 2100.3C1779.3 2100.6 1771.4 2100.2 1763.9 2099.3C1756.4 2098.4 1748.4 2096.8 1741.4 2094.8C1734.3 2092.8 1727.2 2090.6 1721.4 2087.3C1715.5 2084 1710 2079.4 1706.4 2074.8C1702.7 2070.2 1700.2 2064.8 1699.4 2059.8C1698.6 2054.8 1699.6 2049.8 1701.4 2044.8C1703.2 2039.8 1707 2034.8 1710.1 2029.8C1713.3 2024.8 1717.2 2020.3 1720.1 2014.8C1723 2009.4 1725.5 2003.2 1727.6 1997.4C1729.7 1991.5 1731 1985.7 1732.6 1979.9C1734.3 1974 1735.3 1967.8 1737.6 1962.4C1739.9 1957 1742.8 1951.8 1746.4 1947.4C1749.9 1943 1754.7 1938.7 1758.9 1936.1C1763 1933.6 1767.6 1932.5 1771.4 1931.9C1775.1 1931.3 1778 1931.7 1781.3 1932.4Z" fill="#FF9999" fill-opacity="0.85" fill-rule="evenodd"/>
<path d="M1781.3 1932.4C1784.7 1933.1 1788.2 1933.8 1791.3 1936.1C1794.5 1938.4 1797.4 1942.2 1800.1 1946.1C1802.8 1950.1 1805.3 1954.7 1807.6 1959.9C1809.9 1965.1 1811.7 1971.1 1813.8 1977.4C1815.9 1983.6 1818 1990.7 1820.1 1997.4C1822.2 2004 1824.4 2010.7 1826.3 2017.3C1828.2 2024 1830.2 2030.7 1831.3 2037.3C1832.5 2044 1833.5 2051.1 1833.3 2057.3C1833.1 2063.6 1832.1 2069.6 1830.1 2074.8C1828.1 2080 1825.3 2084.8 1821.3 2088.6C1817.4 2092.3 1812.2 2095.3 1806.3 2097.3C1800.5 2099.3 1793.4 2100 1786.3 2100.3C1779.3 2100.6 1771.4 2100.2 1763.9 2099.3C1756.4 2098.4 1748.4 2096.8 1741.4 2094.8C1734.3 2092.8 1727.2 2090.6 1721.4 2087.3C1715.5 2084 1710 2079.4 1706.4 2074.8C1702.7 2070.2 1700.2 2064.8 1699.4 2059.8C1698.6 2054.8 1699.6 2049.8 1701.4 2044.8C1703.2 2039.8 1707 2034.8 1710.1 2029.8C1713.3 2024.8 1717.2 2020.3 1720.1 2014.8C1723 2009.4 1725.5 2003.2 1727.6 1997.4C1729.7 1991.5 1731 1985.7 1732.6 1979.9C1734.3 1974 1735.3 1967.8 1737.6 1962.4C1739.9 1957 1742.8 1951.8 1746.4 1947.4C1749.9 1943 1754.7 1938.7 1758.9 1936.1C1763 1933.6 1767.6 1932.5 1771.4 1931.9C1775.1 1931.3 1778 1931.7 1781.3 1932.4Z" fill="#FF0000" stroke="#FF0000" stroke-width="1.2" opacity="0.85"/>
<path d="M1688.9 1750.5C1698.1 1750.3 1705.6 1751.1 1713.9 1752.5C1722.2 1753.9 1731 1756 1738.9 1758.7C1746.8 1761.4 1753.9 1764.8 1761.4 1768.7C1768.9 1772.7 1776.8 1777.3 1783.8 1782.5C1790.9 1787.7 1797.8 1793.7 1803.8 1800C1809.9 1806.2 1815.3 1812.9 1820.1 1819.9C1824.9 1827 1828.8 1834.9 1832.6 1842.4C1836.3 1849.9 1839.4 1857.4 1842.6 1864.9C1845.7 1872.4 1848.4 1879.9 1851.3 1887.4C1854.2 1894.9 1857.1 1902.8 1860.1 1909.9C1863 1917 1865.9 1923.2 1868.8 1929.9C1871.7 1936.6 1874.6 1943.2 1877.5 1949.9C1880.5 1956.5 1883.6 1962.8 1886.3 1969.9C1889 1976.9 1891.7 1984.4 1893.8 1992.4C1895.9 2000.3 1898 2009 1898.8 2017.3C1899.6 2025.7 1899.6 2034 1898.8 2042.3C1898 2050.7 1896.3 2059.4 1893.8 2067.3C1891.3 2075.2 1888 2082.7 1883.8 2089.8C1879.6 2096.9 1874.6 2103.6 1868.8 2109.8C1863 2116 1856.3 2122.3 1848.8 2127.3C1841.3 2132.3 1833 2136.5 1823.8 2139.8C1814.7 2143.1 1810.5 2145.2 1793.8 2147.3C1777.2 2149.4 1748 2151.9 1723.9 2152.3C1699.7 2152.7 1671.8 2152.3 1648.9 2149.8C1626 2147.3 1601.9 2142.3 1586.4 2137.3C1571 2132.3 1565.2 2125.6 1556.5 2119.8C1547.7 2114 1540.6 2108.5 1534 2102.3C1527.3 2096.1 1521.7 2089.4 1516.5 2082.3C1511.3 2075.2 1506.4 2067.3 1502.7 2059.8C1499.1 2052.3 1496.4 2044.8 1494.5 2037.3C1492.6 2029.8 1491.5 2022.3 1491.5 2014.8C1491.5 2007.3 1492.8 1999.9 1494.5 1992.4C1496.2 1984.9 1498.9 1977.4 1501.5 1969.9C1504.1 1962.4 1507.3 1954.9 1510.2 1947.4C1513.1 1939.9 1516.1 1932.4 1519 1924.9C1521.9 1917.4 1524.8 1909.9 1527.7 1902.4C1530.6 1894.9 1533.3 1887.4 1536.5 1879.9C1539.6 1872.4 1542.9 1864.9 1546.5 1857.4C1550 1849.9 1553.5 1842.4 1557.7 1834.9C1561.9 1827.4 1566.2 1819.5 1571.5 1812.4C1576.7 1805.4 1582.7 1798.7 1588.9 1792.5C1595.2 1786.2 1601.9 1780 1608.9 1775C1616 1770 1623.1 1766 1631.4 1762.5C1639.8 1758.9 1649.3 1755.7 1658.9 1753.7C1668.5 1751.7 1679.7 1750.7 1688.9 1750.5Z" fill="none" stroke="#00008B" stroke-opacity="0.62" stroke-width="1.9"/>
<path d="M1673.9 1773.7C1681 1774 1691 1774 1698.9 1775.5C1706.8 1776.9 1714.3 1779.6 1721.4 1782.5C1728.5 1785.3 1735.1 1788.7 1741.4 1792.5C1747.6 1796.2 1753.4 1800.8 1758.9 1805C1764.3 1809.1 1769.3 1812.9 1773.9 1817.4C1778.4 1822 1782.2 1827.4 1786.3 1832.4C1790.5 1837.4 1794.9 1842 1798.8 1847.4C1802.8 1852.8 1806.3 1859.1 1810.1 1864.9C1813.8 1870.8 1818 1876.6 1821.3 1882.4C1824.7 1888.2 1827.4 1893.7 1830.1 1899.9C1832.8 1906.1 1835.3 1913.2 1837.6 1919.9C1839.9 1926.6 1841.7 1933.2 1843.8 1939.9C1845.9 1946.5 1848 1953.2 1850.1 1959.9C1852.1 1966.5 1854.4 1973.2 1856.3 1979.9C1858.2 1986.5 1859.7 1993.2 1861.3 1999.9C1862.9 2006.5 1864.6 2013.2 1865.8 2019.8C1867.1 2026.5 1868.3 2033.2 1868.8 2039.8C1869.3 2046.5 1869.4 2053.2 1868.8 2059.8C1868.2 2066.5 1866.9 2073.6 1865.1 2079.8C1863.2 2086.1 1860.7 2091.9 1857.6 2097.3C1854.4 2102.7 1850.7 2107.7 1846.3 2112.3C1841.9 2116.9 1836.7 2121.4 1831.3 2124.8C1825.9 2128.2 1820.1 2130.7 1813.8 2132.8C1807.6 2134.9 1808.8 2136.1 1793.8 2137.3C1778.8 2138.4 1745.9 2139.8 1723.9 2139.8C1701.8 2139.8 1676.4 2138.9 1661.4 2137.3C1646.4 2135.6 1642.7 2132.7 1633.9 2129.8C1625.2 2126.9 1616.8 2123.5 1608.9 2119.8C1601 2116 1593.5 2111.9 1586.4 2107.3C1579.4 2102.7 1572.7 2097.7 1566.5 2092.3C1560.2 2086.9 1554 2081.1 1549 2074.8C1544 2068.6 1539.7 2061.9 1536.5 2054.8C1533.2 2047.7 1531.1 2039.8 1529.5 2032.3C1527.9 2024.8 1527.1 2017.3 1527 2009.8C1526.8 2002.4 1527.5 1994.9 1528.5 1987.4C1529.4 1979.9 1531.4 1972.4 1532.7 1964.9C1534.1 1957.4 1535.3 1949.9 1536.5 1942.4C1537.6 1934.9 1538.2 1927.4 1539.5 1919.9C1540.7 1912.4 1542.6 1904.5 1544 1897.4C1545.3 1890.3 1546 1884.5 1547.7 1877.4C1549.4 1870.3 1551.3 1862.4 1554 1854.9C1556.7 1847.4 1560 1839.5 1564 1832.4C1567.9 1825.4 1572.7 1818.5 1577.7 1812.4C1582.7 1806.4 1587.9 1801 1593.9 1796.2C1600 1791.4 1606.9 1787 1613.9 1783.7C1621 1780.4 1629.3 1777.9 1636.4 1776.2C1643.5 1774.5 1650.2 1774.1 1656.4 1773.7C1662.7 1773.3 1666.8 1773.4 1673.9 1773.7Z" fill="none" stroke="#FFD700" stroke-opacity="0.62" stroke-width="1.9"/>
<path d="M1768.9 1818.7C1772 1819 1774.5 1820.2 1777.6 1822.4C1780.7 1824.7 1784.3 1828.7 1787.6 1832.4C1790.9 1836.2 1794.3 1840.3 1797.6 1844.9C1800.9 1849.5 1804.3 1854.5 1807.6 1859.9C1810.9 1865.3 1814.5 1871.6 1817.6 1877.4C1820.7 1883.2 1823.6 1888.7 1826.3 1894.9C1829 1901.2 1831.5 1908.2 1833.8 1914.9C1836.1 1921.6 1838 1928.2 1840.1 1934.9C1842.1 1941.5 1844.4 1948.2 1846.3 1954.9C1848.2 1961.5 1849.7 1968.2 1851.3 1974.9C1852.9 1981.5 1854.5 1988.2 1855.8 1994.9C1857.1 2001.5 1858.3 2008.2 1859.3 2014.8C1860.3 2021.5 1861.4 2028.2 1861.8 2034.8C1862.2 2041.5 1862.5 2048.2 1861.8 2054.8C1861.1 2061.5 1859.7 2068.6 1857.6 2074.8C1855.4 2081.1 1852.4 2086.9 1848.8 2092.3C1845.3 2097.7 1840.9 2102.9 1836.3 2107.3C1831.7 2111.7 1826.7 2115.4 1821.3 2118.5C1815.9 2121.7 1810.1 2124.2 1803.8 2126C1797.6 2127.9 1790.5 2129.2 1783.8 2129.8C1777.2 2130.3 1770.5 2129.7 1763.9 2129.3C1757.2 2128.9 1750.5 2128.2 1743.9 2127.3C1737.2 2126.3 1730.5 2125 1723.9 2123.5C1717.2 2122.1 1710.5 2120.6 1703.9 2118.5C1697.2 2116.5 1690.1 2113.8 1683.9 2111C1677.6 2108.3 1671.8 2105.8 1666.4 2102.3C1661 2098.8 1655.6 2094.4 1651.4 2089.8C1647.2 2085.2 1643.9 2080.2 1641.4 2074.8C1638.9 2069.4 1637 2063.2 1636.4 2057.3C1635.8 2051.5 1636.2 2045.7 1637.7 2039.8C1639.1 2034 1642 2028.2 1645.2 2022.3C1648.3 2016.5 1653.1 2009.8 1656.4 2004.9C1659.7 1999.9 1663.1 1997.4 1665.2 1992.4C1667.2 1987.4 1667.4 1981.1 1668.9 1974.9C1670.4 1968.6 1671.8 1961.5 1673.9 1954.9C1676 1948.2 1678.7 1941.5 1681.4 1934.9C1684.1 1928.2 1687.4 1921.6 1690.1 1914.9C1692.8 1908.2 1694.9 1901.2 1697.6 1894.9C1700.3 1888.7 1703.1 1882.8 1706.4 1877.4C1709.7 1872 1713.9 1867 1717.6 1862.4C1721.4 1857.8 1725.3 1854.1 1728.9 1849.9C1732.4 1845.8 1735.5 1841.2 1738.9 1837.4C1742.2 1833.7 1745.5 1830.3 1748.9 1827.4C1752.2 1824.6 1755.5 1821.9 1758.9 1820.4C1762.2 1819 1765.7 1818.4 1768.9 1818.7Z" fill="none" stroke="#00FF00" stroke-opacity="0.62" stroke-width="1.9"/>
<path d="M1768.9 1811.9C1771.6 1812.6 1774.5 1813.8 1777.6 1816.2C1780.7 1818.6 1784.3 1822.2 1787.6 1826.2C1790.9 1830.1 1794.3 1835.1 1797.6 1839.9C1800.9 1844.7 1804.3 1849.5 1807.6 1854.9C1810.9 1860.3 1814.5 1866.4 1817.6 1872.4C1820.7 1878.5 1823.6 1884.7 1826.3 1891.2C1829 1897.6 1831.5 1904.5 1833.8 1911.1C1836.1 1917.8 1838.1 1924.5 1840.1 1931.1C1842.1 1937.8 1844.1 1944.5 1845.8 1951.1C1847.5 1957.8 1848.7 1964.5 1850.1 1971.1C1851.4 1977.8 1852.8 1984.4 1853.8 1991.1C1854.9 1997.8 1855.7 2004.4 1856.3 2011.1C1856.9 2017.8 1857.6 2024.4 1857.6 2031.1C1857.6 2037.8 1857.3 2044.4 1856.3 2051.1C1855.3 2057.7 1853.6 2064.8 1851.3 2071.1C1849 2077.3 1846.1 2083.4 1842.6 2088.6C1839 2093.8 1834.7 2098.3 1830.1 2102.3C1825.5 2106.3 1820.5 2109.8 1815.1 2112.3C1809.7 2114.8 1803.6 2116.3 1797.6 2117.3C1791.5 2118.3 1785.3 2118.6 1778.8 2118.5C1772.4 2118.5 1765.5 2117.4 1758.9 2116.8C1752.2 2116.2 1745.5 2115.5 1738.9 2114.8C1732.2 2114 1725.5 2113.5 1718.9 2112.3C1712.2 2111 1705.1 2109.2 1698.9 2107.3C1692.6 2105.4 1687 2103.6 1681.4 2101.1C1675.8 2098.6 1670.2 2095.6 1665.2 2092.3C1660.2 2089 1655 2085.2 1651.4 2081.1C1647.9 2076.9 1645.6 2072.1 1643.9 2067.3C1642.2 2062.5 1641.2 2057.3 1641.4 2052.3C1641.6 2047.3 1643.1 2042.3 1645.2 2037.3C1647.2 2032.3 1650.8 2027.8 1653.9 2022.3C1657 2016.9 1661.2 2010.7 1663.9 2004.9C1666.6 1999 1668.5 1993.6 1670.2 1987.4C1671.8 1981.1 1672.2 1974 1673.9 1967.4C1675.6 1960.7 1677.6 1954 1680.1 1947.4C1682.6 1940.7 1685.8 1934.1 1688.9 1927.4C1692 1920.7 1695.6 1913.6 1698.9 1907.4C1702.2 1901.2 1705.8 1895.3 1708.9 1889.9C1712 1884.5 1714.9 1879.9 1717.6 1874.9C1720.3 1869.9 1722.6 1864.9 1725.1 1859.9C1727.6 1854.9 1729.9 1849.9 1732.6 1844.9C1735.3 1839.9 1738.2 1834.3 1741.4 1829.9C1744.5 1825.6 1748 1821.6 1751.4 1818.7C1754.7 1815.8 1758.4 1813.6 1761.4 1812.4C1764.3 1811.3 1766.1 1811.3 1768.9 1811.9Z" fill="none" stroke="#FF0000" stroke-opacity="0.62" stroke-width="1.9"/>
</g>
<g clip-path="url(#cp44)">
<path d="M1887.2 2131.3C1888.5 2130.8 1892.4 2130.5 1894.7 2128.5C1897 2126.6 1899.1 2123.7 1901 2119.8C1902.8 2115.8 1904.3 2111.5 1906 2104.8C1907.6 2098.1 1909.3 2090.2 1911 2079.8C1912.6 2069.4 1914.3 2055.7 1916 2042.3C1917.6 2029 1919.3 2014.4 1921 1999.9C1922.6 1985.3 1924.3 1969.9 1926 1954.9C1927.6 1939.9 1929.3 1924.5 1931 1909.9C1932.6 1895.3 1934.3 1881.2 1936 1867.4C1937.6 1853.7 1939.3 1839.5 1941 1827.4C1942.6 1815.4 1944.3 1804.5 1945.9 1795C1947.6 1785.4 1949.3 1776.6 1950.9 1770C1952.6 1763.3 1954.5 1758.3 1955.9 1755C1957.4 1751.6 1958.4 1751.1 1959.7 1750C1960.9 1748.9 1962.2 1748.6 1963.4 1748.5C1964.7 1748.4 1965.9 1748.4 1967.2 1749.2C1968.4 1750.1 1969.5 1751.1 1970.9 1753.7C1972.4 1756.3 1974.3 1760.6 1975.9 1765C1977.6 1769.3 1979.3 1774.1 1980.9 1780C1982.6 1785.8 1984.3 1793.7 1985.9 1800C1987.6 1806.2 1989.3 1811.6 1990.9 1817.4C1992.6 1823.3 1993.8 1828.7 1995.9 1834.9C1998 1841.2 2000.1 1847 2003.4 1854.9C2006.8 1862.8 2011.7 1873.2 2015.9 1882.4C2020.1 1891.6 2024.2 1900.7 2028.4 1909.9C2032.6 1919.1 2036.7 1928.2 2040.9 1937.4C2045.1 1946.5 2049.2 1955.7 2053.4 1964.9C2057.6 1974 2061.7 1983.6 2065.9 1992.4C2070.1 2001.1 2075 2010.7 2078.4 2017.3C2081.7 2024 2083.4 2028.2 2085.9 2032.3C2088.4 2036.5 2090.9 2039.5 2093.4 2042.3C2095.9 2045.2 2098.4 2047.5 2100.9 2049.3C2103.4 2051.2 2105.9 2052.6 2108.4 2053.6C2110.9 2054.6 2112.5 2055.1 2115.9 2055.3C2119.2 2055.5 2124.2 2055.3 2128.4 2054.8C2132.5 2054.3 2137.5 2053 2140.9 2052.3C2144.2 2051.7 2145.8 2051 2148.3 2051.1C2150.8 2051.2 2152.9 2051.2 2155.8 2052.8C2158.8 2054.5 2162.5 2057.8 2165.8 2061.1C2169.2 2064.3 2172.5 2068.4 2175.8 2072.3C2179.2 2076.3 2182.5 2081.5 2185.8 2084.8C2189.2 2088.1 2192.5 2090.7 2195.8 2092.3C2199.2 2093.9 2202.5 2094 2205.8 2094.3C2209.1 2094.6 2212.1 2094.2 2215.8 2094.3C2219.6 2094.4 2225 2093.9 2228.3 2094.8C2231.6 2095.7 2232.9 2097.3 2235.8 2099.8C2238.7 2102.3 2242.5 2106.5 2245.8 2109.8C2249.1 2113.1 2252.5 2116.9 2255.8 2119.8C2259.1 2122.7 2262 2125.4 2265.8 2127.3C2269.5 2129.2 2273.7 2130.2 2278.3 2131C2282.9 2131.9 2290.8 2132.1 2293.3 2132.3" fill="none" stroke="#00008B" stroke-width="7.2" stroke-linejoin="round" stroke-linecap="butt"/>
<path d="M1887.2 2132.3C1889.9 2132.2 1899.7 2132.3 1903.5 2131.8C1907.2 2131.3 1908 2131.3 1909.7 2129.3C1911.5 2127.3 1912.6 2124.7 1914 2119.8C1915.3 2114.9 1916.7 2108.5 1918 2099.8C1919.2 2091.1 1920.2 2083.1 1921.5 2067.3C1922.7 2051.5 1924.1 2027.8 1925.5 2004.9C1926.8 1981.9 1928.1 1954 1929.5 1929.9C1930.8 1905.7 1932.2 1880.7 1933.5 1859.9C1934.7 1839.1 1936 1819.9 1937.2 1805C1938.5 1790 1939.7 1778.4 1941 1770C1942.2 1761.6 1943.7 1757.8 1944.7 1754.5C1945.7 1751.1 1946.3 1750.9 1946.9 1750C1947.6 1749 1947.8 1748.7 1948.4 1748.7C1949.1 1748.7 1950.1 1749 1950.9 1750C1951.8 1750.9 1952.4 1751.6 1953.4 1754.5C1954.5 1757.4 1955.7 1761.1 1957.2 1767.5C1958.6 1773.8 1960.5 1783.3 1962.2 1792.5C1963.9 1801.6 1965.5 1812.4 1967.2 1822.4C1968.9 1832.4 1970.5 1844.9 1972.2 1852.4C1973.9 1859.9 1975.1 1864.3 1977.2 1867.4C1979.3 1870.5 1981.6 1870.5 1984.7 1871.2C1987.8 1871.8 1992.8 1869.7 1995.9 1871.2C1999 1872.6 2000.9 1875.1 2003.4 1879.9C2005.9 1884.7 2008 1892.4 2010.9 1899.9C2013.8 1907.4 2017.6 1917.4 2020.9 1924.9C2024.2 1932.4 2027.6 1939 2030.9 1944.9C2034.2 1950.7 2038 1954.5 2040.9 1959.9C2043.8 1965.3 2045.9 1971.1 2048.4 1977.4C2050.9 1983.6 2053.4 1990.7 2055.9 1997.4C2058.4 2004 2060.9 2011.9 2063.4 2017.3C2065.9 2022.8 2068.4 2026.7 2070.9 2029.8C2073.4 2033 2075.9 2035.3 2078.4 2036.1C2080.9 2036.9 2083.4 2035.9 2085.9 2034.8C2088.4 2033.8 2090.9 2031.2 2093.4 2029.8C2095.9 2028.5 2098.4 2026.4 2100.9 2026.8C2103.4 2027.3 2105.9 2029.3 2108.4 2032.3C2110.9 2035.3 2113.4 2040.2 2115.9 2044.8C2118.4 2049.4 2120.9 2055.2 2123.4 2059.8C2125.9 2064.4 2128.4 2068.8 2130.9 2072.3C2133.4 2075.9 2135.9 2079 2138.4 2081.1C2140.9 2083.1 2143.3 2084.4 2145.8 2084.8C2148.3 2085.2 2150.4 2084.6 2153.3 2083.6C2156.3 2082.5 2160 2080 2163.3 2078.6C2166.7 2077.1 2170.4 2075.4 2173.3 2074.8C2176.2 2074.2 2178.3 2074 2180.8 2074.8C2183.3 2075.6 2185.8 2077.3 2188.3 2079.8C2190.8 2082.3 2192.9 2086.5 2195.8 2089.8C2198.7 2093.1 2202.5 2096.9 2205.8 2099.8C2209.1 2102.7 2212.1 2104.8 2215.8 2107.3C2219.6 2109.8 2224.1 2112.3 2228.3 2114.8C2232.5 2117.3 2236.6 2120 2240.8 2122.3C2245 2124.6 2249.1 2127 2253.3 2128.5C2257.5 2130 2259.1 2130.7 2265.8 2131.3C2272.5 2131.9 2288.7 2132.1 2293.3 2132.3" fill="none" stroke="#FFFF00" stroke-width="7.2" stroke-linejoin="round" stroke-linecap="butt"/>
<path d="M1887.2 2132.3C1889.7 2132.2 1898.5 2132.2 1902.2 2131.8C1906 2131.4 1907.6 2131.4 1909.7 2129.8C1911.8 2128.2 1913.3 2126.5 1914.7 2122.3C1916.2 2118.1 1917.2 2114 1918.5 2104.8C1919.7 2095.6 1921 2084 1922.2 2067.3C1923.5 2050.7 1924.7 2027.8 1926 2004.9C1927.2 1981.9 1928.5 1954 1929.7 1929.9C1931 1905.7 1932.2 1880.7 1933.5 1859.9C1934.7 1839.1 1936 1819.9 1937.2 1805C1938.5 1790 1939.7 1778.4 1941 1770C1942.2 1761.6 1943.6 1757.8 1944.7 1754.5C1945.8 1751.1 1946.7 1750.9 1947.4 1750C1948.2 1749 1948.6 1748.6 1949.4 1748.7C1950.3 1748.8 1951.4 1749.4 1952.4 1750.5C1953.4 1751.5 1954.4 1752.1 1955.4 1755C1956.5 1757.8 1957.5 1761.2 1958.9 1767.5C1960.4 1773.7 1962.3 1783.3 1963.9 1792.5C1965.6 1801.6 1967.3 1812 1968.9 1822.4C1970.6 1832.9 1972.3 1844.9 1973.9 1854.9C1975.6 1864.9 1977.3 1873.7 1978.9 1882.4C1980.6 1891.2 1982.3 1899.9 1983.9 1907.4C1985.6 1914.9 1987.3 1921.1 1988.9 1927.4C1990.6 1933.6 1991.9 1938.6 1993.9 1944.9C1995.9 1951.1 1998.5 1958.2 2000.9 1964.9C2003.3 1971.5 2005.9 1979 2008.4 1984.9C2010.9 1990.7 2013.4 1995.3 2015.9 1999.9C2018.4 2004.4 2020.9 2008.9 2023.4 2012.3C2025.9 2015.8 2028 2018.1 2030.9 2020.3C2033.8 2022.6 2037.2 2024.5 2040.9 2026.1C2044.6 2027.7 2050.1 2028.4 2053.4 2029.8C2056.7 2031.3 2058.4 2031.9 2060.9 2034.8C2063.4 2037.8 2065.9 2042.7 2068.4 2047.3C2070.9 2051.9 2073.4 2057.3 2075.9 2062.3C2078.4 2067.3 2080.9 2073.1 2083.4 2077.3C2085.9 2081.5 2088.4 2085 2090.9 2087.3C2093.4 2089.6 2095.9 2090.6 2098.4 2091.1C2100.9 2091.5 2103 2090.2 2105.9 2089.8C2108.8 2089.4 2112.5 2088.2 2115.9 2088.6C2119.2 2088.9 2122.5 2089.9 2125.9 2091.8C2129.2 2093.7 2132.5 2096.6 2135.9 2099.8C2139.2 2103 2142.5 2107.9 2145.8 2111C2149.2 2114.2 2152.5 2116.3 2155.8 2118.5C2159.2 2120.8 2162.1 2123.3 2165.8 2124.8C2169.6 2126.2 2174.2 2126.8 2178.3 2127.3C2182.5 2127.8 2186.7 2127.4 2190.8 2127.8C2195 2128.2 2198.3 2129.1 2203.3 2129.8C2208.3 2130.5 2205.8 2131.4 2220.8 2131.8C2235.8 2132.2 2281.2 2132.2 2293.3 2132.3" fill="none" stroke="#00FF00" stroke-width="7.2" stroke-linejoin="round" stroke-linecap="butt"/>
<path d="M1887.2 2132.3C1889.9 2132.2 1899.5 2132.2 1903.5 2131.8C1907.4 2131.4 1908.9 2131.4 1911 2129.8C1913 2128.2 1914.5 2126.5 1916 2122.3C1917.4 2118.1 1918.5 2114 1919.7 2104.8C1921 2095.6 1922.2 2084 1923.5 2067.3C1924.7 2050.7 1926 2027.8 1927.2 2004.9C1928.5 1981.9 1929.7 1954 1931 1929.9C1932.2 1905.7 1933.5 1880.7 1934.7 1859.9C1936 1839.1 1937.2 1819.9 1938.5 1805C1939.7 1790 1941 1778.4 1942.2 1770C1943.4 1761.6 1944.9 1757.8 1945.9 1754.5C1947 1751.1 1947.7 1750.9 1948.4 1750C1949.2 1749 1949.8 1748.7 1950.4 1748.7C1951.1 1748.7 1951.7 1749.1 1952.4 1750C1953.2 1750.8 1953.7 1750.8 1954.7 1753.7C1955.7 1756.6 1957 1761 1958.4 1767.5C1959.9 1773.9 1961.8 1783.3 1963.4 1792.5C1965.1 1801.6 1966.8 1812 1968.4 1822.4C1970.1 1832.9 1971.8 1844.9 1973.4 1854.9C1975.1 1864.9 1976.8 1873.7 1978.4 1882.4C1980.1 1891.2 1981.8 1899.9 1983.4 1907.4C1985.1 1914.9 1986.8 1921.1 1988.4 1927.4C1990.1 1933.6 1991.8 1939.9 1993.4 1944.9C1995.1 1949.9 1996.3 1953.4 1998.4 1957.4C2000.5 1961.3 2003 1964.9 2005.9 1968.6C2008.8 1972.4 2012.6 1975.5 2015.9 1979.9C2019.2 1984.2 2022.6 1990.3 2025.9 1994.9C2029.2 1999.4 2032.6 2003.8 2035.9 2007.3C2039.2 2010.9 2042.6 2013.6 2045.9 2016.1C2049.2 2018.6 2053 2020.5 2055.9 2022.3C2058.8 2024.2 2060.9 2024.8 2063.4 2027.3C2065.9 2029.8 2068.4 2032.8 2070.9 2037.3C2073.4 2041.9 2075.9 2049.4 2078.4 2054.8C2080.9 2060.2 2083.4 2065.2 2085.9 2069.8C2088.4 2074.4 2090.9 2079 2093.4 2082.3C2095.9 2085.6 2098.4 2087.7 2100.9 2089.8C2103.4 2091.9 2105.9 2093.2 2108.4 2094.8C2110.9 2096.4 2113.4 2098.4 2115.9 2099.3C2118.4 2100.2 2120.9 2100 2123.4 2100.3C2125.9 2100.6 2127.9 2100.1 2130.9 2101.1C2133.8 2102 2137.1 2104 2140.9 2106C2144.6 2108.1 2149.2 2111.5 2153.3 2113.5C2157.5 2115.6 2161.7 2116.9 2165.8 2118.5C2170 2120.2 2174.2 2122.3 2178.3 2123.5C2182.5 2124.8 2187.1 2125.7 2190.8 2126C2194.6 2126.3 2197.5 2125.3 2200.8 2125.3C2204.2 2125.3 2207.5 2125.4 2210.8 2126C2214.1 2126.7 2216.6 2128.4 2220.8 2129.3C2225 2130.2 2223.7 2130.8 2235.8 2131.3C2247.9 2131.8 2283.7 2132.1 2293.3 2132.3" fill="none" stroke="#FF0000" stroke-width="7.2" stroke-linejoin="round" stroke-linecap="butt"/>
</g>
<path d="M312.5 442.6v-11.5M485.8 442.6v-11.5M312.5 865.1v-11.5M312.5 442.6v11.5M485.8 865.1v-11.5M485.8 442.6v11.5M254.6 601.9h11.5M662.3 601.9h-11.5M254.6 730.4h11.5M662.3 730.4h-11.5M793.1 865.1v-11.5M916.7 865.1v-11.5M312.5 1287.3v-11.5M312.5 865.1v11.5M485.8 1287.3v-11.5M485.8 865.1v11.5M254.6 941.3h11.5M662.3 941.3h-11.5M254.6 1094.5h11.5M662.3 1094.5h-11.5M793.1 1287.3v-11.5M793.1 865.1v11.5M916.7 1287.3v-11.5M916.7 865.1v11.5M662.3 941.3h11.5M1070.4 941.3h-11.5M662.3 1094.5h11.5M1070.4 1094.5h-11.5M1256.3 1287.3v-11.5M1404.2 1287.3v-11.5M312.5 1710v-11.5M312.5 1287.3v11.5M485.8 1710v-11.5M485.8 1287.3v11.5M254.6 1388h11.5M662.3 1388h-11.5M254.6 1535.8h11.5M662.3 1535.8h-11.5M793.1 1710v-11.5M793.1 1287.3v11.5M916.7 1710v-11.5M916.7 1287.3v11.5M662.3 1388h11.5M1070.4 1388h-11.5M662.3 1535.8h11.5M1070.4 1535.8h-11.5M1256.3 1710v-11.5M1256.3 1287.3v11.5M1404.2 1710v-11.5M1404.2 1287.3v11.5M1070.4 1388h11.5M1478.5 1388h-11.5M1070.4 1535.8h11.5M1478.5 1535.8h-11.5M1575.5 1710v-11.5M1789.7 1710v-11.5M312.5 2132.4v-11.5M312.5 1710v11.5M485.8 2132.4v-11.5M485.8 1710v11.5M254.6 1783.3h11.5M662.3 1783.3h-11.5M254.6 1919.6h11.5M662.3 1919.6h-11.5M254.6 2056h11.5M662.3 2056h-11.5M793.1 2132.4v-11.5M793.1 1710v11.5M916.7 2132.4v-11.5M916.7 1710v11.5M662.3 1783.3h11.5M1070.4 1783.3h-11.5M662.3 1919.6h11.5M1070.4 1919.6h-11.5M662.3 2056h11.5M1070.4 2056h-11.5M1256.3 2132.4v-11.5M1256.3 1710v11.5M1404.2 2132.4v-11.5M1404.2 1710v11.5M1070.4 1783.3h11.5M1478.5 1783.3h-11.5M1070.4 1919.6h11.5M1478.5 1919.6h-11.5M1070.4 2056h11.5M1478.5 2056h-11.5M1575.5 2132.4v-11.5M1575.5 1710v11.5M1789.7 2132.4v-11.5M1789.7 1710v11.5M1478.5 1783.3h11.5M1885.9 1783.3h-11.5M1478.5 1919.6h11.5M1885.9 1919.6h-11.5M1478.5 2056h11.5M1885.9 2056h-11.5M1992.7 2132.4v-11.5M2190.2 2132.4v-11.5" stroke="#000" stroke-width="2.7" fill="none"/>
<path d="M254.6 20.3H662.3V442.6H254.6ZM254.6 442.6H662.3V865.1H254.6ZM662.3 442.6H1070.4V865.1H662.3ZM254.6 865.1H662.3V1287.3H254.6ZM662.3 865.1H1070.4V1287.3H662.3ZM1070.4 865.1H1478.5V1287.3H1070.4ZM254.6 1287.3H662.3V1710H254.6ZM662.3 1287.3H1070.4V1710H662.3ZM1070.4 1287.3H1478.5V1710H1070.4ZM1478.5 1287.3H1885.9V1710H1478.5ZM254.6 1710H662.3V2132.4H254.6ZM662.3 1710H1070.4V2132.4H662.3ZM1070.4 1710H1478.5V2132.4H1070.4ZM1478.5 1710H1885.9V2132.4H1478.5ZM1885.9 1710H2293.4V2132.4H1885.9Z" stroke="#000" stroke-width="3.1" fill="none" stroke-linejoin="miter"/>
<text><tspan x="272.68 314.04" y="2195.45" font-size="65">60</tspan></text>
<text><tspan x="445.54 486.89" y="2195.45" font-size="65">70</tspan></text>
<text><tspan x="746.63 787.98 805.14" y="2195.45" font-size="65">0.2</tspan></text>
<text><tspan x="868.12 909.48 930.14" y="2195.45" font-size="65">0.3</tspan></text>
<text><tspan x="1210.3 1251.65 1267.32" y="2195.45" font-size="65">0.7</tspan></text>
<text><tspan x="1355.82 1397.17 1416.09" y="2195.45" font-size="65">0.8</tspan></text>
<text><tspan x="1498.34 1552.8 1594.16 1614.82" y="2195.59" font-size="65">−1.1</tspan></text>
<text><tspan x="1712.89 1767.35 1808.7 1827.62" y="2195.45" font-size="65">−0.8</tspan></text>
<text><tspan x="1916.69 1971.15 2012.51 2033.17" y="2195.45" font-size="65">−0.3</tspan></text>
<text><tspan x="2141.42 2182.78 2203.44" y="2195.45" font-size="65">0.3</tspan></text>
<text><tspan x="144.23 185.59 206.25" y="626.5" font-size="65">0.3</tspan></text>
<text><tspan x="149.03 190.39 207.55" y="755" font-size="65">0.2</tspan></text>
<text><tspan x="145.22 186.58 205.49" y="966.2" font-size="65">0.8</tspan></text>
<text><tspan x="149.58 190.94 206.6" y="1119.8" font-size="65">0.7</tspan></text>
<text><tspan x="90.76 145.22 186.58 205.49" y="1413.45" font-size="65">−0.8</tspan></text>
<text><tspan x="88.88 143.34 184.7 205.36" y="1561" font-size="65">−1.0</tspan></text>
<text><tspan x="142.68 184.03 204.69" y="1807.6" font-size="65">0.4</tspan></text>
<text><tspan x="143.34 184.7 205.36" y="1944.95" font-size="65">0.0</tspan></text>
<text><tspan x="88.22 142.68 184.03 204.69" y="2081.65" font-size="65">−0.4</tspan></text>
<text><tspan x="190.84" y="2285.76" font-size="65" class="it">H</tspan><tspan x="239.71" y="2296.42" font-size="45.5">0</tspan><tspan x="270.44" y="2285.76" font-size="65">(</tspan><tspan x="295.8 333.44 396.76" y="2285.76" font-size="65" class="it">kms</tspan><tspan x="433.64 471.77" y="2260.87" font-size="45.5">−1</tspan><tspan x="502.49 558.58 599.84" y="2285.76" font-size="65" class="it">Mpc</tspan><tspan x="638.6 676.72" y="2260.87" font-size="45.5">−1</tspan><tspan x="707.45" y="2285.76" font-size="65">)</tspan></text>
<text><tspan x="820.91" y="2286.65" font-size="65">Ω</tspan><tspan x="871.2" y="2297.32" font-size="45.5" class="it">m</tspan></text>
<text><tspan x="1233.29" y="2286.65" font-size="65">Ω</tspan><tspan x="1283.58" y="2297.32" font-size="45.5">Λ</tspan></text>
<text><tspan x="1642.09" y="2286.25" font-size="65" class="it">w</tspan><tspan x="1695.26" y="2296.91" font-size="45.5">0</tspan></text>
<text><tspan x="2050.77" y="2286.25" font-size="65" class="it">w</tspan><tspan x="2103.93" y="2296.91" font-size="45.5" class="it">a</tspan></text>
<text transform="translate(116 653.1) rotate(-90)"><tspan x="-48.5" y="-0.05" font-size="65">Ω</tspan><tspan x="1.79" y="10.62" font-size="45.5" class="it">m</tspan></text>
<text transform="translate(116 1075.4) rotate(-90)"><tspan x="-42" y="-0.05" font-size="65">Ω</tspan><tspan x="8.29" y="10.62" font-size="45.5">Λ</tspan></text>
<text transform="translate(60.5 1497.2) rotate(-90)"><tspan x="-42" y="-0.45" font-size="65" class="it">w</tspan><tspan x="11.16" y="10.21" font-size="45.5">0</tspan></text>
<text transform="translate(60.5 1919.5) rotate(-90)"><tspan x="-41.5" y="-0.45" font-size="65" class="it">w</tspan><tspan x="11.66" y="10.21" font-size="45.5" class="it">a</tspan></text>
<rect x="887" y="48" width="126" height="45.8" fill="#00008B"/>
<text x="1060.3" y="91.6" font-size="61.5">BAO</text>
<rect x="887" y="139" width="126" height="45.8" fill="#FFD700"/>
<text x="1060.3" y="182.6" font-size="61.5">BAO + R22</text>
<rect x="887" y="230" width="126" height="45.8" fill="#00FF00"/>
<text x="1060.3" y="273.6" font-size="61.5">CC + BAO + Pantheon-QSR-GRB</text>
<rect x="887" y="321" width="126" height="45.8" fill="#FF0000"/>
<text x="1060.3" y="364.6" font-size="61.5">CC + Pantheon-QSR-GRB + BAO + R22</text>
</svg></body></html>
